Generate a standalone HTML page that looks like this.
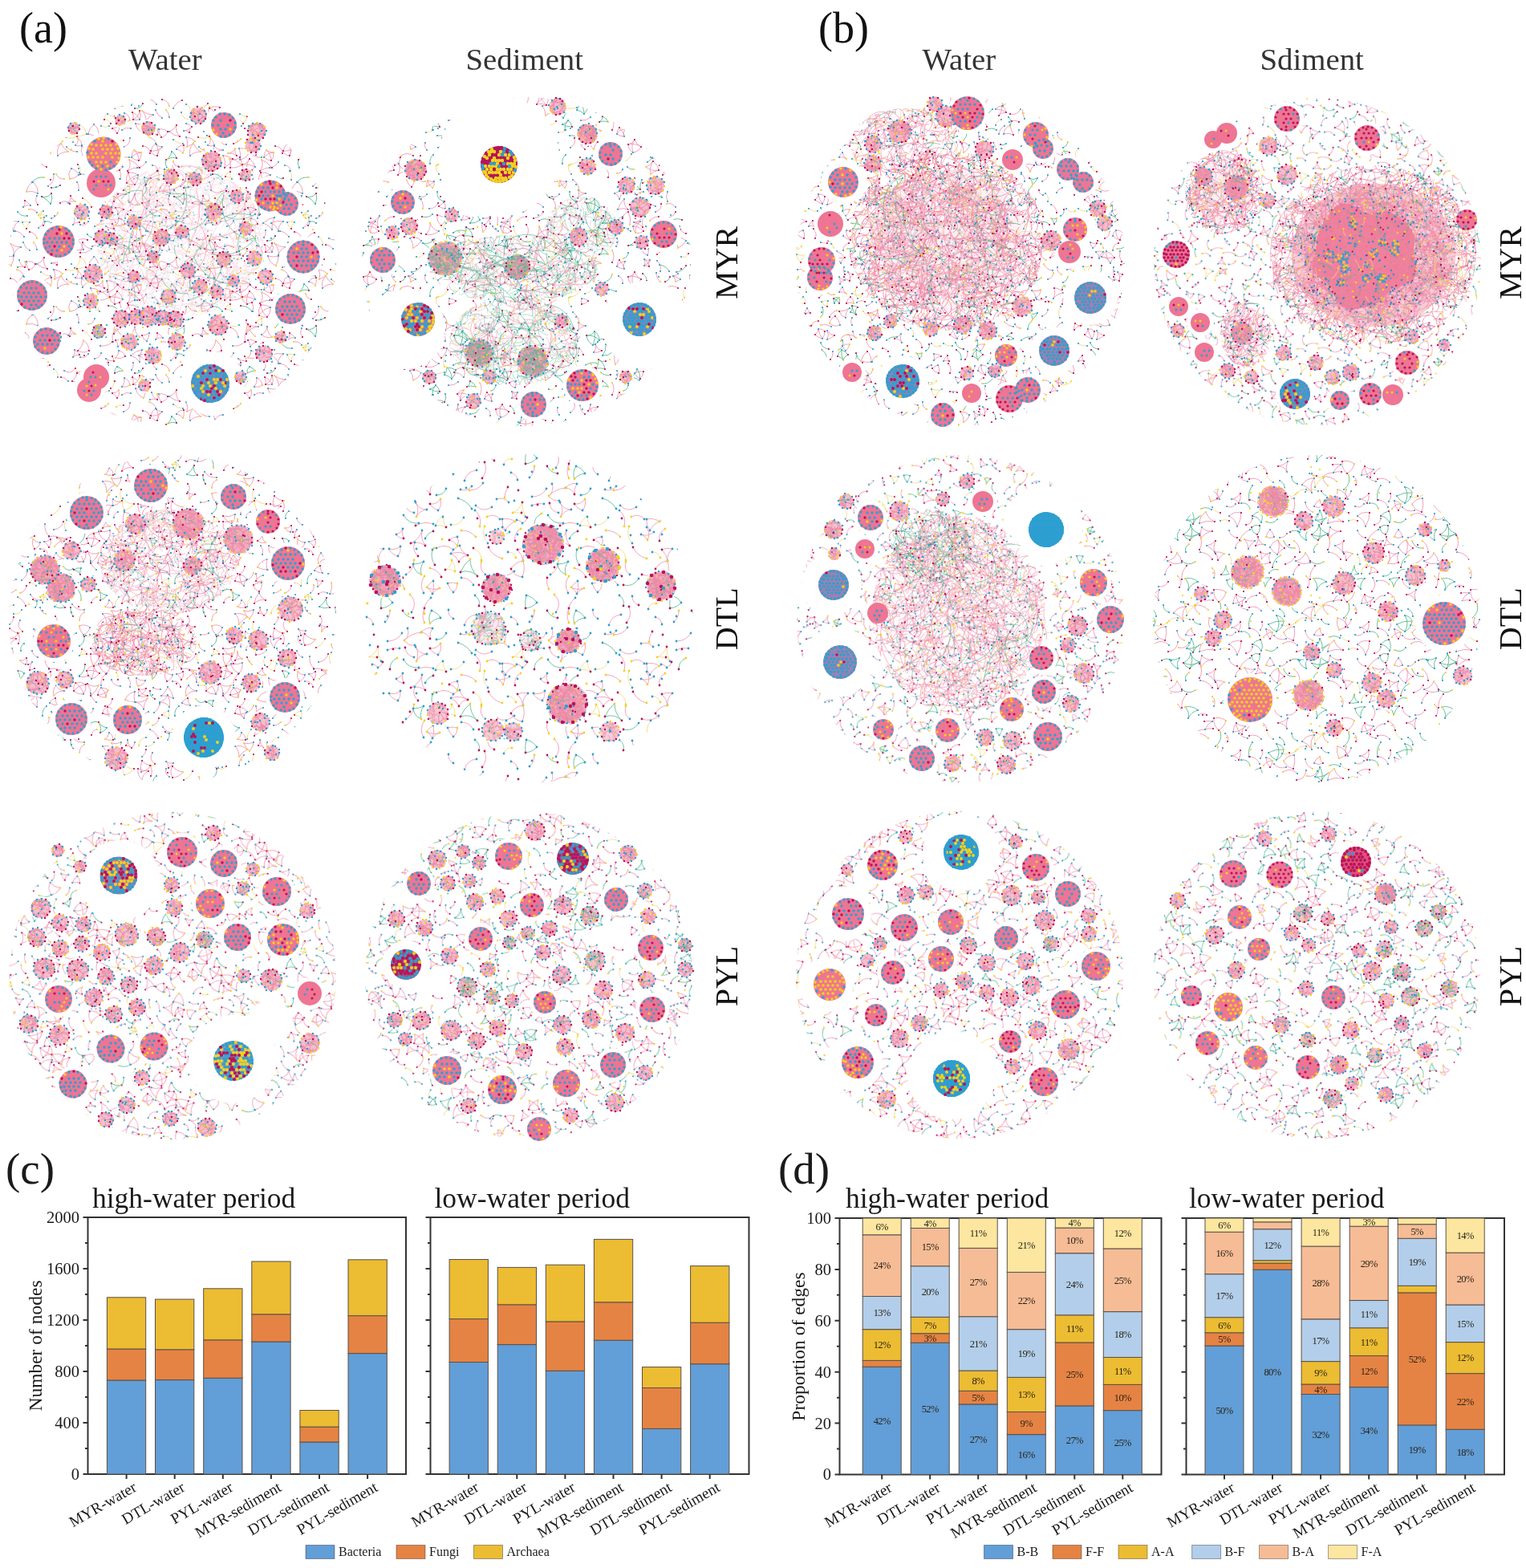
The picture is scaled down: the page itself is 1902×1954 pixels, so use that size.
<!DOCTYPE html>
<html><head><meta charset="utf-8"><title>Network figure</title>
<style>html,body{margin:0;padding:0;background:#fff;}body{width:1902px;height:1954px;overflow:hidden;}svg{display:block;}</style>
</head><body>
<svg width="1902" height="1954" viewBox="0 0 1902 1954">
<rect width="1902" height="1954" fill="#fff"/>
<defs><pattern id="T1" patternUnits="userSpaceOnUse" width="165" height="165"><path d="M-3-14q7 2 13 0m-13 0q2 9 10 12m3-12q0 6-3 12m53-12q4 0 7 4m43-3q6 4 6 13m-6-13q-6 5-7 12m59-13q7 2 13 0m-13 0q2 9 10 12m3-12q0 6-3 12m-155-7q1 6 7 9m0-7q2 3 0 7m2-7q7-1 11 3m2 0q6-2 9-8m-9 8q5 5 13 6m-4-14q-2 8 4 14m5-7q6 0 10-5m-10 5q4-1 7 2m3-7q-3 3-3 7m75 1q-2-4-6-6m8-4q2 6-2 10m2-10q-3 4-8 4m12 2q5-4 11-2m-132 8q-4-2-9 0m14 3q-4-5-3-10m3 10q6-1 8-7m23 7q6 0 11 5m-2 3q3 6 9 10m-9-10q-6 6-4 15m25-22q5 4 5 9m8-6q2 6 7 5m6-12q-6 2-13-1m16 12q6-1 9-6m-124 17q1 6-3 10m3-10q-7 0-12 6m12-6q-5 0-9-3m11-5q9 1 9 9m1-3q1-6 6-9m1 1q-2-7-9-9m16 12q-5 4-6 11m6-11q-6 6-14 5m14-5q-5 0-8-4m26 7q3-5 9-5m-1 10q-2-4-8-5m8 5q2-4 1-10m4 2q2-6-1-12m1 12q6-2 10-7m7 13q-8 0-13 5m22-13q4-3 3-9m-3 9q4 2 8 0m-6 8q-8 0-13-6m19-1q4 5 11 5m-11-5q-2 6 1 11m10-6q-7 0-10 6m25-8q-1 5 2 9m-2-9q-3 6-9 6m14-6q8-1 13 4m-13-4q3 7 1 14m12-10q-4 9-12 10m13-9q5 7 14 6m-7-13q8-2 8-11m14 18q1 6-3 10m3-10q-7 0-12 6m12-6q-5 0-9-3m11-5q9 1 9 9m-188 5q0-5 3-9m6 13q-5 0-9-4m9 4q0-8-6-13m15 15q-4 6-11 7m25-15q-6 0-8-6m8 6q3-8-2-15m92 19q7 3 13-2m-9 2q-3 7-10 11m10-11q-5-4-12-4m17 0q-5-4-11-3m27 7q6 4 7 10m11-12q0-5 3-9m6 13q-5 0-9-4m9 4q0-8-6-13m15 15q-4 6-11 7m-177 4q5-6 2-14m13 10q-8-1-15 4m15-4q-5-7-13-10m36 14q-1-7-7-7m33 2q-6-1-7-7m38 9q7 2 9 8m17-9q2-8-2-15m9 15q1-6-1-11m15 8q-7 4-14 3m14-3q-6-8-15-8m15 8q1-5-2-10m3 9q6-1 9-7m-9 7q8-1 16 3m-10 6q-6-3-6-9m6 9q-2-8 3-16m-3 16q6-1 10-6m6 5q5-6 2-14m13 10q-8-1-15 4m15-4q-5-7-13-10m-154 19q1 7-4 12m4-12q-9 2-14 10m14-10q-6-4-12-3m46 12q7 6 6 14m33-18q-7 0-10-6m17 6q-3-7 2-13m-2 13q6 0 11-5m52 5q2-5-1-11m23 6q1 7-4 12m4-12q-9 2-14 10m14-10q-6-4-12-3m-167 13q-2-7 2-13m8 15q-6 1-10-2m10 2q-7-6-8-15m38 24q1-8 8-12m-8 12q8-2 14 2m13-9q8-5 7-15m31 20q1-6-2-10m14 12q6 0 8-7m24 2q-1 6 5 8m-3-3q6 4 13 3m-13-3q2 10 9 15m-9-15q-3 6-2 12m16-23q-2-7 2-13m8 15q-6 1-10-2m10 2q-7-6-8-15m-157 27q0 8 6 13m-6-13q-1 7-7 10m25-2q0 5-3 10m4-17q-2-6 1-10m8 17q4 2 7 6m50-12q1 5 6 7m28-8q9 3 10 12m12-9q-6 6-3 15m16-19q-10 1-15 9m26-9q0 8 6 13m-6-13q-1 7-7 10m25-2q0 5-3 10m-174-5q-8 2-13-3m16 1q5 0 9-3m-9 3q1 5 6 7m11-2q3-3 2-8m-2 8q4-3 9-2m-2 5q7-1 10 4m1-10q-4-5-1-11m29 9q6-5 12 1m-2-1q4-4 3-9m-3 9q4-3 9-2m10 8q7 5 7 13m29-11q-6 6-15 5m19-7q5-2 10 2m20-6q-8 2-13-3m16 1q5 0 9-3m-9 3q1 5 6 7m-171 11q-4 7-3 15m3-15q-8 1-14 7m66-6q6-1 8-7m21 6q4 2 6 6m-2-5q6-5 7-13m-7 13q7 4 14 0m15 3q-2 6-8 7m29-15q0-5-3-8m3 8q2-4 7-6m-6 11q6 1 8 7m0-7q-1-8 7-10m14 9q-4 7-3 15m3-15q-8 1-14 7m-162 9q1 5-2 9m9-18q7-4 15-2m-14 10q-4-6-11-8m50 6q7-4 7-13m36 9q3-4 2-9m-2 9q3-3 8-3m11-1q-3 6-10 4m32 2q4 3 10 3m-7 2q0-3-3-5m8-3q2 3 2 6m2-4q4-4 4-9m-4 9q7 2 12-2m10 8q1 5-2 9m9-18q7-4 15-2m-14 10q-4-6-11-8m-146 10q-2-7-9-10m9 10q0-8 6-12m7 19q-4-6-11-7m27 9q-2-7-9-8m43 8q8 5 14-3m2 4q6 5 8 13m-8-13q0 7-6 12m19-11q-7-3-13 1m31-11q4-2 8 1m-5 7q1-5-3-8m3 8q4-2 5-7m47-2q-2-7-9-10m9 10q0-8 6-12m-179 27q3 6 0 11m0-11q-1 8-8 11m11-11q6 5 14 5m3-6q2 7 8 10m5-10q4 4 4 9m5-11q4-8 11-10m14 15q5 0 9 5m18-8q3 7 11 8m-10 1q-7 2-14-1m34-3q-4-3-9 0m40-1q6 2 7 9m12-12q3 6 0 11m0-11q-1 8-8 11m11-11q6 5 14 5m-190 6q1-5-1-9m4 14q7 2 13 0m-13 0q2 9 10 12m-5-17q-4 1-8 0m8 0q-2-6-9-9m17 13q1-9-5-15m5 15q2-8 9-10m-9 11q0 6-3 12m41-10q-2 8 4 14m8-16q4 0 7 4m0 0q-3 3-3 7m29-15q3-6 3-13m-3 13q8 1 14-5m3 10q6 4 6 13m-6-13q-6 5-7 12m38-11q2 6-2 10m2-10q-3 4-8 4m12-8q4-5 3-11m-3 11q6 1 10-2m4-1q1-5-1-9m4 14q7 2 13 0m-13 0q2 9 10 12m-5-17q-4 1-8 0m8 0q-2-6-9-9m17 13q1-9-5-15m5 15q2-8 9-10m-9 11q0 6-3 12m-155-7q1 6 7 9m0-7q2 3 0 7m0 0q-4-2-9 0m11-7q7-1 11 3m2 0q6-2 9-8m-9 8q5 5 13 6m5-7q6 0 10-5m-10 5q4-1 7 2m52 3q-6 2-13-1m36-1q-2-4-6-6m12 2q5-4 11-2m-133 20q-2-7-9-9m15 0q-4-5-3-10m3 10q6-1 8-7m23 7q6 0 11 5m16 5q4-3 3-9m-3 9q4 2 8 0m-5-9q5 4 5 9m8-6q2 6 7 5m9-1q6-1 9-6m-67 10q2-6-1-12m1 12q6-2 10-7m76 7q8-2 8-11" stroke="#ef8fab" stroke-width="0.85" fill="none"/><path d="M101-1q-7 4-15 2m15-2q-2-8-8-12m36 2q-5 3-10 0m-75 17q5 5 12 5m30-10q7-5 7-14m-4 15q-7 4-14 1m63 6q4-3 9-2m-55 40q3-6-2-10m-64 19q2-6-2-11m85 7q1-5 6-6m2 9q-4-3-8-3m8 3q-3-4-2-9m39 18q1 4 0 8m0-8q-4 1-7 5m-21 3q-7 4-13-1m41 1q-4 0-7-3m-100 26q-5 4-3 9m3-9q-4 1-6 5m66-10q-3-8-11-11m-52 25q-3-1-3-4m10 1q-4 1-7 3m7-3q-5-3-10-1m-15 17q-4-3-5-8m9 0q-4 3-4 8m4-8q-4-2-9 0m44 28q1-7-5-10m76 15q-1 6-5 9m5-9q-5 0-9-3m-63 7q-9-1-10-9m69 9q0-5 4-7m2 15q-5 3-10 0m12-3q-2-5-8-5m-37 20q7-5 7-14m-4 15q-7 4-14 1m26-4q-7 4-15 2m15-2q-2-8-8-12m-49 19q5 5 12 5m82-2q4-3 9-2" stroke="#f1d77a" stroke-width="0.85" fill="none"/><path d="M42 21q5 3 6 8m-6-8q-1 5-5 9m11-1q-6-2-11 1m-1 11q-3-5-1-10m-27 22q4 2 8 1m-8-1q-1 5 2 9m6-8q-5 2-6 8m23-3q6-7 15-6m45-4q8-1 12 6m23-7q9 0 14 7m31-2q4 2 8 1m-8-1q-1 5 2 9m6-8q-5 2-6 8m-118 4q6 1 11-3m-62 12q7-5 3-12m36 14q7 2 12-4m114 2q7-5 3-12m-118 23q-4-6-11-9m11 9q3-6 1-13m-42 23q4 6 12 5m20 12q2-2 2-5m0 0q5-1 8 2m-51 16q-3 7-10 6m106-8q3 5 9 4m28-4q4 1 7 5m25-3q-3 7-10 6m-25 0q-1-5 3-8m-3 8q5-3 10-3" stroke="#4fb58c" stroke-width="0.85" fill="none"/><path d="M-3-14h0m13 0h0m50 0h0m50 1h0m9 2h0m10 0h0m33-3h0m13 0h0m-158 5h0m9 2h0m13 3h0m18-1h0m25 1h0m19 3h0m2 0h0m42-5h0m11-2h0m-141 8h0m29 6h0m16-3h0m24 6h0m2-8h0m17 6h0m52-3h0m-133 7h0m1 1h0m7 3h0m18 3h0m8-7h0m20 4h0m11-2h0m8 0h0m0 1h0m11 5h0m4-7h0m16 5h0m21-2h0m-155 13h0m50-7h0m23 5h0m24-5h0m7 4h0m10 1h0m33-5h0m15 7h0m3 0h0m-147 6h0m8 4h0m109-7h0m48 3h0m-176 7h0m25 4h0m1 0h0m11-4h0m24 8h0m22-7h0m9 0h0m1 5h0m54-7h0m18 1h0m-164 9h0m8 3h0m18 3h0m7 3h0m1 0h0m55 0h0m2-9h0m14 5h0m12 0h0m25 0h0m1 0h0m22-5h0m8 3h0m-164 10h0m44 1h0m10 1h0m28 4h0m20-5h0m63-1h0m-178 11h0m19 1h0m24 1h0m1-3h0m73-2h0m13 1h0m24 2h0m4-2h0m7 2h0m-172 10h0m25-2h0m17 6h0m25-2h0m22-1h0m47 2h0m29-3h0m25-2h0m-168 10h0m4 4h0m7-6h0m17 7h0m8-2h0m71 3h0m16-5h0m6 6h0m36-7h0m-171 11h0m11 5h0m5 1h0m6-8h0m3 8h0m18-6h0m1 5h0m2-7h0m6 3h0m4-3h0m25 2h0m17 5h0m16-1h0m22-3h0m8 0h0m21-1h0m11 5h0m-190 2h0m3 9h0m7-9h0m1 8h0m39-2h0m16-6h0m27 2h0m9 0h0m18 2h0m14 0h0m31-4h0m3 9h0m7-9h0m1 8h0m-175 10h0m9 1h0m9-9h0m2 0h0m11 7h0m37 0h0m13 2h0m29-5h0m9 4h0m17-6h0m11 2h0m18 4h0m9 1h0m9-9h0m-153 14h0m22-2h0m10 5h0m11 0h0m43 2h0m19 0h0m21-1h0m-146 8h0m17-6h0m11 4h0m9-1h0m39-1h0m19 1h0m10-1h0m38 7h0m22-3h0m17-6h0m-187 11h0m13-1h0m0 1h0m7 5h0m9 2h0m34-7h0m50 1h0m9 2h0m10 0h0m16 5h0m11-2h0m6-6h0m13 0h0m0-1h0m-160 15h0m24-4h0m18-1h0m3 8h0m22-7h0m4 5h0m15-2h0m2 0h0m52 5h0m-132 8h0m21-6h0m12 5h0m28-2h0m3 4h0m8 0h0m8-6h0m7 5h0m37 3h0" stroke="#2f9fcf" stroke-width="2.2" stroke-linecap="round"/><path d="M141-12h0m-134 10h0m17-5h0m148 5h0m-158 5h0m57 5h0m19-4h0m34 4h0m4-3h0m10 4h0m-143 10h0m66-4h0m8-4h0m13 7h0m39-1h0m39 2h0m-156 3h0m52 1h0m22-2h0m34 2h0m57-1h0m-180 9h0m48-1h0m7 3h0m70-3h0m15 8h0m25-7h0m-91 18h0m-15 4h0m25 2h0m7 0h0m-64 10h0m138-1h0m-148 11h0m20-4h0m77 0h0m34 7h0m34-3h0m-169 12h0m85-4h0m59 3h0m21 1h0m-138 6h0m36 4h0m32-6h0m-56 9h0m3 4h0m9 14h0m84-5h0m-98 16h0m84 0h0m23 0h0m-141 6h0m30-1h0m54-4h0m28 9h0m53-4h0m-106 11h0m91 1h0m-131 11h0m117-5h0m-134 10h0m7 5h0m76 1h0m82-6h0m-101 10h0m53 0h0m4-3h0m10 4h0m-77 6h0" stroke="#f2d21c" stroke-width="2.2" stroke-linecap="round"/><path d="M48-12h0m45-1h0m-56 9h0m27 1h0m3-7h0m66 2h0m6 6h0m-115 2h0m5 3h0m23-1h0m23 1h0m14-1h0m27-2h0m31 7h0m-141 7h0m51-1h0m62-2h0m52 3h0m-156 9h0m1-3h0m8 6h0m24 3h0m75-3h0m4 2h0m13-6h0m7 3h0m33-2h0m-179 9h0m34-1h0m55 6h0m28-7h0m12 7h0m9-7h0m27 2h0m-179 13h0m1 2h0m14-6h0m49-1h0m42 9h0m15-8h0m7 0h0m0 5h0m13 2h0m8-2h0m6-2h0m10 1h0m1 2h0m14-6h0m-151 13h0m40 2h0m53-4h0m72 2h0m-195 6h0m10 2h0m14 0h0m47 4h0m11-3h0m67 3h0m12 3h0m4-9h0m10 2h0m14 0h0m-130 15h0m12-4h0m24 3h0m15 3h0m19-4h0m22-4h0m3 3h0m-135 11h0m19-3h0m16 5h0m28-2h0m12 1h0m55-3h0m35 2h0m-63 5h0m26 3h0m4-2h0m10 2h0m5 6h0m4-5h0m-66 10h0m2 5h0m12-5h0m-78 13h0m21-4h0m51-3h0m30 9h0m5-8h0m2 6h0m14-6h0m-143 15h0m24-5h0m25 1h0m32 4h0m33-5h0m51 5h0m-178 11h0m3-5h0m6 3h0m67 2h0m20-5h0m7 2h0m6-3h0m34 1h0m22 5h0m3-5h0m6 3h0m-173 11h0m89-4h0m10 5h0m30-1h0m13-4h0m23 4h0m-111 7h0m19 2h0m26-3h0m38-1h0m2 6h0m-109 8h0m5 3h0m8-7h0m15 6h0m12-5h0m11 6h0m14-1h0m27-2h0m23-2h0m-20 13h0m28-4h0" stroke="#b8125a" stroke-width="2.2" stroke-linecap="round"/></pattern><pattern id="T2" patternUnits="userSpaceOnUse" width="165" height="165"><path d="M57-13q2 5-1 10m-62-6q8 1 12 8m21-7q-4 7-12 8m32-5q5-1 9 2m103-6q8 1 12 8m-164 7q-1 5-6 6m142-1q0-6-5-9m34 4q-1 5-6 6m-124 7q-5 4-4 11m50-18q10 0 12-9m5 21q-9-1-11-9m25 19q3 4 8 3m17-9q7-4 8-12m-37 36q3 6 9 4m4-8q0 9 7 14m-7-14q1 6-4 11m13-9q-3 6-2 12m-151 9q5-3 7-8m26 1q1 9 10 10m20-9q-1 10 9 12m79-15q-7 1-11-3m25 12q5-3 7-8m-159 9q-7-4-13-1m13 1q-1-6-6-9m77 16q6 1 10-5m54 0q-7 4-7 13m37-15q-7-4-13-1m13 1q-1-6-6-9m-80 28q-7-4-8-12m8 12q4-8 2-17m4 13q3-5 8-3m-6 1q-3 5-8 6m8-6q-7-7-16-6m16 6q0-7-6-11m14 16q6 3 8 10m-91 1q6-4 13-1m6-4q8 2 13-3m47 11q5-6 4-14m-4 14q7 1 12-4m-41 19q6 0 11 3m-11-3q6 5 6 14m-6-14q0 5-3 9m11-12q7-5 15-2m1-5q4 4 9 2m-106 13q5 5 12 3m31 2q9 2 14-5m-14 5q6 3 10 9m4-14q1 8-4 14m31-16q0 6-5 11m15-13q4-5 3-11m3 16q5 5 12 3m-7-7q-5-2-11-1m11 1q-1-8-8-12m48 12q5 6 3 14m-3-14q-2 9-11 11m31-8q5 5 12 3m-118 14q4 3 5 8m-5-8q-5 5-4 12m24-20q-4-4-9-5m28 15q4-2 4-7m-4 7q6-2 11 0m-7-7q5 2 7 7m25-2q-1 6-6 7m20-13q-6-5-14-3m-82 14q4-1 7-5m-7 5q5 3 12 3m7 3q2 5-1 10m-62-6q8 1 12 8m21-7q-4 7-12 8m32-5q5-1 9 2m103-6q8 1 12 8m-164 7q-1 5-6 6m87 0q10 0 12-9m43 8q0-6-5-9m34 4q-1 5-6 6" stroke="#4fb58c" stroke-width="0.85" fill="none"/><path d="M-9-14q6 5 4 13m77-12q3-5 8-5m-8 5q7-3 14 2m-14-2q4 3 4 8m4-13q-5 6-4 13m64-11q3 2 7 1m-7-1q5 3 6 9m1-8q-2 4-1 8m10-7q6 5 4 13m-74-10q-7 0-10 6m30-2q0-5 3-8m-3 8q3-6 10-6m-1 9q-5 0-9-3m9 3q-1-6-6-11m6 11q-2-5 1-9m24 5q2-4 0-8m0 8q5-2 7-7m-7 7q3 0 6 1m-156 8q0 7 5 11m22-10q-3 3-6 3m9 4q-3 2-6 3m6-3q-4-3-9-4m37 5q7-4 5-12m7 3q0 7 6 11m4-4q3-4 3-8m9 3q-4 3-5 9m5-9q-7 0-12 5m13 3q5 6 11 7m34-18q2 6 8 9m-8-9q-5 7-2 16m2-16q-2 5-8 6m16 3q-3 6-10 7m10-7q-7-5-16-3m35-5q0 7 5 11m-166 4q-4 8 0 16m0-16q-6 2-9 7m16-1q0 7-7 10m7-10q-8 4-16 1m29-11q0-4-3-7m6 15q-8-5-15 0m32-7q-4-4-2-9m45 8q-6-5-4-12m40 14q1-6-5-9m18 11q-6-3-6-10m39 10q-4 8 0 16m0-16q-6 2-9 7m16-1q0 7-7 10m7-10q-8 4-16 1m32-3q-8-5-15 0m-168 10q3 7 10 9m53-6q5 0 8 3m-8-3q-1 4 0 7m19-16q-1-7 2-13m-2 13q6-5 13-6m48 16q6-2 9-7m-9 7q7 6 16 4m-7-11q6 4 7 11m-7-11q-5 7-3 16m16-13q3 7 10 9m-176 5q4-7 1-14m-1 14q4-4 11-5m14 5q3-5-1-9m48 1q-3 4-8 4m33 7q2-6-3-11m14 6q6 0 7-5m45 1q-6 1-10 5m15 1q4-7 1-14m-1 14q4-4 11-5m-159 20q-5-3-6-9m10-2q0 6-4 11m4-11q-6-1-10 2m14 0q4 4 9 2m2 6q-1-3 1-7m-1 7q5-1 9-6m-8-1q4 2 8 1m-8-1q1 6 6 9m2-8q1 5-2 8m110-7q-7-3-13 1m-134 11q-3 6 0 12m30-9q-3 5-9 3m34-8q-1-8-8-13m16 17q-6 1-10 6m10-6q-6 0-9-4m53 2q1 5-2 9m2-9q-4-1-8 2m26 1q-1-5-7-7m9 8q3-5 8-4m30 0q-3 6 0 12m-166 3q6-2 11 4m34-5q-3 7-11 7m12-3q4-2 6-5m2-5q3-5 1-10m51 11q-1-5-6-7m12 7q-1 8 5 13m-5-13q-6 6-8 13m38-5q5-2 9 1m14-3q6-2 11 4m-190 6q8-2 7-10m18 10q-3 7-12 8m27-12q2-10-7-14m25 22q6 3 12 1m-12-1q-1 8 5 13m3-13q7 1 9 9m-7-17q-4 0-8-3m8 3q1-5-2-8m4 17q-1 8-7 12m27-17q2 6 8 8m-8-8q2 6-2 10m43-13q-6-3-13 0m13 3q4 8 2 16m-2-16q-6 2-7 8m27-3q-4 6-2 14m2-14q-5 7-13 8m27-13q8-2 7-10m18 10q-3 7-12 8m-129 6q3 8 11 10m-11-10q1 8-5 14m54-20q-5 3-10 2m26 4q2 3 5 4m-4-10q5 1 9-2m-7 10q5-4 7-10m0 9q-2-4 0-9m34 5q4-5 11-5m-138 16q1 5-2 10m2-10q-9 1-14 9m21-4q-7-2-8-9m30 6q-7 6-16 4m71-3q-2-6-1-11m1 11q4-3 4-7m15 6q-5-1-7-6m10 0q3-5 9-6m-9 6q8 0 13 6m-10 2q-3-3-3-8m3 8q-1-8 6-14m-6 14q6 2 10-2m-1-5q-4-5-11-6m-134 18q5-8 0-15m13 15q4-6 3-13m4 15q8-3 14 3m-9-4q-6-3-12-1m12 1q-7-6-9-14m59 17q3-6 11-6m1 12q-5-6-12-6m12 6q3-6-1-12m27 4q3 5-1 10m23-7q5-3 11-2m19-3q5-8 0-15m-167 37q6-3 8-9m18 1q0-7-4-12m4 12q7-3 10-9m34 15q7 1 12-4m62-4q-5-2-7-7m7 7q4-4 4-9m-2 14q4-3 8-2m-8 2q2 5 7 6m1-8q1 4-1 8m12-1q6-3 8-9m-173 17q6 5 4 13m77-12q3-5 8-5m-8 5q7-3 14 2m-14-2q4 3 4 8m4-13q-5 6-4 13m10-6q-7 0-10 6m24-7q4-8 0-15m40 11q3 2 7 1m-7-1q5 3 6 9m1-8q-2 4-1 8m10-7q6 5 4 13m-170 2q0 7 5 11m22-10q-3 3-6 3m49-4q0 7 6 11m40-19q0-5 3-8m-3 8q3-6 10-6m-1 9q-5 0-9-3m9 3q-1-6-6-11m6 11q-2-5 1-9m12 13q2 6 8 9m-8-9q-5 7-2 16m2-16q-2 5-8 6m20-14q2-4 0-8m0 8q5-2 7-7m-7 7q3 0 6 1m9 8q0 7 5 11m-146 0q0-4-3-7m9 4q-3 2-6 3m6-3q-4-3-9-4m23 8q-4-4-2-9m16 6q7-4 5-12m17 10q3-4 3-8m4 12q-6-5-4-12m9 3q-4 3-5 9m5-9q-7 0-12 5m43 6q1-6-5-9m28 4q-3 6-10 7m10-7q-7-5-16-3m6 10q-6-3-6-10" stroke="#ef8fab" stroke-width="0.85" fill="none"/><path d="M33-9q5 1 9-3m33 32q-3 6-9 7m58-9q-2 8-10 9m-89 5q-3-7 1-12m20 12q-2 6 3 11m-1-12q9-1 12-9m-2 82q-6 6-2 14m86-10q0 8 7 13m-108 4q7 3 15 0m-26 17q-3 6-9 4m12 10q5 1 9-3" stroke="#f1d77a" stroke-width="0.85" fill="none"/><path d="M72-13h0m37-2h0m-88 11h0m6-4h0m26 6h0m3-1h0m20-2h0m70-2h0m-139 13h0m63 2h0m12-5h0m38 3h0m8-6h0m8 9h0m2-7h0m34 4h0m-171 6h0m65 0h0m28 6h0m0-3h0m49-4h0m23 1h0m-165 10h0m16-2h0m9 0h0m34 2h0m91 5h0m15-5h0m16-2h0m-188 12h0m15 7h0m13-4h0m48 1h0m22 0h0m66 2h0m1-6h0m15 7h0m-176 5h0m21 4h0m4-4h0m39-4h0m33 7h0m33 1h0m35-4h0m-148 15h0m109-3h0m14-2h0m-7 15h0m4-7h0m-113 10h0m26 7h0m3-8h0m5 6h0m12 2h0m64-5h0m-136 6h0m53 3h0m41 1h0m30 3h0m25-5h0m16-2h0m-159 18h0m12-8h0m14 6h0m19-2h0m8 0h0m32 4h0m26 0h0m7-8h0m9 8h0m29-2h0m9 2h0m12-8h0m-186 16h0m16-5h0m13-1h0m30 7h0m12-4h0m19 6h0m23-3h0m2 2h0m30 1h0m20-3h0m-138 6h0m7 5h0m6 1h0m46 1h0m13-8h0m47 3h0m-153 10h0m7-3h0m13 0h0m12 1h0m23 3h0m27 0h0m12-5h0m11 1h0m7 7h0m41-4h0m12 0h0m7-3h0m-70 15h0m32-4h0m15 1h0m2 5h0m-146 5h0m39-1h0m20 7h0m34-6h0m72 0h0m-129 14h0m45-5h0m28 1h0m9-3h0m37 8h0m-125 3h0m32 2h0m3-1h0m20-2h0m6 8h0m46-3h0m10 2h0m-137 10h0m6-6h0m59 6h0m4-4h0m50-2h0m16 3h0m7 2h0m23 1h0m6-6h0" stroke="#b8125a" stroke-width="2.2" stroke-linecap="round"/><path d="M-9-14h0m51 2h0m6-2h0m9 1h0m59 0h0m24-3h0m7 1h0m9 1h0m-162 5h0m1 8h0m11 0h0m27-8h0m14 4h0m59-2h0m9 3h0m25-4h0m19-1h0m1 8h0m11 0h0m-181 2h0m3 5h0m18-1h0m4-5h0m2 2h0m3 7h0m12-5h0m28-3h0m3 5h0m10-6h0m35 5h0m47-4h0m3 5h0m-124 7h0m8 6h0m6-9h0m35 1h0m5 1h0m25 2h0m11 4h0m2-2h0m26 0h0m-167 7h0m81 4h0m9-7h0m6 4h0m24 0h0m39 4h0m4-6h0m2 1h0m-151 7h0m39 0h0m24 3h0m51 4h0m6-3h0m45-4h0m-115 13h0m-26 7h0m20 2h0m8-2h0m4 6h0m69 3h0m13-9h0m-146 13h0m13 2h0m13-1h0m17 4h0m13-3h0m11-2h0m9 4h0m36 0h0m8-2h0m11-4h0m7 7h0m10-3h0m17-2h0m13 2h0m-185 6h0m13 1h0m7 5h0m21-6h0m2 3h0m28 4h0m2-5h0m21 1h0m31 0h0m6 0h0m34-3h0m13 1h0m7 5h0m-155 7h0m23 2h0m20 0h0m25 1h0m2-2h0m23 2h0m47-4h0m25 1h0m-190 6h0m19 4h0m33-1h0m18 2h0m17-4h0m3-1h0m13 0h0m12 8h0m9-2h0m27-1h0m14-5h0m19 4h0m-154 14h0m39-4h0m19-4h0m11 4h0m12-4h0m3 4h0m10 1h0m3 3h0m10 0h0m1-5h0m8-1h0m7 6h0m-93 6h0m8-3h0m10 5h0m53-5h0m3 3h0m-110 9h0m14 3h0m2 3h0m14-5h0m13 4h0m0-3h0m14-3h0m36 1h0m0 5h0m22-2h0m3-5h0m18 0h0m-150 13h0m40 4h0m26-5h0m8 4h0m7-6h0m25 2h0m29 2h0m11 1h0m19-2h0m-143 12h0m17 0h0m7-5h0m16 0h0m59 0h0m20 8h0m4-5h0m-153 7h0m3 5h0m39 0h0m8-3h0m1 0h0m6-2h0m9 1h0m49 6h0m10-6h0m24 5h0m7-7h0m9 1h0m3 5h0m-169 10h0m5-2h0m11 0h0m9 1h0m2 2h0m15 2h0m15-9h0m13 6h0m13-1h0m42-4h0m40 5h0m5-2h0m11 0h0m-178 7h0m18-1h0m9 4h0m14 4h0m14-3h0m15-4h0m25 6h0m20-7h0m5 9h0m45-8h0m-32 10h0" stroke="#2f9fcf" stroke-width="2.2" stroke-linecap="round"/><path d="M80-18h0m6 7h0m14 14h0m-106 13h0m1-4h0m19 0h0m63 0h0m82 4h0m1-4h0m-158 8h0m112 7h0m53-7h0m-142 12h0m21 0h0m2-1h0m79 6h0m15-3h0m-36 8h0m42 1h0m-139 7h0m23 2h0m2 6h0m1-7h0m80 1h0m36 1h0m-110 7h0m18 3h0m76 4h0m-132 13h0m26 6h0m96 1h0m4-7h0m39 0h0m-159 28h0m29-4h0m59 5h0m25-3h0m25-5h0m-91 17h0m3 1h0m15-4h0m8-1h0m22 1h0m25 1h0m-131 11h0m88-2h0m77 2h0m-146 8h0m83 3h0m-20 9h0m15-4h0m19 5h0m-28 6h0m14 14h0m-105 9h0m19 0h0m63 0h0m83 0h0" stroke="#f2d21c" stroke-width="2.2" stroke-linecap="round"/></pattern><pattern id="T3" patternUnits="userSpaceOnUse" width="168" height="168"><path d="M-3 7q4-2 9-1m14-4q5-5 4-12m42 17q4 2 7-1m44-1q-3 4-9 4m36 2q5-2 6-7m15 3q4-2 9-1m-171 7q-4-2-6-6m6 6q3-3 3-7m54 7q0-5-3-8m10 7q8 2 7 10m69-2q-1-3 2-5m7 2q-3-2-7-2m26-2q-4-2-6-6m6 6q3-3 3-7m-148 25q3-2 7-1m117-6q-1-5-5-9m-133 27q3 7-2 12m17-17q-1-3-1-6m1 6q1-5 6-7m0 7q-2-4-7-6m7 6q1-4 0-7m16 10q4 0 7 2m-7-2q0 6 5 11m-5-11q1 5-2 8m9-6q-4 3-2 9m0 0q-4-3-7-3m55 1q5 3 10 0m-10 0q4 3 4 8m-1 2q-5 4-5 10m12-20q-2 5-6 8m-26 17q-4 1-6 4m8 3q-2 2-6 1m6-1q-3-4-8-3m18 5q5-5 13-4m-95 7q2 7 10 8m12 1q8-4 5-12m108 5q1 6-4 8m-124 11q1-8-6-12m20 8q1-5 5-8m8 6q-5 2-6 7m6-7q-3-4-8-6m18 4q1 7 8 12m-8-12q2 7-4 13m77-5q-5-6-13-2m15-6q3 2 7 0m-7 0q3 3 4 7m3-7q1 4-3 7m-95 2q-2-4-7-5m7 5q-3-6-2-13m26 16q-6 3-12 1m6 19q-5 7-13 6m33 4q5 5 2 11m-30 5q7-4 13 0m-64 18q4-2 9-1m14-4q5-5 4-12m42 17q4 2 7-1m44-1q-3 4-9 4m36 2q5-2 6-7m15 3q4-2 9-1m-171 7q-4-2-6-6m6 6q3-3 3-7m54 7q0-5-3-8m114 8q-4-2-6-6m6 6q3-3 3-7" stroke="#4fb58c" stroke-width="0.85" fill="none"/><path d="M78-17q1 6 4 12m-4-12q-7 3-8 11m40-9q3 5-1 9m-70-2q-2 5 1 9m4-3q2 2 6 3m-6-3q4 5 2 11m18-15q1-7 7-10m11 11q-6-3-12-1m50-6q3 7 11 8m26 1q-3-4-8-2m-122 13q-1 6-7 9m7-9q-4-4-11-4m17 0q3 4 7 4m-7-4q2 5 1 9m6-5q-4 1-6 5m12-4q-5-1-7-5m11-3q-4 3-4 8m35 2q6 3 11-2m3-9q-7-3-6-11m10 16q6 3 12 0m14 2q6-1 7-8m10 2q-6-3-5-9m-117 25q1-7-4-13m21 13q1 5 5 8m-5-8q-3 2-4 6m71-7q0-6-5-11m5 11q6-4 7-11m-6 16q6 2 11-1m-11 1q5 4 5 9m6-10q0 7-6 10m23-12q7 0 11 6m-11-6q2 7-1 13m-124-1q5-4 6-10m5 4q3 4 8 2m15-1q-4-3-9-2m14 6q4 3 4 8m14-2q-5-3-10 1m19-1q-2 4-7 5m16-8q0 9 9 10m4-10q6-2 12 1m3-1q7 3 12-3m-1 6q4-3 8 1m14-12q-8 1-12 7m44-1q5-4 6-10m-189 23q1 4 4 6m45-12q1-6 5-8m-5 8q5-2 9 0m-5 6q-6 5-5 12m5-12q-6 4-13 4m59-3q5 3 4 9m7-12q-2-5-7-9m7 9q1-5 5-8m35 5q-1-6 3-11m5 18q2 4 6 4m4-6q1 4 4 6m-174 1q-1-4 2-7m-2 7q3-2 6-1m24 5q2-6 9-8m-2 7q5 5 6 11m-6-11q-6 3-7 9m20-7q-6-2-8-8m16 8q-3 5 0 9m20-15q7 0 12-4m-7 13q-1-5-5-9m5 9q6-5 7-13m2 10q-6-6-14-6m14 6q-3-5-2-10m37 8q6-2 7-8m34 5q-1-4 2-7m-2 7q3-2 6-1m-175 21q-1-4 1-8m-1 8q3-5 8-5m-7-3q3 3 7 3m1-1q2-5 8-5m0 10q5-1 8 3m-8-3q1 7 5 12m-5-12q0 4-4 7m15-5q3 5 9 6m-9-6q3 5 0 11m5-16q-6-4-13-2m24 0q-7 3-13-2m61 4q-6 0-11-6m13 3q2 5 7 5m28 2q-5-1-5-6m29-3q-5 1-7 6m22 3q-1-4 1-8m-1 8q3-5 8-5m-7-3q3 3 7 3m1-1q2-5 8-5m0 10q5-1 8 3m-8-3q1 7 5 12m-5-12q0 4-4 7m-159 5q-5-1-9-5m12-4q0 5-3 9m15-4q-4 4-9 5m30 0q-1-4-4-6m10 4q-4-4-10-4m10 4q-4-3-4-8m19 8q-4-5-10-4m43 5q5-2 8-6m70 6q-5-1-9-5m12-4q0 5-3 9m-145 3q1-8 9-8m-7 14q4-3 9-2m-9 2q1 3 4 6m5-8q-1 5-5 8m34-2q-8-4-8-12m44 4q-3-5-9-5m9 5q-3-5-1-11m26 17q0-7-7-10m-129 20q-1 4 2 7m20-2q4-4 3-10m43 0q5 5 5 13m-5-13q-6 4-8 12m20-6q-5 1-6 7m20-13q-2-4-7-4m17 11q5 0 8-3m39-1q5 0 9 3m8-1q-1 4 2 7m-175 0q1-4 5-7m-5 7q4-2 7 0m32 6q0 7-6 9m14-10q5-1 9 4m-9-4q-1 7 5 12m4-8q-4 3-4 8m11-8q8 0 11 7m4-15q-6 1-13-1m15 10q-1 6-6 8m33-9q0 4 2 6m-2-6q-5 4-5 10m13-12q5 3 5 9m33-11q-6 1-10 6m13-12q1-4 0-8m0 8q3-4 9-5m-4 11q3 5 1 10m-1-10q-4 1-7 4m14-9q1-4 5-7m-5 7q4-2 7 0m-167 15q3-6-2-12m17 18q-1 4-5 6m5-6q-4 1-8-1m28-8q0-5 4-7m-4 7q4 4 9 5m13 5q3-4 8-4m-8 4q7 0 13 4m-5-8q4 3 5 8m21-14q5 0 8-3m-8 3q0 4 3 7m-3 1q-2 7 2 14m8-19q-2 4-7 4m60-4q-6-1-8-6m22 6q3-6-2-12m-156 24q-3-3-3-7m7 12q4-2 9 0m4-1q6 2 10 8m-10-8q-1 8 5 15m3-16q0-7 7-9m19 9q4-5 4-12m-4 12q3-4 9-4m5 2q9 2 13-6m23 7q-2-8-10-8m10 10q2 8 9 11m-4-18q6-1 9 3m3 3q2 5 6 7m-3-12q4 0 5-4m0 10q-1-4-5-6m5 6q-2-5 0-10m5 6q-5 1-10-2m10 2q-4-2-5-6m-127 18q-5-3-9-1m18 2q0-5-4-8m4 8q1-5 5-8m-2 6q2-4 6-7m-6 7q8 3 16 1m-16-1q8 1 11 8m5-7q-4 2-5 7m14-2q-4-6-2-13m31 11q1 6 4 12m-4-12q-7 3-8 11m19-15q-4-3-9-1m30 7q3 5-1 9m2-18q-6-1-10 3m27 1q4-4 3-9m-3 9q4-3 9-2m43 2q-5-3-9-1m-132 13q-2 5 1 9m4-3q2 2 6 3m-6-3q4 5 2 11m18-15q1-7 7-10m11 11q-6-3-12-1m50-6q3 7 11 8m26 1q-3-4-8-2m-122 13q-1 6-7 9m7-9q-4-4-11-4m17 0q3 4 7 4m-7-4q2 5 1 9m6-5q-4 1-6 5m12-4q-5-1-7-5m11-3q-4 3-4 8m35 2q6 3 11-2m3-9q-7-3-6-11m10 16q6 3 12 0m14 2q6-1 7-8m10 2q-6-3-5-9m-117 25q1-7-4-13m88 12q0-6-5-11m5 11q6-4 7-11" stroke="#ef8fab" stroke-width="0.85" fill="none"/><path d="M1-9q5 2 10-1m-10 1q1 6 6 8m4-9q-4 4-4 9m162-8q5 2 10-1m-10 1q1 6 6 8m4-9q-4 4-4 9m-183 24q-2-6 3-11m60 5q-4 7 1 14m26-15q-7 3-7 11m85-4q-2-6 3-11m-144 22q-1 3-1 7m1-7q-4-1-8 1m38-10q4-3 6-8m-6 8q7 4 13 0m0 0q-1 5-6 6m100-2q4 3 2 8m-140 4q-5-1-7-6m52 12q5 7 13 5m65-11q-4 7-1 14m11-19q1-5 5-7m-5 7q4 2 7 1m-33 41q2-6-3-10m-116 22q-6 1-11-3m123 3q2 3 1 7m-1-7q-2 3-5 5m46-5q-7 3-11-3m26 3q-6 1-11-3m-67 16q2 5-1 9m24-15q-2-2-6-2m-94 32q6 2 7 9m60-8q3-7 0-13m68 19q-4 6-12 4m-82 13q1-6 7-7m86 10q-5-4-5-10m13 0q-6 3-8 10m8-10q-6 3-13 0m-147 15q5 2 10-1m-10 1q1 6 6 8m4-9q-4 4-4 9m162-8q5 2 10-1m-10 1q1 6 6 8m4-9q-4 4-4 9" stroke="#f1d77a" stroke-width="0.85" fill="none"/><path d="M71-16h0m7-1h0m11 6h0m21-4h0m-109 6h0m6 8h0m32-7h0m1 5h0m4 1h0m20-4h0m6 0h0m39 0h0m0-4h0m22 6h0m6-4h0m12 3h0m20-4h0m6 8h0m-178 8h0m9-1h0m21 2h0m6-4h0m7 4h0m33-2h0m19 3h0m3-9h0m4 5h0m9 4h0m17-2h0m40 0h0m9-1h0m-179 6h0m8 1h0m31 0h0m3 4h0m30-5h0m14-1h0m1 5h0m62-5h0m19 1h0m8 1h0m-179 10h0m41 0h0m16 2h0m25-3h0m31-1h0m18 8h0m21-5h0m12 5h0m4-6h0m-149 12h0m8-1h0m8 3h0m28-1h0m1-5h0m18 4h0m22-3h0m14-2h0m1 2h0m21-1h0m-139 12h0m18 5h0m1-6h0m34 1h0m1 5h0m20-8h0m25 2h0m0 2h0m20 5h0m13-4h0m16-4h0m10 4h0m6 4h0m4-6h0m-120 12h0m8 0h0m25 3h0m22-5h0m22 0h0m22 2h0m-133 14h0m16-3h0m11-2h0m15 0h0m33 2h0m2-3h0m16 6h0m22-1h0m14-1h0m7-6h0m32 8h0m-157 2h0m26 5h0m6-4h0m9 4h0m15 2h0m31 1h0m5-4h0m9-5h0m6 8h0m-130 9h0m15-1h0m2-5h0m6 1h0m19 1h0m32-3h0m13 1h0m10 2h0m19 3h0m18-4h0m19 5h0m15 0h0m17-6h0m-174 9h0m19 7h0m11-2h0m1-5h0m4 6h0m34-2h0m38 1h0m28 1h0m33-6h0m-179 19h0m22-2h0m79-4h0m16-2h0m39-1h0m0 8h0m12 1h0m-129 6h0m8-1h0m8-2h0m23-2h0m1 0h0m21 2h0m7 6h0m8-2h0m33 1h0m5-3h0m8 0h0m-146 15h0m28-8h0m30 6h0m1 0h0m25-6h0m0 8h0m10-5h0m11 1h0m-102 11h0m10-5h0m15 8h0m18-8h0m4 0h0m31 0h0m13-1h0m10 8h0m14-2h0m16 0h0m-137 12h0m10-7h0m4 8h0m3-2h0m2-6h0m4-1h0m17 0h0m20 4h0m9-3h0m1 6h0m19-4h0m41 3h0m11-2h0m13 0h0m14 4h0m-174 11h0m34-4h0m25-4h0m1 6h0m10-5h0m7-1h0m11 6h0m20 1h0m1-5h0m59 6h0m-162 8h0m32-7h0m1 5h0m4 1h0m20-4h0m6 0h0m25 6h0m14-6h0m22 2h0m6-4h0m12 3h0m26 4h0m-178 8h0m9-1h0m21 2h0m6-4h0m7 4h0m33-2h0m8 5h0m11-2h0m7-4h0m9 4h0m17-2h0m19 4h0m21-4h0m9-1h0m-171 7h0m31 0h0m137 0h0" stroke="#2f9fcf" stroke-width="2.2" stroke-linecap="round"/><path d="M120-12h0m12 11h0m25-2h0m-137 5h0m97 3h0m25-4h0m8 3h0m-130 13h0m125-2h0m-131 5h0m5 4h0m8 2h0m15-1h0m33 2h0m41-7h0m66 0h0m-149 10h0m18 7h0m79-1h0m-100 10h0m33 1h0m18-2h0m22-4h0m-93 13h0m66-2h0m29 7h0m1-2h0m-107 7h0m11 0h0m11-2h0m50-2h0m20 8h0m76-4h0m-123 12h0m20 2h0m-29 6h0m11 4h0m8-8h0m-22 15h0m97 4h0m7 0h0m23-9h0m-121 18h0m22 1h0m20-6h0m-29 15h0m24 1h0m11-4h0m-17 10h0m17 3h0m-60 8h0m17 1h0m52-1h0m24-3h0m12 6h0m3-5h0m5-4h0m3 8h0m6-2h0m6-2h0m-40 6h0m-36 12h0m42 4h0m3-5h0m9 16h0m10 2h0m15-4h0m-137 5h0m97 3h0m33-1h0m-130 13h0" stroke="#f2d21c" stroke-width="2.2" stroke-linecap="round"/><path d="M11-10h0m13 0h0m58 5h0m97-5h0m-163 14h0m23 0h0m1-3h0m6 8h0m4-8h0m7 4h0m9 2h0m45-2h0m-56 12h0m5-4h0m44 3h0m29 2h0m19-1h0m-105 12h0m15-4h0m81-5h0m3 7h0m4-3h0m-142 6h0m18 1h0m7 6h0m9 0h0m23-2h0m18-3h0m25 1h0m9-2h0m5 4h0m4 0h0m17 3h0m2-6h0m6 4h0m7 1h0m18-7h0m-179 19h0m21-8h0m15 6h0m16-7h0m7 2h0m13 7h0m33 0h0m63 0h0m-174 1h0m16 9h0m14-5h0m7-1h0m26-2h0m29 4h0m76-5h0m16 9h0m-184 3h0m7 3h0m116-1h0m45-2h0m7 3h0m-176 5h0m13 6h0m12-4h0m12 5h0m53-3h0m78-4h0m13 6h0m12-4h0m-135 10h0m19 0h0m9 0h0m26-1h0m43 7h0m-134 7h0m9-1h0m34 5h0m14-2h0m19-4h0m7 4h0m24-7h0m1 7h0m17-5h0m-136 10h0m2 7h0m20-2h0m9-4h0m13-2h0m60 3h0m10 1h0m13 2h0m6-1h0m27-3h0m8-1h0m2 7h0m-169 3h0m57 6h0m4-7h0m87 7h0m20-6h0m-166 12h0m16 3h0m9-3h0m19 2h0m39-5h0m11 7h0m41-8h0m19 4h0m14 0h0m-153 6h0m27 0h0m19 9h0m9-4h0m5 2h0m-75 10h0m9 1h0m28 0h0m40-2h0m9 1h0m12 0h0m10-3h0m17 4h0m11-8h0m32 7h0m9 1h0m-169 10h0m13 0h0m24-1h0m1-4h0m104 1h0m26 4h0m-139 11h0m10 0h0m32-6h0m-66 9h0m23 0h0m7 5h0m11-4h0m9 2h0m45-2h0m-51 8h0m44 3h0" stroke="#b8125a" stroke-width="2.2" stroke-linecap="round"/></pattern><pattern id="T4" patternUnits="userSpaceOnUse" width="180" height="180"><path d="M60-20q-3 10 5 16m47-17q3 10-1 20m45-21q0 12-10 18m-150-8q10 2 14 11m87-10q5-9 15-10m-15 10q4 9 14 10m-10-7q-9 8-21 4m96-8q10 2 14 11m-172 8q6-2 12 0m-12 0q2 7 7 11m5-11q0 7-5 11m10-18q10 0 15 9m92-9q-2 7 2 14m-156 5q-6-11 1-21m3 14q3-5 8-8m-8 8q8 4 16 1m-9 7q-2-5-7-8m7 8q3-7 1-16m-1 16q3-5 9-7m60 10q0 8 8 11m75-13q10 10 2 22m15-24q-6-11 1-21m3 14q3-5 8-8m-8 8q8 4 16 1m-9 7q-2-5-7-8m7 8q3-7 1-16m-1 16q3-5 9-7m-199 32q-2-12 8-20m57 21q-12 1-15 13m25-23q4 11-3 20m108-11q-2-12 8-20m-188 31q-4-9 0-18m36 13q-7-4-6-11m78 9q7 2 8 9m15-3q6-5 6-14m43 15q-4-9 0-18m-184 30q6-7 14-5m-14 5q8 1 11 8m3-13q-4 6-3 13m49-5q11 0 17-9m-14 4q-6 7-14 4m59-3q-4 6-4 13m52-11q-6 10-18 10m42-11q-12 1-21 10m21-10q6-7 14-5m-14 5q8 1 11 8m3-13q-4 6-3 13m-167 6q2 8-3 14m73-14q9-3 15 4m50-8q7-6 4-15m41 19q2 8-3 14m-190-8q8 1 13-6m-13 6q3 6 10 8m47-6q9 9 20 2m50-2q7-4 15-2m7-1q1 10 11 12m1-15q-8 1-13-6m14 8q4 9 14 9m-14-9q5 8 1 18m13-9q-9 1-13 9m17-16q8 1 13-6m-13 6q3 6 10 8m-134 0q9 8 6 20m9-12q9-5 16 3m34-2q-1 5-6 7m-111 1q-11-4-22 2m108 2q5 8 1 16m15-23q-8 3-12 11m12-11q-7-5-16-3m23 12q-9 5-7 15m9-22q-2-4-7-4m38 11q-2 6 1 12m37-18q-11-4-22 2m-128 14q3 5 0 11m5-19q11 0 18 8m26-3q9 3 16-3m-16 3q6 2 8 7m3-12q-5-6-4-14m48 19q6-2 8-7m-8 7q3 5 9 5m-123 2q4-4 10-4m-10 4q6 1 10 7m39 2q5 11 17 14m53-15q1 7-3 12m16-16q11-5 14-16m-9 15q-4 10 4 17m9-13q-8-6-18-3m18 3q-6-9-4-19m-144 29q3-7 11-10m-8 5q-10-8-21-2m39 9q-8 1-11 8m11-8q-10-6-21-2m21 2q-8-4-10-12m85 4q-7 6-6 15m6-15q-7-2-13 1m20-1q8 2 14-3m-14 3q3 7 11 9m69-8q-10-8-21-2m-152 17q-3-7-10-10m38 10q-3 10 5 16m47-17q-1-8-7-14m7 14q3 10-1 20m45-21q0 12-10 18m-150-8q10 2 14 11m87-10q5-9 15-10m-15 10q4 9 14 10m-10-7q-9 8-21 4m96-8q10 2 14 11m-172 8q6-2 12 0m-12 0q2 7 7 11m5-11q0 7-5 11m10-18q10 0 15 9m92-9q-2 7 2 14m-156 5q-6-11 1-21m3 14q3-5 8-8m-8 8q8 4 16 1m-9 7q-2-5-7-8m7 8q3-7 1-16m-1 16q3-5 9-7m160 6q-6-11 1-21m3 14q3-5 8-8m-8 8q8 4 16 1m-9 7q-2-5-7-8m7 8q3-7 1-16m-1 16q3-5 9-7" stroke="#ef8fab" stroke-width="0.8" fill="none"/><path d="M155-17q7 0 13-3m-13 3q1 9 10 13m3-16q-5 7-3 16m-131-3q4-10 12-16m9 21q-9-9-21-5m21 5q-9-9-9-21m11 32q12 3 19-8m-19 34q2-8-5-13m77 9q-5 6-14 7m14-7q-4-7-13-9m-118 19q7 2 11 9m-11-9q-5 7-2 16m119-19q-1-8 1-16m62 19q7 2 11 9m-11-9q-5 7-2 16m-167-7q-8 1-13 7m159-7q-9-1-13-9m47 9q-8 1-13 7m-172 20q9 0 12-8m15 12q11 3 17 13m136-17q9 0 12-8m-61 31q-9 4-9 14m17-12q6 11 19 10m-162 10q-7 2-10 9m190-9q-7 2-10 9m-171 14q-3 10 3 19m177-19q-3 10 3 19m-27-1q7 0 13-3m-13 3q1 9 10 13m3-16q-5 7-3 16m-131-3q4-10 12-16m9 21q-9-9-21-5m21 5q-9-9-9-21m11 32q12 3 19-8" stroke="#4fb58c" stroke-width="0.8" fill="none"/><path d="M23-22q5 6 4 14m-12-2q8-4 8-12m-8 12q7-2 12 2m64 6q-8 10-2 22m9 12q-8-1-10 7m23 47q-1 9 4 18m-4-18q-3 9-12 13m16 5q-7-7-16-5m-96 16q2-8 9-11m4 13q-6-4-13-2m13 2q-4-6-4-13m10 10q11 1 16-9m26 11q-4 12 4 21m115-22q2-8 9-11m4 13q-6-4-13-2m13 2q-4-6-4-13m-89 51q-2-7-10-7m-70 10q5 6 4 14m33-14q0-11-10-15m-35 27q8-4 8-12m-8 12q7-2 12 2m64 6q-8 10-2 22" stroke="#f1d77a" stroke-width="0.8" fill="none"/><path d="M112-21h0m43 4h0m13-3h0m-103 16h0m26 2h0m10-6h0m10 7h0m35-3h0m-146 8h0m18 3h0m17-7h0m15 9h0m26-8h0m104 3h0m-192 15h0m37-1h0m143 1h0m-171 6h0m2-5h0m53 2h0m16 1h0m21-3h0m27 2h0m61 3h0m2-5h0m-91 19h0m41-8h0m-131 10h0m21-1h0m35 6h0m43 3h0m26-1h0m30-5h0m25-2h0m-169 9h0m16 1h0m14 8h0m66-1h0m15-3h0m69-5h0m-190 13h0m17 6h0m25-1h0m7-2h0m14-4h0m79 7h0m7-6h0m17 5h0m14-5h0m17 6h0m-192 8h0m30-7h0m89 9h0m61-2h0m-153 4h0m48 1h0m15 4h0m7-2h0m37 4h0m19-4h0m1 2h0m-152 10h0m42-2h0m4 2h0m1-6h0m20 2h0m50-2h0m33 9h0m16-4h0m14 1h0m-174 8h0m26 1h0m45 2h0m3 0h0m18 1h0m11-4h0m28-2h0m49 2h0m-192 9h0m3 2h0m19-1h0m64 3h0m25-5h0m31 7h0m20-7h0m18 1h0m3 2h0m-153 14h0m36-2h0m13-1h0m11-5h0m5 2h0m10 3h0m29 0h0m32-5h0m-176 10h0m78 6h0m89-1h0m13-5h0m-171 14h0m5-2h0m21 2h0m8-5h0m60 8h0m25-4h0m7 0h0m14-3h0m20 3h0m20 1h0m5-2h0m21 2h0m-183 5h0m90 9h0m24-6h0m19 10h0m13-3h0m-103 16h0m26 2h0m10-6h0m10 7h0m35-3h0m-146 8h0m18 3h0m17-7h0m15 9h0m26-8h0m104 3h0m-192 15h0m37-1h0m143 1h0m-169 1h0m90 0h0m90 0h0" stroke="#2f9fcf" stroke-width="2.8" stroke-linecap="round"/><path d="M23-22h0m23-1h0m110 1h0m-160 10h0m64-8h0m116 8h0m-187 10h0m38-6h0m138 4h0m4 2h0m-139 9h0m-38 5h0m16 1h0m136 1h0m28-2h0m16 1h0m-37 8h0m-53 11h0m-109 13h0m137-4h0m23 4h0m20 0h0m-180 11h0m7 1h0m173-1h0m7 1h0m-191 11h0m180 0h0m-120 3h0m99 7h0m-135 4h0m80-2h0m100 2h0m-90 17h0m-32 5h0m68-4h0m24 4h0m-101 12h0m6 0h0m38-6h0m7 9h0m-74 2h0m18 8h0m-42 3h0m76 1h0m104-1h0m-190 11h0m29-3h0m151 3h0m-158 15h0m23-1h0m14 1h0m26-2h0m17-1h0m9 4h0m44-1h0m-160 10h0m64-8h0m116 8h0m-187 10h0m38-6h0m138 4h0m4 2h0m-139 9h0m-38 5h0m16 1h0m136 1h0m28-2h0m16 1h0" stroke="#f2d21c" stroke-width="2.8" stroke-linecap="round"/><path d="M97-11h0m54-2h0m-141 12h0m5-9h0m19 3h0m21 5h0m25-2h0m110 3h0m-133 10h0m85-9h0m-153 38h0m68-3h0m7 1h0m12-2h0m39 4h0m54 0h0m-27 3h0m-81 15h0m94-6h0m-62 17h0m-97 9h0m110-5h0m70 5h0m-180 12h0m115-2h0m19 3h0m15-2h0m31 1h0m-66 11h0m-55 7h0m62-1h0m-139 10h0m38 2h0m110-3h0m32 1h0m38 2h0m-196 5h0m180 0h0m-160 11h0m82 1h0m41-3h0m9 6h0m-102 6h0m19-1h0m36 3h0m65-5h0m-127 12h0m118 1h0m-159 11h0m30-4h0m65 9h0m54-2h0m31-3h0m-172 15h0m5-9h0m19 3h0m21 5h0m25-2h0m110 3h0m-133 10h0m85-9h0" stroke="#b8125a" stroke-width="2.8" stroke-linecap="round"/></pattern><pattern id="T5" patternUnits="userSpaceOnUse" width="160" height="160"><path d="M13-19q2 9-1 17m106-15q9 1 12 9m43-11q2 9-1 17m-184-6q6 7 15 4m-3-8q5-7 13-7m-13 7q3 8 12 10m24 0q-8-3-9-12m11 5q2-6 7-8m4 8q-6 3-11 0m11 0q-4-3-4-8m18 15q3 9 11 12m-11-12q-8 5-8 14m34-21q7 3 11-3m7 11q0 9-5 17m5-17q-9-2-15 4m51-7q-5-5-5-12m8 4q0 5-3 8m3-8q-7 0-11 6m11-6q-3-3-8-4m10 8q6 7 15 4m-3-8q5-7 13-7m-13 7q3 8 12 10m-173 4q10-6 18 2m12 3q9 2 13-6m32 9q-10-2-19 2m104-10q10-6 18 2m-161 8q11-1 12-12m30 17q5 6 13 5m31-6q-2-9-10-13m21 11q7-1 8-8m-3 14q-9 4-13 13m38-13q4 4 5 9m-5-9q-4 4-5 9m-143 1q6 0 9-5m51 2q5 9 0 18m2-14q-2-7 1-14m-1 14q5-8 14-9m31 8q-8-1-10-9m19 11q6 3 13 2m-13-2q5 5 5 12m8-10q-6 4-8 10m12-15q1 8 9 10m-9-10q1 6-3 11m23-11q-5 3-10 0m17 1q6 0 9-5m-181 17q3-7 10-9m8 10q-6 3-9 8m9-8q-6-3-8-10m71 7q7-1 11-6m25 9q0-7 7-9m30 5q-6-2-12 1m18 2q3-7 10-9m8 10q-6 3-9 8m9-8q-6-3-8-10m-161 18q-6-3-9-9m9 9q4-9 1-18m27 15q0-9-7-14m14 15q5 5 6 12m-6-12q-3 8-12 10m41-11q10 1 15 9m3-9q6-1 12 2m-11 0q-4-7-11-10m11 10q-4-8 0-16m3 24q0-6-4-10m4 10q3-5 8-8m28 2q-1 11-11 15m24-14q-3 5-9 5m25-9q-3 6 0 12m0-12q-10 3-13 13m13-13q-6 3-12-1m21 3q-6-3-9-9m9 9q4-9 1-18m-151 30q8-2 12-9m19 7q-9 4-18-2m24 6q-7 8-6 17m38-14q5 5 2 12m57-18q4-7 1-14m12 13q-6 3-13 1m32 1q8-2 12-9m-162 22q1-7 7-12m9 14q7 6 2 14m77-17q3-4 2-8m2 13q6 9-1 17m7-24q-5-1-10 2m10-2q-2-6-8-6m-112 26q-8-3-9-11m28 3q-4 7-12 6m60 0q-5-4-10 0m77-3q-6-7-15-4m41 9q-8-3-9-11m28 3q-4 7-12 6m-171 10q7-1 12-6m66 4q-6 3-9 10m9-10q-5-1-10 0m27-1q-2 8-9 12m9-12q-7-5-15-3m39 10q-5 4-4 10m4-10q-6 7-15 7m15-7q-7 0-11-4m52 0q7-1 12-6m-161 13q-3-7-11-7m11 7q-2-7 1-13m33 21q-6 8-3 18m3-18q-10 0-15 8m18-11q-5 0-9-3m17 4q5-5 13-5m-13 5q10-1 17 6m-17-6q0 7 6 11m17-17q-5-1-10 1m17 1q-7-6-6-15m24 17q0-6 4-11m3 13q4 5 11 6m-7-5q-7-5-7-14m12 9q5-8 13-8m-9 15q9-3 15 4m7-11q-1-9-9-11m34 9q-3-7-11-7m11 7q-2-7 1-13m-98 35q10 2 13 12m-13-12q-2 8 2 15m9-15q-3 7 2 12m10-18q3-6-3-10m-74 27q2 9-1 17m23-24q-5-8-12-10m54 17q6-3 7-9m-4 10q-6 0-11 3m26-3q7-1 11-7m12 8q9 1 12 9m43-11q2 9-1 17m-184-6q6 7 15 4m-3-8q5-7 13-7m-13 7q3 8 12 10m26-7q2-6 7-8m4 8q-6 3-11 0m11 0q-4-3-4-8m44 8q7 3 11-3m4-1q-3-5-9-5m9 5q3-6 2-12m25 10q4-5 2-10m13 13q0 5-3 8m3-8q-7 0-11 6m11-6q-3-3-8-4m10 8q6 7 15 4m-3-8q5-7 13-7m-13 7q3 8 12 10m-173 4q10-6 18 2m12 3q9 2 13-6m-6-3q-8-3-9-12m36 12q3 9 11 12m-11-12q-8 5-8 14m52-13q0 9-5 17m5-17q-9-2-15 4m51-7q-5-5-5-12m21 18q10-6 18 2m-161 8q11-1 12-12m46 10q-10-2-19 2m47 4q-2-9-10-13m21 11q7-1 8-8" stroke="#ef8fab" stroke-width="0.85" fill="none"/><path d="M45-4q5 8 2 17m-2-17q-1 7-6 12m31-13q-6-4-13-1m61 0q-2-8-11-7m24 10q4 7 1 14m-76-8q-6 3-9 10m9-10q-7 6-17 5m82-5q4-5 10-6m-10 6q7 1 11 8m20-4q-5 7-14 3m-130 13q6-4 12 0m10-3q-4 6-2 13m2-13q-5 3-12 2m26-8q2 8 11 11m-8-12q-2-4-8-5m81 9q4-4 10-2m38 8q6-4 12 0m-180 11q3 10 14 9m14-10q-7-3-10-11m17 4q8-4 9-12m-9 12q10 5 20-1m-12 8q-6-2-8-7m8 7q5-10 1-19m-1 19q4-6 12-8m72 1q-7-2-7-9m7 9q4-4 3-11m30 19q3 10 14 9m-136 5q-2-6 4-10m-56 29q1-10 10-15m-3 18q-7-2-11 4m68-14q-9 6-17-1m55 6q0 7 5 10m53-8q1-10 10-15m-3 18q-7-2-11 4m-60 2q5-4 6-11m-6 11q6 1 11-1m8 6q-6 5-5 13m5-13q-7-1-12 2m43-1q6-3 12-2m-10-7q-3 5-10 5m-83 17q2-8-4-14m16 4q-8 2-12 10m12-10q-7-6-16-4m59 13q-6-4-7-11m48 8q-1-6-5-9m5 9q2-7 7-11m-134 34q0 7 7 9m64-11q3 11-6 18m95-16q0 7 7 9m-186 4q7 1 9 7m-9-7q6 10 0 20m10-19q0-6-6-9m156 8q7 1 9 7m-9-7q6 10 0 20m10-19q0-6-6-9m-155 15q-1 9-9 13m9-13q-10-1-19 4m66-6q3 6 9 6m61 5q-2-10 4-18m39 9q-1 9-9 13m9-13q-10-1-19 4m-150 9q-6-2-10-9m89 17q-6-4-13-1m61 0q-2-8-11-7m44 0q-6-2-10-9m-96 18q5 8 2 17m-2-17q-1 7-6 12m17-5q-6 3-9 10m9-10q-7 6-17 5m82-5q4-5 10-6m-10 6q7 1 11 8m-1-14q4 7 1 14m20-4q-5 7-14 3m-91 3q-2-4-8-5" stroke="#4fb58c" stroke-width="0.85" fill="none"/><path d="M71-8q3 6 10 7m0 10q6-3 11 0m3 54q1-7-3-12m5 24q0-9 7-11m-54 51q-8 4-11 12m11-12q-9 1-15-5m104 0q1 8 8 11m-119 9q-7-1-11 4m22-7q1-9-4-17m-37 29q9 3 17-3m28-4q-8-5-16 1m131 6q9 3 17-3m-104 16q3 6 10 7m0 10q6-3 11 0" stroke="#f1d77a" stroke-width="0.85" fill="none"/><path d="M0-12h0m45-5h0m101 5h0m14 0h0m-124 10h0m21-4h0m6 4h0m55-4h0m17 0h0m-136 8h0m30 5h0m27-4h0m103-1h0m-21 8h0m0 19h0m-145 4h0m7 1h0m13 0h0m29 4h0m15-7h0m50 3h0m4-2h0m42 1h0m7 1h0m-146 9h0m13 6h0m147-6h0m-178 9h0m90-2h0m70 2h0m-106 8h0m21 8h0m17-3h0m16-1h0m5 3h0m21-5h0m-137 8h0m35 8h0m44-4h0m81-4h0m-116 11h0m94 7h0m-43 10h0m49-7h0m-103 11h0m11 3h0m17 4h0m73-5h0m-86 10h0m1 1h0m31-3h0m8 7h0m-34 6h0m11-5h0m-66 14h0m15 2h0m2-2h0m50-4h0m11 0h0m41 4h0m41 0h0m15 2h0m-175 12h0m45-5h0m24 2h0m77 3h0m14 0h0m-124 10h0m21-4h0m6 4h0m55-4h0m17 0h0m-136 8h0m30 5h0m27-4h0m103-1h0m-21 8h0" stroke="#f2d21c" stroke-width="2.2" stroke-linecap="round"/><path d="M13-19h0m14 5h0m73 2h0m7-1h0m11-4h0m20 1h0m35-3h0m-185 11h0m15 4h0m35-5h0m7 5h0m25-1h0m1-3h0m18-1h0m41 1h0m18 0h0m15 4h0m-146 8h0m11-4h0m11 8h0m3-7h0m39 8h0m11-6h0m29 3h0m31 1h0m25-3h0m-133 10h0m11-2h0m3 5h0m44-1h0m30-5h0m-128 14h0m14-3h0m2 1h0m10-3h0m25 5h0m37-4h0m26-1h0m25 0h0m5 9h0m16-4h0m16-2h0m-185 7h0m33 3h0m96 1h0m13 5h0m18-9h0m-172 12h0m55 6h0m18 0h0m8-8h0m10 8h0m26-5h0m16 1h0m27 5h0m0-7h0m-151 9h0m23 8h0m77-8h0m16 8h0m6-7h0m4 6h0m34-7h0m-161 9h0m42 1h0m62 2h0m56-3h0m-169 14h0m30 2h0m81-1h0m4 0h0m10 0h0m17 3h0m10-5h0m8 1h0m-89 11h0m20-5h0m16 3h0m12-2h0m10-1h0m5 4h0m16-2h0m-135 11h0m7-2h0m1 4h0m36 0h0m13-4h0m17 8h0m25-5h0m61-1h0m7-2h0m1 4h0m-161 13h0m58 1h0m50-4h0m14-3h0m38 6h0m-169 11h0m15-5h0m22-4h0m3 0h0m3 6h0m49-2h0m10-2h0m7 2h0m35-4h0m16 9h0m15-5h0m-179 13h0m10 1h0m16-5h0m6 1h0m16 3h0m76-7h0m6 5h0m11-4h0m15 0h0m4 6h0m10 1h0m16-5h0m-196 15h0m17 1h0m29-6h0m1-3h0m7 4h0m8-2h0m13 6h0m19-8h0m9 2h0m57 6h0m17 1h0m-167 8h0m22-6h0m14 5h0m53-4h0m15 0h0m5 6h0m7-1h0m11-4h0m13 2h0m7-1h0m13 3h0m22-6h0m-185 11h0m15 4h0m35-5h0m7 5h0m25-1h0m1-3h0m18-1h0m41 1h0m18 0h0m15 4h0m-146 8h0m11-4h0m11 8h0m3-7h0m39 8h0m11-6h0m29 3h0m31 1h0m25-3h0m-122 8h0m47 4h0m30-5h0" stroke="#2f9fcf" stroke-width="2.2" stroke-linecap="round"/><path d="M12-2h0m37-7h0m32 8h0m26 0h0m24-2h0m12-1h0m29 2h0m-80 11h0m29-6h0m-105 9h0m31 1h0m27-3h0m39 4h0m7 3h0m10-2h0m-122 8h0m27 3h0m20 1h0m16-5h0m56 4h0m1 3h0m40-6h0m-161 16h0m36-6h0m32 1h0m27-4h0m3 3h0m62 6h0m-166 4h0m19 5h0m35-3h0m70-5h0m6 8h0m30-5h0m-147 11h0m19 5h0m38-2h0m4-7h0m3 8h0m49-5h0m47 1h0m-188 13h0m16-4h0m17 1h0m20 1h0m64 2h0m40-6h0m3 6h0m16-4h0m-80 13h0m35-3h0m-129 9h0m28 3h0m17-3h0m111-2h0m4 2h0m28 3h0m-146 7h0m29-1h0m2 8h0m3-8h0m9 4h0m37 2h0m20 2h0m-137 2h0m79 7h0m29-7h0m52 0h0m-112 12h0m38-3h0m29 5h0m5-5h0m4 7h0m22-7h0m-49 14h0m-83 14h0m40-6h0m59 3h0m27 0h0m34 3h0m-90 3h0m27 6h0m13-4h0m-105 15h0m37-7h0m32 8h0m26 0h0m24-2h0m12-1h0m29 2h0m-80 11h0m29-6h0m-105 9h0m31 1h0m27-3h0m39 4h0" stroke="#b8125a" stroke-width="2.2" stroke-linecap="round"/></pattern><pattern id="tA1" href="#T1" patternTransform="translate(7 3)"/><pattern id="tA3" href="#T1" patternTransform="rotate(90) translate(40 11)"/><pattern id="tA5" href="#T1" patternTransform="rotate(200) translate(20 70)"/><pattern id="tB5" href="#T1" patternTransform="rotate(290) translate(90 30)"/><pattern id="tA2" href="#T2" patternTransform="translate(3 9)"/><pattern id="tA6" href="#T2" patternTransform="rotate(120) translate(50 20)"/><pattern id="tB6" href="#T2" patternTransform="rotate(240) translate(10 80)"/><pattern id="tB1" href="#T3" patternTransform="translate(5 5)"/><pattern id="tB2" href="#T3" patternTransform="rotate(135) translate(30 60)"/><pattern id="tB3" href="#T3" patternTransform="rotate(250) translate(60 10)"/><pattern id="tA4" href="#T4" patternTransform="translate(0 0)"/><pattern id="tB4" href="#T5" patternTransform="translate(0 0)"/><pattern id="W1" patternUnits="userSpaceOnUse" width="100" height="100"><path d="M52-21q9 12-1 24m19-20q-9 12-1 24m-85-14q10 10 22 2m6 0q-1 9 7 12m3-15q7 8 6 18m19-12q-1 5-6 6m7-5q12 1 16-9m-13 7q-9 1-16 8m19-7q-3 5 1 10m3-14q1 10-8 15m21-18q-7 8-2 17m15-15q10 10 22 2m-106 8q11-2 18-10m-12 9q-1-9 6-17m-2 16q-8-6-17-3m20 8q6-10 16-6m-15 0q-6-1-9 3m11 7q-13 6-22-5m24 6q8 2 10 9m-6-9q9 3 12 11m-12-15q2-7-1-14m5 15q5-11 17-7m-7 7q7 5 7 13m-5-13q-3-13 7-21m-7 14q12 4 15 16m-14-17q-10-1-16-9m23 17q-2-11 6-18m-4 18q-5 11-16 12m22-11q-6 0-12 4m12-8q-8-4-10-13m19 11q-2-6 2-11m5 15q4 2 8-1m-6-3q6 4 8 10m-7-10q0-7 6-10m1 12q8 0 11 7m-9-10q-2 13 9 21m-2-17q-6 3-9 10m11-8q-10-5-19 2m23-8q-8-4-10-13m11 20q-6-3-6-11m9 3q-6 4-5 12m6-6q-4 6-2 12m12-18q-8-6-17-3m23 12q-13 6-22-5m-111 15q13-2 17-15m8 8q13 6 23-5m-10 9q11-4 18 6m-17-7q-7-5-10-13m16 14q1 8-2 14m14-8q-2 4-8 3m13-14q0 6 6 7m-4 0q-14 3-14 16m16-19q0-12 8-20m-5 20q6 0 9 6m-5-8q-12 5-15 19m16-14q10-5 8-16m-7 9q-10-10-3-21m11 22q-7 6-8 14m9-4q-8 7-18 6m22-7q-8 6-9 16m14-19q-1-5 3-8m1 5q-7 8-18 5m20-7q-2 15-17 17m18-11q13-2 17-15m-10 12q-5 1-7 4m13 2q-7 3-6 10m8-16q-1-9-10-10m-88 27q-6 2-6 9m7-8q-9-3-14-11m20 9q-1 12-11 17m15-18q-4-2-9 0m11 3q8 1 14-4m-13 4q-3 12-14 18m20-19q-5 2-4 8m8-10q-5 5-11 5m11-3q7-3 7-11m0 2q-2 7-9 7m11 1q4 5 11 3m-10-9q0 7-4 13m15-9q-11-4-17 7m18-14q-7 3-15 1m17 1q1 14 14 18m-12-12q-2 6-8 6m8-13q2-6-2-11m3 10q-6 0-6 5m9-4q2-6 8-9m-3 16q4 2 8 2m-2-9q-8 2-11 11m21-7q11 7 8 19m0-24q-9 2-11 11m11-1q3 7 10 9m-9-8q0 16-15 19m24-26q-6 1-9-5m12 8q-3 8-11 11m12-9q-4 6 0 12m3-11q-6 2-6 9m7-8q-9-3-14-11m20 9q-1 12-11 17m18-15q-3 12-14 18m-101-14q5 0 8 4m0-7q-9-1-17 3m35-2q11-8 22-1m-17 9q-7 8-17 10m24-10q12 1 21-6m-16 6q-4-3-10-2m24-6q12-4 10-17m-8 21q-9 6-7 17m12-11q-9 4-11 13m12-15q7-5 14-4m-8 0q6 0 7-6m-5 11q-5-12-18-9m22 8q8 6 18 2m-16-2q8 4 16 3m-15-4q0-6-5-9m6 6q10-1 17 6m-16-7q4-8 13-7m-12 8q8-5 4-14m2 13q9-8 9-20m-5 26q-6-11 4-19m1 17q-10 3-12 13m12-12q-5-4-10 0m12-6q5 0 8 4m0-7q-9-1-17 3m-100 14q10-11 22-4m-14 4q4 13 18 12m-13-15q11-10 3-22m-3 26q4-3 9-2m-9 4q-12 1-18 11m25-19q10 8 7 20m-4-13q-10-1-11-11m14 14q-1-9 8-12m-4 8q-10 6-19-1m22-3q-7-11-20-13m22 15q8 2 15-2m-14 9q-4-5-1-11m4 7q-12-1-19 10m21-17q13-1 15-14m-4 24q1-5-4-7m5 7q-8 3-13-5m14-3q-4 13-16 17m21-13q-11 1-17-9m21 14q-1 5 0 10m7-19q7 3 6 11m5-6q-4-3-2-8m8 1q9 9 21 7m-18-1q3-9 12-14m-11 8q-5 2-6 7m7-2q4 3 4 8m-3-5q-5 13 7 22m-4-24q6-3 7-9m-3 8q10-11 22-4m-22 2q4 5 0 10m5-7q-5-2-5-7m8 6q4 13 18 12m-17-8q-10 4-10 15m14-16q-12 1-18 11m-90-4q7-4 15-2m1 5q5 7 2 15m-1-21q2 6 8 6m-4 3q-8 8-18 2m22-11q-7 2-9 8m9-1q8-11 21-10m-21 6q10 5 16-4m-4 3q-12 6-20-5m22 3q-3-8 5-12m-3 14q9-8 22-7m-21 13q13 2 16-11m-12 8q-6-2-6-8m7 11q-4 10-1 19m8-26q2-6-4-9m7 14q1 5-3 8m4-13q13 3 16 16m-15-12q12-7 6-21m0 24q3-6 10-4m-7-4q9-4 12-14m-11 22q7 3 12-4m-6 4q3-7 10-6m-8 5q6 3 9-2m-6-1q-7 1-15-2m17 6q5-13 17-17m-11 18q-1 9-7 14m19-20q7-4 15-2m6 8q-8 8-18 2m-104 3q8 3 12 10m-7-5q-1 6 4 8m0-13q-3-6-2-12m3 20q-5-10 5-16m-3 10q-4-4-2-10m4 17q6-3 11 3m-4-3q-1-7-5-11m5 8q7 3 14-2m-9-5q5-1 9-5m-2 12q-2-9 3-15m-2 10q0-8 7-12m7 11q5-6 13-5m-11 8q-9-1-13 7m16-6q-5 4-12 1m13 2q8-6 16-2m-15-7q-5-13 4-22m-2 23q2 14-9 22m10-16q9 12-1 24m4-28q-6-2-9-7m23 6q-4-3-4-9m5 18q-9 12-1 24m5-28q5-12 18-14m-14 7q9 4 8 14m6-9q4 7-3 12m5-15q8 3 12 10m-7-5q-1 6 4 8m0-13q-3-6-2-12m3 20q-5-10 5-16m-125 27q10 10 22 2m6 0q-1 9 7 12m-1-22q-5-6-12-4m16 11q7 8 6 18m-6-24q8-12 21-6m-20 12q-1-5 3-8m5 6q-6 2-13 0m16 0q10-12-1-24m10 21q0-12-10-17m21 18q5-4 11 0m-10-3q-10-5-15-15m18 15q-7 0-13-3m13 12q1 10-8 15m9-21q-3 8-11 11m23-8q-7 8-2 17m10-15q6-3 7-9m-2 9q10 10 22 2m-11-5q-2 6-8 9m-87 4q11-2 18-10m-14 7q11-4 14-14m-12 16q-1-9 6-17m-2 16q-8-6-17-3m20 0q-3-3-2-8m2 16q6-10 16-6m-15 0q-6-1-9 3m16-6q-8-12 1-22m0 32q2-7-1-14m18 7q-10-1-16-9m24 7q-1 5-6 6m7-5q12 1 16-9m-13 7q-9 1-16 8m19-7q-3 5 1 10m-1-3q-8-4-10-13m19 11q-2-6 2-11m-1 7q8-7 19-6m-10 10q0-7 6-10m16 9q-8-4-10-13m25 12q-8-6-17-3m-67 10q5-11 17-7m-5 7q-3-13 7-21m1 21q-2-11 6-18m-3 26q0-12 8-20m1 16q-10-10-3-21m41 18q-6-3-6-11" stroke="#ec86a2" stroke-width="0.8" fill="none"/><path d="M19-9q-4 9 4 14m42 10q-10-11-22-3m25 7q4 6 11 4m-7-10q-2 11 8 16m-37-2q-9 9-5 22m17-15q6 6 6 15m-44-9q-11-2-21 4m84 3q6 3 5 8m32-15q-11-2-21 4m-59 24q-10-4-16-13m72 15q-4 3-8 0m-86 12q13-2 24 3m49-5q-11-4-21 0m48 2q13-2 24 3m-104 6q-4 9 4 14" stroke="#4fb58c" stroke-width="0.8" fill="none"/><path d="M44 5q-4 10 5 14m5-11q-3-6-10-6m-17 21q6 4 9 10m9-11q-5-7-15-9m-11 17q5 9 3 20m9-24q-7 1-13-3m75 12q-10 5-6 16m-89-15q6 1 13-1m65 10q-4-3-8-3m30-6q6 1 13-1m-104 26q-3-6-10-10m110 10q-3-6-10-10m-86 25q3-6-2-10m-13 25q2 5 8 5m92-5q2 5 8 5" stroke="#f1d77a" stroke-width="0.8" fill="none"/><path d="M14 0h0m12 8h0m10 0h0m2-7h0m10 7h0m32-3h0m19-4h0m-91 12h0m37-1h0m21 1h0m-35 13h0m3 1h0m17-3h0m20-2h0m4 7h0m-64 3h0m45 5h0m3-5h0m24 2h0m-73 14h0m32-3h0m35 3h0m2-4h0m-59 10h0m51 1h0m12 1h0m-42 9h0m1 3h0m18 0h0m-54 8h0m49-1h0m37 2h0m1-7h0m-78 10h0m28 7h0m-22 10h0m-7 3h0m12 8h0" stroke="#2f9fcf" stroke-width="2.3" stroke-linecap="round"/><path d="M48-1h0m-26 8h0m17-7h0m31 7h0m21 1h0m-44 11h0m20 4h0m29 0h0m-96 11h0m100 0h0m-69 14h0m6-3h0m-11 14h0m34-9h0m-65 13h0m37-1h0m4 0h0m28 6h0m31-5h0m-96 16h0m29-4h0m16 2h0m7-4h0m48 6h0m-91 4h0m51 5h0m-11 11h0m-26 8h0m17-7h0" stroke="#b8125a" stroke-width="2.3" stroke-linecap="round"/><path d="M46 8h0m10 6h0m-2 11h0m-34 9h0m-17 16h0m10 5h0m-17 36h0m100 0h0m-50 17h0" stroke="#f2d21c" stroke-width="2.3" stroke-linecap="round"/></pattern><pattern id="W2" patternUnits="userSpaceOnUse" width="100" height="100"><path d="M15-15q11 7 6 19m10-18q5 11 17 15m-44-6q-2 9 4 17m25-19q-11-1-17 7m24-9q-11 9-6 22m10-16q5 12 19 10m-70 2q12 6 24 2m-6-11q-7 8 0 15m0-12q4 6 1 12m0-12q10-5 8-17m-7 22q7 3 9 10m-6-8q-8-3-14 2m28-10q4 7 11 9m-3-7q5 3 7 9m-4-9q-9 3-13-5m25 10q-17 3-16 20m26-24q1-15 16-17m-15 15q7 11 19 15m-12-13q-5-15-20-13m20 13q-2 12 7 21m-4-22q2-12 14-17m-5 17q8-4 9-12m1 17q12 6 24 2m-121 3q4 3 8 0m-7 8q2 6 9 7m-1-13q0-7 6-8m-1 5q9-7 4-17m5 23q-5 10 1 20m21-25q3 5 9 4m9 2q1-15 16-19m-15 11q2 7 9 10m-6-6q-5 10-16 16m30-20q-7-14 5-24m14 26q4 3 8 0m-7 8q2 6 9 7m-104 3q3 12 15 18m-5-23q12 7 22-3m-20 10q12-7 10-21m-6 15q-5-3-10 1m21 6q-4 12 4 20m1-29q2 5-2 9m8-8q5 6 2 14m-2-7q0-11 10-14m-7 7q5 1 9-2m-3 5q-12 4-22-3m34 0q0 15-14 21m18-21q-8-9-3-20m19 23q-6-4-11 1m18 1q10 6 7 16m-5-13q7 3 7 11m3-20q-9 3-10 11m-91 7q1-10-8-15m14 12q7-11 20-11m-17 17q-2 7 5 11m-2-15q-7 7-18 8m25-10q-12 0-22 7m26-1q-12-2-14-14m21 6q-6 4-5 11m16-3q0 5 4 8m7-15q3-5 8-6m2 8q12 3 17-8m-12 10q-5 6-13 4m14-12q6 4 13 1m-6 0q4 10-4 18m21-14q-9-9-1-19m3 24q-8 3-11 11m17-13q1-10-8-15m20 14q-7 7-18 8m25-10q-12 0-22 7m-90 10q-6 1-11-1m19-6q-5 5-6 11m9-14q-5-4-4-9m4 10q-6-14 5-25m2 32q7 7 1 17m4-21q3-15 18-17m-12 13q6 11-4 18m29-10q2 8 10 7m13-9q-3-15-18-17m24 19q7-11 5-23m4 25q-4 5-10 6m18-6q-6 1-11-1m-117 13q12 2 24-3m-3 4q-3 7 3 11m0-12q7-9 17-3m-16-6q9-4 8-13m-5 13q-4 4-4 9m5-8q-3 14-18 15m28-10q0 9-7 16m14-14q-2 13-13 21m25-24q12-8 24-1m-21 1q1 6 6 9m0-5q4 8 3 18m3-18q13 7 22-4m-20-3q2 10 9 18m3-19q1 5 6 8m7 0q12 2 24-3m-11-4q-10-3-17 6m25 2q-3 7 3 11m5-20q-3 14-18 15m-90-3q4-14 19-14m-18 15q8 6 8 15m-4-15q2 15 17 20m-11-18q10 9 23 11m-14-6q-1 5-4 9m8-10q8-7 4-17m-1 12q-14-3-15-17m20 19q-14-5-14-20m25 18q-5-8-14-6m25 4q4 8 13 11m-12-12q-9-2-10-12m16 17q-2 11-13 12m19-11q7 6 3 15m0-13q5 12 18 13m-12-22q-3 8 0 16m12-7q-1-12-11-19m12 13q-13 4-22-5m24 10q-7 8-8 18m17-24q4-14 19-14m-133 34q11-7 21 2m-10-3q6 0 12 4m-4-2q-2 9 4 17m7-27q11 7 6 19m-5-15q10 0 18 7m-3-10q5 11 17 15m-15-8q-11-1-17 7m24-9q-11 9-6 22m13-29q0-13 13-16m-9 18q1-8 9-10m6 17q14 4 22-8m-20 0q-4-13-19-17m24 20q-1-7-8-9m20 15q11-7 21 2m-19-6q-4-15 7-25m2 28q6 0 12 4m-96 6q10-5 8-17m21 18q-9 3-13-5m16-2q5 12 19 10m0-2q1-15 16-17m-8 17q-5-15-20-13m23 12q2-12 14-17m-8 9q-2-9 6-13m-3 21q8-4 9-12m-82 21q9-7 4-17m63 16q-7-14 5-24" stroke="#4fb58c" stroke-width="0.75" fill="none"/><path d="M39-13q3 12-2 23m28-30q5 12 0 25m-76-6q5 13 19 18m4-21q-16-2-22 13m29-18q0 11-7 18m46-10q-9 7-21 4m52-4q5 13 19 18m4-21q-16-2-22 13m-98-6q6 4 8 10m1-8q-3-13-16-13m19 18q-4 13 7 19m17-22q-8 2-11 8m33-7q12 7 24 2m-21-1q-10-7-6-19m17 14q-8 9-9 21m22-25q1-12-8-19m10 23q5-10 16-6m-12 12q-5-2-10 0m19-7q6 4 8 10m-8-11q1 8-3 14m12-11q-3-13-16-13m19 18q-4 13 7 19m-119-12q6-8 15-6m-10 4q1-11 12-13m-8 15q-6 8-16 5m16-3q1-6 6-9m4 9q-5-3-6-9m31 9q-5 1-9-2m11-5q-11-6-20 3m23 0q-5 10 1 20m17-16q-7 2-10 8m37-15q-12-10-24 0m27 11q3 15-11 23m14-29q6-8 15-6m-10 4q1-11 12-13m-9 15q-11 2-15 12m16-12q-6 8-16 5m-77 12q11-8 22 0m-21-4q9-6 11-16m-11 21q-8 7-17 1m63-9q9-1 15 5m-15-5q-1 9 8 12m-3-6q12 3 11 15m-6-22q-5-2-8 3m8-1q15 2 19 17m-10-12q11 5 19-3m16 5q-8 7-17 1m-105 6q10 3 14-6m-6 0q11-6 22 1m-19 5q6-6 8-14m-1 11q7-5 7-14m-6 19q6-10-1-20m19 19q-6 1-7 7m9-6q8-7 19-4m-14-3q2 11-6 18m18-15q-16-1-18-18m38 16q9 1 12 9m-7-4q7 4 7 12m4-14q11-10 2-21m6 22q10 3 14-6m-13 10q9-7 5-18m-1 9q-12-7-24 0m27-1q11-6 22 1m-19 5q6-6 8-14m-105 29q3 7 2 14m5-15q-5 0-10-2m19-3q-8-5-16 1m50 6q-3 3-3 8m10-8q-5 10-3 20m13-24q-6-13-21-15m23 10q-12 2-15 15m34-11q6 7 5 16m-2-13q4 11-2 22m18-22q-5 0-10-2m-108 15q10 5 10 15m3-20q6-11 18-10m3 8q-1-4-5-7m31 13q1-13-8-22m27 22q-10 7-14 18m33-22q-7 3-10-3m10 1q5 13 0 25m2-18q10 5 10 15m-109-9q-2-15 11-22m1 24q-4-2-5-6m22 8q-1-12 8-20m-7 24q-5 6-1 13m11-18q-1-6-5-10m11 6q-2 4-1 8m4-4q2 12-7 21m9-20q5 0 9 3m8-5q4 4 3 10m0-6q-7-6-5-15m7 17q7 10 18 7m-17-10q5 12 0 25m3-24q3-4 2-8m5-1q9 8 21 5m-5-2q-2-15 11-22m-8 24q-14 1-23-10m28 15q-4 2-10 1m10-1q-7 8-18 7m22-12q-4-2-5-6m-103 17q8-1 11-8m-6 13q9 2 17-1m2-1q0 11-7 18m23-20q10-2 14-12m-12 13q9-8 21-5m-20 6q-11-4-18 5m19-9q3 12-2 23m47-23q-13 4-20-8m22 5q7 1 9-6m-7 12q4 5 9 1m-6-4q-5-8-4-17m5 18q-13-2-14-16m17 16q8-1 11-8m-117 19q5 13 19 18m-7-12q-3-13-16-13m27 4q-16-2-22 13m55-13q-7-7-3-16m16 19q-9 7-21 4m40-3q1-12-8-19m10 23q5-10 16-6m-6 1q5 13 19 18m-7-12q-3-13-16-13m27 4q-16-2-22 13m-37 0q-10-7-6-19" stroke="#ef8fab" stroke-width="0.75" fill="none"/><path d="M53 3q-12-9-24-1m45-1q-2-14 9-22m-4 25q-6-4-9-11m14 10q0 13 8 24m2-16q-7 6-6 15m-60-8q6-6 6-15m7 32q6 14-7 22m38-27q-11-1-11-12m-62 36q7-8 5-18m14 14q4-12 17-13m6 22q-12-3-12-15m39 13q-7 10 1 19m20-21q7-4 9-12m1 11q7-8 5-18m-122 25q13-5 25 3m75-3q13-5 25 3m-15 3q-2 5-8 5m-101 9q6-10 17-11m9 3q9-12 0-25m74 33q6-10 17-11m-2 12q-6 2-11-1m-34 22q-12-9-24-1m45-1q-2-14 9-22m-4 25q-6-4-9-11" stroke="#f1d77a" stroke-width="0.75" fill="none"/><path d="M15-15h0m-11 10h0m8 1h0m100 0h0m-84 11h0m10-3h0m26 0h0m0-1h0m7 2h0m3-4h0m0 3h0m5 0h0m-87 13h0m24-7h0m25 4h0m19-2h0m17 0h0m15 5h0m-95 5h0m100 0h0m-95 10h0m27 3h0m0 4h0m-31 3h0m1 2h0m7 0h0m34 3h0m21-5h0m27 4h0m10-4h0m1 2h0m-82 7h0m-10 11h0m17 0h0m45 6h0m23-1h0m15-5h0m-103 13h0m5-2h0m22 5h0m11-2h0m3-6h0m21 9h0m22-4h0m-105 6h0m32 4h0m32-1h0m21-3h0m15 0h0m-79 14h0m8 1h0m75-6h0m25 6h0m-38 5h0m0 3h0m5 0h0m-2 8h0" stroke="#2f9fcf" stroke-width="2.3" stroke-linecap="round"/><path d="M65-20h0m-72 29h0m100 0h0m-55 3h0m25 4h0m-4 4h0m41 6h0m-86 8h0m15 18h0m54 2h0m6 1h0m-107 6h0m24 0h0m76 0h0m-83 10h0m61 7h0m39-7h0m-35 12h0m1-3h0m22 1h0m-87 12h0m37-3h0" stroke="#b8125a" stroke-width="2.3" stroke-linecap="round"/><path d="M39-13h0m-50 12h0m100 0h0m-26 6h0m16-1h0m-82 11h0m8 1h0m92-1h0m-54 12h0m-35 20h0m27 42h0m4-2h0m52 0h0m8-5h0m-110 17h0m100 0h0m-26 6h0m16-1h0" stroke="#f2d21c" stroke-width="2.3" stroke-linecap="round"/></pattern><pattern id="K1" patternUnits="userSpaceOnUse" width="50" height="50"><path d="M-10-3q6 5 12 0m-6 0q4 8 13 8m-13-6q7 4 13-2m-9-7q3 7 11 11m-8-7q-2 5-7 7m11-10q0 7-6 11m16-9q9 2 8 11m-7-6q-2 4-6 4m6-5q4 3 1 8m3-9q-7 1-9 7m12-4q2 9 11 8m4-10q6 5 12 0m-12-5q0 7-5 12m10-7q-7-1-9 5m10-5q4 8 13 8m-13-6q7 4 13-2m-13-5q2 5 1 11m1-4q-1 6-6 10m11-15q-2 5-7 7m-56 8q8-1 13 5m-8-6q8 3 12-5m-6 8q-4-1-5-6m7-3q-5 2-7 7m9 1q-3 3 0 7m1-17q0 6 5 9m-4-2q7 3 12-2m-11-1q4-4 9-2m-8-1q-3-3-3-7m3 9q2 5 6 4m-5-3q4 4 3 10m0-12q2-4 0-8m1 12q0-6 5-7m-4 5q-10-3-9-13m11 17q-3 1-3 5m6-10q-3 4-8 4m9-3q-6 5-13 2m17 2q-5-6-12-1m12-5q4 7 12 8m-12-7q3 3 3 8m-2-3q7-3 5-10m-5 11q-6 0-11 4m11-9q9 2 11 10m-10-8q-3 2-6 1m6 4q7-2 13 0m-12-8q-1 5-6 5m6-5q-3 4-8 2m9-2q-3 5-8 3m9 3q-3 6-10 7m11-15q5 4 10 0m-10 3q8-6 16-1m-11 7q-3 8 4 12m-3-18q-2 8 6 12m-5-7q-8-5-14 1m16-4q0 4 5 4m-5-1q8-1 13 5m-12-5q-9 1-13-6m16 4q-2 5-6 8m7-7q8 3 12-5m-12 8q-3-2-7-1m11-10q-5-7 1-14m1 25q-4-1-5-6m7-3q-5 2-7 7m-56 11q8-1 13 6m-12-3q7-2 10 5m-9-12q6 4 13 2m-6 3q6 8 1 15m0-16q3-8 10-11m-10 10q3-7 11-9m-7 6q-2-8-10-8m17 4q6 7 14 5m-11 1q0-4 4-6m-4 0q-1-4-4-5m5 11q0 4-2 7m2-3q-8 3-16 0m17-10q1-4 0-8m0 13q2 4 1 8m0-7q0 5-3 9m5-8q7-3 5-10m-3 7q-5-5-12-3m17 1q5-3 11-1m-10 10q2-4 1-8m-1 2q4 0 6-3m-5 9q-3-7-10-10m12 2q-1 5-5 7m5-4q-6-2-11-1m12 4q4-6 11-6m-10-3q-2 5-8 5m8-2q2 5 7 4m-7-1q-6-6-7-14m10 8q-4-3-9-3m11 14q-7 4-7 12m7-18q-4-6-10-6m11 6q-5 0-8 4m9-2q-4 0-8-3m8 1q-10 3-8 14m9-11q8-1 13 6m-12-3q7-2 10 5m-10-11q-4-4-3-9m4 8q6 4 13 2m-12-5q2 7 0 14m1-9q-4 3-8 1m13-1q-3 7-10 10m10-7q6 8 1 15m-1-20q-4 3-5 7m10-7q-2-8-10-8m21 14q-8 3-16 0m-55 7q3-3 7-1m-4 4q9 3 10 12m-9-17q0-7 6-10m-3 14q-3-4-1-8m4 3q3 0 6 2m-5 4q-2-6-8-4m8 5q-3-5-8-4m9 4q-4-1-7-4m8 4q4 1 6 5m-5-10q5-3 8 2m-8-2q5-6 0-12m4 11q-2 4-1 8m5-1q6 2 5 9m-5-19q3 7 11 6m-11-6q-1 9 6 13m-2-4q-5-4-1-9m2 7q-10 4-8 14m9-19q6 3 11-2m-10 10q3 4 7 2m-6-6q2 5-1 9m1-13q-5 1-6 6m7-5q-7 5-4 14m4-6q-6 3-10-3m11-5q4-5 11-5m-9 5q-3-4-8-3m11 0q-7 1-8 8m9-1q4-6 11-4m-10-2q-5 1-9 4m11 4q0 6 5 8m-2-11q4 5 3 11m-3-12q5-6 1-13m0 19q5 7 1 15m1-20q-7 3-5 11m8-12q3-3 7-1m-6-3q-3 6-10 8m11-5q-6-3-12 1m13 3q9 3 10 12m-9-17q0-7 6-10m-3 14q-3-4-1-8m5 9q-2-6-8-4m8 5q-3-5-8-4m9 4q-4-1-7-4m-59 18q6 5 12 0m-11-11q5-7 14-8m-12 11q8 0 10 8m-7 0q4 8 13 8m-13-16q7-3 8-10m-4 11q3 7 11 11m-8-7q-2 5-7 7m8-14q8 3 8 11m-6-7q4-1 5 4m-4-5q-5 0-8-5m8 9q2-3 6-2m-6-1q0 7-6 11m7-16q0 4 2 6m-1-3q-7-3-12 2m16 2q2 6 9 7m-7-5q4-1 5-5m-3 5q9-1 11-9m-11 7q9 2 8 11m-8-16q8 4 14-4m-13 13q4 3 1 8m0-16q1-3 5-5m-3 7q-4-4-10-4m11 9q-7 1-9 7m10-7q-4-6-11-4m11 1q-1-4 2-6m-1-1q-7 0-12 4m14-3q5-2 9 3m-8 0q3 7 10 5m-6-3q-2 3-5 4m11 0q3-4 7-6m-7 2q-6-6-14-3m15-3q-4-3-4-8m5 14q-2 3-5 3m5-3q-2-5-8-5m9 10q6 5 12 0m-12-5q0 7-5 12m5-11q-3-5-1-10m2 3q5-7 14-8m-14 9q-2-7 1-15m1 17q8 0 10 8m-10-9q-6-7-1-15m3 24q-7-1-9 5m10-5q4 8 13 8m-13-16q7-3 8-10m-8 13q2 5 1 11m1-10q-5-3-10-3m15 4q-2 5-7 7m11-11q-5 0-8-5m10 4q-7-3-12 2m-51 8q7 4 13-2m-9 1q6-5 13-1m-4 4q-3-3-3-7m7 8q2-4 0-8m1 12q0-6 5-7m-4 5q-10-3-9-13m12 7q-2 4-6 4m13-3q2 9 11 8m-10 1q7-3 5-10m0 6q8-6 16-1m-1-4q7 4 13-2m-11 2q-1 6-6 10m7-9q-5-7 1-14" stroke="#ec86a2" stroke-width="0.75" fill="none"/><path d="M8-1q-1 3-5 3m30-4q7 0 12 7m-30-3q-5 3-6 9m32-1q1 4 6 4m-55 6q3 5 9 3m9-1q-5-1-8 3m29-12q5 5 6 11m5-4q3 5 9 3m-48 2q-3-4 0-8m7 12q2-4 6-2m37-2q-3-4 0-8m-45 32q-1 3-5 3m30-4q7 0 12 7" stroke="#4fb58c" stroke-width="0.75" fill="none"/><path d="M15 13q3-5 0-11m7 25q0-7-5-12m8 10q7 0 13 4" stroke="#f1d77a" stroke-width="0.75" fill="none"/></pattern><pattern id="K2" patternUnits="userSpaceOnUse" width="50" height="50"><path d="M-6-1q6 2 10-4m-10-7q7 7 2 15m16-6q9 1 12 9m-11-11q0 5 4 6m-4-4q-1 6-7 7m15-5q-5-2-8 1m12-1q3 6-1 10m2-11q-6 4-13 5m18-5q6 5 4 13m-4-13q-5 7-14 8m22-11q7 3 5 11m0-7q6 2 10-4m-10-7q7 7 2 15m-40 5q-4 5-11 6m13-13q6-1 11 4m-4-2q-7 1-12-3m16 3q-1 5-4 10m7-10q-1 4 1 7m-1-6q4-3 10-3m-7 9q-5-3-9 0m11-3q-9 2-12-6m12 10q-3 8-10 6m16-13q-4-4-9-5m11 5q4 7-1 14m1-13q5 6 1 13m2-10q-2 4-6 5m8-6q2-3 5-3m-3 4q-5 3-3 9m3-13q0 4 3 6m-3-3q-6 1-11 6m14-2q4 4 5 9m-1-19q-3-2-4-5m11 12q-4 5-11 6m-53 5q7 1 14-1m-13-5q7 0 12-6m-10 10q10-1 13 8m-11-3q1-4 4-4m-1-2q-2 6 3 10m-2-7q-6-4-12 0m15-3q1-6 7-6m-5 10q2-5 8-5m-6-1q-7 5-9 13m11-12q-7-1-11 5m12-3q0 5 4 6m-2-6q-6 7-14 3m22-7q1 4 4 6m3-4q1-9 10-11m-10 14q-5 4-11 3m12-5q-10 2-14-6m15 12q-1 6 5 8m-4-11q8 1 11 7m-10-3q6 8 1 16m1-16q-4-5 0-10m1 8q7 0 10-7m-9 6q-2 3-6 1m6-4q9-5 5-14m-4 16q-6-2-11 0m16 0q7 1 14-1m-13-5q7 0 12-6m-11 13q1-4-3-5m4 2q10-1 13 8m-11-3q1-4 4-4m-1-2q-2 6 3 10m-2-7q-6-4-12 0m19-5q-7 5-9 13m11-12q-7-1-11 5m14-3q-6 7-14 3m-56 13q4 1 7-2m-4 1q4 0 7-3m-5 1q7-2 13 1m-12-2q10 0 11-10m-10 12q-3-3-8-2m15 2q5 7 13 6m-13-5q-8 3-11 11m12-8q-6-7 1-13m3 3q5-2 6-8m-4 17q-6 4-12-1m13-3q-6 3-13 0m19 0q9 1 12 9m-9-5q10 1 11 11m-9-16q8 4 15-1m-12 2q0 4-5 5m5-10q-4-6-11-3m12 2q6 1 10-3m-9 14q-4 1-8-1m12 0q5 1 5 7m-4-17q4 1 7-2m-6 8q-2 8 2 16m-2-16q-7 2-13-2m19 4q-1-4-6-4m6 5q4 1 7-2m-4 1q4 0 7-3m-5 1q7-2 13 1m-12-2q10 0 11-10m-10 12q-3-3-8-2m15 3q-8 3-11 11m-52-5q7 7 2 15m6-11q9 3 14-4m-13-1q3 0 7-2m-7 1q2-8 9-10m-3 18q-3-9-13-7m16 10q9 1 12 9m-11-11q0 5 4 6m-4-4q-1 6-7 7m11-12q4-9 14-8m-13 6q-4-3-7 0m7 1q0-4 4-6m-4 3q3 5 0 9m5-8q5 1 7 4m-5 2q4-7 2-15m3 17q5-2 8 2m-2-7q4-1 7 0m-7-1q-4-5-11-6m14 10q7 3 5 11m-3-19q3 3 1 8m2-7q7 7 2 15m-2-10q5-4 2-10m-1 10q-6 3-13 1m16-2q-4-5-1-11m12 13q-3-9-13-7m-52 12q6 2 10-4m3 3q1-4 6-6m8 7q-5-2-8 1m12-1q3 6-1 10m2-11q-6 4-13 5m17-4q-5-6-3-14m4 13q6 5 4 13m-4-13q-5 7-14 8m16-2q-4-4-9-5m20 0q6 2 10-4m-5 6q-3-2-4-5" stroke="#4fb58c" stroke-width="0.75" fill="none"/><path d="M-7-2q7 4 6 12m11-11q1 5-3 9m8-12q1 3-1 6m18-3q-4-1-6 2m17-3q7 4 6 12m-47-7q-4 6-2 13m2-13q3 3 2 6m0-6q4-1 5-6m-3 14q-3 9-12 10m16-15q0 4-4 7m7-9q4-7 2-15m10 15q-7-5-14 0m21-2q-4-3-5-8m6 15q-1 4-6 4m8-4q0-10-9-13m24 5q-4-4-9-3m11 5q-4 6-2 13m6-5q-3 9-12 10m-47-3q-1-4 3-7m3 12q-3-5-3-10m3 9q-3-6 0-12m4 5q-5 1-8 6m8-4q-3-2-3-6m8 11q-4 2-8 1m11-6q5-6 4-15m-4 17q7-5 4-14m-3 7q-5-8-14-5m16 6q0 6 4 11m-4-1q-7 3-12-2m15-3q3 3 7 3m-7 1q3-1 6-3m-6 3q2 8-5 12m13-18q-2-4 0-7m3 12q8-5 9-14m-5 11q4-5 9-2m-9-1q-3-3-3-7m3 6q2-4 7-5m4 9q-1-4 3-7m-1 6q0 6-4 11m8-5q-3-5-3-10m3 9q-3-6 0-12m4 5q-5 1-8 6m-52 9q3 5 8 6m-8-8q5 1 5 7m0-10q3-6 2-12m-2 12q-4-3-5-9m7 8q-7 0-9 7m11 0q-4-1-7-4m9 5q-3-3-1-6m1 5q-8 1-13 8m14-12q3 3 1 7m2-2q0-6-5-7m9-1q-1 4-3 6m11-4q3-8-1-16m2 15q4 4 3 9m0 1q3-1 5-4m-5-7q2-5 1-10m-1 15q0 9 7 14m-5-18q6 2 9 8m8-3q3 5 8 6m-8-8q5 1 5 7m-4-11q2-8-2-15m6 16q-4-3-5-9m7 8q-7 0-9 7m11 0q-4-1-7-4m9 4q-8 1-13 8m-47 5q-1-5 2-9m0 3q-4 1-6-4m11 4q-8 4-10 12m13-11q4-1 7 2m0 5q1 3-1 6m2-7q4-1 5 4m3-12q5 6 0 13m6-5q-3-4 0-8m6 3q-5 4-10 1m16 2q-6-3-13 0m19 1q-1-5 2-9m0 3q-4 1-6-4m11 4q-8 4-10 12m-53-1q7-5 9-13m-8 12q7 4 6 12m5-7q4-1 5-6m1 2q1 5-3 9m6-4q4-7 2-15m6 9q-8-4-9-12m13 18q-7-5-14 0m20-5q-4-8-12-11m13 14q-4-3-5-8m5 5q-4-1-6 2m9 8q0-10-9-13m16 3q7-5 9-13m-8 12q7 4 6 12m1-9q-4-4-9-3" stroke="#ec86a2" stroke-width="0.75" fill="none"/><path d="M-8-2q5 3 9-1m41 1q5 3 9-1m-28 5q4-1 6 3m1-4q-3-8-12-7m26 18q-4-4-3-9m-19 43q-5 0-9 3m10-7q-1 5 4 7m-2-2q5-4 10 0m-43 1q5 3 9-1m29 4q-3-8-12-7m18 5q6 0 9-5m-3 4q5 3 9-1" stroke="#f1d77a" stroke-width="0.75" fill="none"/></pattern><pattern id="W1r" href="#W1" patternTransform="rotate(37) translate(13 29)"/><pattern id="W2r" href="#W2" patternTransform="rotate(37) translate(13 29)"/><pattern id="K1r" href="#K1" patternTransform="rotate(37) translate(13 29)"/><pattern id="K2r" href="#K2" patternTransform="rotate(37) translate(13 29)"/></defs>
<g><circle cx="215" cy="326" r="204" fill="url(#tA1)"/>
<path d="M129 192m-26.5 0a26.5 26.5 0 1 0 53 0a26.5 26.5 0 1 0-53 0M126 228m-23 0a23 23 0 1 0 46 0a23 23 0 1 0-46 0M279 156m-21 0a21 21 0 1 0 42 0a21 21 0 1 0-42 0M337 244m-24.5 0a24.5 24.5 0 1 0 49 0a24.5 24.5 0 1 0-49 0M357 254m-20 0a20 20 0 1 0 40 0a20 20 0 1 0-40 0M73 301m-25 0a25 25 0 1 0 50 0a25 25 0 1 0-50 0M378 320m-25.5 0a25.5 25.5 0 1 0 51 0a25.5 25.5 0 1 0-51 0M40 368m-24 0a24 24 0 1 0 48 0a24 24 0 1 0-48 0M362 385m-24 0a24 24 0 1 0 48 0a24 24 0 1 0-48 0M58 425m-22 0a22 22 0 1 0 44 0a22 22 0 1 0-44 0M120 470m-21 0a21 21 0 1 0 42 0a21 21 0 1 0-42 0M111 486m-20 0a20 20 0 1 0 40 0a20 20 0 1 0-40 0M262 478m-29 0a29 29 0 1 0 58 0a29 29 0 1 0-58 0M265 478m-40 0a40 40 0 1 0 80 0a40 40 0 1 0-80 0M247 144m-13 0a13 13 0 1 0 26 0a13 13 0 1 0-26 0M320 164m-14 0a14 14 0 1 0 28 0a14 14 0 1 0-28 0M315 181m-12 0a12 12 0 1 0 24 0a12 12 0 1 0-24 0M264 201m-15 0a15 15 0 1 0 30 0a15 15 0 1 0-30 0M213 220m-12 0a12 12 0 1 0 24 0a12 12 0 1 0-24 0M243 223m-11 0a11 11 0 1 0 22 0a11 11 0 1 0-22 0M132 264m-11 0a11 11 0 1 0 22 0a11 11 0 1 0-22 0M102 264m-12 0a12 12 0 1 0 24 0a12 12 0 1 0-24 0M127 296m-12 0a12 12 0 1 0 24 0a12 12 0 1 0-24 0M138 298m-11 0a11 11 0 1 0 22 0a11 11 0 1 0-22 0M167 277m-11 0a11 11 0 1 0 22 0a11 11 0 1 0-22 0M201 296m-13 0a13 13 0 1 0 26 0a13 13 0 1 0-26 0M227 289m-11 0a11 11 0 1 0 22 0a11 11 0 1 0-22 0M266 264m-13 0a13 13 0 1 0 26 0a13 13 0 1 0-26 0M295 245m-11 0a11 11 0 1 0 22 0a11 11 0 1 0-22 0M306 285m-11 0a11 11 0 1 0 22 0a11 11 0 1 0-22 0M306 218m-10 0a10 10 0 1 0 20 0a10 10 0 1 0-20 0M191 320m-10 0a10 10 0 1 0 20 0a10 10 0 1 0-20 0M234 337m-12 0a12 12 0 1 0 24 0a12 12 0 1 0-24 0M279 323m-12 0a12 12 0 1 0 24 0a12 12 0 1 0-24 0M317 322m-12 0a12 12 0 1 0 24 0a12 12 0 1 0-24 0M331 345m-12 0a12 12 0 1 0 24 0a12 12 0 1 0-24 0M116 341m-14 0a14 14 0 1 0 28 0a14 14 0 1 0-28 0M113 375m-12 0a12 12 0 1 0 24 0a12 12 0 1 0-24 0M167 345m-10 0a10 10 0 1 0 20 0a10 10 0 1 0-20 0M210 370m-12 0a12 12 0 1 0 24 0a12 12 0 1 0-24 0M249 357m-12 0a12 12 0 1 0 24 0a12 12 0 1 0-24 0M270 364m-11 0a11 11 0 1 0 22 0a11 11 0 1 0-22 0M291 350m-10 0a10 10 0 1 0 20 0a10 10 0 1 0-20 0M151 397m-13 0a13 13 0 1 0 26 0a13 13 0 1 0-26 0M170 395m-12 0a12 12 0 1 0 24 0a12 12 0 1 0-24 0M186 394m-15 0a15 15 0 1 0 30 0a15 15 0 1 0-30 0M203 396m-12 0a12 12 0 1 0 24 0a12 12 0 1 0-24 0M218 398m-13 0a13 13 0 1 0 26 0a13 13 0 1 0-26 0M272 405m-15 0a15 15 0 1 0 30 0a15 15 0 1 0-30 0M161 426m-13 0a13 13 0 1 0 26 0a13 13 0 1 0-26 0M220 426m-13 0a13 13 0 1 0 26 0a13 13 0 1 0-26 0M191 443m-13 0a13 13 0 1 0 26 0a13 13 0 1 0-26 0M329 441m-13 0a13 13 0 1 0 26 0a13 13 0 1 0-26 0M123 413m-11 0a11 11 0 1 0 22 0a11 11 0 1 0-22 0M92 160m-10 0a10 10 0 1 0 20 0a10 10 0 1 0-20 0M185 160m-11 0a11 11 0 1 0 22 0a11 11 0 1 0-22 0M150 150m-9 0a9 9 0 1 0 18 0a9 9 0 1 0-18 0M350 420m-10 0a10 10 0 1 0 20 0a10 10 0 1 0-20 0M70 420m-9 0a9 9 0 1 0 18 0a9 9 0 1 0-18 0M300 470m-10 0a10 10 0 1 0 20 0a10 10 0 1 0-20 0M180 480m-10 0a10 10 0 1 0 20 0a10 10 0 1 0-20 0" fill="#fff"/>
<ellipse cx="225" cy="300" rx="105" ry="95" fill="url(#W1)" fill-opacity="0.35"/>
<path d="M196 213q-24 15-17 42m72-43q-12-8-26-4m-24 9q-32 8-39 41m51-33q7-9 2-19m-30 24q4-8 13-8m2 15q27 3 35-23m-18 23q18 25 48 15m17-17q-9 8-19 3m-68 2q-16 10-13 29m21-27q1-14 15-16m-72 33q-10 4-17-5m54 9q11-5 19 4m-2-6q14 17 36 9m-103 1q7 5 15 2m27-2q-11 24 0 48m32-48q2 7-3 11m15-7q-8-5-18 0m59 0q29 7 44-18m9 14q-18 24-49 25m-110-16q29-7 52 11m22-5q13 13 4 30m67-34q7-9 5-20m-127 34q-9-18 6-32m11 30q37-6 65 19m-45-17q-26 4-41 25m-30-14q10-10 23-4m0 7q-16 2-23-12m35 8q25-30 2-61m7 61q-6-5-12 0m63-5q17-30 7-63m-102 82q12 26 42 27m-8-24q15 4 25-9m-20-1q-14-30 0-60m112 64q8 4 13-2m-8 2q-28 8-51-10m-88 21q-3-22-24-26m56 29q-8-34-41-45m77 45q8-14 24-15m24 17q-21 6-37-8m-95 22q20 9 40-3m60-6q25-28 4-60m12 72q-11-10-23-3m29 11q6-15-1-30m44 25q-16 3-23-12m-4 25q-14 19-38 15m-64-2q-7-34-42-38" stroke="#ef8fab" stroke-width="0.75" fill="none" stroke-opacity="0.85"/>
<path d="M178 238q-17-4-27 10m79-17q11 36-21 55m73-48q-15 8-13 26m-10-5q-21-23-53-16m-37 29q16 25 46 28m40-33q17-4 23-20m-19 23q-10 16-30 18m87-19q-24-8-44 6m46-8q-27 15-49-6m54 7q1-11-6-19m-183 45q1 8 8 11m94-6q1-12-10-15m81 14q-37-16-28-56m40 51q-3 9 5 14m-5-10q-23 25-56 20m-74-9q0 6-6 9m35-12q-3 12 7 19m-64-8q-4-39 34-52m-6 58q13-7 11-21m67 13q-10-10-3-23m34 22q-6-23 15-34m-160 50q2-27 29-36m-8 35q-9-27-36-24m154 50q-37-1-51-35m-6 47q-23 2-34-18m37 13q-8-34 17-59m-87 72q2-16-7-29m74 29q35-9 42-45m-20 44q-5 8-13 9" stroke="#4fb58c" stroke-width="0.75" fill="none" stroke-opacity="0.85"/>
<path d="M205 211q7-1 12 3m-6 0q-7 14-24 12m117 47q-8-5-7-15m-167 20q-5 4-11 1m2 21q16 5 27-6" stroke="#f1d77a" stroke-width="0.75" fill="none" stroke-opacity="0.85"/>
<path d="M205 211h0m6 3h0m6 23h0m-22 3h0m60 27h0m63 0h0m5 1h0m-104 7h0m41 0h0m39 7h0m-178 18h0m177 13h0m1 4h0m-125 11h0m102 5h0m-132 14h0m24 27h0m67 0h0" stroke="#2f9fcf" stroke-width="2.4" stroke-linecap="round"/>
<path d="M251 212h0m-51 49h0m-31 11h0m-15 8h0m23 16h0m0 27h0m89 35h0m-28 3h0" stroke="#f2d21c" stroke-width="2.4" stroke-linecap="round"/>
<path d="M196 213h0m86 25h0m-107 33h0m32 0h0m52-1h0m45 3h0m-110 21h0m-12 19h0m46 18h0" stroke="#b8125a" stroke-width="2.4" stroke-linecap="round"/>
<circle cx="247" cy="144" r="10.1" fill="#ef8fab" fill-opacity="0.58"/>
<circle cx="247" cy="144" r="11" fill="url(#K1)"/>
<circle cx="320" cy="164" r="11" fill="#ef8fab" fill-opacity="0.58"/>
<circle cx="320" cy="164" r="12" fill="url(#K1)"/>
<circle cx="315" cy="181" r="9.2" fill="#ef8fab" fill-opacity="0.58"/>
<circle cx="315" cy="181" r="10" fill="url(#K1)"/>
<circle cx="264" cy="201" r="12" fill="#ef8fab" fill-opacity="0.58"/>
<circle cx="264" cy="201" r="13" fill="url(#K1)"/>
<circle cx="213" cy="220" r="9.2" fill="#ef8fab" fill-opacity="0.58"/>
<circle cx="213" cy="220" r="10" fill="url(#K1)"/>
<circle cx="243" cy="223" r="8.3" fill="#ef8fab" fill-opacity="0.58"/>
<circle cx="243" cy="223" r="9" fill="url(#K1)"/>
<circle cx="132" cy="264" r="8.3" fill="#ef8fab" fill-opacity="0.58"/>
<circle cx="132" cy="264" r="9" fill="url(#K1)"/>
<circle cx="102" cy="264" r="9.2" fill="#ef8fab" fill-opacity="0.58"/>
<circle cx="102" cy="264" r="10" fill="url(#K1)"/>
<circle cx="127" cy="296" r="9.2" fill="#ef8fab" fill-opacity="0.58"/>
<circle cx="127" cy="296" r="10" fill="url(#K1)"/>
<circle cx="138" cy="298" r="8.3" fill="#ef8fab" fill-opacity="0.58"/>
<circle cx="138" cy="298" r="9" fill="url(#K1)"/>
<circle cx="167" cy="277" r="8.3" fill="#ef8fab" fill-opacity="0.58"/>
<circle cx="167" cy="277" r="9" fill="url(#K1)"/>
<circle cx="201" cy="296" r="10.1" fill="#ef8fab" fill-opacity="0.58"/>
<circle cx="201" cy="296" r="11" fill="url(#K1)"/>
<circle cx="227" cy="289" r="8.3" fill="#ef8fab" fill-opacity="0.58"/>
<circle cx="227" cy="289" r="9" fill="url(#K1)"/>
<circle cx="266" cy="264" r="10.1" fill="#ef8fab" fill-opacity="0.58"/>
<circle cx="266" cy="264" r="11" fill="url(#K1)"/>
<circle cx="295" cy="245" r="8.3" fill="#ef8fab" fill-opacity="0.58"/>
<circle cx="295" cy="245" r="9" fill="url(#K1)"/>
<circle cx="306" cy="285" r="8.3" fill="#ef8fab" fill-opacity="0.58"/>
<circle cx="306" cy="285" r="9" fill="url(#K1)"/>
<circle cx="306" cy="218" r="7.4" fill="#ef8fab" fill-opacity="0.58"/>
<circle cx="306" cy="218" r="8" fill="url(#K1)"/>
<circle cx="191" cy="320" r="7.4" fill="#ef8fab" fill-opacity="0.58"/>
<circle cx="191" cy="320" r="8" fill="url(#K1)"/>
<circle cx="234" cy="337" r="9.2" fill="#ef8fab" fill-opacity="0.58"/>
<circle cx="234" cy="337" r="10" fill="url(#K1)"/>
<circle cx="279" cy="323" r="9.2" fill="#ef8fab" fill-opacity="0.58"/>
<circle cx="279" cy="323" r="10" fill="url(#K1)"/>
<circle cx="317" cy="322" r="9.2" fill="#ef8fab" fill-opacity="0.58"/>
<circle cx="317" cy="322" r="10" fill="url(#K1)"/>
<circle cx="331" cy="345" r="9.2" fill="#ef8fab" fill-opacity="0.58"/>
<circle cx="331" cy="345" r="10" fill="url(#K1)"/>
<circle cx="116" cy="341" r="11" fill="#ef8fab" fill-opacity="0.58"/>
<circle cx="116" cy="341" r="12" fill="url(#K1)"/>
<circle cx="113" cy="375" r="9.2" fill="#ef8fab" fill-opacity="0.58"/>
<circle cx="113" cy="375" r="10" fill="url(#K1)"/>
<circle cx="167" cy="345" r="7.4" fill="#ef8fab" fill-opacity="0.58"/>
<circle cx="167" cy="345" r="8" fill="url(#K1)"/>
<circle cx="210" cy="370" r="9.2" fill="#ef8fab" fill-opacity="0.58"/>
<circle cx="210" cy="370" r="10" fill="url(#K1)"/>
<circle cx="249" cy="357" r="9.2" fill="#ef8fab" fill-opacity="0.58"/>
<circle cx="249" cy="357" r="10" fill="url(#K1)"/>
<circle cx="270" cy="364" r="8.3" fill="#ef8fab" fill-opacity="0.58"/>
<circle cx="270" cy="364" r="9" fill="url(#K1)"/>
<circle cx="291" cy="350" r="7.4" fill="#ef8fab" fill-opacity="0.58"/>
<circle cx="291" cy="350" r="8" fill="url(#K1)"/>
<circle cx="151" cy="397" r="10.1" fill="#ef8fab" fill-opacity="0.58"/>
<circle cx="151" cy="397" r="11" fill="url(#K1)"/>
<circle cx="170" cy="395" r="9.2" fill="#ef8fab" fill-opacity="0.58"/>
<circle cx="170" cy="395" r="10" fill="url(#K1)"/>
<circle cx="186" cy="394" r="12" fill="#ef8fab" fill-opacity="0.58"/>
<circle cx="186" cy="394" r="13" fill="url(#K1)"/>
<circle cx="203" cy="396" r="9.2" fill="#ef8fab" fill-opacity="0.58"/>
<circle cx="203" cy="396" r="10" fill="url(#K1)"/>
<circle cx="218" cy="398" r="10.1" fill="#ef8fab" fill-opacity="0.58"/>
<circle cx="218" cy="398" r="11" fill="url(#K1)"/>
<circle cx="272" cy="405" r="12" fill="#ef8fab" fill-opacity="0.58"/>
<circle cx="272" cy="405" r="13" fill="url(#K1)"/>
<circle cx="161" cy="426" r="10.1" fill="#ef8fab" fill-opacity="0.58"/>
<circle cx="161" cy="426" r="11" fill="url(#K1)"/>
<circle cx="220" cy="426" r="10.1" fill="#ef8fab" fill-opacity="0.58"/>
<circle cx="220" cy="426" r="11" fill="url(#K1)"/>
<circle cx="191" cy="443" r="10.1" fill="#ef8fab" fill-opacity="0.58"/>
<circle cx="191" cy="443" r="11" fill="url(#K1)"/>
<circle cx="329" cy="441" r="10.1" fill="#ef8fab" fill-opacity="0.58"/>
<circle cx="329" cy="441" r="11" fill="url(#K1)"/>
<circle cx="123" cy="413" r="8.3" fill="#ef8fab" fill-opacity="0.58"/>
<circle cx="123" cy="413" r="9" fill="url(#K2)"/>
<circle cx="92" cy="160" r="7.4" fill="#ef8fab" fill-opacity="0.58"/>
<circle cx="92" cy="160" r="8" fill="url(#K1)"/>
<circle cx="185" cy="160" r="8.3" fill="#ef8fab" fill-opacity="0.58"/>
<circle cx="185" cy="160" r="9" fill="url(#K1)"/>
<circle cx="150" cy="150" r="6.4" fill="#ef8fab" fill-opacity="0.58"/>
<circle cx="150" cy="150" r="7" fill="url(#K1)"/>
<circle cx="350" cy="420" r="7.4" fill="#ef8fab" fill-opacity="0.58"/>
<circle cx="350" cy="420" r="8" fill="url(#K1)"/>
<circle cx="70" cy="420" r="6.4" fill="#ef8fab" fill-opacity="0.58"/>
<circle cx="70" cy="420" r="7" fill="url(#K1)"/>
<circle cx="300" cy="470" r="7.4" fill="#ef8fab" fill-opacity="0.58"/>
<circle cx="300" cy="470" r="8" fill="url(#K1)"/>
<circle cx="180" cy="480" r="7.4" fill="#ef8fab" fill-opacity="0.58"/>
<circle cx="180" cy="480" r="8" fill="url(#K1)"/>
<path d="M246 133h0m-102 14h0m12 2h0m100-1h0m-111 6h0m34 0h0m10-1h0m61 1h0m-164 9h0m10 3h0m3-5h0m80 4h0m11 2h0m119 1h0m0-5h0m-1 11h0m10-2h0m5 3h0m5-3h0m-60 17h0m-14 5h0m19-1h0m40-3h0m6 0h0m-66 15h0m-36 7h0m3 3h0m2 4h0m38-6h0m5 0h0m6-3h0m27 7h0m4-5h0m5-1h0m-103 12h0m4 5h0m27-5h0m15 4h0m50-4h0m6 2h0m5-1h0m-98 6h0m28 1h0m5 0h0m44 7h0m5-1h0m-199 20h0m172-3h0m5 4h0m25-5h0m-173 8h0m15 4h0m136-4h0m-149 10h0m178 6h0m-182 11h0m5-2h0m65 3h0m9-3h0m5 1h0m19-6h0m8 4h0m81 2h0m-198 11h0m19-5h0m6-2h0m4 5h0m73-6h0m-99 11h0m14 2h0m10 2h0m55 1h0m5 0h0m-20 12h0m11-4h0m76 5h0m3-4h0m4-1h0m9 5h0m25-5h0m-125 13h0m47 1h0m74-5h0m-201 10h0m5-3h0m54 7h0m5 2h0m53-1h0m53-6h0m60 6h0m-233 6h0m23 2h0m33-4h0m76 4h0m18 3h0m68-3h0m-205 7h0m140-1h0m7 7h0m-158 9h0m142-1h0m4-2h0m-51 7h0m64-1h0m10 1h0m-166 11h0m36 5h0m11 0h0m8 0h0m4-3h0m6 4h0m10-7h0m14 6h0m18 0h0m6 1h0m-82 8h0m21-5h0m0 6h0m18-3h0m16-5h0m16 0h0m1 9h0m0-3h0m15-4h0m2 6h0m-112 10h0m9-3h0m16-3h0m4 4h0m4 2h0m9-6h0m5 1h0m4 1h0m7-1h0m9 4h0m14-2h0m11-1h0m76-1h0m-221 14h0m11-2h0m40 0h0m16 0h0m0-5h0m23 9h0m108-8h0m19 3h0m73 0h0m-202 14h0m58-2h0m18-6h0m128 4h0m-28 7h0m11 5h0m-158 6h0m1 6h0m137-7h0m1 5h0m-129 7h0m138-2h0m4-1h0m-146 27h0m108-2h0m5 3h0m-113 4h0" stroke="#b8125a" stroke-width="2.5" stroke-linecap="round"/>
<path d="M255 138h0m-106 5h0m5 2h0m83 1h0m1-5h0m19 1h0m-172 17h0m3-5h0m11 2h0m84-4h0m10 4h0m46-6h0m5 4h0m10-3h0m56 6h0m5-3h0m9 0h0m6 14h0m2-5h0m-10 12h0m-59 13h0m60-2h0m2-4h0m-73 17h0m23 8h0m1-4h0m-72 16h0m38-4h0m6 2h0m8-7h0m58 8h0m-28 26h0m2 5h0m15 0h0m0-7h0m-197 13h0m3 3h0m19-2h0m11 2h0m154-5h0m-200 13h0m17 3h0m1-5h0m12 2h0m44 2h0m89 0h0m0-7h0m21 5h0m-180 6h0m36 0h0m26 4h0m14-5h0m85 0h0m-126 18h0m28-8h0m3 4h0m11-3h0m57 0h0m67 5h0m2-7h0m-181 11h0m11 6h0m7-7h0m74 8h0m0-5h0m11 2h0m3 2h0m7-2h0m3-3h0m65-1h0m11 1h0m-187 13h0m4 1h0m3-3h0m6 3h0m9-5h0m45-1h0m18 2h0m-20 11h0m10 5h0m85-4h0m24 5h0m13-5h0m4 4h0m-141 5h0m46 6h0m40-4h0m2 4h0m14 0h0m3-4h0m20 3h0m-203 10h0m13-8h0m5 3h0m102 0h0m13-3h0m4 3h0m0 6h0m72-8h0m6-1h0m6 7h0m4-2h0m-224 12h0m20-4h0m33 3h0m15-2h0m55 2h0m11-2h0m7 3h0m36 1h0m2-3h0m11 0h0m43-3h0m-218 9h0m40 0h0m7 1h0m4-2h0m66 9h0m1-6h0m3-3h0m25 5h0m5 2h0m17 0h0m5-1h0m3-6h0m27 2h0m3 2h0m5 1h0m5-4h0m-229 15h0m93 1h0m2-4h0m11-1h0m3 3h0m24-1h0m36-3h0m0 6h0m-174 8h0m18-1h0m85 5h0m11-3h0m1-4h0m51 1h0m-165 7h0m14 3h0m33 4h0m22 0h0m4-3h0m11-2h0m4 2h0m7 3h0m5 0h0m-63 6h0m19 4h0m0-4h0m13 0h0m1 5h0m3 1h0m16-6h0m1 5h0m2 1h0m2-5h0m9 5h0m1-5h0m4-4h0m51 6h0m4-3h0m11 2h0m-123 12h0m22-3h0m11 1h0m5-1h0m20 3h0m11-1h0m3-5h0m31 4h0m1-4h0m23-1h0m0 9h0m-214 4h0m49 6h0m41-3h0m11 3h0m49-4h0m46 0h0m4 2h0m7 0h0m68-1h0m-280 5h0m3 5h0m8-1h0m1-5h0m45 1h0m6-1h0m45 9h0m0-6h0m40-2h0m19 6h0m113-2h0m14-5h0m-194 16h0m4-3h0m18 1h0m4-1h0m6 0h0m15-1h0m10 4h0m9-5h0m89 5h0m4-4h0m11 0h0m4 15h0m1-6h0m-153 11h0m138-2h0m-29 15h0m7-3h0m4 4h0m-124 7h0m122 3h0m3-6h0m-134 12h0m3 4h0" stroke="#2f9fcf" stroke-width="2.5" stroke-linecap="round"/>
<path d="M240 137h0m12-3h0m-158 19h0m55 3h0m6-2h0m22 5h0m144-6h0m9 5h0m-240 9h0m95 2h0m7-6h0m114 15h0m7-6h0m0 1h0m5 2h0m-12 10h0m3 3h0m-51 3h0m17 6h0m-70 17h0m5-3h0m27 5h0m75-2h0m-94 14h0m4-5h0m14 4h0m16-4h0m47 14h0m-199 17h0m34 2h0m125 1h0m4-3h0m-170 9h0m45 6h0m-37 5h0m5-1h0m56-3h0m13 6h0m88-2h0m6 1h0m5-4h0m35 6h0m-138 8h0m26 2h0m24-3h0m93-3h0m-183 12h0m5 5h0m55-3h0m113-1h0m-109 11h0m121 8h0m-121 14h0m2-3h0m126 5h0m3-6h0m-201 13h0m157-4h0m-55 12h0m65-1h0m31-1h0m17 5h0m-230 4h0m148 7h0m27-3h0m-169 11h0m4 3h0m89-8h0m47 2h0m5 2h0m-140 13h0m82-2h0m11 3h0m-102 6h0m66 5h0m97 2h0m-153 13h0m81 0h0m5-1h0m12 4h0m-56 9h0m51-1h0m10 2h0m126-6h0m-199 11h0m190-3h0m9 7h0m-198 5h0m5 4h0m24 2h0m18 1h0m15-4h0m10-1h0m-25 14h0m1-5h0m-4 8h0m96 18h0m-119 8h0m3-4h0m7 14h0" stroke="#f2d21c" stroke-width="2.5" stroke-linecap="round"/>
<path d="M249 142h0m-159 15h0m158-7h0m-63 12h0m4 0h0m126 6h0m11-5h0m-13 15h0m2 0h0m-46 28h0m-52 16h0m22 1h0m6-3h0m62 0h0m-15 27h0m1-4h0m5 1h0m-199 18h0m3 5h0m2-2h0m32-1h0m136-3h0m-102 19h0m-32 19h0m1-2h0m2 1h0m61-2h0m5 1h0m19-3h0m-99 6h0m1 2h0m64 14h0m124 9h0m-205 12h0m121-3h0m4 1h0m-120 12h0m4-6h0m211 4h0m-83 12h0m45-5h0m-44 9h0m16 3h0m7-2h0m-160 18h0m44 18h0m13-6h0m5-1h0m9 3h0m10 0h0m5 3h0m5 0h0m15 1h0m7 0h0m-25 3h0m77 6h0m-155 6h0m35 13h0m3 2h0m3-6h0m51 5h0m10-6h0m100 16h0m-138 6h0m3 4h0m3-4h0m4 2h0m127-3h0m6-2h0m-26 27h0m-125 14h0" stroke="#2f9fcf" stroke-width="2.4" stroke-linecap="round"/>
<path d="M152 147h0m92-7h0m-56 24h0m132 5h0m-103 53h0m53 37h0m-41 26h0m73 1h0m1 3h0m4-2h0m-185 6h0m84-1h0m68 27h0m11 5h0m34-2h0m2 1h0m-154 23h0m80 9h0m81-5h0m-216 28h0m97-7h0m5 1h0m-64 27h0m20-5h0m-15 8h0m29-2h0m90 4h0m-153 6h0m3 7h0m-58 5h0m7-2h0m86 6h0m142 48h0" stroke="#f2d21c" stroke-width="2.4" stroke-linecap="round"/>
<path d="M243 145h0m-152 12h0m57-7h0m174 19h0m-3 14h0m-62 19h0m10 6h0m2-7h0m-55 15h0m94-2h0m-63 11h0m18 33h0m-133 6h0m5-3h0m131 6h0m-97 12h0m-4 3h0m30 15h0m33-7h0m-33 30h0m87 0h0m-53 15h0m-117 10h0m59 3h0m119-1h0m44 0h0m-63 16h0m-158 12h0m102-5h0m-60 26h0m35-4h0m24 6h0m3 2h0m59 2h0m-5 9h0m-57 16h0m4-1h0m128-4h0m5 1h0m-170 58h0" stroke="#b8125a" stroke-width="2.4" stroke-linecap="round"/>
<circle cx="129" cy="192" r="21.5" fill="#ee7593"/>
<circle cx="126" cy="228" r="18" fill="#ee7593"/>
<circle cx="279" cy="156" r="16" fill="#ee7593"/>
<circle cx="337" cy="244" r="19.5" fill="#ee7593"/>
<circle cx="357" cy="254" r="15" fill="#ee7593"/>
<circle cx="73" cy="301" r="20" fill="#ee7593"/>
<circle cx="378" cy="320" r="20.5" fill="#ee7593"/>
<circle cx="40" cy="368" r="19" fill="#ee7593"/>
<circle cx="362" cy="385" r="19" fill="#ee7593"/>
<circle cx="58" cy="425" r="17" fill="#ee7593"/>
<circle cx="120" cy="470" r="16" fill="#ee7593"/>
<circle cx="111" cy="486" r="15" fill="#ee7593"/>
<circle cx="262" cy="478" r="24" fill="#8a86b8"/>
<path d="M123 173h0m5 3h0m1-4h0m-18 13h0m3-5h0m2 6h0m4-5h0m6 0h0m2 5h0m4-5h0m2 5h0m4-5h0m2 5h0m5-6h0m2 5h0m-37 11h0m4-5h0m2 5h0m4-5h0m2 5h0m6 0h0m4-5h0m6 0h0m2 5h0m4-5h0m4 6h0m1-6h0m-29 11h0m2 5h0m4-5h0m6 0h0m2 5h0m12-5h0m-20 9h0" stroke="#f2d21c" stroke-width="3.6" stroke-linecap="round"/>
<path d="M118 176h0m17-3h0m-26 17h0m3 12h0m3 4h0m13 1h0m10-5h0m4 5h0m-22 3h0m12 2h0m5-2h0" stroke="#2f9fcf" stroke-width="3.6" stroke-linecap="round"/>
<path d="M140 176h0" stroke="#b8125a" stroke-width="3.6" stroke-linecap="round"/>
<path d="M120 220h0m6 0h0m6 0h0m-15 16h0m3-5h0m12 0h0m6 0h0m-27 245h0m2-6h0m6 0h0m-14 17h0m12 0h0m-3 5h0" stroke="#2f9fcf" stroke-width="3" stroke-linecap="round"/>
<path d="M117 226h0m12 0h0m6 0h0m-19 238h0m-5 23h0m3-6h0" stroke="#b8125a" stroke-width="3" stroke-linecap="round"/>
<path d="M123 226h0m12 10h0m-10 234h0m-17 11h0m11-1h0m-11 12h0" stroke="#f2d21c" stroke-width="3" stroke-linecap="round"/>
<path d="M269 146h0m5-4h0m6 0h0m6 1h0m4 4h0m-25 9h0m1-6h0m6 6h0m3-6h0m9 6h0m9 3h0m0-6h0m-18 8h0m3 5h0m3-5h0m5 7h0m5-4h0m-16 6h0m6 0h0m50 57h0m10 0h0m-21 12h0m2-5h0m6 0h0m3 5h0m3-5h0m3 5h0m5 0h0m6 0h0m5-2h0m-34 7h0m7 4h0m2-4h0m6 0h0m11 5h0m0-5h0m3 0h0m2 0h0m3-3h0m1 8h0m1-2h0m0-5h0m2 2h0m2-3h0m1 8h0m4-6h0m4 4h0m-42 11h0m8-5h0m10 2h0m7 0h0m6 0h0m6 0h0m6 4h0m1-6h0m-40 7h0m5 2h0m15 3h0m4-5h0m1 7h0m5-7h0m1 7h0m5-3h0m-306 24h0m5-3h0m6-2h0m11 2h0m4 3h0m-31 10h0m2-6h0m5 5h0m6 0h0m6 0h0m15-4h0m2 6h0m-36 4h0m2 6h0m2-7h0m3 5h0m3-5h0m6 0h0m3 5h0m3-5h0m6 0h0m3 5h0m5-3h0m272 5h0m4-4h0m5-3h0m6-1h0m0 4h0m6-3h0m9 7h0m-333 5h0m5-2h0m5 7h0m1-7h0m4 7h0m6-2h0m5-3h0m3-4h0m271 4h0m6 1h0m6 0h0m4-5h0m2 5h0m4-5h0m2 5h0m-25 5h0m1 6h0m6-1h0m6 0h0m4-5h0m2 5h0m4-5h0m2 5h0m6 0h0m6 1h0m1-6h0m-34 11h0m4 4h0m5 3h0m4-7h0m2 8h0m4-8h0m2 7h0m4-7h0m1 4h0m4-4h0m-367 27h0m4-4h0m3 5h0m2-7h0m4 7h0m1-8h0m5 8h0m1-7h0m5 3h0m4 4h0m-32 4h0m0 6h0m7-4h0m6 0h0m6 0h0m6 0h0m9-1h0m302 4h0m6 0h0m-341 7h0m3-5h0m3 5h0m3-5h0m3 5h0m3-5h0m3 5h0m3-5h0m3 5h0m3-5h0m5 5h0m1-5h0m289 8h0m3-5h0m5-3h0m1 6h0m6 0h0m6 0h0m3-6h0m5 3h0m3 5h0m-347 5h0m6 2h0m2-5h0m3 5h0m3-5h0m3 3h0m4-3h0m293 9h0m0-5h0m4 3h0m3-5h0m3 5h0m3-5h0m3 5h0m3-5h0m3 5h0m3-5h0m3 5h0m6 2h0m0-6h0m-31 12h0m3 4h0m7-7h0m3 5h0m3-5h0m3 5h0m3-5h0m3 7h0m4-5h0m-21 7h0m6 1h0m6-1h0m-321 14h0m4-4h0m2 7h0m4-8h0m2 8h0m4-7h0m2 7h0m3-4h0m4 4h0m-29 8h0m1-6h0m3 9h0m3-5h0m3 5h0m3-5h0m3 5h0m6 0h0m3-5h0m5 0h0m-29 8h0m4 4h0m5 3h0m12 0h0m4-4h0m3-5h0m-13 10h0" stroke="#2f9fcf" stroke-width="3.4" stroke-linecap="round"/>
<path d="M287 150h0m49 76h0m1 3h0m-11 10h0m14-5h0m10-2h0m-27 12h0m8 4h0m6 0h0m5 0h0m-20 6h0m31-2h0m-7 9h0m-272 25h0m-3 5h0m9 6h0m3-6h0m3 6h0m-18 10h0m321-2h0m-325 12h0m326-2h0m6-1h0m-26 6h0m0 11h0m-343 48h0m325 13h0m-290 32h0" stroke="#b8125a" stroke-width="3.4" stroke-linecap="round"/>
<path d="M266 162h0m4 5h0m17-6h0m59 68h0m-20 1h0m19 4h0m-25 15h0m20-5h0m8 4h0m-20 5h0m9 5h0m3-5h0m2 5h0m3-5h0m5 3h0m-9 5h0m5-1h0m-270 23h0m1 8h0m3 16h0m-3 5h0m293-2h0m18 10h0m-332 114h0" stroke="#f2d21c" stroke-width="3.4" stroke-linecap="round"/>
<path d="M262 458h0m5-2h0m-14 9h0m9 0h0m7-3h0m9 0h0m-27 15h0m7-4h0m17 0h0m7 4h0m-24 11h0m4 0h0m2-4h0m3-3h0m4 7h0m-20 9h0m4 2h0m12-3h0m6-4h0" stroke="#b8125a" stroke-width="4" stroke-linecap="round"/>
<path d="M251 459h0m3-2h0m4-1h0m5 0h0m8 2h0m-29 10h0m2-3h0m3-3h0m2 3h0m2 4h0m0-7h0m5 7h0m2-4h0m2-3h0m0 7h0m4-7h0m0 7h0m3-4h0m2 4h0m2-4h0m2 4h0m1-9h0m1 5h0m3 4h0m2-3h0m2 3h0m-42 7h0m1-4h0m1 5h0m3-4h0m2 4h0m2-4h0m4 0h0m3 4h0m6-4h0m2 4h0m9 0h0m7-4h0m4 4h0m-43 8h0m2 4h0m2-1h0m0-7h0m2 3h0m2 4h0m0-7h0m7 3h0m2-3h0m2 3h0m7 4h0m4-7h0m2 3h0m2-3h0m3 3h0m3 5h0m2-3h0m1-4h0m-39 10h0m3 3h0m3-3h0m2 4h0m3-4h0m2 4h0m4 0h0m2-4h0m4 7h0m1-7h0m2 4h0m1 2h0m3-2h0m3-3h0m-19 7h0m5 0h0" stroke="#2f9fcf" stroke-width="4" stroke-linecap="round"/>
<path d="M247 469h0m9-7h0m17 0h0m-13 15h0m7-4h0m2 4h0m2-4h0m7 4h0m5-4h0m-43 8h0m11 3h0m2 4h0m0-7h0m9 0h0m7 3h0m6 4h0m5-7h0m-20 11h0" stroke="#f2d21c" stroke-width="4" stroke-linecap="round"/></g>
<g><circle cx="656" cy="326" r="205" fill="url(#tA2)"/>
<path d="M622 205m-28 0a28 28 0 1 0 56 0a28 28 0 1 0-56 0M502 252m-20 0a20 20 0 1 0 40 0a20 20 0 1 0-40 0M477 324m-21 0a21 21 0 1 0 42 0a21 21 0 1 0-42 0M521 398m-26 0a26 26 0 1 0 52 0a26 26 0 1 0-52 0M797 398m-26 0a26 26 0 1 0 52 0a26 26 0 1 0-52 0M726 480m-25 0a25 25 0 1 0 50 0a25 25 0 1 0-50 0M665 504m-21 0a21 21 0 1 0 42 0a21 21 0 1 0-42 0M827 292m-22 0a22 22 0 1 0 44 0a22 22 0 1 0-44 0M761 192m-20 0a20 20 0 1 0 40 0a20 20 0 1 0-40 0M622 195m-75 0a75 75 0 1 0 150 0a75 75 0 1 0-150 0M505 410m-50 0a50 50 0 1 0 100 0a50 50 0 1 0-100 0M805 405m-55 0a55 55 0 1 0 110 0a55 55 0 1 0-110 0M590 230m-40 0a40 40 0 1 0 80 0a40 40 0 1 0-80 0M518 212m-16 0a16 16 0 1 0 32 0a16 16 0 1 0-32 0M732 167m-15 0a15 15 0 1 0 30 0a15 15 0 1 0-30 0M695 133m-13 0a13 13 0 1 0 26 0a13 13 0 1 0-26 0M732 207m-13 0a13 13 0 1 0 26 0a13 13 0 1 0-26 0M798 258m-15 0a15 15 0 1 0 30 0a15 15 0 1 0-30 0M721 295m-14 0a14 14 0 1 0 28 0a14 14 0 1 0-28 0M817 231m-14 0a14 14 0 1 0 28 0a14 14 0 1 0-28 0M781 231m-13 0a13 13 0 1 0 26 0a13 13 0 1 0-26 0M768 283m-12 0a12 12 0 1 0 24 0a12 12 0 1 0-24 0M800 302m-11 0a11 11 0 1 0 22 0a11 11 0 1 0-22 0M510 282m-13 0a13 13 0 1 0 26 0a13 13 0 1 0-26 0M489 290m-11 0a11 11 0 1 0 22 0a11 11 0 1 0-22 0M555 322m-24 0a24 24 0 1 0 48 0a24 24 0 1 0-48 0M645 333m-18 0a18 18 0 1 0 36 0a18 18 0 1 0-36 0M597 440m-20 0a20 20 0 1 0 40 0a20 20 0 1 0-40 0M664 450m-22 0a22 22 0 1 0 44 0a22 22 0 1 0-44 0M590 500m-12 0a12 12 0 1 0 24 0a12 12 0 1 0-24 0M610 470m-11 0a11 11 0 1 0 22 0a11 11 0 1 0-22 0M563 268m-11 0a11 11 0 1 0 22 0a11 11 0 1 0-22 0M750 360m-11 0a11 11 0 1 0 22 0a11 11 0 1 0-22 0M700 400m-11 0a11 11 0 1 0 22 0a11 11 0 1 0-22 0M535 470m-11 0a11 11 0 1 0 22 0a11 11 0 1 0-22 0M780 470m-10 0a10 10 0 1 0 20 0a10 10 0 1 0-20 0" fill="#fff"/>
<ellipse cx="640" cy="335" rx="105" ry="42" fill="url(#W2)" fill-opacity="0.60"/>
<ellipse cx="640" cy="425" rx="80" ry="55" fill="url(#W2)" fill-opacity="0.60"/>
<ellipse cx="725" cy="285" rx="45" ry="40" fill="url(#W2)" fill-opacity="0.45"/>
<path d="M718 251q7 1 9-5m4 2q4 1 8-2m-36 16q8 12 23 9m12-6q-4 4-9 2m-42 9q-6 2-8 8m49-8q-1 2-1 5m-38 8q14 10 9 26m55-25q-11 4-19-5m31 12q-13-2-18 11m-169 2q-1 9 7 15m19-14q-7 23 6 43m-1-48q-21-9-37 6m58-5q-8 30 13 52m17-53q-10 2-17-4m64 3q-3 9-13 10m67-12q-9-18 0-35m-194 51q29-11 53 8m-18-10q15 35 52 28m-21-24q-23 37-65 27m69-30q-19-3-27-21m29 23q-32 6-48 34m79-42q-1 36-35 44m41-33q-18-22-44-8m74 6q-11 3-15 14m-20-8q-8-13 3-24m2 24q-25-6-43 11m54-7q5-9 14-5m24 7q-10 6-7 18m21-22q-35-1-51 30m-85-19q4-8 11-6m-2 8q-11 7-9 20m33-20q13-12 30-9m12 9q6-19-12-28m25 30q-31-5-53 17m87-16q-25 28-61 17m-89-8q33-11 53 17m76-21q13 8 27 3m-20 6q-5-12 1-23m6 14q-17 9-34 3m-70 14q37 35 80 6m-21-8q-16-36 2-72m12 74q4-22 25-31m-88 40q-5 4-5 11m13-13q14 6 26-4m-5 4q7-3 9-11m9 11q-30-29-70-18m27 39q-18 12-21 34m70-34q-22 16-44 1m-42 2q-9 12 0 24m20-19q-10 25 6 46m-1-52q-12 19 1 37m8-28q22 21 50 13m-42-17q14 26-8 46m55-45q6-6 4-14m-74 25q-11 13-28 7m98-11q-10-13-27-12m-67 33q-13 2-21-8m56 5q-1 7-7 9m21-14q-11 6-10 19m17-22q-29 7-50-14m18 30q-9-4-9-14m59 18q-13 8-15 23m-52-11q-10-4-18 3m31-4q-17-15-40-14m82 16q-18-13-39-5m68-3q2 13-8 22m-50-7q26-13 46 8m-2 3q25-23 24-58" stroke="#ef8fab" stroke-width="0.75" fill="none" stroke-opacity="0.85"/>
<path d="M699 253q7 6 16 4m-5 15q2-1 1-4m14 5q-3-3-2-7m14 0q-6-3-5-9m13 12q-5 7-2 14m3-18q-12-1-13-13m19 17q-3 14-16 21m-45-6q-2-5-8-5m44-2q-3 1-4 5m28-4q11 3 19-5m-11 12q3-6-1-11m-80 22q3 9-1 17m37-21q-5 7-1 15m26-12q13-1 19 11m-12-14q-19-8-16-29m-136 38q1 9 10 11m27-12q33-19 59 8m54-4q-5-21 13-31m-12 33q9-5 9-15m-196 32q3-21 23-22m-23 14q9 18 29 19m42-16q-3-11 4-21m64 19q-24 25-59 20m63-20q-1-7 4-10m3 8q14-5 23 6m-21-8q6 19 26 26m-2-15q-6 14 6 23m-185-11q41-9 63 27m-2-33q-27 7-40 32m40-29q8 1 15-5m45 8q-41 11-71-20m82 19q-41-30-81 2m99-8q10-6 6-17m-1 18q-24 43-71 30m71-33q-29-25-62-6m93 12q3 15-10 22m-172-13q8 1 11 8m26-2q13-3 25 5m-24-15q-12 3-21-6m32 9q0-17-12-29m44 25q9 12 2 24m9-23q-25 1-43-17m77 23q-17-14-33 0m-80 8q5-34 34-52m43 60q-12-36-46-51m50 41q-12-30-44-31m62 33q-16-1-19-17m57 21q-28-11-28-40m-73 46q8 2 10 11m8-8q-12 4-22-2m93 5q-28-4-29-32m-47 43q6 26-16 41m36-44q-18-27-49-18m59 17q15 5 13 20m-16-3q18 19 11 45m-63-29q2 6 9 6m45-9q-12 28-41 38m68-36q-4 7-13 6m33-8q-16-2-19-19m-109 23q25 13 23 41m1-30q-9 22-32 19m38-27q-3-5 0-9m41 8q5 0 6 6m4 2q8 17 26 23m-17-30q20-25 50-12m6 10q-8-28-37-30m-112 41q2-14 15-18m10 20q-8 3-13-4m97 13q-14-26-44-23m84 16q6 0 8-5m-5 10q4 17-10 28m-123-23q-1-13 12-19m11 26q5 16-8 27m29-31q18 26 50 23m9-28q-4 6-2 13m-73 3q-9 6-19 4m36-6q-23 4-40-14m72 20q9 4 9 15m31-17q-4 12-16 18m-92-1q18-1 29 13m-18-16q6-19-10-30m10 28q-20-6-28-25m46 26q-1-20-16-34m82 30q-19 17-44 9m-39 0q5-1 8 4m7-3q-9-8-5-19" stroke="#4fb58c" stroke-width="0.75" fill="none" stroke-opacity="0.85"/>
<path d="M690 308q5-8-2-15m-109 25q6 1 11 6m94 12q-5-6-2-14m9 40q15-6 28 1m-72 61q29-17 24-49m-15 92q-6-18 7-30" stroke="#f1d77a" stroke-width="0.75" fill="none" stroke-opacity="0.85"/>
<path d="M745 269h0m1-4h0m0 27h0m-152 9h0m96 7h0m54-4h0m-105 16h0m95 3h0m-81 26h0m18 25h0m-80 24h0m89 5h0m-89 19h0m38 15h0" stroke="#f2d21c" stroke-width="2.4" stroke-linecap="round"/>
<path d="M731 248h0m-4 29h0m-36 7h0m-82 22h0m21 1h0m1-7h0m29 6h0m47-1h0m38 1h0m-187 9h0m152-3h0m-77 9h0m38 6h0m-116 8h0m85 1h0m47-2h0m-84 6h0m33 2h0m42 0h0m47 3h0m-153 6h0m77 8h0m22-8h0m40 8h0m-87 17h0m27-2h0m-3 17h0m2 13h0m-40 10h0m49-3h0m-74 23h0m25 2h0m65-5h0m13 1h0m-75 16h0m76 11h0m-95 8h0m25-7h0m2 9h0m2-6h0" stroke="#2f9fcf" stroke-width="2.4" stroke-linecap="round"/>
<path d="M699 253h0m53 16h0m-27 4h0m34 12h0m-81 11h0m75-6h0m-186 29h0m11-9h0m-20 13h0m58 9h0m109 1h0m-40 10h0m2 24h0m10 0h0m-44 7h0m-84 34h0m146 1h0m-65 9h0m-29 10h0m27 25h0m54-3h0m-39 21h0" stroke="#b8125a" stroke-width="2.4" stroke-linecap="round"/>
<circle cx="518" cy="212" r="12.9" fill="#ef8fab" fill-opacity="0.75"/>
<circle cx="518" cy="212" r="14" fill="url(#K1)"/>
<circle cx="518" cy="212" r="11.9" fill="url(#K1r)"/>
<circle cx="732" cy="167" r="12" fill="#ef8fab" fill-opacity="0.75"/>
<circle cx="732" cy="167" r="13" fill="url(#K1)"/>
<circle cx="732" cy="167" r="11" fill="url(#K1r)"/>
<circle cx="695" cy="133" r="10.1" fill="#ef8fab" fill-opacity="0.58"/>
<circle cx="695" cy="133" r="11" fill="url(#K1)"/>
<circle cx="732" cy="207" r="10.1" fill="#ef8fab" fill-opacity="0.58"/>
<circle cx="732" cy="207" r="11" fill="url(#K1)"/>
<circle cx="798" cy="258" r="12" fill="#ef8fab" fill-opacity="0.58"/>
<circle cx="798" cy="258" r="13" fill="url(#K1)"/>
<circle cx="721" cy="295" r="11" fill="#ef8fab" fill-opacity="0.58"/>
<circle cx="721" cy="295" r="12" fill="url(#K1)"/>
<circle cx="817" cy="231" r="11" fill="#ef8fab" fill-opacity="0.58"/>
<circle cx="817" cy="231" r="12" fill="url(#K1)"/>
<circle cx="781" cy="231" r="10.1" fill="#ef8fab" fill-opacity="0.58"/>
<circle cx="781" cy="231" r="11" fill="url(#K1)"/>
<circle cx="768" cy="283" r="9.2" fill="#ef8fab" fill-opacity="0.58"/>
<circle cx="768" cy="283" r="10" fill="url(#K1)"/>
<circle cx="800" cy="302" r="8.3" fill="#ef8fab" fill-opacity="0.58"/>
<circle cx="800" cy="302" r="9" fill="url(#K1)"/>
<circle cx="510" cy="282" r="10.1" fill="#ef8fab" fill-opacity="0.58"/>
<circle cx="510" cy="282" r="11" fill="url(#K1)"/>
<circle cx="489" cy="290" r="8.3" fill="#ef8fab" fill-opacity="0.58"/>
<circle cx="489" cy="290" r="9" fill="url(#K1)"/>
<circle cx="555" cy="322" r="20.2" fill="#ef8fab" fill-opacity="0.75"/>
<circle cx="555" cy="322" r="22" fill="url(#K2)"/>
<circle cx="555" cy="322" r="18.7" fill="url(#K2r)"/>
<circle cx="645" cy="333" r="14.7" fill="#ef8fab" fill-opacity="0.75"/>
<circle cx="645" cy="333" r="16" fill="url(#K2)"/>
<circle cx="645" cy="333" r="13.6" fill="url(#K2r)"/>
<circle cx="597" cy="440" r="16.6" fill="#ef8fab" fill-opacity="0.75"/>
<circle cx="597" cy="440" r="18" fill="url(#K2)"/>
<circle cx="597" cy="440" r="15.3" fill="url(#K2r)"/>
<circle cx="664" cy="450" r="18.4" fill="#ef8fab" fill-opacity="0.75"/>
<circle cx="664" cy="450" r="20" fill="url(#K2)"/>
<circle cx="664" cy="450" r="17" fill="url(#K2r)"/>
<circle cx="590" cy="500" r="9.2" fill="#ef8fab" fill-opacity="0.58"/>
<circle cx="590" cy="500" r="10" fill="url(#K1)"/>
<circle cx="610" cy="470" r="8.3" fill="#ef8fab" fill-opacity="0.58"/>
<circle cx="610" cy="470" r="9" fill="url(#K1)"/>
<circle cx="563" cy="268" r="8.3" fill="#ef8fab" fill-opacity="0.58"/>
<circle cx="563" cy="268" r="9" fill="url(#K1)"/>
<circle cx="750" cy="360" r="8.3" fill="#ef8fab" fill-opacity="0.58"/>
<circle cx="750" cy="360" r="9" fill="url(#K1)"/>
<circle cx="700" cy="400" r="8.3" fill="#ef8fab" fill-opacity="0.58"/>
<circle cx="700" cy="400" r="9" fill="url(#K1)"/>
<circle cx="535" cy="470" r="8.3" fill="#ef8fab" fill-opacity="0.58"/>
<circle cx="535" cy="470" r="9" fill="url(#K1)"/>
<circle cx="780" cy="470" r="7.4" fill="#ef8fab" fill-opacity="0.58"/>
<circle cx="780" cy="470" r="8" fill="url(#K1)"/>
<path d="M693 122h0m5 1h0m3 3h0m-8 17h0m5-1h0m24 31h0m4 4h0m4 2h0m6-1h0m-231 29h0m18-7h0m7 7h0m193-4h0m17-2h0m-211 17h0m2-4h0m211-3h0m-235 9h0m18 3h0m246 4h0m5-4h0m11 16h0m-10 2h0m34 0h0m10 0h0m-36 14h0m25 4h0m1-4h0m-255 9h0m236 5h0m-279 3h0m5 3h0m50 0h0m231-5h0m-299 13h0m2 5h0m17-2h0m1-5h0m240 6h0m-276 10h0m59 7h0m25 3h0m149-2h0m5 2h0m8-6h0m61 1h0m16 4h0m-269 7h0m266-3h0m-270 12h0m97 6h0m28-2h0m-118 10h0m32-4h0m58 0h0m29 3h0m0-5h0m-116 10h0m90 2h0m123 13h0m-65 49h0m9 4h0m6-4h0m-50 29h0m10-2h0m10 6h0m-94 11h0m29-1h0m35-3h0m36 0h0m-94 11h0m6 1h0m14-5h0m2 11h0m41 3h0m124-2h0m7 0h0m-248 15h0m6-2h0m232-3h0m-192 28h0m5 7h0" stroke="#b8125a" stroke-width="2.5" stroke-linecap="round"/>
<path d="M688 125h0m-4 6h0m19 9h0m20 19h0m4-3h0m7-2h0m5 3h0m-18 5h0m22-1h0m1 5h0m-227 33h0m209 0h0m5-2h0m5 0h0m-228 5h0m213 5h0m-216 6h0m223 4h0m9-1h0m-227 6h0m10 2h0m259-3h0m6 1h0m6 7h0m20-7h0m8-2h0m6 3h0m3 4h0m-58 6h0m2 5h0m34-7h0m1 5h0m-26 5h0m12 6h0m5-1h0m3 1h0m5 2h0m11-7h0m-252 17h0m224-8h0m-229 9h0m11 4h0m215-3h0m3 6h0m-289 12h0m4-4h0m51-5h0m7 6h0m10-6h0m190 6h0m4-2h0m5 0h0m5 4h0m28-8h0m-322 16h0m3-3h0m8-1h0m4 3h0m221 0h0m5-2h0m5 3h0m34 3h0m16-5h0m-298 8h0m17-1h0m9 1h0m203 4h0m1-4h0m21-1h0m1 6h0m35-4h0m5-2h0m21 5h0m6-2h0m7 1h0m-247 8h0m154-1h0m14 3h0m67 3h0m14-8h0m-273 17h0m37-5h0m3 5h0m74 2h0m150-9h0m-264 18h0m42-7h0m57 1h0m4-2h0m15 1h0m-116 11h0m29 7h0m64-2h0m-75 7h0m82 2h0m6 2h0m6-1h0m5-2h0m89 10h0m5-3h0m6 0h0m-12 10h0m3 5h0m11-1h0m3-5h0m-67 37h0m4-5h0m5-2h0m5 4h0m-10 12h0m-110 21h0m5-3h0m6-1h0m6 0h0m5 3h0m-27 4h0m30 0h0m3 3h0m34 5h0m13-8h0m-80 11h0m33-1h0m-30 10h0m17 6h0m45-3h0m0-4h0m36 0h0m-154 16h0m5-4h0m5 0h0m5 5h0m59 0h0m13-3h0m41 3h0m6 1h0m5 1h0m4-2h0m6-2h0m3-4h0m-153 11h0m2 3h0m14-4h0m70 7h0m5-8h0m165 8h0m-201 17h0m2-3h0m7-1h0m4 0h0m3 6h0m-16 9h0m14 0h0m3-4h0" stroke="#2f9fcf" stroke-width="2.5" stroke-linecap="round"/>
<path d="M686 137h0m18-7h0m1 5h0m-17 5h0m33 27h0m19 9h0m3-4h0m-230 28h0m15 3h0m214 2h0m-18 8h0m9 5h0m-217 8h0m273-2h0m18 2h0m8-6h0m-25 15h0m36 3h0m2-6h0m-21 33h0m-299 7h0m50 3h0m156 12h0m45-6h0m17 6h0m-286 11h0m5-2h0m18-4h0m4-2h0m22 18h0m11-6h0m6-1h0m10 3h0m78 13h0m-70 10h0m-4 10h0m-19 5h0m9 0h0m97-1h0m92 28h0m-41 31h0m-127 37h0m70-2h0m20-1h0m8 6h0m-73 15h0m76 0h0m-78 8h0m44-2h0m125 8h0m13-2h0m-184 7h0m5 4h0m10-3h0m162 3h0m8-6h0m-196 37h0" stroke="#f2d21c" stroke-width="2.5" stroke-linecap="round"/>
<path d="M736 162h0m0 40h0m-212 10h0m288 15h0m4-3h0m2 8h0m-24 25h0m7-6h0m-293 37h0m5-1h0m209 7h0m-86 35h0m115 32h0m-148 84h0m4-3h0m46 10h0m13 7h0m-77 37h0" stroke="#f2d21c" stroke-width="2.4" stroke-linecap="round"/>
<path d="M691 136h0m3-3h0m1 2h0m5-5h0m30 35h0m5-4h0m-210 48h0m-9 2h0m4 7h0m216-7h0m41 23h0m0 1h0m1-4h0m2 5h0m31-5h0m-17 28h0m-233 5h0m6 5h0m228-7h0m-27 15h0m-261 3h0m3 6h0m263-3h0m-57 12h0m6-4h0m73 12h0m-244 7h0m6 0h0m0 2h0m6 6h0m-15 4h0m16 0h0m3 3h0m71 2h0m110 31h0m4-3h0m-47 44h0m-101 35h0m61 12h0m-1 8h0m0 6h0m116 9h0m-174 2h0m4 0h0m5 0h0m-20 26h0" stroke="#2f9fcf" stroke-width="2.4" stroke-linecap="round"/>
<path d="M737 172h0m-11 37h0m6-4h0m-211 11h0m42 51h0m-75 20h0m281-7h0m-283 13h0m5 2h0m235-2h0m72 10h0m7-2h0m-261 16h0m106 8h0m-13 11h0m13 2h0m51 58h0m-3 9h0m-96 29h0m-10 15h0m1-9h0m63 8h0m10 0h0m-136 20h0m4 1h0m4-2h0m239 3h0m-190 35h0" stroke="#b8125a" stroke-width="2.4" stroke-linecap="round"/>
<circle cx="622" cy="205" r="23" fill="#a82868"/>
<circle cx="502" cy="252" r="15" fill="#ee7593"/>
<circle cx="477" cy="324" r="16" fill="#ee7593"/>
<circle cx="521" cy="398" r="21" fill="#b47a9a"/>
<circle cx="797" cy="398" r="21" fill="#8a86b8"/>
<circle cx="726" cy="480" r="20" fill="#ee7593"/>
<circle cx="665" cy="504" r="16" fill="#ee7593"/>
<circle cx="827" cy="292" r="17" fill="#ee7593"/>
<circle cx="761" cy="192" r="15" fill="#ee7593"/>
<path d="M617 185h0m3 4h0m1-5h0m1 2h0m3-2h0m7 3h0m1 2h0m-31 9h0m4-7h0m6 6h0m2-4h0m4 0h0m2 4h0m4 0h0m4 0h0m9 0h0m-36 5h0m2 2h0m2-4h0m2 4h0m3-4h0m14 4h0m2 3h0m4-7h0m0 7h0m5-7h0m4 0h0m4 4h0m-31 14h0m4 0h0m0-7h0m4 7h0m6-3h0m2 3h0m5 0h0m-19 4h0" stroke="#b8125a" stroke-width="4.4" stroke-linecap="round"/>
<path d="M609 189h0m3 0h0m1-3h0m3 3h0m8 0h0m-20 6h0m3 2h0m3-4h0m6 4h0m6-4h0m8 0h0m3 4h0m2-4h0m6 3h0m-36 11h0m5 0h0m4-7h0m0 7h0m4 0h0m0-7h0m2 4h0m2-4h0m4 0h0m7 4h0m4 0h0m2 3h0m2-3h0m1-4h0m1 8h0m-40 6h0m2 1h0m1 3h0m1-7h0m3 4h0m2-4h0m2 4h0m4 0h0m2-4h0m2 4h0m2-4h0m0 7h0m4-7h0m2 4h0m3-4h0m2 4h0m2-4h0m1 8h0m2-4h0m-32 6h0m4 2h0m3 2h0m3-3h0m1 4h0m3-4h0m1 4h0m3-4h0m1 3h0m3-3h0m1 2h0m4-3h0" stroke="#f2d21c" stroke-width="4.4" stroke-linecap="round"/>
<path d="M628 189h0m1-4h0m7 4h0m-10 4h0m12-1h0m-37 14h0m11-2h0m4 0h0m6 3h0m6-3h0m7 3h0m-33 3h0m40 2h0" stroke="#2f9fcf" stroke-width="4.4" stroke-linecap="round"/>
<path d="M499 247h0m3-5h0m3 16h0m-30 52h0m250 155h0m14 2h0m-30 6h0m16 1h0m9 5h0m8-7h0m2 5h0m-30 7h0m6 0h0m2 5h0m3-5h0m11 11h0m-66 9h0" stroke="#f2d21c" stroke-width="3.4" stroke-linecap="round"/>
<path d="M758 198h0m-253 49h0m207 222h0m4-4h0m14-3h0m-16 12h0m3-4h0m11 9h0m3-5h0m5 0h0m-8 15h0m3-5h0m3 5h0m-67 9h0m53-5h0m12 4h0m8-6h0" stroke="#b8125a" stroke-width="3.4" stroke-linecap="round"/>
<path d="M760 179h0m-10 5h0m5-4h0m6 2h0m3 5h0m2-7h0m5 3h0m3 5h0m-26 8h0m0-6h0m7 3h0m6 0h0m3 5h0m10-4h0m-23 7h0m5 3h0m6 1h0m5-1h0m5-4h0m-272 39h0m6 0h0m-16 7h0m4-5h0m17 1h0m3 5h0m-25 4h0m1 6h0m6-4h0m3 5h0m3-5h0m6 0h0m6 5h0m1-5h0m-22 9h0m5 3h0m6 0h0m6-2h0m-45 53h0m5-4h0m3 6h0m3-5h0m3 5h0m2-8h0m4 8h0m1-5h0m4 5h0m-27 3h0m0 6h0m7-3h0m3 5h0m3-5h0m3 5h0m6 0h0m6-5h0m-25 9h0m4 3h0m6-2h0m0 4h0m6 0h0m5-4h0m3-4h0m230 133h0m5-1h0m10 2h0m-27 14h0m4 1h0m5 0h0m3-5h0m2 5h0m6-9h0m6 0h0m5 9h0m-31 4h0m2 5h0m7 1h0m19-5h0m7 3h0m1-5h0m-91 14h0m5-4h0m3 6h0m2-8h0m1 3h0m5-3h0m4 8h0m2-5h0m3 5h0m35-5h0m4 3h0m5 2h0m3-5h0m2 5h0m4-5h0m-80 14h0m0-6h0m7 3h0m3 5h0m3-5h0m3 5h0m12-5h0m-26 8h0m5 4h0m6-2h0m0 4h0m5 0h0m6-3h0m3-5h0" stroke="#2f9fcf" stroke-width="3.4" stroke-linecap="round"/>
<path d="M506 386h0m5 2h0m2-3h0m0-4h0m7 0h0m4 7h0m267 0h0m16-3h0m2 3h0m-302 8h0m2-4h0m4 0h0m7 4h0m19-2h0m1 4h0m258-6h0m4 0h0m11 4h0m-300 4h0m5 0h0m8 7h0m0-7h0m9 7h0m0-7h0m3 6h0m2-4h0m245 5h0m9 0h0m13 0h0m-301 3h0m5 1h0m10 6h0m3-6h0m9 2h0m3-3h0m251 4h0m16 2h0" stroke="#f2d21c" stroke-width="4" stroke-linecap="round"/>
<path d="M509 383h0m9 2h0m8 0h0m3 3h0m0-7h0m4 2h0m0 5h0m251-4h0m5 1h0m5 0h0m8 0h0m-300 13h0m13-2h0m11-4h0m3 4h0m8 0h0m1-6h0m262 6h0m-296 10h0m3-2h0m11 3h0m2-3h0m2 3h0m274-3h0m13 0h0m4 4h0m-304 5h0m11-2h0" stroke="#b8125a" stroke-width="4" stroke-linecap="round"/>
<path d="M521 379h0m4 0h0m270 0h0m5 0h0m-285 9h0m2-8h0m3 8h0m2-3h0m9 0h0m5 1h0m245 2h0m6 0h0m0-6h0m4-2h0m5 8h0m0-7h0m2 4h0m2 3h0m4-8h0m1 8h0m2-6h0m4 3h0m2 3h0m-311 6h0m2-4h0m7 6h0m7-4h0m4 0h0m2 4h0m7-4h0m2 4h0m2-4h0m243 3h0m1-4h0m4 5h0m2-4h0m2 4h0m2-4h0m2 4h0m3-4h0m2 4h0m9 0h0m2-4h0m2 4h0m2-4h0m4 0h0m1 4h0m-313 6h0m1-2h0m5 7h0m0-7h0m2 4h0m2 3h0m2-3h0m7-4h0m2 4h0m5 0h0m2 3h0m0-7h0m2 4h0m245-4h0m1 4h0m1-4h0m1 8h0m2-4h0m2-4h0m2 4h0m2 3h0m0-7h0m2 4h0m3-4h0m4 7h0m0-7h0m2 4h0m2 3h0m0-7h0m3 4h0m2-4h0m4 7h0m0-7h0m4 5h0m1-4h0m-303 14h0m2-4h0m2 6h0m5-2h0m3 1h0m4-5h0m0 4h0m254-4h0m4 0h0m3 5h0m1-5h0m3 6h0m2-6h0m2 4h0m1 2h0m1-6h0m5 0h0m2 3h0m3-2h0" stroke="#2f9fcf" stroke-width="4" stroke-linecap="round"/>
<path d="M813 286h0m15-1h0m-9 6h0m3 5h0m6 0h0m6 0h0m8-4h0m-26 11h0m11 4h0m6-1h0" stroke="#b8125a" stroke-width="3.2" stroke-linecap="round"/>
<path d="M834 285h0m-21 13h0" stroke="#f2d21c" stroke-width="3.2" stroke-linecap="round"/>
<path d="M821 278h0m6-1h0m6 1h0m-17 3h0m22 0h0m3 5h0m-29 6h0m4 4h0m15-5h0m6 0h0m4 7h0m-20 8h0m4-5h0m6 0h0m7 2h0" stroke="#2f9fcf" stroke-width="3.2" stroke-linecap="round"/></g>
<g><circle cx="1197" cy="326" r="205" fill="url(#tB1)"/>
<path d="M1051 227m-24 0a24 24 0 1 0 48 0a24 24 0 1 0-48 0M1035 279m-21 0a21 21 0 1 0 42 0a21 21 0 1 0-42 0M1024 325m-22 0a22 22 0 1 0 44 0a22 22 0 1 0-44 0M1022 346m-21 0a21 21 0 1 0 42 0a21 21 0 1 0-42 0M1206 141m-26 0a26 26 0 1 0 52 0a26 26 0 1 0-52 0M1291 168m-21 0a21 21 0 1 0 42 0a21 21 0 1 0-42 0M1300 185m-18 0a18 18 0 1 0 36 0a18 18 0 1 0-36 0M1262 199m-18 0a18 18 0 1 0 36 0a18 18 0 1 0-36 0M1331 211m-19 0a19 19 0 1 0 38 0a19 19 0 1 0-38 0M1350 227m-18 0a18 18 0 1 0 36 0a18 18 0 1 0-36 0M1340 286m-20 0a20 20 0 1 0 40 0a20 20 0 1 0-40 0M1333 314m-19 0a19 19 0 1 0 38 0a19 19 0 1 0-38 0M1359 371m-25 0a25 25 0 1 0 50 0a25 25 0 1 0-50 0M1314 437m-24 0a24 24 0 1 0 48 0a24 24 0 1 0-48 0M1254 443m-19 0a19 19 0 1 0 38 0a19 19 0 1 0-38 0M1125 475m-26 0a26 26 0 1 0 52 0a26 26 0 1 0-52 0M1062 464m-17 0a17 17 0 1 0 34 0a17 17 0 1 0-34 0M1211 490m-17 0a17 17 0 1 0 34 0a17 17 0 1 0-34 0M1258 497m-22 0a22 22 0 1 0 44 0a22 22 0 1 0-44 0M1281 486m-21 0a21 21 0 1 0 42 0a21 21 0 1 0-42 0M1175 517m-20 0a20 20 0 1 0 40 0a20 20 0 1 0-40 0M1359 371m-34 0a34 34 0 1 0 68 0a34 34 0 1 0-68 0M1314 437m-30 0a30 30 0 1 0 60 0a30 30 0 1 0-60 0M1125 475m-32 0a32 32 0 1 0 64 0a32 32 0 1 0-64 0M1051 227m-28 0a28 28 0 1 0 56 0a28 28 0 1 0-56 0M1121 164m-17 0a17 17 0 1 0 34 0a17 17 0 1 0-34 0M1088 180m-13 0a13 13 0 1 0 26 0a13 13 0 1 0-26 0M1088 204m-13 0a13 13 0 1 0 26 0a13 13 0 1 0-26 0M1227 187m-14 0a14 14 0 1 0 28 0a14 14 0 1 0-28 0M1274 382m-15 0a15 15 0 1 0 30 0a15 15 0 1 0-30 0M1368 260m-13 0a13 13 0 1 0 26 0a13 13 0 1 0-26 0M1377 278m-12 0a12 12 0 1 0 24 0a12 12 0 1 0-24 0M1310 300m-15 0a15 15 0 1 0 30 0a15 15 0 1 0-30 0M1180 145m-16 0a16 16 0 1 0 32 0a16 16 0 1 0-32 0M1200 405m-14 0a14 14 0 1 0 28 0a14 14 0 1 0-28 0M1160 410m-12 0a12 12 0 1 0 24 0a12 12 0 1 0-24 0M1231 412m-14 0a14 14 0 1 0 28 0a14 14 0 1 0-28 0M1090 415m-12 0a12 12 0 1 0 24 0a12 12 0 1 0-24 0M1205 465m-11 0a11 11 0 1 0 22 0a11 11 0 1 0-22 0M1240 462m-11 0a11 11 0 1 0 22 0a11 11 0 1 0-22 0M1165 130m-12 0a12 12 0 1 0 24 0a12 12 0 1 0-24 0M1110 400m-11 0a11 11 0 1 0 22 0a11 11 0 1 0-22 0" fill="#fff"/>
<ellipse cx="1180" cy="300" rx="97.6" ry="89.6" fill="#ef8fab" fill-opacity="0.12"/>
<ellipse cx="1180" cy="300" rx="122" ry="112" fill="url(#W1)"/>
<ellipse cx="1173.2" cy="291.7" rx="87.8" ry="80.6" fill="url(#W1r)" fill-opacity="0.60"/>
<ellipse cx="1130" cy="180" rx="70" ry="45" fill="url(#W1)" fill-opacity="0.80"/>
<path d="M1176 156q-11-9-24-7m-86 23q5 24 28 31m88-33q12 10 10 25m-30-3q-9-1-12 7m30 15q9 13 0 25m31-34q42 27 27 75m-102-58q-11-1-13-12m36 21q-8 2-12-4m-48 14q-5 10 3 18m73-9q10 6 21 0m44-4q-14 8-25-4m-86 12q-33 18-36 55m48-48q30-29 9-65m33 57q27-4 41-27m9 33q-29 12-48-13m-53 28q34 16 63-8m-40 24q-11-1-14-12m118 18q17-14 35-3m-210 16q13-34-15-56m-2 61q-15-30 12-50m131 50q1-24-18-39m-91 65q3-25 25-39m53 72q6 6 13 6m-49 9q-7 12 4 21m74-10q23-26 58-24" stroke="#f1d77a" stroke-width="0.75" fill="none" stroke-opacity="0.85"/>
<path d="M1108 142q-14-7-25 4m62-4q-14 5-17 21m-34-11q5 3 4 9m36-12q-18 9-22 28m56-28q-5-1-7-6m-78 21q-9-2-12 6m45-13q-19 5-24 24m58-25q-12-2-18-12m44 13q-6 4-12 2m-86 17q20 18 41 2m-9-2q-11-2-14 8m15-8q8-7 17-4m-5 5q-9 2-12 10m56-12q6 3 10-2m-4 3q-12-4-20 6m-30-2q1 10 10 12m21-3q13-9 28-2m-23 2q-13 3-23-5m62 2q-1 9-9 11m-107 1q-1-4 1-7m31 3q2 4 0 8m26-9q0-6-6-8m13 8q50-4 74 39m-62-32q-11 5-21-1m54-5q-15-10-14-28m18 28q-2 27 20 42m6-36q12-3 20 6m-151 6q-11-5-13-17m33 12q3-11-4-19m5 17q6 3 11-2m-3 9q-6 1-10-3m11-2q10-9 23-6m-15 4q-11-9-7-23m11 31q-14-7-24 5m31-14q7 45 53 51m-52-45q21-14 40 1m-37-1q-22 41-69 41m78-38q10 2 17-4m4 0q-6-2-9-8m46 14q-5-8-13-5m-95 8q11 8 22 1m-13-2q4 3 3 9m-2-8q-17-12-15-32m40 40q-11 36 21 56m-21-64q-10-23 10-38m-1 44q9 30-11 55m20-59q5-4 5-10m32 17q-19 11-21 33m51-36q20-10 34 6m-33-6q9 12 23 12m-1-9q-29 40-77 30m-83-19q38 12 50 49m-49-50q30-3 35-33m-15 34q24 33 11 72m42-72q-17-19-40-8m42 8q-8-7-17-3m51-1q-6-13 2-24m13 27q7-9 0-19m11 12q-24 25-13 58m-126-41q-4 22-26 26m39-32q30 4 44 32m-25-29q24 11 19 37m-1-39q36-16 48-54m-39 61q-10-2-15-12m18 4q-13-29 10-51m-4 57q-11 11-24 3m38-3q17 16 12 38m16-43q-23 0-34-21m43 30q-10 19 1 38m23-40q27 5 34 32m19-32q11 47-30 72m-139-59q-16-1-19-16m66 11q15 25 0 50m36-54q25-12 20-40m-19 47q7-19-9-33m31 28q-30-28-64-6m93 7q10 47 59 54m-47-56q-51 11-76-35m78 36q-17 22-11 49m-153-31q10 36-20 58m35-66q-30-3-39 26m51-19q9 35-21 57m39-57q8-5 16 0m-15 1q-6-23-27-32m69 25q-15 25 2 50m1-48q-13 15-32 9m66-4q-20 13-37-3m41-1q-9 12-24 7m55-4q-28 40 4 77m-175-62q31-4 43-33m-24 33q-8 12 0 25m11-35q40 24 73-9m-53 13q8-20 29-17m-12 17q17 5 31-5m-20 8q-6-43-48-52m53 45q0-21 22-27m1 31q-1-15 12-20m-7 15q36-23 77-13m-76 13q10-12 0-25m20 27q23 33-5 62m42-61q-11 35 9 65m22-61q12-9 13-23m-211 34q33 17 25 53m-13-55q-7-15-24-13m39 16q-13 4-12 17m41-17q24 39 6 81m19-88q-14 14-5 33m5-32q26 18 51 0m-4 2q-27-32-68-22m91 22q20 17 45 8m-44-10q-33 4-42 37m44-28q13-28 0-55m2 45q-2 10 7 14m2-11q34 17 42 54m-36-49q4 7 11 7m-4-6q9 6 7 17m4-15q-41-24-39-71m-121 80q-9-35 20-57m-17 58q4-29 29-43m-22 36q44-12 40-58m-27 65q-27-14-32-45m57 47q21 16 47 9m-40-10q-25 34-64 19m68-28q6 36-24 57m46-53q6-8 16-8m-15 9q9-36 44-46m15 48q-44 1-62-39m85 42q13 8 26 0m-5-8q-15 41-60 43m-160-33q20 29 0 58m5-56q33 13 59-12m-41 18q43-25 29-72m-19 67q4-20-15-28m41 24q-1-13-13-17m16 24q-23-12-46-1m55-2q-27-20-57-4m89 7q-4 18 10 30m-7-28q-38-21-36-64m85 61q-37-33-17-80m31 83q7-6 14-2m-4-7q-6 7-2 15m11-11q-27 39-75 30m-71-16q-2 27-27 34m55-29q-20 22-48 13m87-21q-44 10-49 56m61-52q12-6 21 5m-11-9q20 27-3 51m14-54q-11-5-19 3m38-3q-31 36-76 20m119-12q-35-8-52-41m60 37q-17-37-58-46m-111 55q-35-30-28-76m51 84q1 31 28 44m-22-51q-11 28 9 51m5-50q-23-39-69-39m71 47q14-41 58-36m-54 36q16 43 58 59m-25-59q-27 8-50-9m105-1q22-11 23-36m-195 57q8 23 32 24m-8-24q-15 8-29 1m37-5q4 11-7 17m17-16q-17-28-49-26m68 20q-3-19 9-35m98 44q34-11 30-47m-25 45q-7-19-26-23m-149 29q-7-8-4-18m4 16q43-19 33-65m0 70q10-33-7-61m22 67q21-13 14-36m11 35q8-31-21-44m23 34q-20 24-50 19m58-18q17-16 39-12m-1 21q-26 39-70 25m71-31q12 4 16 17m-13-10q47 1 68-42m-65 35q-2 19 15 27m16-25q31-22 16-57m-15 59q-16-4-30 6m-112 4q-3-47 40-68m-29 65q-15-24-1-48m8 49q19 12 35-4m-12 0q8-20-6-35m20 46q-19 3-33-9m68 4q9 20-9 33m25-33q0-9-8-12m54 15q0-13 10-22m-139 27q-12-7-23 2m32 0q25-20 25-51m20 54q-8-15-25-20m69 22q-6-33-40-35m-32 39q-8-8-3-19m15 19q22 7 35-13m-33 13q-13-36 7-67m2 68q19-27 48-15m-37 16q-25-42-73-44m69 55q9-41 50-42" stroke="#ef8fab" stroke-width="0.75" fill="none" stroke-opacity="0.85"/>
<path d="M1127 216q-36 22-22 61m138-57q-37-6-60 23m-91-11q-7 21 12 33m13-21q-5 21 10 37m-35-26q4-8 13-10m145 16q-11 11-3 24m-100-11q4 20 25 22m-66-8q0-8 6-12m40 34q-39 24-79 2m145-12q31-3 51 22m-31-16q-3-9-13-7m-76 19q-24-23-23-56m5 71q-9-12-24-11m55 21q-11 29 9 53m60-37q6-35-21-59m-58 77q-14 14-33 10m16 3q-22-37-64-37m133 54q-1-31 28-39" stroke="#4fb58c" stroke-width="0.75" fill="none" stroke-opacity="0.85"/>
<path d="M1176 156h0m-22 33h0m5 0h0m-19 4h0m22-1h0m-50 13h0m9 2h0m101-7h0m-84 18h0m6-8h0m36 4h0m-44 8h0m75 15h0m11-7h0m-126 11h0m37 1h0m24 15h0m76 2h0m-37 17h0m57 3h0m-169 8h0m19 0h0m87-6h0m52 7h0m-5 3h0m14 0h0m-167 18h0m41-7h0m113 4h0m-87 10h0m32 3h0m18 12h0m-33 16h0m-56 11h0m18-3h0m126 3h0m-10 10h0m-35 3h0m-75 17h0m7 0h0" stroke="#b8125a" stroke-width="2.4" stroke-linecap="round"/>
<path d="M1145 142h0m23 7h0m-90 27h0m32 0h0m13 1h0m69 17h0m-63 11h0m-38 7h0m22 6h0m7-6h0m91 3h0m-119 17h0m67-1h0m3 7h0m-20 11h0m9-2h0m42-5h0m33 7h0m-134 6h0m153 1h0m12-2h0m-147 11h0m114 4h0m-57 8h0m28-1h0m21 2h0m39-6h0m-88 17h0m-81 5h0m56 1h0m72-4h0m-96 18h0m56-8h0m-94 12h0m62 6h0m93-1h0m-13 6h0m-56 15h0m94-2h0m-98 6h0m10 4h0m89 9h0m-100 4h0m47 4h0m6 0h0m-79 26h0m18 7h0m12 0h0m22 2h0" stroke="#2f9fcf" stroke-width="2.4" stroke-linecap="round"/>
<path d="M1094 152h0m82 5h0m-69 81h0m-8 3h0m18 3h0m48 3h0m-55 15h0m110 11h0m18 16h0m21 7h0m-174 19h0m64 3h0m21-8h0m98 6h0m-137 17h0m153-1h0m-180 46h0m121 15h0m-21 14h0" stroke="#f2d21c" stroke-width="2.4" stroke-linecap="round"/>
<circle cx="1121" cy="164" r="13.8" fill="#ef8fab" fill-opacity="0.58"/>
<circle cx="1121" cy="164" r="15" fill="url(#K1)"/>
<circle cx="1088" cy="180" r="10.1" fill="#ef8fab" fill-opacity="0.58"/>
<circle cx="1088" cy="180" r="11" fill="url(#K1)"/>
<circle cx="1088" cy="204" r="10.1" fill="#ef8fab" fill-opacity="0.58"/>
<circle cx="1088" cy="204" r="11" fill="url(#K1)"/>
<circle cx="1227" cy="187" r="11" fill="#ef8fab" fill-opacity="0.58"/>
<circle cx="1227" cy="187" r="12" fill="url(#K1)"/>
<circle cx="1274" cy="382" r="12" fill="#ef8fab" fill-opacity="0.58"/>
<circle cx="1274" cy="382" r="13" fill="url(#K1)"/>
<circle cx="1368" cy="260" r="10.1" fill="#ef8fab" fill-opacity="0.58"/>
<circle cx="1368" cy="260" r="11" fill="url(#K1)"/>
<circle cx="1377" cy="278" r="9.2" fill="#ef8fab" fill-opacity="0.58"/>
<circle cx="1377" cy="278" r="10" fill="url(#K1)"/>
<circle cx="1310" cy="300" r="12" fill="#ef8fab" fill-opacity="0.58"/>
<circle cx="1310" cy="300" r="13" fill="url(#K1)"/>
<circle cx="1180" cy="145" r="12.9" fill="#ef8fab" fill-opacity="0.58"/>
<circle cx="1180" cy="145" r="14" fill="url(#K1)"/>
<circle cx="1200" cy="405" r="11" fill="#ef8fab" fill-opacity="0.58"/>
<circle cx="1200" cy="405" r="12" fill="url(#K1)"/>
<circle cx="1160" cy="410" r="9.2" fill="#ef8fab" fill-opacity="0.58"/>
<circle cx="1160" cy="410" r="10" fill="url(#K1)"/>
<circle cx="1231" cy="412" r="11" fill="#ef8fab" fill-opacity="0.58"/>
<circle cx="1231" cy="412" r="12" fill="url(#K1)"/>
<circle cx="1090" cy="415" r="9.2" fill="#ef8fab" fill-opacity="0.58"/>
<circle cx="1090" cy="415" r="10" fill="url(#K1)"/>
<circle cx="1205" cy="465" r="8.3" fill="#ef8fab" fill-opacity="0.58"/>
<circle cx="1205" cy="465" r="9" fill="url(#K1)"/>
<circle cx="1240" cy="462" r="8.3" fill="#ef8fab" fill-opacity="0.58"/>
<circle cx="1240" cy="462" r="9" fill="url(#K1)"/>
<circle cx="1165" cy="130" r="9.2" fill="#ef8fab" fill-opacity="0.58"/>
<circle cx="1165" cy="130" r="10" fill="url(#K1)"/>
<circle cx="1110" cy="400" r="8.3" fill="#ef8fab" fill-opacity="0.58"/>
<circle cx="1110" cy="400" r="9" fill="url(#K1)"/>
<path d="M1163 121h0m11 4h0m-4 11h0m3-1h0m2-4h0m4 1h0m6 1h0m4 2h0m-23 13h0m1-6h0m25 0h0m-84 15h0m6-5h0m4-2h0m14 5h0m37-4h0m20 4h0m-102 14h0m20-1h0m27-7h0m2 5h0m-57 10h0m17-2h0m2 4h0m11-5h0m11 5h0m13-6h0m96 4h0m-149 10h0m17-2h0m141-1h0m0 6h0m-159 10h0m5-5h0m7-4h0m126 3h0m4 3h0m-144 7h0m20-2h0m-11 13h0m276 38h0m3-1h0m7-1h0m-14 11h0m16 7h0m-6 9h0m1-4h0m14-2h0m-78 17h0m11 1h0m53-6h0m5 4h0m8-2h0m4-4h0m-86 26h0m18 1h0m4-6h0m-7 9h0m-49 62h0m20 14h0m-181 7h0m6-2h0m83 4h0m5-2h0m9 3h0m71-4h0m-190 13h0m5 0h0m8-2h0m11 4h0m6-8h0m32 8h0m7-8h0m6 2h0m5 3h0m21-5h0m20 9h0m11-1h0m7-7h0m11 2h0m3 6h0m-161 7h0m1-5h0m82 7h0m3-2h0m22-6h0m4 5h0m6 1h0m10-3h0m10 0h0m22 6h0m1-5h0m-154 10h0m4 0h0m5-4h0m128 2h0m7 37h0m5-5h0m5-1h0m5 4h0m-51 7h0m17 5h0m19-5h0m4 5h0m9-1h0m-37 5h0m32-3h0" stroke="#2f9fcf" stroke-width="2.5" stroke-linecap="round"/>
<path d="M1159 122h0m10 0h0m-13 10h0m3 5h0m9 2h0m5-6h0m20 14h0m-66 5h0m51 6h0m13-7h0m-84 9h0m-25 11h0m42 6h0m5-1h0m89 3h0m17-1h0m-157 3h0m6 8h0m132-6h0m0 6h0m-121 7h0m133 3h0m5-2h0m3-3h0m-158 15h0m3 3h0m15-2h0m263 46h0m17-2h0m-16 14h0m14 1h0m3-5h0m9 12h0m-76 12h0m-12 9h0m4-5h0m-4 10h0m-36 76h0m7-8h0m16 5h0m-23 10h0m24-4h0m-184 16h0m101-3h0m66-1h0m5 1h0m-190 14h0m23 0h0m82-4h0m45-3h0m-135 16h0m60 2h0m63-1h0m-23 41h0m7-2h0m7 5h0m-15 8h0m4 3h0" stroke="#b8125a" stroke-width="2.5" stroke-linecap="round"/>
<path d="M1156 127h0m6 13h0m-40 11h0m51 5h0m9 2h0m-91 12h0m22 6h0m112 0h0m-130 12h0m-6 5h0m9 12h0m-7 9h0m288 44h0m-16 11h0m14 0h0m-6 1h0m8 17h0m-59 7h0m2 3h0m-18 14h0m5 1h0m-34 57h0m5 2h0m-16 17h0m-148 6h0m168-4h0m-167 14h0m36-1h0m17 6h0m41-6h0m12 1h0m-126 6h0m54 2h0m3 5h0m50-1h0m-120 6h0m146 1h0m5-1h0m-26 36h0m40 4h0" stroke="#f2d21c" stroke-width="2.5" stroke-linecap="round"/>
<path d="M1160 129h0m2 2h0m14 10h0m11 8h0m-73 10h0m-21 19h0m25-8h0m116 19h0m131 70h0m4-2h0m-1 3h0m7 18h0m5-4h0m-72 21h0m-35 84h0m-2 3h0m4-1h0m5 2h0m-174 15h0m49 9h0m46-1h0m-110 10h0m144-6h0m-141 10h0m113 43h0m2 1h0m27-1h0m5 4h0" stroke="#2f9fcf" stroke-width="2.4" stroke-linecap="round"/>
<path d="M1167 134h0m12 16h0m-64 17h0m8-1h0m-31 10h0m-2 22h0m0 6h0m290 69h0m-291 136h0m24-7h0m45 5h0m42 1h0m-44 5h0m47 54h0" stroke="#f2d21c" stroke-width="2.4" stroke-linecap="round"/>
<path d="M1176 142h0m8 2h0m-60 15h0m-38 22h0m1 5h0m-1 13h0m137-6h0m7 0h0m0-1h0m-143 15h0m286 50h0m-68 42h0m6-5h0m0 9h0m-202 99h0m95 1h0m-9 7h0m38 6h0m3-3h0m9 49h0" stroke="#b8125a" stroke-width="2.4" stroke-linecap="round"/>
<circle cx="1051" cy="227" r="19" fill="#ee7593"/>
<circle cx="1035" cy="279" r="16" fill="#ee7593"/>
<circle cx="1024" cy="325" r="17" fill="#ee7593"/>
<circle cx="1022" cy="346" r="16" fill="#ee7593"/>
<circle cx="1206" cy="141" r="21" fill="#ee7593"/>
<circle cx="1291" cy="168" r="16" fill="#ee7593"/>
<circle cx="1300" cy="185" r="13" fill="#ee7593"/>
<circle cx="1262" cy="199" r="13" fill="#ee7593"/>
<circle cx="1331" cy="211" r="14" fill="#ee7593"/>
<circle cx="1350" cy="227" r="13" fill="#ee7593"/>
<circle cx="1340" cy="286" r="15" fill="#ee7593"/>
<circle cx="1333" cy="314" r="14" fill="#ee7593"/>
<circle cx="1359" cy="371" r="20" fill="#a080b0"/>
<circle cx="1314" cy="437" r="19" fill="#a080b0"/>
<circle cx="1254" cy="443" r="14" fill="#ee7593"/>
<circle cx="1125" cy="475" r="21" fill="#8a86b8"/>
<circle cx="1062" cy="464" r="12" fill="#ee7593"/>
<circle cx="1211" cy="490" r="12" fill="#ee7593"/>
<circle cx="1258" cy="497" r="17" fill="#ee7593"/>
<circle cx="1281" cy="486" r="16" fill="#ee7593"/>
<circle cx="1175" cy="517" r="15" fill="#ee7593"/>
<path d="M1038 216h0m4-4h0m2 6h0m10-8h0m2 8h0m8-2h0m-29 5h0m6 3h0m3 5h0m3-5h0m6 0h0m3 5h0m3-5h0m3 5h0m5-8h0m1 6h0m-33 6h0m3 5h0m3-4h0m6 0h0m3 5h0m3-5h0m3 5h0m3-5h0m5 4h0m3-5h0m-19 11h0m299 113h0m2 2h0m2-4h0m2 4h0m3-6h0m2 6h0m2-6h0m3 6h0m2-5h0m3 5h0m1-3h0m3 3h0m-31 10h0m1-5h0m2 4h0m0-8h0m2 3h0m3 5h0m2-5h0m2 5h0m3-5h0m7 5h0m5 0h0m2-5h0m3 5h0m2-6h0m-34 11h0m1 5h0m4-6h0m3 4h0m2-4h0m2 4h0m3-4h0m2 4h0m3-4h0m2 4h0m2-4h0m3 4h0m2-4h0m3 4h0m4-5h0m0 5h0m-33 6h0m2-2h0m1 5h0m4 2h0m0-7h0m2 4h0m3-4h0m0 9h0m2-5h0m2 5h0m3-5h0m2 4h0m0-8h0m3 4h0m1 2h0m1-6h0m2 3h0m3-3h0m-76 48h0m3-3h0m3 1h0m1-4h0m3 4h0m1-6h0m5 0h0m5 1h0m4 5h0m0-3h0m3 3h0m-30 7h0m0 4h0m3-2h0m2 4h0m3-4h0m2-5h0m0 9h0m2-4h0m3 4h0m2-4h0m3-5h0m0 9h0m2-4h0m2-5h0m3 5h0m2-5h0m0 9h0m3-4h0m1-5h0m1 4h0m-33 8h0m1 4h0m6-3h0m2 4h0m2-4h0m3 4h0m2-4h0m3 4h0m2-4h0m2 4h0m3-4h0m4 5h0m2-4h0m-28 6h0m4 2h0m5 2h0m3-3h0m1 3h0m5-1h0m4-2h0" stroke="#2f9fcf" stroke-width="3.6" stroke-linecap="round"/>
<path d="M1048 210h0m2 8h0m10-6h0m-26 15h0m16 2h0m-8 13h0m12 2h0m6-2h0m298 126h0m3-5h0m4 0h0m-51 63h0m-2 4h0" stroke="#f2d21c" stroke-width="3.6" stroke-linecap="round"/>
<path d="M1038 229h0m339 138h0m-58 59h0m-17 4h0m19 9h0m10 0h0" stroke="#b8125a" stroke-width="3.6" stroke-linecap="round"/>
<path d="M1264 202h0m-230 66h0m291 42h0m9 6h0m-269 152h0" stroke="#b8125a" stroke-width="3" stroke-linecap="round"/>
<path d="M1255 196h0m6 0h0m-221 83h0m-6 10h0m9-5h0m288 26h0m0 11h0m6 0h0m-275 141h0m6 0h0" stroke="#2f9fcf" stroke-width="3" stroke-linecap="round"/>
<path d="M1267 196h0m-236 88h0m303 21h0m3 5h0m-278 158h0m152 20h0m-3 6h0" stroke="#f2d21c" stroke-width="3" stroke-linecap="round"/>
<path d="M1192 127h0m16-5h0m-19 10h0m29 4h0m4-5h0m-25 10h0m3 5h0m9-5h0m3 5h0m3-5h0m10 1h0m-16 9h0m3 8h0m78-2h0m-3 16h0m16 4h0m31 97h0m12 0h0m-6 13h0m-10 7h0m20 0h0m-335 18h0m4 6h0m2-8h0m6 0h0m-18 18h0m4 1h0m6 0h0m3-5h0m3 5h0m6 0h0m-20 8h0m7 3h0m3 0h0m6 0h0m0 6h0m9 1h0m-18 4h0m245 83h0m-2 11h0m-9 5h0m-7 39h0m9-7h0m6 0h0m-17 13h0m25 1h0m-25 5h0m3 6h0m1-6h0m6 0h0m3 5h0m9-5h0m-15 9h0m6 2h0m6 0h0" stroke="#b8125a" stroke-width="3.2" stroke-linecap="round"/>
<path d="M1187 137h0m4 4h0m12 0h0m3 5h0m0 10h0m76 1h0m-81 3h0m6 0h0m70 8h0m22-6h0m4-2h0m2 11h0m-19 11h0m64 96h0m-13 3h0m6 0h0m10 2h0m0 6h0m-10 3h0m3 6h0m-315 20h0m8 4h0m-18 13h0m0 21h0m10 1h0m-11 3h0m6 0h0m220 79h0m6 0h0m0-8h0m3 3h0m3-3h0m-16 13h0m13 1h0m11 0h0m-2 6h0" stroke="#f2d21c" stroke-width="3.2" stroke-linecap="round"/>
<path d="M1197 124h0m5-2h0m4 3h0m8-2h0m5 3h0m-25 10h0m3-6h0m3 6h0m3-6h0m3 6h0m3-6h0m6 0h0m10 6h0m-38 7h0m1 6h0m6-3h0m24 0h0m3-5h0m3 6h0m-33 7h0m5 3h0m1-6h0m6 0h0m12 0h0m2 6h0m5-4h0m65 1h0m6 0h0m5 2h0m-20 6h0m6 6h0m3-6h0m3 6h0m3-6h0m12 3h0m-27 9h0m3 5h0m9-1h0m2 4h0m6-1h0m32 97h0m10-2h0m0-3h0m-13 10h0m0 6h0m7-2h0m0 11h0m6 1h0m-329 18h0m21-5h0m5 4h0m-28 6h0m7 2h0m18 0h0m5 4h0m-28 6h0m4-1h0m1 5h0m5-6h0m1 2h0m5-1h0m1 1h0m4 2h0m1 2h0m4-5h0m-29 9h0m0 6h0m7-2h0m9-6h0m6 0h0m5 1h0m-25 13h0m4 4h0m16-7h0m5 1h0m208 86h0m3-5h0m12 6h0m8 0h0m-23 10h0m6-4h0m-1 9h0m5 1h0m6-1h0m-11 31h0m18-1h0m4 3h0m-20 9h0m6 0h0m3-6h0m3 6h0m3-6h0m8 9h0m0-6h0m-14 8h0m3 5h0m6 3h0m3-4h0" stroke="#2f9fcf" stroke-width="3.2" stroke-linecap="round"/>
<path d="M1291 179h0m4-4h0m6-1h0m5 2h0m-17 8h0m4-2h0m3 6h0m6 0h0m3-6h0m5-2h0m1 6h0m-21 4h0m4 4h0m5 2h0m6-1h0m4-4h0m19 8h0m6 0h0m-14 7h0m3 1h0m0-5h0m6 5h0m3-5h0m3 5h0m4-5h0m4 5h0m-24 5h0m2 6h0m5-5h0m6 0h0m3 5h0m3-5h0m3 5h0m1 1h0m1-6h0m5 3h0m6 0h0m4 3h0m-33 3h0m6 1h0m5-1h0m3 1h0m0 6h0m4-5h0m6 0h0m6 0h0m6 1h0m-19 10h0m4-5h0m0 8h0m3-3h0m3 3h0m6-3h0m3-4h0m-92 247h0m4-4h0m6-2h0m1 3h0m5-3h0m5 3h0m-23 8h0m0 6h0m7-3h0m3-6h0m9 6h0m3-6h0m5 0h0m1 6h0m-25 9h0m4 4h0m3-8h0m3 5h0m3-5h0m3 8h0m3-8h0m5 0h0m-127 16h0m8 0h0m3-3h0m5 3h0m97-7h0m-118 17h0m1-6h0m6 7h0m3-6h0m6 0h0m9-1h0m-24 12h0m4 4h0m5-4h0m6 0h0m5 4h0m4-4h0m-15 7h0m6 0h0" stroke="#2f9fcf" stroke-width="3.4" stroke-linecap="round"/>
<path d="M1116 458h0m4-1h0m4 1h0m0-2h0m4 0h0m8 3h0m-29 9h0m2-4h0m3-3h0m1 8h0m2-4h0m2 4h0m0-7h0m5 0h0m2 3h0m2 4h0m0-7h0m7 3h0m2 4h0m2-4h0m2-3h0m3 4h0m-36 10h0m0-4h0m2 5h0m5 0h0m4 0h0m2-4h0m5 0h0m4 0h0m2 4h0m5 0h0m2-4h0m2 4h0m2-4h0m2-3h0m1 4h0m-37 6h0m1 4h0m3 4h0m0-7h0m4 0h0m2 3h0m2 4h0m3-4h0m2 4h0m4 0h0m0-7h0m5 0h0m0 7h0m2-4h0m2-3h0m1 8h0m1-5h0m2 2h0m2-4h0m-29 9h0m4 2h0m8 1h0m0-2h0m4 1h0m4-1h0" stroke="#2f9fcf" stroke-width="4" stroke-linecap="round"/>
<path d="M1130 462h0m3 11h0m-18 15h0m11-4h0m-4 10h0" stroke="#f2d21c" stroke-width="4" stroke-linecap="round"/>
<path d="M1132 457h0m-13 8h0m3 4h0m6-4h0m2 4h0m5-7h0m4 7h0m-28 4h0m4 0h0m7 4h0m4 0h0m18 1h0m-31 6h0m6-3h0m5 0h0m6 3h0" stroke="#b8125a" stroke-width="4" stroke-linecap="round"/>
<path d="M1283 480h0m8 16h0m-119 8h0m9 14h0m7-1h0" stroke="#b8125a" stroke-width="3.4" stroke-linecap="round"/>
<path d="M1280 486h0m-105 32h0" stroke="#f2d21c" stroke-width="3.4" stroke-linecap="round"/></g>
<g><circle cx="1642" cy="326" r="204" fill="url(#tB2)"/>
<path d="M1604 148m-21 0a21 21 0 1 0 42 0a21 21 0 1 0-42 0M1704 172m-21 0a21 21 0 1 0 42 0a21 21 0 1 0-42 0M1466 317m-22 0a22 22 0 1 0 44 0a22 22 0 1 0-44 0M1828 274m-18 0a18 18 0 1 0 36 0a18 18 0 1 0-36 0M1754 452m-20 0a20 20 0 1 0 40 0a20 20 0 1 0-40 0M1614 491m-24 0a24 24 0 1 0 48 0a24 24 0 1 0-48 0M1670 499m-17 0a17 17 0 1 0 34 0a17 17 0 1 0-34 0M1708 491m-19 0a19 19 0 1 0 38 0a19 19 0 1 0-38 0M1736 492m-18 0a18 18 0 1 0 36 0a18 18 0 1 0-36 0M1469 382m-17 0a17 17 0 1 0 34 0a17 17 0 1 0-34 0M1496 402m-17 0a17 17 0 1 0 34 0a17 17 0 1 0-34 0M1501 439m-17 0a17 17 0 1 0 34 0a17 17 0 1 0-34 0M1529 166m-18 0a18 18 0 1 0 36 0a18 18 0 1 0-36 0M1512 174m-16 0a16 16 0 1 0 32 0a16 16 0 1 0-32 0M1604 218m-15 0a15 15 0 1 0 30 0a15 15 0 1 0-30 0M1581 182m-14 0a14 14 0 1 0 28 0a14 14 0 1 0-28 0M1684 464m-13 0a13 13 0 1 0 26 0a13 13 0 1 0-26 0M1661 470m-12 0a12 12 0 1 0 24 0a12 12 0 1 0-24 0M1600 440m-12 0a12 12 0 1 0 24 0a12 12 0 1 0-24 0M1640 452m-12 0a12 12 0 1 0 24 0a12 12 0 1 0-24 0M1560 470m-11 0a11 11 0 1 0 22 0a11 11 0 1 0-22 0M1530 462m-12 0a12 12 0 1 0 24 0a12 12 0 1 0-24 0M1468 412m-11 0a11 11 0 1 0 22 0a11 11 0 1 0-22 0M1541 234m-18 0a18 18 0 1 0 36 0a18 18 0 1 0-36 0M1500 220m-14 0a14 14 0 1 0 28 0a14 14 0 1 0-28 0M1548 415m-16 0a16 16 0 1 0 32 0a16 16 0 1 0-32 0M1760 420m-11 0a11 11 0 1 0 22 0a11 11 0 1 0-22 0M1800 430m-10 0a10 10 0 1 0 20 0a10 10 0 1 0-20 0M1580 250m-12 0a12 12 0 1 0 24 0a12 12 0 1 0-24 0" fill="#fff"/>
<ellipse cx="1712" cy="318" rx="102.4" ry="89.6" fill="#ef8fab" fill-opacity="0.45"/>
<ellipse cx="1712" cy="318" rx="128" ry="112" fill="url(#W1)"/>
<ellipse cx="1717.7" cy="316.8" rx="92.2" ry="80.6" fill="url(#W1r)"/>
<ellipse cx="1709.6" cy="296.8" rx="56.3" ry="49.3" fill="url(#W1)"/>
<ellipse cx="1699.3" cy="316.4" rx="20.5" ry="17.9" fill="url(#W1r)" fill-opacity="0.20"/>
<ellipse cx="1525" cy="240" rx="38.4" ry="41.6" fill="#ef8fab" fill-opacity="0.15"/>
<ellipse cx="1525" cy="240" rx="48" ry="52" fill="url(#W1)"/>
<ellipse cx="1553" cy="415" rx="25.6" ry="33.6" fill="#ef8fab" fill-opacity="0.12"/>
<ellipse cx="1553" cy="415" rx="32" ry="42" fill="url(#W1)"/>
<path d="M1519 189q4 12-7 19m21-6q2 10-4 19m9-19q11 4 13 16m-11-24q1 4-3 7m6-4q-3-5-9-5m10 6q-10-12-25-10m25 9q-9 6-8 17m-47 1q9-15 26-14m-14 5q2 12-9 19m40-19q9-3 17 2m-8-1q8 7 20 5m-19-1q18 1 27 17m-22-21q11 11 10 26m-5-23q-6-6-14-4m18 9q-5 7-14 4m18-6q3 5 0 10m141-10q-21 4-28 24m38-26q12 30-14 49m29-46q20 28-4 53m9-53q-16 16-37 8m-203-1q1-16 17-18m-7 14q16 6 18 23m-12-16q11 11 23 2m-15-4q2-7-4-11m25 6q22 0 27 21m-23-20q1-6 7-8m12 15q1-4-2-6m110 8q13 27 42 21m-13-31q5 58 62 69m-10-59q5 25 29 33m-10-41q-2 32 27 45m-312-28q0-6 4-9m6 11q3 4 1 9m3-13q-9-12-3-26m51 27q18-11 14-32m126 28q31-6 55 16m-35-15q45 23 84-8m-82 6q2 41 42 49m-40-41q-29 1-49-21m54 16q17 9 31-5m4 9q-9-3-14-11m18 5q31 22 25 60m-19-56q6 9 1 19m30-19q-8 14 2 26m-305-12q-6 4-7 12m11-16q1-11-8-15m8 11q-2 7-9 8m20-5q-10-1-15-9m15 6q10-14 4-30m3 34q0-12-9-20m15 25q8 10 3 21m8-21q3-18-13-27m38 23q10-5 18 3m-5 1q-1 6 3 10m4-13q-15 12-31 2m74 1q-33 31-29 76m56-80q39 34 29 84m-18-82q-12 24 9 41m8-45q43-13 65 26m-48-25q-30 0-50-22m52 28q9 52-38 77m47-79q5 16-9 25m50-25q-17-27-49-26m58 24q7 6 4 14m1-21q6-5 13-3m12 8q-11 47-57 61m71-65q5 7 1 15m-306-2q16 9 32 0m-10 8q6 5 5 13m-4-21q11 4 19-5m-14 11q-1 14-14 20m18-24q-3 14-16 17m31-14q-3 12 5 22m-2-24q-4 0-5-3m7-1q6-7 14-4m-5 8q5 7 2 15m-1-18q9 0 13-7m43 13q57-19 99 24m-89-22q31 11 55-12m-53 2q21 41 66 30m-60-19q13-3 20 10m11-11q4 61-53 84m61-84q9-4 10-14m29 5q-6-6-5-15m23 14q-12-11-5-25m12 27q10 17 30 19m7-19q-53-11-74 38m110-36q4 19-12 30m28-23q-22-4-32 16m-284-6q3-3 6 0m0 2q-1-9-9-15m11 5q22-4 25-26m-5 31q-9-2-10-12m12 13q-4 7 3 12m0-9q-10-9-23-4m29-1q7-11 19-9m-10 7q-5 7-2 15m4-18q12-4 14-17m-13 26q-14-12-7-28m21 26q-12 2-16 14m63-17q10 43-19 78m35-74q12-25 40-23m-23 24q20-16 8-38m-4 32q13 24-1 47m11-45q-25-21-54-6m58 2q-11 5-10 17m14-8q5 15 21 15m-7-21q9-35 42-48m-15 51q13-15 31-6m-26 2q33 33 73 9m-62-6q52 3 72 51m-62-51q-24-33-66-37m66 36q-36-18-65 10m70-15q58 6 68 64m-55-53q-54 28-94-18m99 11q44 15 45 61m-21-59q-59-3-80 53m123-51q10 7 8 20m-330-12q4-4 9-2m120 3q58-8 79-63m-64 69q-3-7 2-13m4 6q55-1 92 39m-86-34q-12-18-35-19m36 19q-29 41 1 81m2-89q0-38-38-45m47 45q-6-6-14-3m18 8q22-28 58-31m-57 25q10-6 7-17m33 21q-58 3-81 58m94-57q-4 11 4 21m1-22q-36 19-35 60m55-61q-61 9-89-47m113 53q-15-13-12-32m17 27q10 29 39 38m-7-42q-23-3-40 13m40-2q-40-25-81 0m95-1q3 11 14 14m-313-10q18-1 23-18m40 19q20 8 28 28m-3-24q5-7 2-15m1 12q-20 52 22 89m-15-91q23 38 67 38m-58-31q32 26 29 67m-26-66q48 4 68 49m-61-59q45 17 81-15m-59 24q27 29 15 66m31-70q-6-7-15-6m15 12q-15-9-27 3m28-4q-52 15-96-17m142 16q2-20-17-29m28 29q-42 9-63 46m69-49q-40 15-76-9m78 6q4 30-16 54m24-46q0-15-15-18m35 14q-19-8-21-28m25 30q3 14-10 21m37-19q-8-7-8-18m-225 24q24-21 19-52m-14 54q17 1 28 14m-26-19q27 16 57 5m-29 4q41 26 36 74m-20-80q36-31 82-20m-70 22q-15 22-40 11m76-11q37 14 41 53m-36-57q29-14 34-46m-33 52q-9-46 33-67m-19 67q18-16 9-38m-2 36q25-12 45 7m-34-4q-17-39-57-53m59 50q19 13 38 0m-27-5q3-13-9-20m32 18q11-18 31-13m-17 17q-16 45 23 72m-21-66q0 42 40 54m-21-54q15 8 11 24m14-31q-13 1-20-10m-224 23q-12 25 0 50m26-48q-31 13-24 46m35-44q5-9 14-8m-12 10q14 2 19 15m-10-23q7-7 16-6m-15 9q7 9 6 21m-1-20q-5-5-3-13m11 10q-15 21-42 19m44-18q13 26 42 20m-35-21q-16-21-3-44m11 43q44-12 67 27m-66-28q14 3 21-10m-11 14q6-29-19-44m43 49q-55-9-79 42m81-43q-8 17-2 35m22-43q-4-37 28-56m-7 63q-45-42-18-98m29 101q0-20 19-25m7 15q19-43-3-85m9 94q-5 8-15 9m40-9q-9 30 10 54m2-60q-55 5-70 58m74-59q-25 9-21 36m23-38q10-29-12-51m-205 65q9-4 17 1m-8-2q-15-24-44-27m45 27q-5 23 12 39m12-34q11-6 11-17m-9 21q40 37 13 85m8-92q-3 21-21 33m29-28q-24-30-2-61m6 56q54-32 40-93m-35 94q33 29 23 71m-3-74q-14 6-13 21m18-20q-44-38-93-5m99 6q-4 23-22 36m24-31q-52 7-86-34m114 26q-14 17-33 7m35 1q-19-17-12-41m21 38q-7 14-22 10m42-9q-46-26-59-78m70 77q-23-16-11-41m20 36q-51-29-90 14m109-6q-22 18-19 46m-168-41q-10 58 39 89m-10-90q8 1 10 8m-5-6q9-34-19-55m19 59q-23-16-48-2m51 0q-25 7-36-15m38 16q-28-50-84-35m89 39q14-18 8-39m-3 38q9 31 40 38m-27-40q3 20 23 24m-15-29q-10-2-15-11m22 19q-12 4-12 18m18-28q44 23 29 70m-22-67q33-12 30-46m-22 47q-19 41-64 35m77-32q15-8 29 2m-28-9q-16 8-30-3m35 13q36 13 57-19m-47 15q-24-8-36 14m61-14q-31-8-50 17m51-14q-30 19-58-3m69-1q-61 17-90-39m106 42q-25 45-76 48m-146-40q47-10 82 22m-58-19q54 13 82 61m-63-60q-9-58 43-86m-33 82q41-31 80 2m-78-6q-41-37-14-86m19 96q17 49 68 58m-66-67q-26-39-72-47m77 46q24-18 18-47m-17 58q-1 29 27 37m-26-45q13-23 39-22m-30 22q-33-2-38-35m48 32q-18-42-63-39m68 49q-57-18-60-78m63 70q-53-11-90 28m92-29q-35 19-66-6m72 14q9 0 12 7m-11-6q6 10 18 9m0-19q-45-5-54-49m62 58q-1-14-14-20m19 13q-10-3-15-12m24 15q3-8-2-14m6 10q43-14 54-58m-51 61q-8 1-11-6m27 7q45-2 64-43m-40 38q2 9-6 13m14-13q-46 4-58 47m59-43q-10-16-30-19m67 17q-4-56-60-65m-173 85q42-41 26-97m9 96q12 11 24 1m-19-4q3 12 16 10m-16-9q-13-38 13-68m-11 62q29-53 87-34m-61 44q53 1 84-43m-78 36q55 31 101-12m-90 15q-8 2-9 10m33-17q14-26 43-17m-40 20q-11-17 3-32m9 31q5 14 20 16m25-12q17 1 25 17m7-12q-53-18-87 27m-171-15q-16 5-17 21m17-26q-10 16 3 29m59-32q-2-14 9-22m5 22q2-30-21-49m32 57q29-40-4-77m16 71q-4 9 3 16m5-15q7-12 2-24m20 23q-11-24 8-42m10 41q5-9 2-19m2 21q-50 14-81-29m85 31q-40 19-78-3m79 3q-7-54 41-78m-39 78q-18-13-38-2m42 0q20-49 74-49m-58 48q1 27-19 45m27-44q-41-4-66-37m68 42q29-48 84-48m-82 44q-5-29-35-31m50 24q28-41 73-21m-65 31q-2 17 13 28m-8-36q8 33-22 50m24-52q-4-36-40-47m54 51q49-4 54-53m-301 64q7 10 0 19m16-15q-2-3 0-7m6 4q-5 3-4 7m6-11q-4 2-4 6m67 0q29 8 49-14m-26 9q8 3 13-5m-4 4q-7-29-33-42m72 48q15 10 18 28m-7-30q-22 3-38-10m48 14q40-38 95-35m-80 31q35-45 3-92m23 90q-2 18 13 28m-240-8q3 2 6 1m-4-4q11-14 27-8m-27 6q8-8 19-7m5 7q8 5 16 2m-15-1q-12 0-19-9m41 13q-1-8 6-13m-3 5q-9 7-7 18m87-20q-4-10 3-17m87 27q-1-28-28-38m36 34q-10 7-8 18m14-16q15-20 40-15m-1 7q4-52-45-70m-222 85q-3-10 6-17m-4 21q14-3 20 10m2-12q-10 7-21 3m30 0q7-8 15-2m79-4q3-15 16-22m16 26q21-18 7-42m-7 44q15-1 20-15m-12 7q6 10 0 20m44-20q13-1 19-12m2 21q-36-47-95-37m-123 49q8 1 12-7m-2-2q-4-5-10-3m21 10q-13-3-19 8m22-11q-12 1-17-9m143 10q-8-46-47-72m84 74q-11-51-58-72m-146 83q8 1 12 8m-9-4q-2 1-4 0m7-8q8 4 6 14m4-16q-11 5-21-2m30 5q7 2 11-5m-11 5q-3 8-11 8m0 8q7 1 9 8m-3-12q3 9 13 11m-10-12q-7 5-14 1m16 5q1 3 5 4m-2-8q3-2 6 0" stroke="#ef8fab" stroke-width="0.75" fill="none" stroke-opacity="0.85"/>
<path d="M1512 211q-13 13-7 30m23-20q10-1 15 8m14-7q4-6-1-13m-65 25q-11-11-2-24m47 20q-10-1-12-10m253 9q-31 39-15 86m-203-65q-6 5-12 1m98 0q-8-5-17-1m-141 12q15-9 27 4m35-12q-14-10-10-28m199 32q-9 15 1 30m63-27q1 10-7 16m-292-4q-16-10-16-29m343 35q-23 46-1 93m-185-79q18 1 22 19m45-19q36 9 62-17m-78 26q39 20 77-2m33 7q-9 13-24 14m-54-1q43-14 46-59m-17 58q33-36 81-30m-47 26q-9 34 22 49m-43-35q-42 31-90 10m-63 7q-2-37-31-60m85 56q-6 31-37 39m51-37q-47-35-42-94m127 88q31 25 63 0m-45 8q1-41 42-47m-18 57q-40-7-62 27m-85-20q31 16 57-7m-154 25q6 16-8 25m69-19q58-7 81 47m-42-44q-1 11-12 13m51-11q18 4 29-10m-21 5q32-53-11-96m-169 112q16 6 20 22m166-26q6-8 16-7m-15 5q-39 33-84 11m123-11q-20 13-42 4m-137 18q-15 1-25-9m-26 11q6-1 11 3" stroke="#f1d77a" stroke-width="0.75" fill="none" stroke-opacity="0.85"/>
<path d="M1727 235q7 29-14 49m-58-40q-2 24 18 38m-74 27q35-4 53-34m37 27q-39 13-35 53m61-48q-11-14-1-29m-76 47q32-21 31-60m-23 68q13-6 13-20m45 48q-43-3-70 31m-86 13q-4 11 3 20m-27-10q5 6 2 13m10-4q16 1 22-13m187 11q-25-30-63-27m-135 52q-11-7-14-19" stroke="#4fb58c" stroke-width="0.75" fill="none" stroke-opacity="0.85"/>
<path d="M1544 198h0m0-1h0m3 10h0m-35 4h0m48 2h0m-3 9h0m149 8h0m21 5h0m31 0h0m-107 13h0m-166 6h0m61 3h0m192 1h0m-78 4h0m71 7h0m18 6h0m63 1h0m-157 9h0m-21 12h0m10-4h0m67 0h0m2 5h0m93-3h0m31 4h0m-238 10h0m104-2h0m6 2h0m128-6h0m-50 10h0m-159 13h0m48 2h0m33-7h0m18-1h0m34 3h0m57-1h0m-152 15h0m130-7h0m-134 18h0m128-3h0m-142 7h0m25-1h0m26 6h0m32-7h0m-89 11h0m127 5h0m-169 4h0m42 7h0m48-1h0m15 2h0m-130 20h0m145 1h0m22 9h0m-52 8h0m-160 5h0m36 6h0m129-2h0m-161 9h0m10-2h0" stroke="#b8125a" stroke-width="2.4" stroke-linecap="round"/>
<path d="M1519 189h0m13 17h0m1-4h0m23 13h0m145-2h0m30 1h0m36 5h0m-276 2h0m68 4h0m218 4h0m-295 7h0m9-2h0m217 4h0m40-1h0m-247 7h0m69 3h0m70-1h0m106 1h0m5-7h0m39 1h0m-255 16h0m80-5h0m72-1h0m110 5h0m-310 6h0m18 3h0m42-1h0m56-4h0m57 5h0m94 3h0m48-7h0m-305 12h0m30-2h0m35 0h0m143 0h0m26-1h0m47 0h0m48 16h0m-299 4h0m63 1h0m25 4h0m97-2h0m64 1h0m34 3h0m-201 10h0m46-2h0m12 2h0m56 2h0m7-2h0m61-3h0m-172 14h0m22-4h0m6 4h0m8-3h0m18-2h0m117 2h0m22-5h0m24 3h0m-206 7h0m8 5h0m55 4h0m14-7h0m11 5h0m-72 6h0m38 0h0m36 3h0m36-3h0m13 5h0m-119 10h0m20-6h0m4-1h0m9 7h0m52-8h0m19 6h0m33 0h0m-192 6h0m43 4h0m50 2h0m52-5h0m-36 8h0m8 2h0m-169 15h0m62-3h0m14 0h0m49-4h0m4 6h0m22 1h0m39 1h0m28-5h0m2-2h0m-233 15h0m24-3h0m13-3h0m82 3h0m52-4h0m-155 11h0m163 1h0m12 5h0m39 0h0m-212 8h0m2-3h0m22 4h0m126 2h0m55-6h0m-172 17h0m77-9h0m105 7h0m-208 3h0m-7 27h0m3-1h0" stroke="#2f9fcf" stroke-width="2.4" stroke-linecap="round"/>
<path d="M1501 206h0m-5 28h0m293 1h0m-239 11h0m118-2h0m69 5h0m39-4h0m-259 11h0m182-3h0m18-1h0m-181 17h0m185 1h0m30 9h0m-108 8h0m29-5h0m59-2h0m-127 25h0m201 2h0m-166 4h0m102-1h0m15 9h0m-127 7h0m78 12h0m-36 5h0m10 3h0m3-2h0m9 5h0m102-1h0m-132 11h0m37-1h0m-26 6h0m-24 14h0m49 2h0m25 8h0m26-2h0m6-4h0m-101 14h0m77 31h0m13-5h0m-189 26h0m-3 4h0" stroke="#f2d21c" stroke-width="2.4" stroke-linecap="round"/>
<circle cx="1604" cy="218" r="12" fill="#ef8fab" fill-opacity="0.58"/>
<circle cx="1604" cy="218" r="13" fill="url(#K1)"/>
<circle cx="1581" cy="182" r="11" fill="#ef8fab" fill-opacity="0.58"/>
<circle cx="1581" cy="182" r="12" fill="url(#K1)"/>
<circle cx="1684" cy="464" r="10.1" fill="#ef8fab" fill-opacity="0.58"/>
<circle cx="1684" cy="464" r="11" fill="url(#K1)"/>
<circle cx="1661" cy="470" r="9.2" fill="#ef8fab" fill-opacity="0.58"/>
<circle cx="1661" cy="470" r="10" fill="url(#K1)"/>
<circle cx="1600" cy="440" r="9.2" fill="#ef8fab" fill-opacity="0.58"/>
<circle cx="1600" cy="440" r="10" fill="url(#K1)"/>
<circle cx="1640" cy="452" r="9.2" fill="#ef8fab" fill-opacity="0.58"/>
<circle cx="1640" cy="452" r="10" fill="url(#K1)"/>
<circle cx="1560" cy="470" r="8.3" fill="#ef8fab" fill-opacity="0.58"/>
<circle cx="1560" cy="470" r="9" fill="url(#K1)"/>
<circle cx="1530" cy="462" r="9.2" fill="#ef8fab" fill-opacity="0.58"/>
<circle cx="1530" cy="462" r="10" fill="url(#K1)"/>
<circle cx="1468" cy="412" r="8.3" fill="#ef8fab" fill-opacity="0.58"/>
<circle cx="1468" cy="412" r="9" fill="url(#K1)"/>
<circle cx="1541" cy="234" r="14.7" fill="#ef8fab" fill-opacity="0.75"/>
<circle cx="1541" cy="234" r="16" fill="url(#K1)"/>
<circle cx="1541" cy="234" r="13.6" fill="url(#K1r)"/>
<circle cx="1500" cy="220" r="11" fill="#ef8fab" fill-opacity="0.75"/>
<circle cx="1500" cy="220" r="12" fill="url(#K1)"/>
<circle cx="1500" cy="220" r="10.2" fill="url(#K1r)"/>
<circle cx="1548" cy="415" r="12.9" fill="#ef8fab" fill-opacity="0.75"/>
<circle cx="1548" cy="415" r="14" fill="url(#K1)"/>
<circle cx="1548" cy="415" r="11.9" fill="url(#K1r)"/>
<circle cx="1760" cy="420" r="8.3" fill="#ef8fab" fill-opacity="0.58"/>
<circle cx="1760" cy="420" r="9" fill="url(#K1)"/>
<circle cx="1800" cy="430" r="7.4" fill="#ef8fab" fill-opacity="0.58"/>
<circle cx="1800" cy="430" r="8" fill="url(#K1)"/>
<circle cx="1580" cy="250" r="9.2" fill="#ef8fab" fill-opacity="0.58"/>
<circle cx="1580" cy="250" r="10" fill="url(#K1)"/>
<path d="M1589 189h0m-14 2h0m23 17h0m5-3h0m-112 7h0m102 3h0m21-5h0m-86 15h0m5-3h0m61 4h0m23-6h0m-122 11h0m60-1h0m-28 11h0m52-1h0m9 14h0m2-4h0m-126 154h0m87-2h0m-16 9h0m27 5h0m190 1h0m-212 9h0m17-2h0m212-4h0m-166 11h0m189-1h0m14 6h0m-197 9h0m29-2h0m5 0h0m-120 14h0m107-6h0m-93 17h0m2-4h0m0-4h0m22 1h0m7 8h0m66-9h0m11 0h0m-92 15h0m3 2h0m7 1h0m4-3h0m102-1h0" stroke="#b8125a" stroke-width="2.5" stroke-linecap="round"/>
<path d="M1575 172h0m15 2h0m2 11h0m1-5h0m-14 14h0m6-1h0m-89 16h0m5-1h0m6 3h0m3 4h0m28 4h0m56-9h0m-104 13h0m1 4h0m15 2h0m4-3h0m1-6h0m15 9h0m17-9h0m5 2h0m50 7h0m12 0h0m3-3h0m-112 5h0m26 5h0m78-5h0m-74 14h0m4 3h0m11-1h0m9-7h0m16 7h0m12-5h0m6 3h0m-11 14h0m6 0h0m-124 149h0m11-4h0m4 4h0m62-1h0m10-5h0m9 4h0m-96 8h0m3 5h0m72-2h0m221-4h0m6-2h0m4 2h0m-297 7h0m68 2h0m9 7h0m5-1h0m10-8h0m191 4h0m5 4h0m38-3h0m5-2h0m4 1h0m-213 13h0m3-4h0m4-3h0m10 4h0m188 2h0m4 1h0m8-7h0m-213 18h0m10 0h0m4-7h0m39 5h0m-122 8h0m6-1h0m4 2h0m96 1h0m43 2h0m5-3h0m5-2h0m-162 14h0m116-6h0m15 3h0m4-2h0m5-1h0m5 3h0m2 5h0m4-6h0m1 6h0m18-9h0m0 9h0m1-5h0m-167 7h0m5 1h0m121 1h0m26-1h0m4 2h0" stroke="#2f9fcf" stroke-width="2.5" stroke-linecap="round"/>
<path d="M1572 175h0m9-5h0m4 2h0m-15 15h0m0-5h0m39 24h0m-119 12h0m126-2h0m-63 10h0m39-5h0m-36 15h0m-5 9h0m23-3h0m-32 8h0m29 3h0m3 3h0m-33 148h0m-67 15h0m3-6h0m83-3h0m203 18h0m4-3h0m-177 17h0m8 7h0m35-3h0m15 10h0m1-5h0m40 4h0m-169 6h0m31 8h0m4-5h0m9-1h0m87 6h0m5 9h0m6 1h0m5-2h0m23-4h0" stroke="#f2d21c" stroke-width="2.5" stroke-linecap="round"/>
<path d="M1574 181h0m4 4h0m0-3h0m26 33h0m2-1h0m-102 10h0m96-1h0m8 0h0m-72 11h0m9 1h0m32 13h0m-2 5h0m-106 163h0m72-1h0m15 1h0m201 2h0m6 0h0m-218 4h0m213 1h0m39 6h0m1 0h0m-195 10h0m2 4h0m30 6h0m4 8h0m-106 3h0m23 7h0m3 1h0m123-2h0m-121 8h0m105-3h0" stroke="#2f9fcf" stroke-width="2.4" stroke-linecap="round"/>
<path d="M1585 183h0m-87 43h0m6-3h0m33 12h0m3-1h0m4 3h0m-77 177h0m81-4h0m-20 56h0m157 2h0m1-2h0m0 4h0" stroke="#b8125a" stroke-width="2.4" stroke-linecap="round"/>
<path d="M1496 224h0m84 29h0m-29 155h0m-83 9h0m133 26h0m39 13h0m-111 9h0m133 2h0m2 4h0" stroke="#f2d21c" stroke-width="2.4" stroke-linecap="round"/>
<path d="M1761.8 318 L1763.4 326.1 L1765.5 335 L1764.5 343.9 L1758.7 350.8 L1749.5 354.8 L1740.5 357.2 L1733.7 360.5 L1728.5 365.9 L1723.2 372.2 L1716.4 377.4 L1708.5 380.8 L1700 383.2 L1690.9 385.2 L1681.4 385.4 L1672.7 382 L1666.3 374.5 L1662.5 365.3 L1659.2 357.5 L1654 352.2 L1646.7 347.8 L1639.7 342.2 L1636.1 334.6 L1636.5 326.1 L1638.7 318 L1640.2 310.4 L1640.7 302.6 L1641.7 294.6 L1644.6 287 L1648.9 280 L1653.5 272.9 L1658 265 L1664 257.5 L1672.3 253.2 L1682.3 254.1 L1692 259 L1700 264 L1707.1 265.8 L1714.8 264.5 L1723.5 263 L1732.2 264 L1739.7 267.8 L1746.3 273.2 L1752.6 278.9 L1758.5 285.3 L1762.5 292.9 L1763.3 301.6 L1762.2 310.1 Z" fill="#ee7a98" fill-opacity="0.9"/>
<ellipse cx="1700" cy="318" rx="67.2" ry="65.1" fill="url(#W1r)"/>
<path d="M1682 277h0m8 2h0m-8 2h0m3 2h0m37 15h0m4 1h0m-7 5h0m3 2h0m4-1h0m10-2h0m0 3h0m6 2h0m0-7h0m-88 18h0m3-6h0m4 1h0m1 3h0m12 0h0m3-3h0m3 1h0m2 3h0m27-4h0m3-3h0m4 8h0m1-3h0m18 0h0m3-6h0m0 8h0m4-7h0m1 3h0m-86 7h0m4 0h0m4-1h0m3 6h0m3-1h0m0 4h0m1-3h0m1-4h0m1-2h0m0 3h0m3 0h0m1 1h0m1 3h0m1-5h0m-8 16h0m0-4h0m2-3h0m4 2h0m0 6h0m2-3h0m-10 12h0m4 1h0m1-9h0m24 6h0m0 3h0m3-6h0m3 1h0m2 3h0m10 1h0m0-3h0m3 0h0m0-3h0m0 7h0m3-6h0m2 4h0m3 0h0m-61 7h0m0-4h0m3 6h0m4-1h0m28-4h0m21 0h0m1-1h0m2 1h0" stroke="#2f9fcf" stroke-width="3" stroke-linecap="round"/>
<path d="M1685 275h0m1 4h0m3-3h0m0 6h0m30 18h0m4 2h0m4 0h0m11-2h0m0 9h0m1-5h0m4 0h0m-89 12h0m4 1h0m10 1h0m4 1h0m6-1h0m31-1h0m4-1h0m3-4h0m19 0h0m4 2h0m3 3h0m-77 7h0m4-2h0m6 5h0m37-7h0m-37 12h0m1 4h0m2-5h0m24 16h0m19 0h0m3-4h0m0 4h0m2-3h0m-55 8h0m4 0h0m30-1h0m15 0h0" stroke="#f2d21c" stroke-width="3" stroke-linecap="round"/>
<path d="M1708 243h0m18 3h0m-71 9h0m22-4h0m8-1h0m0 8h0m7 1h0m20-7h0m-48 15h0m11-7h0m13 6h0m8 0h0m6 0h0m15 0h0m3 0h0m11-1h0m18-3h0m-79 14h0m16-1h0m35-3h0m18-2h0m8 9h0m1-9h0m0 9h0m14-2h0m-117 6h0m4 1h0m4-2h0m5 1h0m39-1h0m33 2h0m13-2h0m15-2h0m8 3h0m-136 11h0m5-2h0m4 5h0m43 0h0m4 0h0m9-3h0m54 0h0m20-2h0m4 0h0m-151 17h0m20-7h0m11 3h0m13 3h0m4-8h0m11 3h0m8 1h0m0 3h0m17-5h0m5-1h0m-90 15h0m18-4h0m4 7h0m1-1h0m6 1h0m0-6h0m27 4h0m37 0h0m19-5h0m31 4h0m-137 11h0m75 0h0m17-2h0m1-1h0m44 5h0m1-4h0m12-2h0m-150 7h0m6 6h0m17-4h0m27 6h0m17-2h0m10-3h0m22-1h0m8 5h0m-82 10h0m1 1h0m23-6h0m28 1h0m5-2h0m1 2h0m4 3h0m4 2h0m13-4h0m6-2h0m10 7h0m15-7h0m-127 16h0m17-4h0m14 1h0m62 3h0m7 0h0m20-6h0m4 0h0m-122 12h0m1-2h0m7 4h0m11-6h0m59 0h0m18 4h0m3-2h0m2-2h0m6 3h0m8 6h0m13-9h0m-111 12h0m2 6h0m15 0h0m3-6h0m1-1h0m17 4h0m7 4h0m1-3h0m7 3h0m2-1h0m3-8h0m1 9h0m1-6h0m7 3h0m13 1h0m3 2h0m8-6h0m-92 7h0m32 5h0m6 4h0m27 3h0m1 1h0" stroke="#4a88c0" stroke-width="2.6" stroke-linecap="round"/>
<path d="M1663 264h0m6-1h0m49 1h0m5-1h0m-68 10h0m30-3h0m2 3h0m14-1h0m13 14h0m37 3h0m-90 9h0m2-1h0m20-4h0m59-3h0m-48 11h0m46 2h0m-108 7h0m75 5h0m54 4h0m-117 5h0m10 1h0m96-2h0m-54 13h0m14-1h0m55 1h0m-131 7h0m38 1h0m4-2h0m74 1h0m-60 9h0m38 3h0m-81 7h0m39 1h0m38-2h0m24 5h0m-61 4h0m35 1h0m2 2h0m-57 13h0" stroke="#f2d21c" stroke-width="2.6" stroke-linecap="round"/>
<circle cx="1604" cy="148" r="16" fill="#ee7593"/>
<circle cx="1704" cy="172" r="16" fill="#ee7593"/>
<circle cx="1466" cy="317" r="17" fill="#ee7593"/>
<circle cx="1828" cy="274" r="13" fill="#ee7593"/>
<circle cx="1754" cy="452" r="15" fill="#ee7593"/>
<circle cx="1614" cy="491" r="19" fill="#8a86b8"/>
<circle cx="1670" cy="499" r="12" fill="#ee7593"/>
<circle cx="1708" cy="491" r="14" fill="#ee7593"/>
<circle cx="1736" cy="492" r="13" fill="#ee7593"/>
<circle cx="1469" cy="382" r="12" fill="#ee7593"/>
<circle cx="1496" cy="402" r="12" fill="#ee7593"/>
<circle cx="1501" cy="439" r="12" fill="#ee7593"/>
<circle cx="1529" cy="166" r="13" fill="#ee7593"/>
<circle cx="1512" cy="174" r="11" fill="#ee7593"/>
<path d="M1602 134h0m1 3h0m5-3h0m5 3h0m-23 9h0m2-6h0m8 2h0m3 6h0m3-6h0m3 6h0m8-6h0m-27 10h0m10 1h0m3 5h0m9-5h0m2 5h0m3-5h0m82 6h0m6-1h0m5 1h0m-113 2h0m6 1h0m87 5h0m4-5h0m6 4h0m3-5h0m3 5h0m6 0h0m3-3h0m-25 10h0m7-1h0m6 0h0m6 0h0m3 5h0m6-3h0m-23 9h0m5 3h0m3-4h0m3 4h0m6-2h0m114 79h0m6 0h0m5 3h0m-20 4h0m0 6h0m4-5h0m3 6h0m6 0h0m3-6h0m6 7h0m-15 7h0m6 0h0m6-2h0m-80 156h0m-15 8h0m4-5h0m9 0h0m3 5h0m4-6h0m5 4h0m-25 8h0m1 6h0m6-6h0m3 5h0m6 0h0m3-5h0m-13 10h0m5 2h0m6 0h0m-51 14h0m-7 8h0m12 0h0m-15 9h0m6-3h0m6 0h0m6 0h0m-15 8h0m6 2h0m11-3h0" stroke="#b8125a" stroke-width="3.2" stroke-linecap="round"/>
<path d="M1596 136h0m16 6h0m6 5h0m-25 10h0m13-4h0m3 9h0m109 6h0m-27 11h0m9-2h0m120 88h0m-1 17h0m8 0h0m-77 157h0m13 23h0m-66 23h0m5-5h0m4 7h0m3-5h0m4-2h0m5 3h0m2 6h0m-24 1h0m16 8h0m8-3h0m-8 8h0" stroke="#2f9fcf" stroke-width="3.2" stroke-linecap="round"/>
<path d="M1706 177h0m10 3h0m111 91h0m12 1h0m-88 175h0m16 4h0m0 6h0" stroke="#f2d21c" stroke-width="3.2" stroke-linecap="round"/>
<path d="M1454 307h0m4-3h0m8 0h0m-10 25h0m10-8h0" stroke="#2f9fcf" stroke-width="3.6" stroke-linecap="round"/>
<path d="M1459 308h0m3-6h0m1 6h0m4-6h0m1 6h0m4-5h0m1 5h0m3-3h0m3 4h0m-28 7h0m1-5h0m2 6h0m2-5h0m3 5h0m2-5h0m2 5h0m3-5h0m2 5h0m3-5h0m2 5h0m2-5h0m3 5h0m3-4h0m0 5h0m-30 3h0m2 4h0m3-4h0m3 4h0m2-4h0m2 4h0m5 0h0m3-4h0m2 4h0m2-4h0m3 6h0m2-4h0m-20 8h0m5 1h0m5 0h0m4-2h0" stroke="#b8125a" stroke-width="3.6" stroke-linecap="round"/>
<path d="M1466 329h0" stroke="#f2d21c" stroke-width="3.6" stroke-linecap="round"/>
<path d="M1615 476h0m-13 7h0m6-3h0m5 7h0m-14 8h0m0 4h0m3 0h0m4-8h0m2 4h0m7 4h0m2-4h0m-8 12h0m8-5h0m11-1h0" stroke="#b8125a" stroke-width="4" stroke-linecap="round"/>
<path d="M1605 477h0m4-2h0m4-1h0m4 0h0m4 2h0m4 2h0m-28 9h0m2 0h0m0-4h0m2-3h0m5 3h0m2 4h0m2-4h0m3-3h0m2 3h0m2 4h0m2-4h0m2 4h0m0-7h0m3 3h0m2 4h0m2-6h0m2 4h0m1 4h0m-34 2h0m1 4h0m12-4h0m0 8h0m3-4h0m6-4h0m0 8h0m5-8h0m0 8h0m2-4h0m2-4h0m2 6h0m1-4h0m-29 10h0m3 2h0m8-3h0m0 6h0m8-2h0m0-4h0m4 2h0" stroke="#2f9fcf" stroke-width="4" stroke-linecap="round"/>
<path d="M1604 487h0m13-7h0m-15 11h0m2 4h0m2 4h0m9-8h0m6 4h0m-13 7h0m9 6h0" stroke="#f2d21c" stroke-width="4" stroke-linecap="round"/>
<path d="M1664 497h0m3 6h0m6 0h0" stroke="#b8125a" stroke-width="3.4" stroke-linecap="round"/>
<path d="M1666 489h0m6 0h0m-10 4h0m8 4h0m7-5h0m3 5h0m-19 7h0m4 4h0m6 1h0m5-2h0m4-5h0" stroke="#2f9fcf" stroke-width="3.4" stroke-linecap="round"/>
<path d="M1660 498h0" stroke="#f2d21c" stroke-width="3.4" stroke-linecap="round"/>
<path d="M1528 163h0m-18 16h0m-41 201h0m21 20h0m6 0h0m233 89h0m6 0h0" stroke="#f2d21c" stroke-width="3" stroke-linecap="round"/>
<path d="M1513 173h0m-47 213h0m6 0h0m27 20h0m2 31h0m6 0h0m-9 6h0m6 0h0m237 46h0" stroke="#2f9fcf" stroke-width="3" stroke-linecap="round"/>
<path d="M1522 163h0m9 6h0m-68 211h0m12 0h0m18 26h0" stroke="#b8125a" stroke-width="3" stroke-linecap="round"/></g>
<g><circle cx="215" cy="771" r="204" fill="url(#tA3)"/>
<path d="M188 605m-26 0a26 26 0 1 0 52 0a26 26 0 1 0-52 0M108 639m-26 0a26 26 0 1 0 52 0a26 26 0 1 0-52 0M291 619m-21 0a21 21 0 1 0 42 0a21 21 0 1 0-42 0M334 650m-20 0a20 20 0 1 0 40 0a20 20 0 1 0-40 0M359 702m-26 0a26 26 0 1 0 52 0a26 26 0 1 0-52 0M67 799m-26 0a26 26 0 1 0 52 0a26 26 0 1 0-52 0M355 869m-24 0a24 24 0 1 0 48 0a24 24 0 1 0-48 0M89 896m-25 0a25 25 0 1 0 50 0a25 25 0 1 0-50 0M159 897m-23 0a23 23 0 1 0 46 0a23 23 0 1 0-46 0M254 919m-30 0a30 30 0 1 0 60 0a30 30 0 1 0-60 0M254 919m-40 0a40 40 0 1 0 80 0a40 40 0 1 0-80 0M56 710m-21 0a21 21 0 1 0 42 0a21 21 0 1 0-42 0M76 733m-21 0a21 21 0 1 0 42 0a21 21 0 1 0-42 0M362 759m-18 0a18 18 0 1 0 36 0a18 18 0 1 0-36 0M169 653m-15 0a15 15 0 1 0 30 0a15 15 0 1 0-30 0M89 686m-14 0a14 14 0 1 0 28 0a14 14 0 1 0-28 0M155 698m-16 0a16 16 0 1 0 32 0a16 16 0 1 0-32 0M262 838m-17 0a17 17 0 1 0 34 0a17 17 0 1 0-34 0M322 798m-15 0a15 15 0 1 0 30 0a15 15 0 1 0-30 0M292 792m-13 0a13 13 0 1 0 26 0a13 13 0 1 0-26 0M358 820m-14 0a14 14 0 1 0 28 0a14 14 0 1 0-28 0M313 851m-14 0a14 14 0 1 0 28 0a14 14 0 1 0-28 0M47 851m-17 0a17 17 0 1 0 34 0a17 17 0 1 0-34 0M81 847m-13 0a13 13 0 1 0 26 0a13 13 0 1 0-26 0M145 945m-17 0a17 17 0 1 0 34 0a17 17 0 1 0-34 0M325 900m-14 0a14 14 0 1 0 28 0a14 14 0 1 0-28 0M339 938m-12 0a12 12 0 1 0 24 0a12 12 0 1 0-24 0M235 653m-22 0a22 22 0 1 0 44 0a22 22 0 1 0-44 0M297 672m-21 0a21 21 0 1 0 42 0a21 21 0 1 0-42 0M240 705m-14 0a14 14 0 1 0 28 0a14 14 0 1 0-28 0M110 728m-12 0a12 12 0 1 0 24 0a12 12 0 1 0-24 0" fill="#fff"/>
<ellipse cx="180" cy="800" rx="52" ry="33.6" fill="#ef8fab" fill-opacity="0.06"/>
<ellipse cx="180" cy="800" rx="65" ry="42" fill="url(#W1)"/>
<ellipse cx="210" cy="700" rx="85" ry="65" fill="url(#W1)" fill-opacity="0.60"/>
<path d="M201 638q-26 12-35 39m35-40q4 5 2 11m-1-1q22 23 4 48m11-56q-5 20 14 29m1-26q-11 7-20-3m35 3q5 5 1 12m-36-5q-16 8-15 26m32-16q-7-4-14 2m41-11q-12 1-16-10m-33 31q-22-2-26-24m32 24q16-13 32 0m28-11q-4 5-4 12m15-1q-28-9-48 13m-106-7q6 12 19 10m-16-4q15-8 30 0m-6-3q-5-5-10-1m13 1q18-11 37-5m-26 2q1 22-16 37m16-31q5 3 4 9m30-20q2 6-4 9m30-3q-24-6-44 9m52-9q3 6 0 12m38-8q-2 9-10 12m-130 0q2-6-3-10m35 3q-16-3-25-17m33 17q24 14 26 42m-18-39q5-12 18-10m-10 11q-17-15-12-38m32 36q-15 9-31 0m72 5q15 1 22-13m-5 14q-14-11-30-5m-100 13q14 3 22 15m-19-19q23-3 33-23m-2 21q11 17 31 17m-27-12q-23-15-47 0m65-1q-2 5 2 9m38-3q19 13 19 36m-13-43q-6 16-23 20m24-14q-5-2-4-8m-101 10q4-3 4-8m0 11q9 1 13-7m-7 6q-16 4-28-8m30 12q-13-5-13-19m57 20q11-5 19 4m-14-6q-8 8-2 18m41-13q6 8 16 3m15-9q6-24-10-44m-125 55q23 20 51 8m-15 0q10 16 29 15m8-19q3 15-7 26m35-22q-5-8-13-6m24 0q12-9 12-24m5 24q-26 1-39 24m42-18q9 2 8 12m-7-18q-20 10-41 1m58-6q-20 1-27-18m27 20q-27-9-43 16m-74-6q22-4 36 13m-21-8q-9 7-5 18m7-22q7 3 8 10m41-11q10-9 21-2m-13 8q4 10-2 19m6-14q-17 3-18 21m-55-13q7-11 2-22m49 18q-6-4-5-11m10 13q0 6 5 11m31-12q9-10 6-23m-121 38q0 13-10 21m19-18q16 10 32 1m-24-4q-19 9-27 29m27-25q0 4 3 7m1-12q-11 0-12 10m37-5q-20-8-38 2m91-13q6-12 19-9m-143 32q-1 5 2 8m12-10q-3 16 10 25m-5-34q-16-2-23 12m33-9q3 21-15 31m36-31q1-9-6-13m6 21q-6 7-1 16m2-20q-17 5-19 24m37-29q-20 14-43 6m55 2q-10 15 1 30m4-31q1 5-2 8m7-15q2-4 6-4m-3 13q-5 4-11 3m-58-1q-2 14 6 24m-1-23q-9 9-20 3m39 2q11 3 11 14m-5-10q-13-11-28-1m46-10q10-5 18 4m1 1q-3-5-9-4m-88 21q5-19 24-20m-14 11q21-15 41 3m-33-1q13-3 24 4m-18 3q-1 14 8 24m-7-25q-9 3-14-5m15 0q-13 24 8 43m9-46q6-16-7-28m13 29q-7 15 1 30m6-27q-3-5-8-6m15 4q-15-3-26 8m31-2q8-2 7-10m0 1q-8 0-10-7m12 7q-4 26-30 32m31-25q23 10 18 35m-15-38q-14 23-40 16m44-10q-18-17-41-9m42 9q11 3 16 14m0-17q-9-21-31-19m31 19q-9 2-12-7m19 0q-17-14-36-4m-73 19q3 23 26 29m-26-26q-6-21 12-34m2 34q-6 5-12 1m17 1q24 5 40-13m-39 13q10 11 2 23m13-28q-3 9-12 11m28-6q-22-11-37 9m38-12q-10 15-29 16m42-16q-7-4-5-12m7 8q5 1 7 5m15-3q6 0 8 6m0-5q13 1 18-11m-93 27q15 13 30 0m-26 3q5-11-3-20m7 12q-25-11-27-37m27 36q11 23 36 18m-33-13q-10-1-17-8m27 2q25 8 42-12m-35 13q-20-5-28 14m41-5q-3-18-21-19m26 10q-9-6-17 1m17 1q3 6 1 12m19-12q4-9-3-17m6 13q11-3 15-14m-13 20q-17-16-18-40m20 44q-2-19-19-28m31 26q4-8 0-17m-68 23q10 2 15-7m18 7q-13-20-7-43m8 48q-6-5-14-3" stroke="#ef8fab" stroke-width="0.75" fill="none" stroke-opacity="0.85"/>
<path d="M185 650q34-3 49 28m22-18q-13 1-20 12m14 1q23 0 30 23m-11-23q-12-3-18 7m-55 49q11 5 19-3m46-6q9 4 7 14m-55 10q-4-6 0-12m-70 39q12 15 30 17m-29-16q-6 19-26 18m41-14q4 10-4 17m-34-1q1 6 7 6m74-6q-7 0-10 7m-14 5q13 12 31 9m-45 8q6 1 8 7m18-8q12-4 22 3m-53 6q5 2 6 7m33-3q5-20-13-30" stroke="#f1d77a" stroke-width="0.75" fill="none" stroke-opacity="0.85"/>
<path d="M235 670q-4-16-20-19m53 19q-17 27 6 51m-40-14q10-26 37-22m-92 35q-12-15-29-8m69 31q-1 15-15 21m-45 5q23 13 17 38m10-35q10-6 21 0m31 16q3 2 3 6m-83-2q9-11 24-11m42 42q6-9 0-17m-59 25q-5-9-16-10" stroke="#4fb58c" stroke-width="0.75" fill="none" stroke-opacity="0.85"/>
<path d="M256 650h0m-21 20h0m-38 31h0m-2 14h0m90 5h0m-102 17h0m-33 26h0m17 0h0m-13 8h0m5 5h0m-9 5h0m24 6h0m55 5h0m-51 12h0m31 3h0m8 1h0m-46 4h0m-25 15h0m62-7h0" stroke="#f2d21c" stroke-width="2.4" stroke-linecap="round"/>
<path d="M202 647h0m30-5h0m-47 8h0m-55 27h0m109 1h0m11-5h0m18-3h0m-135 13h0m38 0h0m6 4h0m36 2h0m-76 5h0m7 5h0m49-8h0m78 4h0m-132 13h0m95-1h0m9-7h0m-4 18h0m-104 5h0m50 10h0m49-1h0m2-1h0m-7 18h0m36-1h0m-106 21h0m35 1h0m-39 12h0m43-2h0m-60 15h0m38 2h0m21-5h0m1 7h0m24 0h0m-34 2h0m18 1h0m-86 8h0m14 0h0m6 2h0m13 11h0m11-2h0m60 2h0m-32 7h0" stroke="#2f9fcf" stroke-width="2.4" stroke-linecap="round"/>
<path d="M217 639h0m-46 38h0m34-5h0m79-1h0m-127 9h0m12 7h0m68 20h0m7-1h0m-95 4h0m98 15h0m20 6h0m-21 12h0m-87 23h0m8 1h0m29 0h0m-52 5h0m31 7h0m11-7h0m30-2h0m1 15h0m21 3h0m-117 4h0m24 9h0m27 8h0m33-7h0m-55 17h0m38-1h0m23-2h0m-69 8h0m17 5h0m68-5h0" stroke="#b8125a" stroke-width="2.4" stroke-linecap="round"/>
<circle cx="56" cy="710" r="17.5" fill="#ef8fab" fill-opacity="0.75"/>
<circle cx="56" cy="710" r="19" fill="url(#K1)"/>
<circle cx="56" cy="710" r="16.1" fill="url(#K1r)"/>
<circle cx="76" cy="733" r="17.5" fill="#ef8fab" fill-opacity="0.75"/>
<circle cx="76" cy="733" r="19" fill="url(#K1)"/>
<circle cx="76" cy="733" r="16.1" fill="url(#K1r)"/>
<circle cx="362" cy="759" r="14.7" fill="#ef8fab" fill-opacity="0.58"/>
<circle cx="362" cy="759" r="16" fill="url(#K1)"/>
<circle cx="169" cy="653" r="12" fill="#ef8fab" fill-opacity="0.58"/>
<circle cx="169" cy="653" r="13" fill="url(#K1)"/>
<circle cx="89" cy="686" r="11" fill="#ef8fab" fill-opacity="0.58"/>
<circle cx="89" cy="686" r="12" fill="url(#K1)"/>
<circle cx="155" cy="698" r="12.9" fill="#ef8fab" fill-opacity="0.58"/>
<circle cx="155" cy="698" r="14" fill="url(#K1)"/>
<circle cx="262" cy="838" r="13.8" fill="#ef8fab" fill-opacity="0.58"/>
<circle cx="262" cy="838" r="15" fill="url(#K1)"/>
<circle cx="322" cy="798" r="12" fill="#ef8fab" fill-opacity="0.58"/>
<circle cx="322" cy="798" r="13" fill="url(#K1)"/>
<circle cx="292" cy="792" r="10.1" fill="#ef8fab" fill-opacity="0.58"/>
<circle cx="292" cy="792" r="11" fill="url(#K1)"/>
<circle cx="358" cy="820" r="11" fill="#ef8fab" fill-opacity="0.58"/>
<circle cx="358" cy="820" r="12" fill="url(#K1)"/>
<circle cx="313" cy="851" r="11" fill="#ef8fab" fill-opacity="0.58"/>
<circle cx="313" cy="851" r="12" fill="url(#K1)"/>
<circle cx="47" cy="851" r="13.8" fill="#ef8fab" fill-opacity="0.58"/>
<circle cx="47" cy="851" r="15" fill="url(#K1)"/>
<circle cx="81" cy="847" r="10.1" fill="#ef8fab" fill-opacity="0.58"/>
<circle cx="81" cy="847" r="11" fill="url(#K1)"/>
<circle cx="145" cy="945" r="13.8" fill="#ef8fab" fill-opacity="0.58"/>
<circle cx="145" cy="945" r="15" fill="url(#K1)"/>
<circle cx="325" cy="900" r="11" fill="#ef8fab" fill-opacity="0.58"/>
<circle cx="325" cy="900" r="12" fill="url(#K1)"/>
<circle cx="339" cy="938" r="9.2" fill="#ef8fab" fill-opacity="0.58"/>
<circle cx="339" cy="938" r="10" fill="url(#K1)"/>
<circle cx="235" cy="653" r="18.4" fill="#ef8fab" fill-opacity="0.75"/>
<circle cx="235" cy="653" r="20" fill="url(#K1)"/>
<circle cx="297" cy="672" r="17.5" fill="#ef8fab" fill-opacity="0.75"/>
<circle cx="297" cy="672" r="19" fill="url(#K1)"/>
<circle cx="240" cy="705" r="11" fill="#ef8fab" fill-opacity="0.58"/>
<circle cx="240" cy="705" r="12" fill="url(#K1)"/>
<circle cx="110" cy="728" r="9.2" fill="#ef8fab" fill-opacity="0.58"/>
<circle cx="110" cy="728" r="10" fill="url(#K1)"/>
<path d="M233 634h0m11 1h0m-82 7h0m16 3h0m76 4h0m-97 7h0m23-6h0m36 1h0m39 2h0m29 6h0m5-4h0m6 0h0m6 0h0m4 1h0m5 3h0m-151 2h0m5 3h0m14-3h0m42 2h0m7 6h0m24-6h0m28 6h0m-197 9h0m10-2h0m9 11h0m46 0h0m134-7h0m3 4h0m25 1h0m5-5h0m-263 13h0m5-1h0m6 2h0m22 2h0m6 1h0m5-1h0m2-3h0m46 3h0m24-6h0m65 7h0m16 0h0m50-6h0m-261 18h0m37-4h0m68-2h0m3 4h0m4 2h0m18-7h0m-96 14h0m2-4h0m3 2h0m7 3h0m5 2h0m66-7h0m91 3h0m4-4h0m-200 16h0m7 0h0m4 0h0m2-4h0m0 3h0m7-5h0m22 3h0m2 3h0m8-2h0m4-4h0m10-1h0m5 8h0m-62 4h0m34 7h0m9-9h0m7 7h0m10-3h0m-56 10h0m10 5h0m14-1h0m266 1h0m4-3h0m3-3h0m7 2h0m-290 5h0m6 0h0m266 4h0m28 1h0m-1 13h0m2-7h0m-84 20h0m5 2h0m24 2h0m6 3h0m-46 2h0m1 6h0m27 3h0m3-9h0m21 6h0m-39 6h0m17 3h0m22-3h0m26 7h0m-40 1h0m27 7h0m6-7h0m-101 19h0m10-5h0m88 4h0m-307 9h0m4 0h0m32 0h0m6 1h0m164 1h0m106-9h0m5 2h0m-325 13h0m3-4h0m22 5h0m29-5h0m2 4h0m158-1h0m23 3h0m33-4h0m5-3h0m4 0h0m9 7h0m-262 5h0m12 1h0m15 2h0m3-5h0m166 2h0m10-1h0m34 2h0m3 5h0m19-2h0m-287 4h0m6 3h0m4 2h0m6 0h0m267-4h0m-6 38h0m17-9h0m3 2h0m3 6h0m-17 11h0m13-1h0m4-6h0m-8 9h0m12 18h0m-200 2h0m203-1h0m5 8h0m0-4h0m-217 11h0m1-5h0m198 0h0m7 7h0m5 0h0m-209 7h0m21 2h0m3-6h0m-13 10h0" stroke="#2f9fcf" stroke-width="2.5" stroke-linecap="round"/>
<path d="M222 638h0m5-3h0m10 0h0m-69 6h0m6 1h0m42 6h0m4-6h0m27-2h0m-66 14h0m71 5h0m-83 6h0m53 3h0m26-1h0m34-4h0m-195 11h0m10 5h0m140-7h0m77-2h0m0 6h0m-235 7h0m20 0h0m55 3h0m-87 9h0m101 2h0m69-3h0m-198 10h0m190 3h0m0-5h0m22-1h0m0 4h0m-212 10h0m2 4h0m24-2h0m8-1h0m36 3h0m51-9h0m80 7h0m-196 7h0m22 0h0m52-1h0m-23 9h0m19 4h0m258 11h0m-21 23h0m4 2h0m12 1h0m5-2h0m-70 17h0m30 3h0m-46 9h0m5 2h0m35 7h0m23 4h0m15-3h0m4 4h0m-96 14h0m75-6h0m20 4h0m2-6h0m-121 13h0m27-1h0m1 5h0m-219 4h0m13 3h0m205-1h0m28 4h0m-269 3h0m25 8h0m24-1h0m241-5h0m-267 10h0m251 0h0m5 0h0m11 27h0m-5 2h0m-5 14h0m-179 30h0m17-3h0m3 3h0m175 0h0m-171 6h0m-20 16h0m11 0h0" stroke="#b8125a" stroke-width="2.5" stroke-linecap="round"/>
<path d="M159 645h0m91-1h0m-92 6h0m59 8h0m-43 6h0m139 1h0m-81 7h0m10-1h0m37 2h0m-201 15h0m80-2h0m4 2h0m126 0h0m16 0h0m-258 7h0m33-3h0m65 0h0m99 2h0m50-4h0m-251 10h0m28 0h0m94 6h0m68 6h0m3 4h0m-177 23h0m45-4h0m-36 12h0m23-3h0m256 15h0m28-8h0m-27 13h0m14 11h0m-78 11h0m5-3h0m29 4h0m-16 11h0m2-5h0m8 2h0m6 14h0m15-3h0m-75 20h0m10-2h0m97 5h0m-310 10h0m21-1h0m-5 10h0m183 1h0m67-7h0m-286 13h0m43 2h0m186-5h0m53 42h0m8 17h0m-179 20h0m188-1h0m-174 15h0m173 0h0m14 0h0m-215 5h0" stroke="#f2d21c" stroke-width="2.5" stroke-linecap="round"/>
<path d="M231 646h0m-65 4h0m1 5h0m9 1h0m54 8h0m63 5h0m1 5h0m-202 7h0m1 0h0m-5 10h0m60 7h0m-97 4h0m103 4h0m79-3h0m-174 9h0m5 0h0m180-2h0m-138 18h0m-31 9h0m6-6h0m34-1h0m-41 11h0m285 18h0m-1 5h0m4-1h0m-75 28h0m6 0h0m-31 44h0m-8 6h0m-205 17h0m29-5h0m246 45h0m6-3h0m-12 5h0m3 0h0m16 35h0m-192 12h0m4-2h0m0 1h0m195-6h0" stroke="#2f9fcf" stroke-width="2.4" stroke-linecap="round"/>
<path d="M226 646h0m19 13h0m52 6h0m4 8h0m-216 13h0m67 5h0m-95 10h0m188 2h0m-177 22h0m46-1h0m-36 10h0m278 18h0m-37 50h0m39 20h0m2-2h0m-308 27h0m34-1h0m177-3h0m50 5h0m1 6h0m-169 85h0" stroke="#f2d21c" stroke-width="2.4" stroke-linecap="round"/>
<path d="M228 644h0m-64 9h0m64 1h0m14 6h0m61 7h0m2 1h0m-154 29h0m1 0h0m-98 3h0m184 7h0m-179 9h0m18 24h0m278 21h0m-66 35h0m3 0h0m27-2h0m0 7h0m1 1h0m33 16h0m6-2h0m-314 32h0m31-1h0m2-5h0m185 1h0m2-1h0m-217 10h0m5 1h0m258 2h0m3-5h0m20 88h0m-184 13h0" stroke="#b8125a" stroke-width="2.4" stroke-linecap="round"/>
<circle cx="188" cy="605" r="21" fill="#ee7593"/>
<circle cx="108" cy="639" r="21" fill="#ee7593"/>
<circle cx="291" cy="619" r="16" fill="#ee7593"/>
<circle cx="334" cy="650" r="15" fill="#ee7593"/>
<circle cx="359" cy="702" r="21" fill="#ee7593"/>
<circle cx="67" cy="799" r="21" fill="#ee7593"/>
<circle cx="355" cy="869" r="19" fill="#ee7593"/>
<circle cx="89" cy="896" r="20" fill="#ee7593"/>
<circle cx="159" cy="897" r="18" fill="#ee7593"/>
<circle cx="254" cy="919" r="25" fill="#24a0d8"/>
<path d="M181 587h0m6-1h0m1 3h0m5-3h0m5 2h0m-28 11h0m6-9h0m9 4h0m6 0h0m6 0h0m5-2h0m4 5h0m-37 8h0m4 0h0m3-5h0m3 5h0m3-5h0m3 5h0m9-5h0m3 5h0m3-5h0m7 2h0m76 5h0m5-2h0m2 3h0m4-3h0m6 3h0m-131 2h0m3 6h0m4-6h0m3 5h0m6 0h0m3-5h0m6 0h0m3 5h0m3-5h0m2 8h0m3-4h0m72 3h0m2-5h0m5 7h0m3-6h0m3 6h0m9-6h0m5-1h0m1 6h0m-212 9h0m5-4h0m1 5h0m4-8h0m2 8h0m3-5h0m0-3h0m3 8h0m3-7h0m3 7h0m2-5h0m4 4h0m53-7h0m5 3h0m5 1h0m2-4h0m4 4h0m5-2h0m80 1h0m3 5h0m7-4h0m3 5h0m3-5h0m6 0h0m2 5h0m-212 8h0m1-5h0m6 2h0m3 5h0m3-5h0m3 5h0m9-5h0m3 5h0m3-5h0m3 5h0m3-7h0m1 6h0m158-6h0m6 1h0m6-1h0m-208 11h0m2 5h0m5-4h0m3 5h0m3-5h0m6 0h0m3 5h0m3-5h0m3 5h0m3-5h0m4 5h0m3-5h0m-28 12h0m6 2h0m3-4h0m2 4h0m6-1h0m5-4h0m225 35h0m5-3h0m11-2h0m5 2h0m5 3h0m-32 10h0m2-6h0m5 5h0m3-6h0m3 6h0m3-6h0m3 6h0m3-6h0m3 6h0m3-6h0m8 1h0m2 6h0m-37 11h0m3-7h0m3 5h0m3-5h0m6 0h0m3 5h0m3-5h0m3 5h0m3-5h0m3 5h0m6 2h0m-33 5h0m4 4h0m14-6h0m12 2h0m-21 6h0m6 1h0m6-1h0m-23 137h0m5-3h0m5-2h0m6 0h0m5 2h0m-25 14h0m1-6h0m6 4h0m3-6h0m3 6h0m3-6h0m6 0h0m3 6h0m8-4h0m1 5h0m-291 12h0m6-1h0m6 0h0m245-5h0m3 6h0m1-8h0m3 5h0m3-5h0m3 5h0m3-5h0m3 5h0m3-5h0m6 0h0m4 7h0m2-5h0m-299 14h0m4-4h0m10 3h0m6 0h0m5-6h0m1 6h0m3-2h0m4 4h0m40-1h0m7 2h0m3-8h0m9 8h0m3-6h0m4 4h0m172-4h0m6 2h0m4-4h0m1 5h0m6-1h0m5-2h0m-295 9h0m0 6h0m4-1h0m3-5h0m3 5h0m3-5h0m3 5h0m3-5h0m6 0h0m3 5h0m3-5h0m5 2h0m36-2h0m0 6h0m7-3h0m6 0h0m6 0h0m6 0h0m7 4h0m0-6h0m-103 11h0m4 4h0m2-6h0m3 5h0m6 0h0m3-5h0m3 5h0m3-5h0m5 7h0m1-7h0m3 3h0m2-5h0m37 4h0m6 1h0m3-5h0m3 5h0m3-5h0m6 0h0m5 9h0m1-9h0m3 4h0m-94 8h0m5 2h0m6 0h0m6-1h0m56-1h0m6 1h0m6-1h0" stroke="#2f9fcf" stroke-width="3.4" stroke-linecap="round"/>
<path d="M188 600h0m15 5h0m4 3h0m152 78h0m19 17h0m-21 163h0m6 10h0m-213 7h0m12-2h0" stroke="#f2d21c" stroke-width="3.4" stroke-linecap="round"/>
<path d="M172 594h0m19 21h0m102-2h0m12 11h0m-212 15h0m15-5h0m-3 15h0m-10 4h0m261 30h0m-16 21h0m13 3h0m21-5h0m-24 10h0m6 0h0m12 0h0m2 6h0m-2 139h0m-287 29h0m78 3h0m-66 8h0m-9 5h0m64 7h0m14-4h0m6 0h0" stroke="#b8125a" stroke-width="3.4" stroke-linecap="round"/>
<path d="M334 637h0m6 1h0m-6 2h0m3 5h0m10 2h0m-26 6h0m13-2h0m11 7h0m2-5h0m-13 10h0m6-1h0m-259 124h0m-33 13h0m4 0h0m21 5h0m6 0h0m5 4h0m-17 6h0" stroke="#b8125a" stroke-width="3.2" stroke-linecap="round"/>
<path d="M321 647h0m10-2h0m-276 139h0m5-3h0m4 7h0m3-5h0m5-3h0m-23 13h0m9 6h0m12 0h0m9-5h0m-21 15h0m12 0h0m16-7h0m-26 15h0m16-1h0" stroke="#f2d21c" stroke-width="3.2" stroke-linecap="round"/>
<path d="M328 638h0m-5 4h0m21 0h0m-20 16h0m7-2h0m6 0h0m-9 6h0m-277 126h0m7 0h0m8-8h0m4 8h0m6 0h0m1-6h0m-16 12h0m6 0h0m9 5h0m6 0h0m3-8h0m1 5h0m-38 8h0m7 0h0m6 0h0m3 5h0m3-5h0m9 5h0m-25 1h0m4 4h0m10 4h0m6 0h0m10-6h0" stroke="#2f9fcf" stroke-width="3.2" stroke-linecap="round"/>
<path d="M243 899h0m4-2h0m4-1h0m3 0h0m1 1h0m3-1h0m4 1h0m3 2h0m-32 10h0m2-3h0m2 2h0m0-5h0m2 1h0m1-3h0m5 7h0m0-7h0m2 3h0m2-3h0m0 7h0m2-4h0m2 4h0m0-7h0m2 3h0m2 4h0m2-4h0m2 4h0m2-4h0m2 4h0m2-4h0m1-3h0m1 7h0m2-4h0m2 3h0m-42 10h0m1-4h0m1 2h0m2 3h0m0-7h0m2 4h0m2-4h0m4 0h0m2 4h0m2 3h0m0-7h0m2 4h0m2 3h0m0-7h0m2 4h0m2-4h0m2 4h0m2 3h0m0-7h0m2 4h0m2 3h0m0-7h0m2 4h0m2 3h0m0-7h0m2 4h0m2 3h0m0-7h0m2 4h0m2-5h0m0 8h0m1-4h0m1 3h0m-46 4h0m1 3h0m1-2h0m0 6h0m2-3h0m2 4h0m0-7h0m2 3h0m2-3h0m0 7h0m4-7h0m0 7h0m2-4h0m2 4h0m0-7h0m2 3h0m2 4h0m0-7h0m2 3h0m2 4h0m2-4h0m2 4h0m0-7h0m2 3h0m2 4h0m0-7h0m2 3h0m2 4h0m0-7h0m4 7h0m0-7h0m2 7h0m1-4h0m1-4h0m-42 10h0m2 3h0m2-2h0m1 5h0m3 2h0m0-7h0m2 4h0m2-4h0m2 4h0m2 3h0m4 0h0m2-3h0m2 3h0m0-7h0m2 4h0m2-4h0m2 7h0m2-7h0m1 5h0m3-5h0m0 3h0m2-3h0m-27 9h0m4 1h0m4 0h0m3 0h0m4-1h0" stroke="#2f9fcf" stroke-width="4" stroke-linecap="round"/>
<path d="M243 904h0m14-3h0m8 0h0m-26 17h0m2-3h0m2 3h0m0 7h0m-2 11h0m10-4h0m4 0h0" stroke="#b8125a" stroke-width="4" stroke-linecap="round"/>
<path d="M241 908h0m20-7h0m-6 17h0m2 4h0m14 3h0m-24 14h0m6-3h0m12 0h0" stroke="#f2d21c" stroke-width="4" stroke-linecap="round"/></g>
<g><circle cx="659" cy="771" r="205" fill="url(#tA4)"/>
<path d="M677 678m-28 0a28 28 0 1 0 56 0a28 28 0 1 0-56 0M752 704m-24 0a24 24 0 1 0 48 0a24 24 0 1 0-48 0M824 730m-21 0a21 21 0 1 0 42 0a21 21 0 1 0-42 0M480 724m-22 0a22 22 0 1 0 44 0a22 22 0 1 0-44 0M619 733m-21 0a21 21 0 1 0 42 0a21 21 0 1 0-42 0M708 799m-18 0a18 18 0 1 0 36 0a18 18 0 1 0-36 0M707 877m-28 0a28 28 0 1 0 56 0a28 28 0 1 0-56 0M546 889m-16 0a16 16 0 1 0 32 0a16 16 0 1 0-32 0M614 910m-16 0a16 16 0 1 0 32 0a16 16 0 1 0-32 0M640 912m-14 0a14 14 0 1 0 28 0a14 14 0 1 0-28 0M760 912m-15 0a15 15 0 1 0 30 0a15 15 0 1 0-30 0M619 669m-12 0a12 12 0 1 0 24 0a12 12 0 1 0-24 0" fill="#fff"/>
<circle cx="677" cy="678" r="23.9" fill="#ef8fab" fill-opacity="0.75"/>
<circle cx="677" cy="678" r="26" fill="url(#K1)"/>
<circle cx="677" cy="678" r="22.1" fill="url(#K1r)"/>
<circle cx="752" cy="704" r="20.2" fill="#ef8fab" fill-opacity="0.75"/>
<circle cx="752" cy="704" r="22" fill="url(#K1)"/>
<circle cx="752" cy="704" r="18.7" fill="url(#K1r)"/>
<circle cx="824" cy="730" r="17.5" fill="#ef8fab" fill-opacity="0.75"/>
<circle cx="824" cy="730" r="19" fill="url(#K1)"/>
<circle cx="824" cy="730" r="16.1" fill="url(#K1r)"/>
<circle cx="480" cy="724" r="18.4" fill="#ef8fab" fill-opacity="0.75"/>
<circle cx="480" cy="724" r="20" fill="url(#K1)"/>
<circle cx="480" cy="724" r="17" fill="url(#K1r)"/>
<circle cx="619" cy="733" r="17.5" fill="#ef8fab" fill-opacity="0.75"/>
<circle cx="619" cy="733" r="19" fill="url(#K1)"/>
<circle cx="619" cy="733" r="16.1" fill="url(#K1r)"/>
<circle cx="708" cy="799" r="14.7" fill="#ef8fab" fill-opacity="0.75"/>
<circle cx="708" cy="799" r="16" fill="url(#K1)"/>
<circle cx="708" cy="799" r="13.6" fill="url(#K1r)"/>
<circle cx="707" cy="877" r="23.9" fill="#ef8fab" fill-opacity="0.75"/>
<circle cx="707" cy="877" r="26" fill="url(#K1)"/>
<circle cx="707" cy="877" r="22.1" fill="url(#K1r)"/>
<circle cx="546" cy="889" r="12.9" fill="#ef8fab" fill-opacity="0.46"/>
<circle cx="546" cy="889" r="14" fill="url(#K1)" fill-opacity="0.80"/>
<circle cx="614" cy="910" r="12.9" fill="#ef8fab" fill-opacity="0.46"/>
<circle cx="614" cy="910" r="14" fill="url(#K1)" fill-opacity="0.80"/>
<circle cx="640" cy="912" r="11" fill="#ef8fab" fill-opacity="0.46"/>
<circle cx="640" cy="912" r="12" fill="url(#K1)" fill-opacity="0.80"/>
<circle cx="760" cy="912" r="12" fill="#ef8fab" fill-opacity="0.46"/>
<circle cx="760" cy="912" r="13" fill="url(#K1)" fill-opacity="0.80"/>
<circle cx="619" cy="669" r="9.2" fill="#ef8fab" fill-opacity="0.35"/>
<circle cx="619" cy="669" r="10" fill="url(#K1)" fill-opacity="0.75"/>
<circle cx="609" cy="783" r="20.2" fill="#ef8fab" fill-opacity="0.20"/>
<circle cx="609" cy="783" r="22" fill="url(#K2)" fill-opacity="0.75"/>
<circle cx="661" cy="798" r="12.9" fill="#ef8fab" fill-opacity="0.20"/>
<circle cx="661" cy="798" r="14" fill="url(#K2)" fill-opacity="0.75"/>
<path d="M627 664h0m1 3h0m70-2h0m-43 5h0m47 4h0m-1 8h0m50 1h0m5 1h0m8 4h0m-105 7h0m36 1h0m77 0h0m-103 5h0m62 0h0m-263 10h0m264 0h0m38 2h0m58-1h0m-329 12h0m309-2h0m33 1h0m-342 7h0m-22 13h0m7 0h0m331 2h0m10 4h0m-209 3h0m6-2h0m-31 26h0m35-5h0m32 14h0m40 4h0m8-5h0m12 3h0m-26 12h0m-75 3h0m4-2h0m75 9h0m24-1h0m-4 3h0m-25 46h0m-6 9h0m-152 25h0m22 7h0m137 0h0m25 0h0m44 1h0m-222 2h0m88 5h0m4-2h0m16-1h0m124 3h0m-24 7h0m-140 9h0" stroke="#f2d21c" stroke-width="2.5" stroke-linecap="round"/>
<path d="M621 659h0m43 0h0m6-4h0m4 0h0m5-1h0m6 3h0m5-1h0m5 3h0m-84 4h0m6-3h0m42 1h0m41 8h0m-81 9h0m9-6h0m24 8h0m50 7h0m38 0h0m4-2h0m-88 7h0m8 7h0m26 0h0m45-9h0m33 1h0m-292 15h0m204-4h0m4-1h0m89 6h0m-281 3h0m3 4h0m3 4h0m112-1h0m6-1h0m9 1h0m188 0h0m8-5h0m12 3h0m4 4h0m-230 3h0m24-1h0m3 3h0m106-4h0m5 3h0m9 2h0m5-2h0m48 2h0m34 3h0m-373 11h0m25-2h0m108 0h0m204-5h0m36 1h0m-369 8h0m17-1h0m139 9h0m5-5h0m204-1h0m2-3h0m-242 25h0m11-2h0m4-1h0m5 3h0m-23 6h0m34 5h0m-40 4h0m42 5h0m32-1h0m6 3h0m33-2h0m-109 10h0m33 2h0m4-6h0m19 7h0m24-8h0m23 4h0m28 3h0m-118 6h0m7 0h0m38 0h0m18 5h0m3-2h0m3-5h0m19 3h0m-31 7h0m38 1h0m7 2h0m4-1h0m7 42h0m7 7h0m-179 13h0m136 3h0m50-2h0m-199 9h0m3-5h0m146 3h0m4 4h0m43 1h0m-33 10h0m27-1h0m-178 5h0m5 0h0m51 5h0m3-5h0m19-1h0m7 8h0m5-7h0m5-1h0m10 6h0m57-6h0m41 7h0m9-8h0m-156 12h0m1 5h0m24 0h0m3-2h0m22-4h0m120 5h0m-159 7h0m6 0h0m5-3h0m9 0h0m9 3h0m5-1h0m113 1h0m6 0h0" stroke="#2f9fcf" stroke-width="2.5" stroke-linecap="round"/>
<path d="M610 668h0m45-4h0m-44 9h0m3 4h0m10 0h0m29-2h0m0 12h0m107-2h0m-62 6h0m36 5h0m-262 11h0m10-3h0m4 3h0m188-4h0m58 2h0m39-4h0m-309 18h0m2-3h0m156 0h0m115 0h0m34 1h0m48-3h0m-355 11h0m141 1h0m34 3h0m112-5h0m15-4h0m-302 10h0m3 4h0m30 0h0m106-3h0m37 4h0m170 2h0m-205 6h0m5 4h0m3 2h0m23-9h0m176 3h0m10 5h0m11-1h0m-230 17h0m21 1h0m-34 22h0m42-6h0m23 8h0m58-5h0m-121 6h0m59 1h0m24 4h0m48-3h0m-126 8h0m6 2h0m51 7h0m72-7h0m-69 8h0m41 45h0m6-3h0m4 1h0m6 1h0m9 4h0m-32 4h0m39 5h0m-188 10h0m11 0h0m4 2h0m128-7h0m48 0h0m-173 12h0m172-3h0m-196 15h0m24 0h0m0-6h0m51 9h0m3-2h0m7 0h0m70-5h0m39 0h0m-100 17h0m75-9h0m10 0h0m39 4h0m15-3h0m-118 16h0m101 1h0m23-6h0m-137 11h0m117 0h0m15-2h0" stroke="#b8125a" stroke-width="2.5" stroke-linecap="round"/>
<path d="M674 663h0m6 16h0m2-4h0m61 24h0m16 12h0m-267 14h0m123 0h0m209 10h0m-221 47h0m16 3h0m-6 5h0m0 5h0m91 0h0m-44 9h0m5 0h0m2-4h0m32 0h0m-152 82h0m1 6h0m166-2h0m3 1h0m37 22h0m-113 3h0m5 3h0" stroke="#b8125a" stroke-width="2.4" stroke-linecap="round"/>
<path d="M625 668h0m45 0h0m-3 12h0m1 7h0m19-4h0m57 15h0m-276 25h0m3 1h0m141 12h0m218-4h0m-233 49h0m22 8h0m-11 7h0m101 5h0m-15 68h0m-148 12h0m63 31h0m1 0h0m11 2h0" stroke="#f2d21c" stroke-width="2.4" stroke-linecap="round"/>
<path d="M617 664h0m57 0h0m-52 6h0m49 19h0m85 10h0m4 3h0m2 3h0m-281 8h0m273 0h0m2 2h0m-287 13h0m22-8h0m124 5h0m11 1h0m207 3h0m-349 5h0m135 0h0m3-2h0m203 1h0m1 0h0m-1 8h0m-214 35h0m47 16h0m4 0h0m53 2h0m0 2h0m0 73h0m-19 7h0m-148 5h0m4 2h0m146-1h0m6 1h0m11-3h0m-2 10h0m-103 21h0m6 3h0m17-2h0m12 5h0m115-7h0m0 2h0m1-1h0" stroke="#2f9fcf" stroke-width="2.4" stroke-linecap="round"/>
<path d="M677 654h0m10 2h0m-32 13h0m19-1h0m-3 3h0m9 1h0m21 10h0m-42 12h0m-186 13h0m12-1h0m187-5h0m14-1h0m-78 19h0m12-3h0m125-6h0m67 7h0m15-4h0m10 6h0m-375 10h0m20-1h0m1-3h0m151-2h0m173 4h0m-338 11h0m133-6h0m10 3h0m9 3h0m15-5h0m188-2h0m17 2h0m-235 12h0m216 2h0m14-4h0m-219 7h0m91 34h0m-2 12h0m8 1h0m9 2h0m-29 3h0m8 10h0m-8 45h0m11-4h0m12 2h0m12 12h0m-14 10h0m16 1h0m-20 2h0m-21 14h0m37-4h0m-26 10h0m13 0h0" stroke="#b8125a" stroke-width="4.6" stroke-linecap="round"/>
<path d="M663 659h0m35 7h0m-45 15h0m89 5h0m15-2h0m-60 7h0m38 3h0m-3 14h0m17-2h0m-286 11h0m33-3h0m270 5h0m-288 6h0m20 0h0m257-1h0m-263 14h0m335-5h0m-345 9h0m149 4h0m180-4h0m-93 46h0m-22 3h0m21 20h0m-32 58h0m-1 13h0m22-2h0" stroke="#2f9fcf" stroke-width="4.6" stroke-linecap="round"/>
<path d="M770 694h0m-21 15h0m23-2h0m-31 14h0" stroke="#f2d21c" stroke-width="4.6" stroke-linecap="round"/></g>
<g><circle cx="1197" cy="771" r="204" fill="url(#tB3)"/>
<path d="M1304 660m-27 0a27 27 0 1 0 54 0a27 27 0 1 0-54 0M1039 729m-24 0a24 24 0 1 0 48 0a24 24 0 1 0-48 0M1047 825m-26 0a26 26 0 1 0 52 0a26 26 0 1 0-52 0M1085 645m-21 0a21 21 0 1 0 42 0a21 21 0 1 0-42 0M1225 625m-18 0a18 18 0 1 0 36 0a18 18 0 1 0-36 0M1078 684m-17 0a17 17 0 1 0 34 0a17 17 0 1 0-34 0M1094 764m-18 0a18 18 0 1 0 36 0a18 18 0 1 0-36 0M1363 726m-22 0a22 22 0 1 0 44 0a22 22 0 1 0-44 0M1384 772m-22 0a22 22 0 1 0 44 0a22 22 0 1 0-44 0M1298 820m-20 0a20 20 0 1 0 40 0a20 20 0 1 0-40 0M1301 862m-20 0a20 20 0 1 0 40 0a20 20 0 1 0-40 0M1261 884m-20 0a20 20 0 1 0 40 0a20 20 0 1 0-40 0M1306 918m-23 0a23 23 0 1 0 46 0a23 23 0 1 0-46 0M1181 910m-20 0a20 20 0 1 0 40 0a20 20 0 1 0-40 0M1101 909m-18 0a18 18 0 1 0 36 0a18 18 0 1 0-36 0M1149 945m-21 0a21 21 0 1 0 42 0a21 21 0 1 0-42 0M1300 655m-50 0a50 50 0 1 0 100 0a50 50 0 1 0-100 0M1036 729m-38 0a38 38 0 1 0 76 0a38 38 0 1 0-76 0M1044 825m-44 0a44 44 0 1 0 88 0a44 44 0 1 0-88 0M1262 923m-14 0a14 14 0 1 0 28 0a14 14 0 1 0-28 0M1254 953m-14 0a14 14 0 1 0 28 0a14 14 0 1 0-28 0M1187 951m-13 0a13 13 0 1 0 26 0a13 13 0 1 0-26 0M1228 919m-13 0a13 13 0 1 0 26 0a13 13 0 1 0-26 0M1343 780m-15 0a15 15 0 1 0 30 0a15 15 0 1 0-30 0M1335 877m-13 0a13 13 0 1 0 26 0a13 13 0 1 0-26 0M1351 839m-15 0a15 15 0 1 0 30 0a15 15 0 1 0-30 0M1331 804m-12 0a12 12 0 1 0 24 0a12 12 0 1 0-24 0M1039 660m-14 0a14 14 0 1 0 28 0a14 14 0 1 0-28 0M1121 637m-15 0a15 15 0 1 0 30 0a15 15 0 1 0-30 0M1205 600m-12 0a12 12 0 1 0 24 0a12 12 0 1 0-24 0M1175 622m-11 0a11 11 0 1 0 22 0a11 11 0 1 0-22 0M1055 625m-12 0a12 12 0 1 0 24 0a12 12 0 1 0-24 0M1040 690m-10 0a10 10 0 1 0 20 0a10 10 0 1 0-20 0" fill="#fff"/>
<ellipse cx="1195" cy="765" rx="86.4" ry="97.6" fill="#ef8fab" fill-opacity="0.03"/>
<ellipse cx="1195" cy="765" rx="108" ry="122" fill="url(#W1)" fill-opacity="0.70"/>
<ellipse cx="1160" cy="680" rx="50" ry="45" fill="url(#W2)" fill-opacity="0.80"/>
<path d="M1146 644q5 5 12 5m-2-9q-2-3-1-6m24 7q4 3 5 7m-52 3q5 3 10-1m0 1q9 16 3 33m9-35q-14-4-21 9m37-10q17 9 17 27m-7-23q-10-4-13-15m37 15q-22 1-31 20m-56-7q-3-2-3-6m28 10q12 13 27 5m-22-3q-7 17-25 18m32-21q-26 8-36 32m122-29q-7-18-24-26m-99 33q14 8 15 23m7-18q16-24 43-15m-27 9q13 22-5 40m8-38q-2 3 0 5m31-9q1-4 5-5m2 7q2-5 8-5m10 9q-10-6-9-17m54 19q16 28 4 59m-148-58q-3 12 8 19m-7-17q31-9 54 14m-40-5q-4 13 4 24m4-25q16-4 19-21m-12 22q7-23 30-31m-25 30q-8-20-30-18m40 9q10 7 19-1m-15 11q-3 10 5 17m13-19q13 3 14 16m3-17q-1-12-13-18m24 10q-19-2-30-18m48 28q-6 8-16 6m19-8q-4 21 14 30m-11-33q-22-6-30-28m-60 40q17-38 58-45m-52 43q4-14 18-15m-3 17q1 25-23 34m45-38q-2-7 3-14m7 14q11-7 10-20m19 27q9-6 18 0m-8-4q-2 48 39 72m-145-54q-14-17-33-7m44-1q16 0 22-15m-2 14q-8 11-21 14m46-11q-9-7-18 1m38-1q-25 3-37 26m40-28q-29 25-29 62m37-58q-42 5-62 40m67-44q-19-13-15-36m17 36q18 21 46 20m-21-11q35 7 40 42m-25-46q-31-42-78-20m-55 33q-13-28 4-52m28 46q12 11 6 26m14-19q-19-9-32 8m40-13q51 4 62 55m-34-57q-49-12-75 30m122-22q17-8 31 4m-198 6q11-15 0-30m9 23q5-11 0-23m31 26q-15 12-8 29m26-32q3 22-18 31m29-21q27-25 10-57m-8 48q-27-33-2-66m10 72q-24 24-14 56m27-53q-15 36-53 46m79-51q-2-24-21-38m33 42q-3 46 41 59m-37-62q2-31-23-49m-121 54q24 8 20 34m17-23q-8 2-9 10m46-17q40 28 76-4m-70 7q-10-45-54-61m80 59q-4 30-29 47m45-45q13-14 12-34m-3 35q-28 41 3 80m31-85q13-11 10-27m18 29q-41-1-50 39m-136-23q9-14-1-28m66 28q18 12 12 32m-5-39q-19 6-22 25m27-21q42 24 39 71m-12-74q25-7 38 14m-6-9q-37-27-31-72m68 75q-33-12-54 16m-121-8q-9-2-12-10m18 7q-12 51 32 78m-30-74q4 31 33 42m-28-43q5-8 15-7m22 8q6 8 2 18m19-17q-40 21-79-2m102-7q20-31 57-29m-57 40q0 37 35 46m-33-55q38-5 60 25m-59-22q17-7 20-26m-17 30q-2-51 43-74m-29 73q-18 31-5 65m19-64q17 12 32-2m-10-6q-5 40 25 67m-23-60q-13 1-18 13m67-10q-9-1-12-10m16 8q7 9 5 20m-4-18q1 39-37 47m-165-35q4 23 24 35m7-40q11-48-27-79m110 84q13 46-27 71m29-79q-20 5-32-12m63 9q-38-16-74 5m91 5q13-22 37-25m-14 17q-31 24-63 1m65 2q9-11 6-25m-137 32q8-47 55-50m-2 53q6 17-6 30m41-25q-26 1-44-18m45 15q-5 8 0 17m6-12q-6 10 1 20m17-28q-37 10-67-15m-46 28q-9 17-29 20m37-19q6 21 28 25m-26-26q-49-1-63-48m130 51q-6-9-1-18m4 12q-19-20-9-45m-72 68q-1-21 17-30m-15 21q-10 12-1 25m20-24q-18-13-13-34m21 32q-6-11 1-21m22 24q8-8 19-4m40 1q36-30 24-75m-24 81q10 11 25 8m-164 1q-18-38 16-64m61 70q-2-9 6-13m35 13q-7 12-20 9m-54-3q-6 9-1 19m75-23q7-38-16-69m-77 81q17 10 35 1m-32 6q-2-21-22-29m56 27q1-32-28-44m91 41q5 10-3 18m14-19q-1-20-17-32m-28 46q-31 24-64 2m72-3q-41 19-72-13m39 24q2-49 49-62m-41 68q-25-39-70-28" stroke="#ef8fab" stroke-width="0.75" fill="none" stroke-opacity="0.85"/>
<path d="M1160 647q-19 10-14 31m31-30q6 46 52 57m-41-52q5 2 9 0m-8 0q2 5-2 10m-70-1q13-3 19 8m-13-7q0-12 11-18m-9 16q4 3 9 1m32 8q-1 9-10 12m17-16q-7-12 1-23m16 20q1-3-1-5m11 13q-6 12-18 15m25-17q-1-8-10-10m11 10q-14-16-32-8m42 4q24 20 24 52m-113-37q-11-2-11-13m17 16q19 7 31-9m-1 2q-11 1-14 12m29-10q-5-4-2-9m-56 22q12 1 18-9m-18 4q-1-4-5-6m9 13q12-2 23 6m35-15q2-3 2-6m4 16q5 30 31 47m-96-40q-3 1-4 4m42-3q12-3 14-16m-54 28q11-7 21 0m4 4q1-4-2-7m31 4q19 5 24 24m-22-29q0 7 6 9m57-9q-8 14-25 16m-44 0q-36-5-39-42m128 65q-9-2-12-11m16 21q22 17 12 44m-100-24q15 16 11 37m-53-33q38-19 40-61m69 60q-4 40-44 45m61-33q11 6 20-3m-17 7q-34 11-38 47m-51-31q16-23 4-47m78 41q29-4 30-33m-102 59q23-12 24-37m49 34q-17-33 11-58m-41 96q0 7 6 10" stroke="#4fb58c" stroke-width="0.75" fill="none" stroke-opacity="0.85"/>
<path d="M1147 641q8 9 4 20m-1-12q-1-3 2-5m97 32q-20 10-34-7m-74 15q-4-7-1-15m-7 34q2 7-1 12m61 5q-27-9-23-38m82 66q25-13 25-42m-47 55q-5 7-13 4m-47 22q19 0 23-20m33 27q5-11-4-18m-26 44q15-1 22-15m-25 28q-22 10-43-3" stroke="#f1d77a" stroke-width="0.75" fill="none" stroke-opacity="0.85"/>
<path d="M1146 644h0m4 5h0m39 4h0m15-1h0m-87 13h0m0-3h0m73 1h0m59 13h0m-134 8h0m20-1h0m75 1h0m-88 7h0m23 4h0m18 7h0m73-2h0m-106 18h0m63 2h0m-85 13h0m70 7h0m13 3h0m-22 8h0m-4 26h0m-1 31h0m94 0h0m8 9h0" stroke="#b8125a" stroke-width="2.4" stroke-linecap="round"/>
<path d="M1154 649h0m25-8h0m-37 10h0m31 15h0m35 3h0m-91 9h0m30-7h0m11 8h0m7-3h0m31 1h0m4-6h0m40 0h0m-99 13h0m43 0h0m50 5h0m-104 6h0m8-1h0m12 5h0m0-5h0m37 3h0m46 42h0m-144 5h0m140-2h0m-103 13h0m74 4h0m11-8h0m-23 17h0m-94 7h0m8 1h0m5-1h0m37 1h0m34 3h0m12-9h0m18 6h0m87 3h0m-159 4h0m34 4h0m44-4h0m31 14h0m17-7h0m-26 14h0m-60 15h0m8-2h0m12 3h0m11 0h0m-14 13h0m52 5h0m-74 6h0m81 10h0m-26 12h0m-33 11h0" stroke="#2f9fcf" stroke-width="2.4" stroke-linecap="round"/>
<path d="M1166 670h0m23 5h0m10 17h0m29 2h0m3-2h0m-52 18h0m27 2h0m16-2h0m-59 38h0m5-5h0m27 6h0m-22 13h0m59 2h0m-132 8h0m88 7h0m111-2h0m-201 14h0m171 3h0m-114 33h0m111-4h0" stroke="#f2d21c" stroke-width="2.4" stroke-linecap="round"/>
<circle cx="1262" cy="923" r="11" fill="#ef8fab" fill-opacity="0.58"/>
<circle cx="1262" cy="923" r="12" fill="url(#K1)"/>
<circle cx="1254" cy="953" r="11" fill="#ef8fab" fill-opacity="0.58"/>
<circle cx="1254" cy="953" r="12" fill="url(#K1)"/>
<circle cx="1187" cy="951" r="10.1" fill="#ef8fab" fill-opacity="0.58"/>
<circle cx="1187" cy="951" r="11" fill="url(#K1)"/>
<circle cx="1228" cy="919" r="10.1" fill="#ef8fab" fill-opacity="0.58"/>
<circle cx="1228" cy="919" r="11" fill="url(#K1)"/>
<circle cx="1343" cy="780" r="12" fill="#ef8fab" fill-opacity="0.58"/>
<circle cx="1343" cy="780" r="13" fill="url(#K1)"/>
<circle cx="1335" cy="877" r="10.1" fill="#ef8fab" fill-opacity="0.58"/>
<circle cx="1335" cy="877" r="11" fill="url(#K1)"/>
<circle cx="1351" cy="839" r="12" fill="#ef8fab" fill-opacity="0.58"/>
<circle cx="1351" cy="839" r="13" fill="url(#K1)"/>
<circle cx="1331" cy="804" r="9.2" fill="#ef8fab" fill-opacity="0.58"/>
<circle cx="1331" cy="804" r="10" fill="url(#K1)"/>
<circle cx="1039" cy="660" r="11" fill="#ef8fab" fill-opacity="0.58"/>
<circle cx="1039" cy="660" r="12" fill="url(#K1)"/>
<circle cx="1121" cy="637" r="12" fill="#ef8fab" fill-opacity="0.58"/>
<circle cx="1121" cy="637" r="13" fill="url(#K1)"/>
<circle cx="1205" cy="600" r="9.2" fill="#ef8fab" fill-opacity="0.58"/>
<circle cx="1205" cy="600" r="10" fill="url(#K1)"/>
<circle cx="1175" cy="622" r="8.3" fill="#ef8fab" fill-opacity="0.58"/>
<circle cx="1175" cy="622" r="9" fill="url(#K1)"/>
<circle cx="1055" cy="625" r="9.2" fill="#ef8fab" fill-opacity="0.58"/>
<circle cx="1055" cy="625" r="10" fill="url(#K1)"/>
<circle cx="1040" cy="690" r="7.4" fill="#ef8fab" fill-opacity="0.58"/>
<circle cx="1040" cy="690" r="8" fill="url(#K1)"/>
<path d="M1214 597h0m-17 8h0m17-2h0m-35 11h0m4 5h0m-119 4h0m52 3h0m-56 7h0m50 0h0m63-3h0m5 0h0m-68 10h0m0 3h0m-81 14h0m1 10h0m19-2h0m1-5h0m-13 23h0m10 9h0m290 76h0m-4 4h0m16-2h0m6 8h0m-22 9h0m-6 9h0m20-4h0m-24 17h0m13 3h0m21 16h0m4 3h0m2 11h0m-38 34h0m1-5h0m-92 56h0m39-2h0m0-4h0m-12 14h0m-76 6h0m61 4h0m4-3h0m-7 8h0m1 5h0m-60 6h0m75 2h0" stroke="#b8125a" stroke-width="2.5" stroke-linecap="round"/>
<path d="M1201 592h0m5-2h0m5 2h0m-15 9h0m5 7h0m11-1h0m-159 8h0m9 4h0m107-3h0m5-3h0m34-3h0m-163 14h0m1 5h0m18 0h0m48 0h0m15-2h0m42 1h0m13-2h0m-132 7h0m6 1h0m77 0h0m-93 14h0m93-7h0m-102 11h0m14-1h0m5 4h0m71-5h0m-81 21h0m4-1h0m-2 13h0m302 84h0m9 7h0m-23 8h0m22 7h0m3-5h0m-33 15h0m14-8h0m1 6h0m6-5h0m-21 12h0m18 2h0m1-4h0m-9 11h0m7 24h0m3-7h0m21 7h0m-22 10h0m20 0h0m-10 4h0m-20 16h0m5 0h0m5 2h0m2 2h0m3 7h0m-20 3h0m3 5h0m10 0h0m6-4h0m-118 27h0m4 0h0m-13 7h0m4-6h0m14 3h0m2 5h0m13 0h0m4-4h0m6-2h0m4 1h0m5 2h0m-53 6h0m4 4h0m2 4h0m15-7h0m18 10h0m9 1h0m4-2h0m-91 17h0m14-7h0m64 1h0m4 3h0m5 3h0m-88 5h0m1 4h0m19-6h0m68 7h0m-16 5h0m6 1h0" stroke="#2f9fcf" stroke-width="2.5" stroke-linecap="round"/>
<path d="M1197 595h0m-149 24h0m9-3h0m65 9h0m9 4h0m35-6h0m-51 24h0m10 2h0m5-3h0m-96 4h0m-6 12h0m6 8h0m-1 18h0m13-1h0m-13 6h0m4 4h0m7-1h0m288 80h0m1 19h0m-6 17h0m19 16h0m6-1h0m-13 15h0m7 8h0m11 0h0m-23 37h0m-105 42h0m21-6h0m2 6h0m-72 15h0m15 0h0m-2 15h0m4-4h0m48 4h0m20-6h0m-77 8h0" stroke="#f2d21c" stroke-width="2.5" stroke-linecap="round"/>
<path d="M1207 597h0m-2 6h0m-26 16h0m-127 1h0m2 6h0m3-3h0m118 1h0m-55 9h0m0 6h0m1-3h0m3 7h0m-86 21h0m1-1h0m-2 25h0m303 85h0m2 13h0m-11 23h0m3-8h0m1 3h0m13 29h0m8 3h0m-8 4h0m-14 33h0m4 1h0m-116 44h0m2-2h0m-1 6h0m34 2h0m3-1h0m5 4h0m-14 22h0m3-1h0m-72 5h0m66 1h0" stroke="#2f9fcf" stroke-width="2.4" stroke-linecap="round"/>
<path d="M1208 599h0m-37 24h0m-132 41h0m300 110h0m2 12h0m-12 88h0m-64 44h0" stroke="#b8125a" stroke-width="2.4" stroke-linecap="round"/>
<path d="M1045 663h0m-1 28h0m301 149h0m-10 34h0m-110 44h0m-36 29h0m64 0h0m-69 4h0m5 1h0" stroke="#f2d21c" stroke-width="2.4" stroke-linecap="round"/>
<circle cx="1304" cy="660" r="22" fill="#24a0d8"/>
<circle cx="1039" cy="729" r="19" fill="#a080b0"/>
<circle cx="1047" cy="825" r="21" fill="#a080b0"/>
<circle cx="1085" cy="645" r="16" fill="#ee7593"/>
<circle cx="1225" cy="625" r="13" fill="#ee7593"/>
<circle cx="1078" cy="684" r="12" fill="#ee7593"/>
<circle cx="1094" cy="764" r="13" fill="#ee7593"/>
<circle cx="1363" cy="726" r="17" fill="#ee7593"/>
<circle cx="1384" cy="772" r="17" fill="#ee7593"/>
<circle cx="1298" cy="820" r="15" fill="#ee7593"/>
<circle cx="1301" cy="862" r="15" fill="#ee7593"/>
<circle cx="1261" cy="884" r="15" fill="#ee7593"/>
<circle cx="1306" cy="918" r="18" fill="#ee7593"/>
<circle cx="1181" cy="910" r="15" fill="#ee7593"/>
<circle cx="1101" cy="909" r="13" fill="#ee7593"/>
<circle cx="1149" cy="945" r="16" fill="#ee7593"/>
<path d="M1288 647h0m3-2h0m1 3h0m2-5h0m0 2h0m2 3h0m2-7h0m0 4h0m2 3h0m1-8h0m1 5h0m2 3h0m0-7h0m1-1h0m1 5h0m2 3h0m1-7h0m1 4h0m2 3h0m1-6h0m1 3h0m2-1h0m0 4h0m3-2h0m2 3h0m-37 9h0m1-4h0m1-3h0m0 8h0m2-4h0m2-3h0m0 7h0m2-4h0m2 4h0m0-7h0m2 3h0m2 4h0m0-7h0m2 3h0m2 4h0m0-7h0m2 3h0m2 4h0m0-7h0m2 3h0m2 4h0m0-7h0m2 3h0m2 4h0m0-7h0m2 3h0m2 4h0m0-7h0m2 3h0m2 4h0m1-6h0m1 4h0m-40 5h0m1 3h0m1 4h0m2 0h0m0-7h0m2 4h0m2 3h0m0-7h0m2 4h0m2 3h0m0-7h0m2 4h0m2 3h0m0-7h0m2 4h0m2 3h0m0-7h0m2 4h0m2 3h0m0-7h0m2 4h0m2 3h0m0-7h0m2 4h0m2 3h0m0-7h0m2 4h0m2 3h0m0-7h0m2 6h0m2-4h0m0-4h0m-36 12h0m3 3h0m3-2h0m0 4h0m2-1h0m1 3h0m1-6h0m2 3h0m2-3h0m2 3h0m2-3h0m2 3h0m2-3h0m2 3h0m0 2h0m2-5h0m1 3h0m3-2h0m3-3h0m-20 9h0m4 0h0m3 0h0" stroke="#2f9fcf" stroke-width="4" stroke-linecap="round"/>
<path d="M1027 717h0m3 1h0m4 0h0m1-6h0m4 0h0m0 6h0m5-5h0m0 5h0m4-3h0m1 3h0m3 0h0m-30 7h0m2-4h0m1 6h0m2-5h0m3 5h0m2-5h0m2 5h0m3-5h0m2 5h0m3-5h0m2 5h0m2-5h0m3 5h0m2-5h0m3-1h0m0 6h0m2-1h0m-34 4h0m1 4h0m2 5h0m2-8h0m3 4h0m2 4h0m0-8h0m2 4h0m3 4h0m0-8h0m2 4h0m3-4h0m0 8h0m2-4h0m2 4h0m0-8h0m3 4h0m4 4h0m2-4h0m1-4h0m-28 11h0m4 3h0m4 1h0m5 0h0m4-1h0m5-2h0m-13 66h0m4-2h0m5-1h0m2 2h0m2-2h0m5 1h0m-26 12h0m1-4h0m3-3h0m0 4h0m5 0h0m7-4h0m3 4h0m2-4h0m2 4h0m3-4h0m2 4h0m2-6h0m3 3h0m2 4h0m-36 12h0m0-5h0m3 5h0m0-8h0m2 4h0m3-4h0m0 8h0m2-4h0m2-4h0m0 8h0m3-4h0m2-4h0m5 0h0m0 8h0m5-8h0m0 8h0m2-4h0m3-4h0m0 8h0m2-4h0m4-4h0m0 5h0m-36 7h0m2 4h0m1-4h0m3 4h0m2-4h0m2 4h0m3-4h0m2 4h0m3-4h0m2 4h0m2-4h0m3 4h0m2-4h0m4 5h0m3-3h0m1-4h0m-30 9h0m4 3h0m5 1h0m4 0h0m0-3h0m5 2h0m4-2h0" stroke="#2f9fcf" stroke-width="3.6" stroke-linecap="round"/>
<path d="M1051 731h0m-6 98h0m3-4h0" stroke="#f2d21c" stroke-width="3.6" stroke-linecap="round"/>
<path d="M1030 714h0m13 102h0m9 9h0" stroke="#b8125a" stroke-width="3.6" stroke-linecap="round"/>
<path d="M1073 638h0m8 1h0m1-8h0m5 8h0m1-8h0m5 2h0m0 6h0m4-1h0m-26 5h0m0 6h0m13-4h0m6 0h0m9-1h0m-25 11h0m5 3h0m5-3h0m1 4h0m2-9h0m4 8h0m5-3h0m284 102h0m6 0h0m6 2h0m-21 5h0m4-4h0m4 5h0m12 0h0m5-2h0m-27 13h0m0-6h0m10 6h0m6 0h0m6 0h0m3-5h0m5 3h0m-27 7h0m4 4h0m6-4h0m6 6h0m0-6h0m5 3h0m4-4h0m-98 69h0m6 0h0m-15 6h0m4-4h0m4 6h0m6 0h0m6-4h0m-22 13h0m0-5h0m10 7h0m6 0h0m3-5h0m5 6h0m2-6h0m-22 8h0m5 4h0m6 0h0m5-2h0m-15 35h0m4-4h0m6-2h0m6 0h0m6 2h0m4 4h0m-29 5h0m0 6h0m7-3h0m6 0h0m3-6h0m3 6h0m6 0h0m7-2h0m-31 11h0m6 1h0m3-5h0m3 5h0m6 0h0m3-5h0m6 0h0m3 4h0m1-5h0m-185 18h0m4-5h0m4 6h0m1-8h0m2 3h0m3 5h0m1-8h0m5 2h0m0 6h0m4-1h0m134-8h0m5 3h0m6 1h0m6-1h0m5-3h0m-182 13h0m0 6h0m7-4h0m6 0h0m6 0h0m9 4h0m0-5h0m-25 11h0m5 3h0m2-8h0m3 5h0m1 4h0m2-9h0m4 8h0m5-3h0" stroke="#2f9fcf" stroke-width="3.4" stroke-linecap="round"/>
<path d="M1077 633h0m1 12h0m15 5h0m292 115h0m-12 11h0m9-5h0m-81 81h0m13 6h0m-19 5h0m-1 58h0m-137 29h0" stroke="#b8125a" stroke-width="3.4" stroke-linecap="round"/>
<path d="M1099 649h0m-18 1h0m318 118h0m-17 19h0m-81 76h0m5 58h0" stroke="#f2d21c" stroke-width="3.4" stroke-linecap="round"/>
<path d="M1221 628h0m3-6h0m3 6h0m3-6h0m-155 66h0m15 79h0m3-6h0m3 6h0m3-6h0m-6 11h0" stroke="#2f9fcf" stroke-width="3" stroke-linecap="round"/>
<path d="M1224 633h0m-146 49h0m6 0h0" stroke="#f2d21c" stroke-width="3" stroke-linecap="round"/>
<path d="M1072 682h0m9 6h0" stroke="#b8125a" stroke-width="3" stroke-linecap="round"/>
<path d="M1349 719h0m4-5h0m5 5h0m0-8h0m6 0h0m-16 14h0m19 0h0m11-4h0m-8 9h0m-14 10h0m12 1h0m-114 132h0m4 6h0m2-8h0m1 3h0m-13 14h0m13-3h0m13-5h0m-167 19h0m75-2h0m69-4h0m17 2h0m4-4h0m-166 15h0m5-3h0m83 5h0m-97 4h0m3 5h0m7 2h0m61-7h0m10 4h0m6 0h0m3-5h0" stroke="#f2d21c" stroke-width="3.2" stroke-linecap="round"/>
<path d="M1364 719h0m0 11h0m-66 77h0m6 1h0m-17 4h0m24 5h0m-19 4h0m6 0h0m3 5h0m10-3h0m-7 9h0m-54 45h0m8 13h0m6 0h0m-83 10h0m3 5h0m-93 10h0m84-4h0m-74 9h0" stroke="#b8125a" stroke-width="3.2" stroke-linecap="round"/>
<path d="M1370 719h0m0-7h0m5 4h0m-14 9h0m17 2h0m-30 4h0m3 5h0m1-6h0m15 5h0m6 3h0m4-5h0m-15 8h0m-70 67h0m-7 9h0m10-2h0m3-5h0m3 5h0m7-4h0m-23 12h0m3 6h0m7-3h0m9-5h0m5 7h0m-17 4h0m6 1h0m-34 46h0m2-8h0m5 4h0m-23 7h0m7 3h0m19 1h0m-179 13h0m6-1h0m75 0h0m12 0h0m68-1h0m6 0h0m-172 12h0m1-6h0m3 3h0m6 0h0m12 3h0m56-3h0m3-5h0m21 1h0m-97 17h0m8-7h0m8 3h0m59 3h0m21 1h0m3-5h0m-20 8h0m6 1h0m6-1h0" stroke="#2f9fcf" stroke-width="3.2" stroke-linecap="round"/></g>
<g><circle cx="1641" cy="771" r="204" fill="url(#tB4)"/>
<path d="M1800 777m-32 0a32 32 0 1 0 64 0a32 32 0 1 0-64 0M1558 872m-33 0a33 33 0 1 0 66 0a33 33 0 1 0-66 0M1800 777m-36 0a36 36 0 1 0 72 0a36 36 0 1 0-72 0M1587 625m-22 0a22 22 0 1 0 44 0a22 22 0 1 0-44 0M1555 713m-23 0a23 23 0 1 0 46 0a23 23 0 1 0-46 0M1604 737m-21 0a21 21 0 1 0 42 0a21 21 0 1 0-42 0M1631 866m-22 0a22 22 0 1 0 44 0a22 22 0 1 0-44 0M1662 631m-16 0a16 16 0 1 0 32 0a16 16 0 1 0-32 0M1625 649m-14 0a14 14 0 1 0 28 0a14 14 0 1 0-28 0M1675 727m-17 0a17 17 0 1 0 34 0a17 17 0 1 0-34 0M1712 689m-16 0a16 16 0 1 0 32 0a16 16 0 1 0-32 0M1764 717m-15 0a15 15 0 1 0 30 0a15 15 0 1 0-30 0M1524 773m-14 0a14 14 0 1 0 28 0a14 14 0 1 0-28 0M1512 795m-13 0a13 13 0 1 0 26 0a13 13 0 1 0-26 0M1730 762m-15 0a15 15 0 1 0 30 0a15 15 0 1 0-30 0M1710 851m-15 0a15 15 0 1 0 30 0a15 15 0 1 0-30 0M1728 871m-14 0a14 14 0 1 0 28 0a14 14 0 1 0-28 0M1823 842m-14 0a14 14 0 1 0 28 0a14 14 0 1 0-28 0M1663 907m-13 0a13 13 0 1 0 26 0a13 13 0 1 0-26 0M1635 813m-13 0a13 13 0 1 0 26 0a13 13 0 1 0-26 0M1663 835m-12 0a12 12 0 1 0 24 0a12 12 0 1 0-24 0M1497 740m-11 0a11 11 0 1 0 22 0a11 11 0 1 0-22 0M1776 660m-11 0a11 11 0 1 0 22 0a11 11 0 1 0-22 0M1800 705m-10 0a10 10 0 1 0 20 0a10 10 0 1 0-20 0" fill="#fff"/>
<circle cx="1587" cy="625" r="18.4" fill="#ef8fab" fill-opacity="0.75"/>
<circle cx="1587" cy="625" r="20" fill="url(#K1)"/>
<circle cx="1587" cy="625" r="17" fill="url(#K1r)"/>
<circle cx="1555" cy="713" r="19.3" fill="#ef8fab" fill-opacity="0.75"/>
<circle cx="1555" cy="713" r="21" fill="url(#K1)"/>
<circle cx="1555" cy="713" r="17.8" fill="url(#K1r)"/>
<circle cx="1604" cy="737" r="17.5" fill="#ef8fab" fill-opacity="0.75"/>
<circle cx="1604" cy="737" r="19" fill="url(#K1)"/>
<circle cx="1604" cy="737" r="16.1" fill="url(#K1r)"/>
<circle cx="1631" cy="866" r="18.4" fill="#ef8fab" fill-opacity="0.75"/>
<circle cx="1631" cy="866" r="20" fill="url(#K1)"/>
<circle cx="1631" cy="866" r="17" fill="url(#K1r)"/>
<circle cx="1662" cy="631" r="12.9" fill="#ef8fab" fill-opacity="0.58"/>
<circle cx="1662" cy="631" r="14" fill="url(#K1)"/>
<circle cx="1625" cy="649" r="11" fill="#ef8fab" fill-opacity="0.58"/>
<circle cx="1625" cy="649" r="12" fill="url(#K1)"/>
<circle cx="1675" cy="727" r="13.8" fill="#ef8fab" fill-opacity="0.58"/>
<circle cx="1675" cy="727" r="15" fill="url(#K1)"/>
<circle cx="1712" cy="689" r="12.9" fill="#ef8fab" fill-opacity="0.58"/>
<circle cx="1712" cy="689" r="14" fill="url(#K1)"/>
<circle cx="1764" cy="717" r="12" fill="#ef8fab" fill-opacity="0.58"/>
<circle cx="1764" cy="717" r="13" fill="url(#K1)"/>
<circle cx="1524" cy="773" r="11" fill="#ef8fab" fill-opacity="0.58"/>
<circle cx="1524" cy="773" r="12" fill="url(#K1)"/>
<circle cx="1512" cy="795" r="10.1" fill="#ef8fab" fill-opacity="0.58"/>
<circle cx="1512" cy="795" r="11" fill="url(#K1)"/>
<circle cx="1730" cy="762" r="12" fill="#ef8fab" fill-opacity="0.58"/>
<circle cx="1730" cy="762" r="13" fill="url(#K1)"/>
<circle cx="1710" cy="851" r="12" fill="#ef8fab" fill-opacity="0.58"/>
<circle cx="1710" cy="851" r="13" fill="url(#K1)"/>
<circle cx="1728" cy="871" r="11" fill="#ef8fab" fill-opacity="0.58"/>
<circle cx="1728" cy="871" r="12" fill="url(#K1)"/>
<circle cx="1823" cy="842" r="11" fill="#ef8fab" fill-opacity="0.58"/>
<circle cx="1823" cy="842" r="12" fill="url(#K1)"/>
<circle cx="1663" cy="907" r="10.1" fill="#ef8fab" fill-opacity="0.58"/>
<circle cx="1663" cy="907" r="11" fill="url(#K1)"/>
<circle cx="1635" cy="813" r="10.1" fill="#ef8fab" fill-opacity="0.58"/>
<circle cx="1635" cy="813" r="11" fill="url(#K1)"/>
<circle cx="1663" cy="835" r="9.2" fill="#ef8fab" fill-opacity="0.58"/>
<circle cx="1663" cy="835" r="10" fill="url(#K1)"/>
<circle cx="1497" cy="740" r="8.3" fill="#ef8fab" fill-opacity="0.58"/>
<circle cx="1497" cy="740" r="9" fill="url(#K1)"/>
<circle cx="1776" cy="660" r="8.3" fill="#ef8fab" fill-opacity="0.58"/>
<circle cx="1776" cy="660" r="9" fill="url(#K1)"/>
<circle cx="1800" cy="705" r="7.4" fill="#ef8fab" fill-opacity="0.58"/>
<circle cx="1800" cy="705" r="8" fill="url(#K1)"/>
<path d="M1578 608h0m6-2h0m10 1h0m-24 8h0m4-3h0m25-1h0m59 7h0m-89 7h0m37-1h0m-33 12h0m1 3h0m30-4h0m1-5h0m66 9h0m-92 3h0m5 3h0m7-2h0m4-2h0m4-1h0m58 3h0m10 0h0m-37 15h0m140-4h0m14 3h0m-74 20h0m-167 20h0m6-4h0m16 1h0m3 5h0m134-1h0m21 0h0m-150 5h0m2 6h0m190-4h0m42-3h0m-271 9h0m38 8h0m0-5h0m29 5h0m171-9h0m22 1h0m8 0h0m-268 11h0m5 4h0m3 3h0m24-1h0m3-5h0m25-3h0m16 1h0m5 4h0m146 4h0m-215 3h0m7 1h0m4 0h0m27 6h0m35-4h0m0 4h0m42-6h0m-174 9h0m99 4h0m3 2h0m28-2h0m62-6h0m-86 12h0m5 2h0m6 1h0m5-1h0m5-4h0m117 0h0m-200 17h0m185-5h0m9 12h0m10-1h0m-210 11h0m4-3h0m-29 15h0m19 3h0m106 9h0m27 26h0m-30 15h0m6-1h0m4-1h0m83-6h0m-97 10h0m24 1h0m78-2h0m102 3h0m5-1h0m-218 12h0m1-4h0m36 2h0m2 6h0m64-6h0m3 6h0m21-2h0m-126 5h0m3 3h0m31 4h0m3-6h0m89 4h0m-116 7h0m15 1h0m5-4h0m31 24h0m-2 8h0" stroke="#f2d21c" stroke-width="2.5" stroke-linecap="round"/>
<path d="M1588 607h0m76 12h0m-95 1h0m82 4h0m3-4h0m16 1h0m4 4h0m-106 7h0m54 6h0m53-4h0m-42 7h0m3 8h0m17-9h0m9 5h0m-45 12h0m19-2h0m131 4h0m13-6h0m-159 7h0m149 6h0m4 2h0m10-4h0m-80 14h0m-146 16h0m143 0h0m-164 12h0m169-6h0m5 2h0m44 7h0m37-6h0m1 5h0m14-1h0m-200 12h0m58-1h0m9-5h0m6 1h0m4 1h0m68 3h0m1-5h0m23 2h0m-188 14h0m74-6h0m26-2h0m65 2h0m4 5h0m-267 7h0m10-3h0m63-2h0m23 4h0m33-4h0m46 8h0m-173 9h0m14-4h0m164-3h0m50 17h0m17-5h0m-222 16h0m4-5h0m223-1h0m-229 11h0m1 5h0m20-2h0m1-4h0m188 0h0m-212 12h0m5 1h0m1-4h0m6 3h0m-20 6h0m19 3h0m-18 7h0m14 4h0m113-1h0m10 1h0m-16 9h0m0 4h0m20-4h0m-16 9h0m5 1h0m4-1h0m23 3h0m5 1h0m5 13h0m2-5h0m38 5h0m103-4h0m5-3h0m10 1h0m4 3h0m-175 7h0m5 1h0m4 0h0m33 2h0m1-4h0m111-2h0m0 4h0m22-1h0m-220 12h0m84-4h0m0 6h0m23-1h0m7 3h0m87-8h0m4 1h0m-116 8h0m20 1h0m11 0h0m-17 14h0m-90 9h0m98-3h0m10-1h0m-70 17h0m-11 4h0m0 10h0m3 5h0" stroke="#2f9fcf" stroke-width="2.5" stroke-linecap="round"/>
<path d="M1602 615h0m3 4h0m43 10h0m28 0h0m-49 9h0m23-2h0m-36 11h0m3-5h0m18 2h0m-21 9h0m162-2h0m-150 9h0m154 7h0m-65 10h0m6 1h0m-22 9h0m2-5h0m23 1h0m1 4h0m-172 7h0m171 0h0m74 4h0m5 0h0m-262 2h0m176 1h0m42 4h0m11 2h0m-234 9h0m133-3h0m-78 11h0m69 4h0m29-2h0m78 3h0m5-3h0m4-5h0m-283 11h0m12 5h0m180 0h0m3-7h0m-191 19h0m5-2h0m173-5h0m46 11h0m6-3h0m14 8h0m-216 4h0m4 1h0m190 4h0m22 1h0m-8 5h0m-227 14h0m15 2h0m-14 15h0m6 1h0m123-3h0m7 17h0m1-9h0m12 19h0m14 0h0m-16 9h0m53 0h0m117-8h0m-184 19h0m81-4h0m112 2h0m-185 10h0m60 6h0m9-2h0m2 3h0m-101 15h0m101 0h0m20-8h0m-106 14h0m98-3h0m-73 16h0m11 1h0m-17 8h0m22 1h0m-12 9h0m5-1h0" stroke="#b8125a" stroke-width="2.5" stroke-linecap="round"/>
<path d="M1580 617h0m-3 7h0m3 3h0m1 0h0m4 0h0m11-1h0m68 0h0m-75 8h0m72 1h0m9-4h0m106 32h0m-228 40h0m9 2h0m-10 14h0m15-5h0m1 0h0m105 8h0m-166 17h0m95-4h0m1 9h0m2-4h0m9 5h0m123 21h0m-213 9h0m-9 14h0m127 20h0m21 25h0m1 3h0m46 12h0m-73 6h0m-3 5h0m1 0h0m3 2h0m-7 11h0m2-3h0m94 2h0" stroke="#f2d21c" stroke-width="2.4" stroke-linecap="round"/>
<path d="M1624 643h0m154 14h0m-73 28h0m1-2h0m-152 21h0m114 21h0m-60 6h0m65 3h0m53 26h0m2 3h0m-201 12h0m-17 14h0m3 6h0m309 47h0m-98 29h0m-61 34h0m0 6h0" stroke="#b8125a" stroke-width="2.4" stroke-linecap="round"/>
<path d="M1658 627h0m8 8h0m-46 12h0m3 2h0m0-1h0m157 11h0m-68 24h0m-7 9h0m3 1h0m-157 16h0m250-7h0m1 6h0m-43 3h0m4 2h0m7 0h0m0 9h0m-169 9h0m74 3h0m0 1h0m-177 9h0m3-1h0m21 24h0m215-3h0m-207 6h0m-11 25h0m116 14h0m2 1h0m1 8h0m28 19h0m154 2h0m-113 10h0m4-4h0m3 1h0m111 2h0m4-2h0m-193 22h0m91 0h0m8 1h0m-76 39h0m5-1h0" stroke="#2f9fcf" stroke-width="2.4" stroke-linecap="round"/>
<circle cx="1800" cy="777" r="27" fill="#ee7593"/>
<circle cx="1558" cy="872" r="28" fill="#ee7593"/>
<path d="M1791 754h0m5-2h0m4 3h0m2-3h0m11 4h0m5 3h0m-40 6h0m4 1h0m6 0h0m6 0h0m3-6h0m3 6h0m3-6h0m3 6h0m3-6h0m3 6h0m-37 10h0m1-5h0m9 0h0m3 5h0m3-5h0m6 0h0m3 5h0m3-5h0m3 5h0m3-5h0m3 5h0m3-5h0m3 5h0m7-1h0m-50 7h0m2 6h0m2-7h0m3 5h0m3-5h0m3 5h0m3-5h0m3 5h0m3-5h0m3 5h0m3-5h0m3 5h0m3-5h0m3 5h0m3-5h0m3 5h0m3-5h0m4 0h0m-45 12h0m4 4h0m1-5h0m6 0h0m3 5h0m3-5h0m3 5h0m3-5h0m3 5h0m9-5h0m6-1h0m-32 9h0m6 2h0m12-1h0m-275 65h0m13-6h0m-13 12h0m3 12h0m16 7h0m7 7h0m6-1h0m6-2h0m5-3h0" stroke="#2f9fcf" stroke-width="3.6" stroke-linecap="round"/>
<path d="M1786 756h0m22-3h0m-27 7h0m10 0h0m33 9h0m-30 7h0m29 10h0m-11 13h0m5-3h0m-16 6h0m-255 47h0m6-2h0m5 2h0m1-3h0m6 0h0m5 2h0m-32 8h0m4-4h0m7 2h0m12 0h0m6 0h0m6 0h0m2-3h0m4 4h0m-44 6h0m5-1h0m3 5h0m6 0h0m3-5h0m3 5h0m3-5h0m3 5h0m3-5h0m3 5h0m3-5h0m3 5h0m3-5h0m3 5h0m3-5h0m2 6h0m-50 12h0m3-3h0m3-5h0m3 5h0m3-5h0m3 5h0m3-5h0m3 5h0m3-5h0m3 5h0m3-5h0m3 5h0m3-5h0m3 5h0m3-5h0m3 5h0m6-3h0m0 6h0m-46 11h0m1-9h0m3 6h0m3-6h0m3 6h0m3-6h0m3 6h0m3-6h0m3 6h0m6 0h0m3-6h0m3 6h0m3-6h0m4 8h0m3-5h0m-40 10h0m3-2h0m2 5h0m5 2h0m11-7h0m6 0h0" stroke="#f2d21c" stroke-width="3.6" stroke-linecap="round"/>
<path d="M1818 766h0m3-2h0m-39 12h0m27 16h0m-252 99h0" stroke="#b8125a" stroke-width="3.6" stroke-linecap="round"/></g>
<g><circle cx="215" cy="1216" r="204" fill="url(#tA5)"/>
<path d="M148 1091m-28.5 0a28.5 28.5 0 1 0 57 0a28.5 28.5 0 1 0-57 0M227 1062m-24 0a24 24 0 1 0 48 0a24 24 0 1 0-48 0M279 1076m-22 0a22 22 0 1 0 44 0a22 22 0 1 0-44 0M345 1111m-23 0a23 23 0 1 0 46 0a23 23 0 1 0-46 0M262 1126m-23 0a23 23 0 1 0 46 0a23 23 0 1 0-46 0M296 1168m-22 0a22 22 0 1 0 44 0a22 22 0 1 0-44 0M353 1171m-25 0a25 25 0 1 0 50 0a25 25 0 1 0-50 0M73 1245m-22 0a22 22 0 1 0 44 0a22 22 0 1 0-44 0M138 1307m-22.5 0a22.5 22.5 0 1 0 45 0a22.5 22.5 0 1 0-45 0M192 1304m-22.5 0a22.5 22.5 0 1 0 45 0a22.5 22.5 0 1 0-45 0M91 1351m-22.5 0a22.5 22.5 0 1 0 45 0a22.5 22.5 0 1 0-45 0M291 1322m-30 0a30 30 0 1 0 60 0a30 30 0 1 0-60 0M386 1238m-20 0a20 20 0 1 0 40 0a20 20 0 1 0-40 0M290 1320m-55 0a55 55 0 1 0 110 0a55 55 0 1 0-110 0M150 1097m-50 0a50 50 0 1 0 100 0a50 50 0 1 0-100 0M337 1274m-28 0a28 28 0 1 0 56 0a28 28 0 1 0-56 0M51 1132m-15 0a15 15 0 1 0 30 0a15 15 0 1 0-30 0M75 1150m-13 0a13 13 0 1 0 26 0a13 13 0 1 0-26 0M46 1168m-14 0a14 14 0 1 0 28 0a14 14 0 1 0-28 0M55 1207m-16 0a16 16 0 1 0 32 0a16 16 0 1 0-32 0M97 1209m-16 0a16 16 0 1 0 32 0a16 16 0 1 0-32 0M75 1182m-13 0a13 13 0 1 0 26 0a13 13 0 1 0-26 0M102 1176m-12 0a12 12 0 1 0 24 0a12 12 0 1 0-24 0M104 1152m-12 0a12 12 0 1 0 24 0a12 12 0 1 0-24 0M158 1165m-17 0a17 17 0 1 0 34 0a17 17 0 1 0-34 0M195 1167m-14 0a14 14 0 1 0 28 0a14 14 0 1 0-28 0M127 1187m-13 0a13 13 0 1 0 26 0a13 13 0 1 0-26 0M192 1203m-14 0a14 14 0 1 0 28 0a14 14 0 1 0-28 0M224 1187m-15 0a15 15 0 1 0 30 0a15 15 0 1 0-30 0M217 1131m-13 0a13 13 0 1 0 26 0a13 13 0 1 0-26 0M214 1103m-12 0a12 12 0 1 0 24 0a12 12 0 1 0-24 0M132 1217m-13 0a13 13 0 1 0 26 0a13 13 0 1 0-26 0M161 1227m-13 0a13 13 0 1 0 26 0a13 13 0 1 0-26 0M117 1243m-14 0a14 14 0 1 0 28 0a14 14 0 1 0-28 0M142 1264m-13 0a13 13 0 1 0 26 0a13 13 0 1 0-26 0M171 1255m-13 0a13 13 0 1 0 26 0a13 13 0 1 0-26 0M36 1276m-14 0a14 14 0 1 0 28 0a14 14 0 1 0-28 0M74 1290m-15 0a15 15 0 1 0 30 0a15 15 0 1 0-30 0M255 1171m-13 0a13 13 0 1 0 26 0a13 13 0 1 0-26 0M303 1107m-11 0a11 11 0 1 0 22 0a11 11 0 1 0-22 0M315 1083m-11 0a11 11 0 1 0 22 0a11 11 0 1 0-22 0M266 1038m-12 0a12 12 0 1 0 24 0a12 12 0 1 0-24 0M383 1135m-12 0a12 12 0 1 0 24 0a12 12 0 1 0-24 0M338 1221m-16 0a16 16 0 1 0 32 0a16 16 0 1 0-32 0M386 1300m-15 0a15 15 0 1 0 30 0a15 15 0 1 0-30 0M177 1343m-12 0a12 12 0 1 0 24 0a12 12 0 1 0-24 0M158 1377m-13 0a13 13 0 1 0 26 0a13 13 0 1 0-26 0M132 1395m-12 0a12 12 0 1 0 24 0a12 12 0 1 0-24 0M212 1394m-12 0a12 12 0 1 0 24 0a12 12 0 1 0-24 0M258 1405m-14 0a14 14 0 1 0 28 0a14 14 0 1 0-28 0M304 1216m-11 0a11 11 0 1 0 22 0a11 11 0 1 0-22 0M72 1060m-10 0a10 10 0 1 0 20 0a10 10 0 1 0-20 0M100 1080m-10 0a10 10 0 1 0 20 0a10 10 0 1 0-20 0" fill="#fff"/>
<circle cx="51" cy="1132" r="12" fill="#ef8fab" fill-opacity="0.58"/>
<circle cx="51" cy="1132" r="13" fill="url(#K1)"/>
<circle cx="75" cy="1150" r="10.1" fill="#ef8fab" fill-opacity="0.58"/>
<circle cx="75" cy="1150" r="11" fill="url(#K1)"/>
<circle cx="46" cy="1168" r="11" fill="#ef8fab" fill-opacity="0.58"/>
<circle cx="46" cy="1168" r="12" fill="url(#K1)"/>
<circle cx="55" cy="1207" r="12.9" fill="#ef8fab" fill-opacity="0.58"/>
<circle cx="55" cy="1207" r="14" fill="url(#K1)"/>
<circle cx="97" cy="1209" r="12.9" fill="#ef8fab" fill-opacity="0.58"/>
<circle cx="97" cy="1209" r="14" fill="url(#K1)"/>
<circle cx="75" cy="1182" r="10.1" fill="#ef8fab" fill-opacity="0.58"/>
<circle cx="75" cy="1182" r="11" fill="url(#K1)"/>
<circle cx="102" cy="1176" r="9.2" fill="#ef8fab" fill-opacity="0.58"/>
<circle cx="102" cy="1176" r="10" fill="url(#K1)"/>
<circle cx="104" cy="1152" r="9.2" fill="#ef8fab" fill-opacity="0.58"/>
<circle cx="104" cy="1152" r="10" fill="url(#K1)"/>
<circle cx="158" cy="1165" r="13.8" fill="#ef8fab" fill-opacity="0.58"/>
<circle cx="158" cy="1165" r="15" fill="url(#K1)"/>
<circle cx="195" cy="1167" r="11" fill="#ef8fab" fill-opacity="0.58"/>
<circle cx="195" cy="1167" r="12" fill="url(#K1)"/>
<circle cx="127" cy="1187" r="10.1" fill="#ef8fab" fill-opacity="0.58"/>
<circle cx="127" cy="1187" r="11" fill="url(#K1)"/>
<circle cx="192" cy="1203" r="11" fill="#ef8fab" fill-opacity="0.58"/>
<circle cx="192" cy="1203" r="12" fill="url(#K1)"/>
<circle cx="224" cy="1187" r="12" fill="#ef8fab" fill-opacity="0.58"/>
<circle cx="224" cy="1187" r="13" fill="url(#K1)"/>
<circle cx="217" cy="1131" r="10.1" fill="#ef8fab" fill-opacity="0.58"/>
<circle cx="217" cy="1131" r="11" fill="url(#K1)"/>
<circle cx="214" cy="1103" r="9.2" fill="#ef8fab" fill-opacity="0.58"/>
<circle cx="214" cy="1103" r="10" fill="url(#K1)"/>
<circle cx="132" cy="1217" r="10.1" fill="#ef8fab" fill-opacity="0.58"/>
<circle cx="132" cy="1217" r="11" fill="url(#K1)"/>
<circle cx="161" cy="1227" r="10.1" fill="#ef8fab" fill-opacity="0.58"/>
<circle cx="161" cy="1227" r="11" fill="url(#K1)"/>
<circle cx="117" cy="1243" r="11" fill="#ef8fab" fill-opacity="0.58"/>
<circle cx="117" cy="1243" r="12" fill="url(#K1)"/>
<circle cx="142" cy="1264" r="10.1" fill="#ef8fab" fill-opacity="0.58"/>
<circle cx="142" cy="1264" r="11" fill="url(#K1)"/>
<circle cx="171" cy="1255" r="10.1" fill="#ef8fab" fill-opacity="0.58"/>
<circle cx="171" cy="1255" r="11" fill="url(#K1)"/>
<circle cx="36" cy="1276" r="11" fill="#ef8fab" fill-opacity="0.58"/>
<circle cx="36" cy="1276" r="12" fill="url(#K1)"/>
<circle cx="74" cy="1290" r="12" fill="#ef8fab" fill-opacity="0.58"/>
<circle cx="74" cy="1290" r="13" fill="url(#K1)"/>
<circle cx="255" cy="1171" r="10.1" fill="#ef8fab" fill-opacity="0.58"/>
<circle cx="255" cy="1171" r="11" fill="url(#K2)"/>
<circle cx="303" cy="1107" r="8.3" fill="#ef8fab" fill-opacity="0.58"/>
<circle cx="303" cy="1107" r="9" fill="url(#K2)"/>
<circle cx="315" cy="1083" r="8.3" fill="#ef8fab" fill-opacity="0.58"/>
<circle cx="315" cy="1083" r="9" fill="url(#K1)"/>
<circle cx="266" cy="1038" r="9.2" fill="#ef8fab" fill-opacity="0.58"/>
<circle cx="266" cy="1038" r="10" fill="url(#K1)"/>
<circle cx="383" cy="1135" r="9.2" fill="#ef8fab" fill-opacity="0.58"/>
<circle cx="383" cy="1135" r="10" fill="url(#K1)"/>
<circle cx="338" cy="1221" r="12.9" fill="#ef8fab" fill-opacity="0.58"/>
<circle cx="338" cy="1221" r="14" fill="url(#K1)"/>
<circle cx="386" cy="1300" r="12" fill="#ef8fab" fill-opacity="0.58"/>
<circle cx="386" cy="1300" r="13" fill="url(#K1)"/>
<circle cx="177" cy="1343" r="9.2" fill="#ef8fab" fill-opacity="0.58"/>
<circle cx="177" cy="1343" r="10" fill="url(#K1)"/>
<circle cx="158" cy="1377" r="10.1" fill="#ef8fab" fill-opacity="0.58"/>
<circle cx="158" cy="1377" r="11" fill="url(#K1)"/>
<circle cx="132" cy="1395" r="9.2" fill="#ef8fab" fill-opacity="0.58"/>
<circle cx="132" cy="1395" r="10" fill="url(#K1)"/>
<circle cx="212" cy="1394" r="9.2" fill="#ef8fab" fill-opacity="0.58"/>
<circle cx="212" cy="1394" r="10" fill="url(#K1)"/>
<circle cx="258" cy="1405" r="11" fill="#ef8fab" fill-opacity="0.58"/>
<circle cx="258" cy="1405" r="12" fill="url(#K1)"/>
<circle cx="304" cy="1216" r="8.3" fill="#ef8fab" fill-opacity="0.58"/>
<circle cx="304" cy="1216" r="9" fill="url(#K1)"/>
<circle cx="72" cy="1060" r="7.4" fill="#ef8fab" fill-opacity="0.58"/>
<circle cx="72" cy="1060" r="8" fill="url(#K1)"/>
<circle cx="100" cy="1080" r="7.4" fill="#ef8fab" fill-opacity="0.58"/>
<circle cx="100" cy="1080" r="8" fill="url(#K1)"/>
<path d="M266 1029h0m-9 4h0m3-2h0m14 4h0m-18 5h0m12 7h0m4-2h0m-198 7h0m26 21h0m7 6h0m-15 1h0m3 6h0m10-1h0m118 21h0m74-6h0m-84 12h0m-156 9h0m152 3h0m18 5h0m163-1h0m-328 8h0m12 3h0m318-5h0m0 4h0m-336 6h0m3-4h0m26 9h0m23-6h0m111-1h0m160 1h0m-315 8h0m7 8h0m11-1h0m86-4h0m-111 14h0m20-7h0m22 6h0m4 0h0m41-1h0m40-1h0m20-3h0m2 4h0m-168 10h0m4 3h0m14-6h0m9 5h0m3-4h0m24 2h0m3-5h0m16 8h0m35-7h0m38-1h0m22 0h0m19 4h0m20-4h0m-151 10h0m14 2h0m29 5h0m119-7h0m-203 14h0m11 2h0m7-5h0m5 0h0m14 6h0m7-2h0m5 0h0m19-1h0m4 2h0m11-4h0m88 6h0m-181 1h0m24 2h0m20-1h0m39 7h0m4-2h0m50-5h0m1 5h0m154 3h0m5-1h0m-276 8h0m4-5h0m18 6h0m23-1h0m14-2h0m60-4h0m11 4h0m118 0h0m33-3h0m-255 10h0m61 5h0m20 2h0m0-5h0m154-3h0m-201 14h0m2 3h0m29-2h0m5 2h0m10-5h0m1 13h0m-56 9h0m9-2h0m18 2h0m20-3h0m-123 15h0m92-2h0m20 5h0m16-4h0m13-5h0m-155 16h0m22 3h0m101-7h0m-122 10h0m37 1h0m23 4h0m-25 5h0m25 1h0m293-2h0m-310 11h0m6 0h0m5-1h0m297 8h0m-209 33h0m18 5h0m-13 5h0m-23 20h0m-23 15h0m31 0h0m9-6h0m-44 10h0m0 6h0m16-7h0m82 7h0m35-3h0m5 0h0m-125 10h0m111 2h0" stroke="#b8125a" stroke-width="2.5" stroke-linecap="round"/>
<path d="M271 1030h0m-12 15h0m-191 9h0m10 1h0m-12 10h0m5 2h0m5-1h0m30 9h0m203 1h0m7-1h0m-9 11h0m-97 8h0m7-1h0m4 3h0m97-5h0m-113 10h0m18 0h0m72 6h0m16-2h0m-92 5h0m77 2h0m6 3h0m8-5h0m-270 19h0m6-8h0m6-1h0m9 5h0m2 4h0m145-1h0m6-8h0m162 8h0m-336 7h0m167-2h0m16 6h0m4-5h0m-185 6h0m3 2h0m7 2h0m13 3h0m18-4h0m12 5h0m3-4h0m14 3h0m102-6h0m160-1h0m9 4h0m6-1h0m-348 14h0m6-1h0m5 2h0m15-2h0m17-3h0m10 1h0m4 5h0m14-2h0m1-6h0m34 4h0m4-3h0m19 6h0m32 0h0m-165 3h0m18 1h0m47-1h0m42 0h0m28 8h0m0-5h0m82-3h0m6 1h0m4 5h0m-212 10h0m21-5h0m5 0h0m33 1h0m48 5h0m6-1h0m22-3h0m5 4h0m24 1h0m4-3h0m10 0h0m33 0h0m3-6h0m-199 18h0m18-8h0m13 5h0m5 1h0m15-6h0m93 8h0m2-5h0m21-3h0m3 5h0m13-5h0m11 0h0m-214 16h0m11-1h0m59-4h0m14 5h0m57-3h0m5-2h0m9 6h0m11-3h0m4 3h0m12 1h0m7-8h0m-194 14h0m26 4h0m16-2h0m23-5h0m3 3h0m0 5h0m26-2h0m67 1h0m100 0h0m-261 2h0m3 5h0m4 4h0m35-9h0m38 9h0m18-8h0m2 5h0m14 2h0m6-1h0m5 2h0m32-7h0m96 4h0m15-6h0m16 4h0m5-4h0m19 5h0m1 4h0m-297 1h0m6 0h0m40 2h0m5-2h0m23 6h0m6 1h0m4-1h0m5-6h0m9 1h0m149 3h0m6 0h0m5-4h0m14 6h0m22 3h0m-240 7h0m4-3h0m5-2h0m35 1h0m14 4h0m164-6h0m2 4h0m6 1h0m-232 6h0m22 1h0m48 4h0m-67 5h0m9 3h0m14 5h0m18-2h0m11 0h0m18-7h0m2 5h0m-151 12h0m4-3h0m10 4h0m108-4h0m21 2h0m4-3h0m-152 9h0m22 0h0m21 7h0m12-1h0m53-8h0m5 4h0m5 0h0m-113 12h0m6 1h0m5-2h0m4-1h0m17 4h0m21-6h0m307 6h0m-326 9h0m310 2h0m21-8h0m2 5h0m-22 8h0m-205 33h0m8-3h0m5 2h0m-15 11h0m18-6h0m-3 10h0m-26 16h0m6 2h0m-15 8h0m19-5h0m-35 14h0m4 1h0m13-4h0m5 3h0m10 0h0m42 2h0m4-3h0m4 0h0m6 4h0m-79 7h0m62-5h0m1 7h0m18-4h0m29 3h0m14 0h0m-135 7h0m9-3h0m72 2h0m6-1h0m30-2h0m22 7h0m1-5h0m-18 12h0m16-3h0" stroke="#2f9fcf" stroke-width="2.5" stroke-linecap="round"/>
<path d="M262 1047h0m14-6h0m-211 17h0m15 2h0m15 14h0m226 4h0m-222 9h0m208-5h0m14 6h0m2-6h0m-115 14h0m94 3h0m5 0h0m4-8h0m-106 17h0m3 3h0m100 4h0m-266 10h0m178-4h0m5 3h0m156 2h0m3-1h0m-175 13h0m165-4h0m-304 7h0m9-1h0m25 3h0m53 7h0m5 2h0m28 4h0m6 0h0m-161 10h0m73-6h0m0 9h0m78-9h0m60 6h0m3-3h0m-213 8h0m46 4h0m41 3h0m6-1h0m5 2h0m16-3h0m5 3h0m14-5h0m28 4h0m4-2h0m45 1h0m-199 3h0m19 4h0m19 2h0m32-1h0m19-3h0m-55 8h0m103 6h0m15-1h0m34 0h0m-30 7h0m-15 12h0m110-4h0m-202 12h0m29 2h0m173-3h0m53 3h0m-7 9h0m-238 14h0m22 0h0m36 0h0m-28 9h0m10-2h0m16 6h0m-88 18h0m310 10h0m-300 9h0m292-3h0m21 12h0m1-6h0m-16 11h0m6 0h0m4-1h0m-218 24h0m4 18h0m-26 16h0m16 8h0m-42 26h0m80 0h0m43 8h0m8 6h0m5-1h0" stroke="#f2d21c" stroke-width="2.5" stroke-linecap="round"/>
<path d="M264 1040h0m-194 18h0m32 26h0m213 4h0m1-6h0m-103 26h0m90-3h0m4 0h0m-251 23h0m157 1h0m-165 9h0m4-5h0m168-1h0m167-1h0m1 6h0m-315 11h0m4-2h0m-5 4h0m30 0h0m7 3h0m-63 12h0m116 3h0m1-6h0m91 4h0m6 1h0m-210 6h0m24 6h0m23-2h0m36 8h0m96 2h0m-101 3h0m68 7h0m29-7h0m-167 16h0m1 2h0m0-4h0m44 0h0m87 3h0m1-5h0m7 5h0m105 11h0m3-1h0m-175 6h0m6-2h0m27 2h0m173 2h0m-178 5h0m-42 11h0m1 7h0m53 1h0m5 3h0m-40 10h0m7 7h0m4-6h0m-114 18h0m7 0h0m32 5h0m0 10h0m311 11h0m1-7h0m-210 40h0m-21 34h0m3 2h0m1-2h0m6 6h0m-32 16h0m7-1h0m74 1h0m2 1h0m45 1h0" stroke="#2f9fcf" stroke-width="2.4" stroke-linecap="round"/>
<path d="M265 1038h0m-167 44h0m115 16h0m-168 35h0m171 2h0m7-3h0m156 2h0m-226 24h0m0 11h0m-108 2h0m151 0h0m4 1h0m56 2h0m-182 7h0m49 10h0m100 3h0m-127 23h0m238 5h0m-304 52h0m2 4h0m45 5h0m100 61h0m75 59h0m3 0h0m4 1h0" stroke="#f2d21c" stroke-width="2.4" stroke-linecap="round"/>
<path d="M267 1041h0m-197 15h0m242 27h0m-98 24h0m86-4h0m-224 50h0m31 0h0m57 8h0m29 4h0m-152 8h0m36 3h0m29-4h0m0 3h0m94-4h0m51 0h0m-176 12h0m48 5h0m94 1h0m-164 17h0m40 3h0m8-6h0m-47 9h0m42 3h0m39 4h0m168-5h0m31 0h0m9 1h0m-207 5h0m24 7h0m2-6h0m172 2h0m-215 25h0m1-2h0m54 7h0m-35 7h0m30 0h0m-96 23h0m308 14h0m9-2h0m-213 50h0m-40 53h0m77-6h0" stroke="#b8125a" stroke-width="2.4" stroke-linecap="round"/>
<circle cx="148" cy="1091" r="23.5" fill="#b47a9a"/>
<circle cx="227" cy="1062" r="19" fill="#ee7593"/>
<circle cx="279" cy="1076" r="17" fill="#ee7593"/>
<circle cx="345" cy="1111" r="18" fill="#ee7593"/>
<circle cx="262" cy="1126" r="18" fill="#ee7593"/>
<circle cx="296" cy="1168" r="17" fill="#ee7593"/>
<circle cx="353" cy="1171" r="20" fill="#ee7593"/>
<circle cx="73" cy="1245" r="17" fill="#ee7593"/>
<circle cx="138" cy="1307" r="17.5" fill="#ee7593"/>
<circle cx="192" cy="1304" r="17.5" fill="#ee7593"/>
<circle cx="91" cy="1351" r="17.5" fill="#ee7593"/>
<circle cx="291" cy="1322" r="25" fill="#7aa0c0"/>
<circle cx="386" cy="1238" r="15" fill="#ee7593"/>
<path d="M136 1079h0m6-4h0m4 0h0m3-4h0m0 8h0m2-4h0m4 0h0m3 4h0m2-4h0m-31 6h0m4 2h0m3 4h0m6-4h0m2 4h0m14 0h0m-29 3h0m9 0h0m4 0h0m9 8h0m4 0h0m5 0h0m2-4h0m2 4h0m2-4h0m-37 7h0m9 5h0m6-4h0m5 0h0m6 4h0m3-4h0" stroke="#f2d21c" stroke-width="4" stroke-linecap="round"/>
<path d="M138 1075h0m2 4h0m14-9h0m8 9h0m3-2h0m-38 12h0m4-2h0m7-4h0m11 4h0m2-4h0m2 4h0m7-4h0m7-2h0m2 4h0m0 4h0m-38 5h0m2-4h0m0 8h0m9 0h0m2-4h0m7-4h0m2 4h0m5 0h0m2-4h0m4 0h0m5 3h0m-38 12h0m20 1h0m2-4h0m5 8h0" stroke="#b8125a" stroke-width="4" stroke-linecap="round"/>
<path d="M131 1077h0m3-3h0m4-2h0m4-2h0m2 9h0m2-9h0m4 0h0m3 9h0m5-7h0m4 2h0m-35 11h0m13 2h0m6-4h0m9 0h0m7 4h0m2-4h0m2 4h0m-39 10h0m0-4h0m9 1h0m2 4h0m2-4h0m6-4h0m0 8h0m3-4h0m6-4h0m14 7h0m-35 11h0m2-6h0m4 0h0m2 4h0m2 3h0m2-3h0m3 3h0m4 0h0m7-3h0m2-4h0m0 6h0m3-3h0m2-4h0m-29 9h0m4 2h0m4 0h0m4 0h0m4 0h0" stroke="#2f9fcf" stroke-width="4" stroke-linecap="round"/>
<path d="M216 1048h0m11-3h0m10 3h0m-25 5h0m5 6h0m3-6h0m12 0h0m9-1h0m3 5h0m-34 7h0m19 5h0m9-5h0m6-1h0m-25 14h0m6 2h0m7-5h0m4 3h0m4-3h0m98 22h0m5-1h0m2 8h0m3 6h0m3-6h0m7-2h0m3 5h0m-112 10h0m4-4h0m3 6h0m6 0h0m6 0h0m1-7h0m60-1h0m0 6h0m7 3h0m3-5h0m6 0h0m3 5h0m12-2h0m1-5h0m-115 15h0m7-3h0m15 5h0m6 0h0m4-4h0m54-4h0m4 4h0m11 2h0m5-1h0m5-4h0m-107 15h0m9-3h0m16 2h0m-9 6h0m5-2h0m-199 90h0m2 8h0m4-7h0m5 3h0m4 4h0m-29 8h0m1-6h0m9 9h0m6 0h0m14-5h0m-29 8h0m4 4h0m5 3h0m16-4h0m3-5h0m103 38h0m5 0h0m-18 11h0m7-9h0m2 7h0m6 0h0m-8 5h0m6 0h0m8 5h0m10-1h0m-22 13h0m10-7h0m1 7h0m5-3h0m4-4h0m-15 8h0" stroke="#2f9fcf" stroke-width="3.2" stroke-linecap="round"/>
<path d="M221 1046h0m11-1h0m-22 13h0m13 1h0m-12 10h0m3-5h0m9 5h0m3-5h0m6 0h0m-18 10h0m12 0h0m4 5h0m119 16h0m-16 5h0m21 9h0m-80 6h0m59-1h0m9 5h0m15-5h0m-16 13h0m-76 7h0m6 0h0m-205 97h0m2 7h0m12 0h0m118 59h0m3-6h0m-21 16h0m22-5h0m-24 9h0" stroke="#b8125a" stroke-width="3.2" stroke-linecap="round"/>
<path d="M235 1059h0m-15 5h0m23 5h0m111 28h0m-24 8h0m12 4h0m-84 1h0m6 0h0m13 9h0m-31 2h0m4 8h0m9-5h0m6 0h0m-18 9h0m6 1h0m25-3h0m-23 10h0m5 1h0m-198 93h0m18 14h0m3-5h0m-6 10h0m3 5h0m-6 1h0m106 34h0m25 1h0m-29 10h0m10 2h0m21-7h0m-26 15h0m3-3h0m6 0h0" stroke="#f2d21c" stroke-width="3.2" stroke-linecap="round"/>
<path d="M268 1066h0m4-4h0m2 7h0m4-8h0m6 1h0m2 7h0m3-4h0m4 4h0m-29 8h0m1-6h0m18 4h0m6 0h0m5 0h0m-29 8h0m3-3h0m1 7h0m5-7h0m3 5h0m3-5h0m6 0h0m4 6h0m3-5h0m-19 9h0m6 1h0m6-1h0m0 66h0m5-3h0m12 1h0m5 4h0m31 1h0m14-6h0m5 1h0m5 2h0m4 3h0m-86 8h0m7 0h0m3-6h0m3 6h0m3-6h0m3 6h0m3-6h0m8 2h0m25 0h0m24-2h0m-79 12h0m3 5h0m1-6h0m6 0h0m3 5h0m3-5h0m3 5h0m3-5h0m32 1h0m1 5h0m2-8h0m22 0h0m10 9h0m-81 3h0m6 1h0m6 0h0m5-3h0m33 3h0m4 3h0m1-6h0m6 0h0m3 9h0m14-6h0m-243 116h0m4-4h0m5-3h0m6-1h0m10 5h0m-27 9h0m8 0h0m6 0h0m2-5h0m6 0h0m4 5h0m4-4h0m2 5h0m-31 5h0m2 5h0m1-6h0m4 5h0m6 0h0m2-5h0m4 5h0m8 2h0m3-5h0m-24 8h0m5 2h0m6 1h0m6-2h0m-60 15h0m11 0h0m-22 13h0m7 0h0m4-5h0m2 5h0m4-5h0m2 5h0m4-5h0m2 5h0m2-9h0m3 4h0m-29 11h0m4-1h0m2 5h0m4-5h0m2 5h0m4-5h0m2 5h0m4-5h0m8 2h0m-28 4h0m4 4h0m6 2h0m5 1h0m6-2h0m4-4h0" stroke="#2f9fcf" stroke-width="3.4" stroke-linecap="round"/>
<path d="M280 1069h0m-9 6h0m77 78h0m4 3h0m-70 5h0m53 7h0m6-3h0m29-1h0m1 5h0m-30 6h0m6 0h0m3-5h0m8 5h0m5 0h0m3-5h0m5 4h0m-24 10h0m5 0h0m6 0h0m2-4h0m3 7h0m-219 106h0m-63 46h0" stroke="#f2d21c" stroke-width="3.4" stroke-linecap="round"/>
<path d="M277 1075h0m6 10h0m14 68h0m46 2h0m-37 12h0m5 2h0m33-8h0m6 0h0m13 4h0m-53 10h0m34-5h0m8 5h0m3-5h0m-7 18h0m7-8h0m3 9h0m-214 121h0m-52 25h0m-15 9h0m30 6h0" stroke="#b8125a" stroke-width="3.4" stroke-linecap="round"/>
<path d="M290 1299h0m-17 9h0m5-5h0m3 5h0m1-7h0m1 3h0m2 4h0m1-8h0m5 4h0m2 4h0m4-8h0m4 1h0m1 7h0m3-4h0m3 2h0m-40 13h0m2-7h0m0 7h0m4 0h0m5 0h0m2-4h0m2 4h0m2-4h0m2-3h0m8 7h0m9 0h0m4 0h0m4-6h0m1 4h0m-44 10h0m10-1h0m2-4h0m14 4h0m15-4h0m4-1h0m0 4h0m-44 6h0m2 4h0m2-2h0m0 5h0m7-8h0m4 0h0m0 7h0m8-7h0m9 7h0m0-7h0m4 0h0m1 9h0m1-6h0m4-1h0m-35 8h0m6 1h0m2 3h0m3 1h0m12-2h0" stroke="#2f9fcf" stroke-width="4.2" stroke-linecap="round"/>
<path d="M294 1299h0m-18 9h0m11-4h0m2 4h0m11-4h0m6 4h0m4 1h0m-41 7h0m3-1h0m19-3h0m4 0h0m5 7h0m0-7h0m2 3h0m2-3h0m6 3h0m-42 8h0m4-1h0m2 4h0m2-4h0m7 4h0m2-4h0m6 4h0m7-4h0m2 4h0m2-4h0m2 4h0m2-4h0m2 4h0m5 2h0m-37 9h0m0-7h0m3 3h0m4 0h0m6 4h0m6-4h0m5 0h0m4 0h0m2 4h0m-25 6h0m10-2h0m5 3h0m4-3h0" stroke="#f2d21c" stroke-width="4.2" stroke-linecap="round"/>
<path d="M275 1305h0m20-1h0m3 4h0m-24 4h0m2 3h0m3-3h0m4 0h0m4 7h0m2-4h0m2 4h0m2-4h0m5 0h0m8 0h0m2-3h0m-38 14h0m17 0h0m2-4h0m4 0h0m-21 8h0m9 7h0m6-4h0m2-3h0m2 3h0m2 4h0m5 0h0m0-7h0m11 6h0m1-6h0m-23 11h0m5 4h0m3-4h0m9 0h0" stroke="#b8125a" stroke-width="4.2" stroke-linecap="round"/>
<path d="M380 1239h0m3-6h0" stroke="#2f9fcf" stroke-width="3" stroke-linecap="round"/>
<path d="M389 1233h0m3 6h0m-3 5h0" stroke="#b8125a" stroke-width="3" stroke-linecap="round"/></g>
<g><circle cx="659" cy="1216" r="204" fill="url(#tA6)"/>
<path d="M714 1070m-25 0a25 25 0 1 0 50 0a25 25 0 1 0-50 0M634 1067m-22 0a22 22 0 1 0 44 0a22 22 0 1 0-44 0M506 1202m-24 0a24 24 0 1 0 48 0a24 24 0 1 0-48 0M522 1101m-20 0a20 20 0 1 0 40 0a20 20 0 1 0-40 0M663 1128m-20 0a20 20 0 1 0 40 0a20 20 0 1 0-40 0M768 1121m-20 0a20 20 0 1 0 40 0a20 20 0 1 0-40 0M811 1181m-21 0a21 21 0 1 0 42 0a21 21 0 1 0-42 0M813 1258m-21 0a21 21 0 1 0 42 0a21 21 0 1 0-42 0M599 1170m-20 0a20 20 0 1 0 40 0a20 20 0 1 0-40 0M679 1249m-19 0a19 19 0 1 0 38 0a19 19 0 1 0-38 0M764 1327m-21 0a21 21 0 1 0 42 0a21 21 0 1 0-42 0M557 1334m-23 0a23 23 0 1 0 46 0a23 23 0 1 0-46 0M626 1358m-23 0a23 23 0 1 0 46 0a23 23 0 1 0-46 0M706 1350m-22 0a22 22 0 1 0 44 0a22 22 0 1 0-44 0M672 1407m-20 0a20 20 0 1 0 40 0a20 20 0 1 0-40 0M506 1202m-30 0a30 30 0 1 0 60 0a30 30 0 1 0-60 0M667 1035m-15 0a15 15 0 1 0 30 0a15 15 0 1 0-30 0M545 1071m-14 0a14 14 0 1 0 28 0a14 14 0 1 0-28 0M783 1064m-13 0a13 13 0 1 0 26 0a13 13 0 1 0-26 0M577 1061m-11 0a11 11 0 1 0 22 0a11 11 0 1 0-22 0M597 1075m-11 0a11 11 0 1 0 22 0a11 11 0 1 0-22 0M558 1101m-12 0a12 12 0 1 0 24 0a12 12 0 1 0-24 0M585 1098m-11 0a11 11 0 1 0 22 0a11 11 0 1 0-22 0M620 1117m-12 0a12 12 0 1 0 24 0a12 12 0 1 0-24 0M592 1124m-13 0a13 13 0 1 0 26 0a13 13 0 1 0-26 0M702 1128m-14 0a14 14 0 1 0 28 0a14 14 0 1 0-28 0M735 1141m-14 0a14 14 0 1 0 28 0a14 14 0 1 0-28 0M804 1110m-12 0a12 12 0 1 0 24 0a12 12 0 1 0-24 0M808 1142m-12 0a12 12 0 1 0 24 0a12 12 0 1 0-24 0M494 1145m-13 0a13 13 0 1 0 26 0a13 13 0 1 0-26 0M529 1156m-13 0a13 13 0 1 0 26 0a13 13 0 1 0-26 0M634 1145m-13 0a13 13 0 1 0 26 0a13 13 0 1 0-26 0M685 1157m-12 0a12 12 0 1 0 24 0a12 12 0 1 0-24 0M658 1163m-11 0a11 11 0 1 0 22 0a11 11 0 1 0-22 0M635 1175m-11 0a11 11 0 1 0 22 0a11 11 0 1 0-22 0M560 1191m-13 0a13 13 0 1 0 26 0a13 13 0 1 0-26 0M677 1187m-12 0a12 12 0 1 0 24 0a12 12 0 1 0-24 0M742 1197m-15 0a15 15 0 1 0 30 0a15 15 0 1 0-30 0M700 1215m-14 0a14 14 0 1 0 28 0a14 14 0 1 0-28 0M608 1208m-12 0a12 12 0 1 0 24 0a12 12 0 1 0-24 0M582 1230m-15 0a15 15 0 1 0 30 0a15 15 0 1 0-30 0M613 1242m-12 0a12 12 0 1 0 24 0a12 12 0 1 0-24 0M752 1234m-14 0a14 14 0 1 0 28 0a14 14 0 1 0-28 0M806 1221m-13 0a13 13 0 1 0 26 0a13 13 0 1 0-26 0M854 1208m-12 0a12 12 0 1 0 24 0a12 12 0 1 0-24 0M854 1178m-11 0a11 11 0 1 0 22 0a11 11 0 1 0-22 0M638 1247m-11 0a11 11 0 1 0 22 0a11 11 0 1 0-22 0M492 1271m-12 0a12 12 0 1 0 24 0a12 12 0 1 0-24 0M525 1272m-14 0a14 14 0 1 0 28 0a14 14 0 1 0-28 0M562 1284m-15 0a15 15 0 1 0 30 0a15 15 0 1 0-30 0M620 1281m-13 0a13 13 0 1 0 26 0a13 13 0 1 0-26 0M594 1297m-13 0a13 13 0 1 0 26 0a13 13 0 1 0-26 0M701 1277m-14 0a14 14 0 1 0 28 0a14 14 0 1 0-28 0M737 1270m-14 0a14 14 0 1 0 28 0a14 14 0 1 0-28 0M779 1287m-14 0a14 14 0 1 0 28 0a14 14 0 1 0-28 0M653 1311m-13 0a13 13 0 1 0 26 0a13 13 0 1 0-26 0M704 1305m-13 0a13 13 0 1 0 26 0a13 13 0 1 0-26 0M584 1378m-12 0a12 12 0 1 0 24 0a12 12 0 1 0-24 0M766 1374m-14 0a14 14 0 1 0 28 0a14 14 0 1 0-28 0M711 1390m-12 0a12 12 0 1 0 24 0a12 12 0 1 0-24 0M505 1295m-11 0a11 11 0 1 0 22 0a11 11 0 1 0-22 0M804 1337m-12 0a12 12 0 1 0 24 0a12 12 0 1 0-24 0" fill="#fff"/>
<circle cx="667" cy="1035" r="12" fill="#ef8fab" fill-opacity="0.58"/>
<circle cx="667" cy="1035" r="13" fill="url(#K1)"/>
<circle cx="545" cy="1071" r="11" fill="#ef8fab" fill-opacity="0.58"/>
<circle cx="545" cy="1071" r="12" fill="url(#K1)"/>
<circle cx="783" cy="1064" r="10.1" fill="#ef8fab" fill-opacity="0.58"/>
<circle cx="783" cy="1064" r="11" fill="url(#K1)"/>
<circle cx="577" cy="1061" r="8.3" fill="#ef8fab" fill-opacity="0.58"/>
<circle cx="577" cy="1061" r="9" fill="url(#K1)"/>
<circle cx="597" cy="1075" r="8.3" fill="#ef8fab" fill-opacity="0.58"/>
<circle cx="597" cy="1075" r="9" fill="url(#K1)"/>
<circle cx="558" cy="1101" r="9.2" fill="#ef8fab" fill-opacity="0.58"/>
<circle cx="558" cy="1101" r="10" fill="url(#K1)"/>
<circle cx="585" cy="1098" r="8.3" fill="#ef8fab" fill-opacity="0.58"/>
<circle cx="585" cy="1098" r="9" fill="url(#K1)"/>
<circle cx="620" cy="1117" r="9.2" fill="#ef8fab" fill-opacity="0.58"/>
<circle cx="620" cy="1117" r="10" fill="url(#K1)"/>
<circle cx="592" cy="1124" r="10.1" fill="#ef8fab" fill-opacity="0.58"/>
<circle cx="592" cy="1124" r="11" fill="url(#K1)"/>
<circle cx="702" cy="1128" r="11" fill="#ef8fab" fill-opacity="0.58"/>
<circle cx="702" cy="1128" r="12" fill="url(#K1)"/>
<circle cx="735" cy="1141" r="11" fill="#ef8fab" fill-opacity="0.58"/>
<circle cx="735" cy="1141" r="12" fill="url(#K2)"/>
<circle cx="804" cy="1110" r="9.2" fill="#ef8fab" fill-opacity="0.58"/>
<circle cx="804" cy="1110" r="10" fill="url(#K2)"/>
<circle cx="808" cy="1142" r="9.2" fill="#ef8fab" fill-opacity="0.58"/>
<circle cx="808" cy="1142" r="10" fill="url(#K1)"/>
<circle cx="494" cy="1145" r="10.1" fill="#ef8fab" fill-opacity="0.58"/>
<circle cx="494" cy="1145" r="11" fill="url(#K1)"/>
<circle cx="529" cy="1156" r="10.1" fill="#ef8fab" fill-opacity="0.58"/>
<circle cx="529" cy="1156" r="11" fill="url(#K1)"/>
<circle cx="634" cy="1145" r="10.1" fill="#ef8fab" fill-opacity="0.58"/>
<circle cx="634" cy="1145" r="11" fill="url(#K1)"/>
<circle cx="685" cy="1157" r="9.2" fill="#ef8fab" fill-opacity="0.58"/>
<circle cx="685" cy="1157" r="10" fill="url(#K1)"/>
<circle cx="658" cy="1163" r="8.3" fill="#ef8fab" fill-opacity="0.58"/>
<circle cx="658" cy="1163" r="9" fill="url(#K2)"/>
<circle cx="635" cy="1175" r="8.3" fill="#ef8fab" fill-opacity="0.58"/>
<circle cx="635" cy="1175" r="9" fill="url(#K2)"/>
<circle cx="560" cy="1191" r="10.1" fill="#ef8fab" fill-opacity="0.58"/>
<circle cx="560" cy="1191" r="11" fill="url(#K1)"/>
<circle cx="677" cy="1187" r="9.2" fill="#ef8fab" fill-opacity="0.58"/>
<circle cx="677" cy="1187" r="10" fill="url(#K1)"/>
<circle cx="742" cy="1197" r="12" fill="#ef8fab" fill-opacity="0.58"/>
<circle cx="742" cy="1197" r="13" fill="url(#K2)"/>
<circle cx="700" cy="1215" r="11" fill="#ef8fab" fill-opacity="0.58"/>
<circle cx="700" cy="1215" r="12" fill="url(#K1)"/>
<circle cx="608" cy="1208" r="9.2" fill="#ef8fab" fill-opacity="0.58"/>
<circle cx="608" cy="1208" r="10" fill="url(#K1)"/>
<circle cx="582" cy="1230" r="12" fill="#ef8fab" fill-opacity="0.58"/>
<circle cx="582" cy="1230" r="13" fill="url(#K2)"/>
<circle cx="613" cy="1242" r="9.2" fill="#ef8fab" fill-opacity="0.58"/>
<circle cx="613" cy="1242" r="10" fill="url(#K2)"/>
<circle cx="752" cy="1234" r="11" fill="#ef8fab" fill-opacity="0.58"/>
<circle cx="752" cy="1234" r="12" fill="url(#K1)"/>
<circle cx="806" cy="1221" r="10.1" fill="#ef8fab" fill-opacity="0.58"/>
<circle cx="806" cy="1221" r="11" fill="url(#K1)"/>
<circle cx="854" cy="1208" r="9.2" fill="#ef8fab" fill-opacity="0.58"/>
<circle cx="854" cy="1208" r="10" fill="url(#K1)"/>
<circle cx="854" cy="1178" r="8.3" fill="#ef8fab" fill-opacity="0.58"/>
<circle cx="854" cy="1178" r="9" fill="url(#K2)"/>
<circle cx="638" cy="1247" r="8.3" fill="#ef8fab" fill-opacity="0.58"/>
<circle cx="638" cy="1247" r="9" fill="url(#K1)"/>
<circle cx="492" cy="1271" r="9.2" fill="#ef8fab" fill-opacity="0.58"/>
<circle cx="492" cy="1271" r="10" fill="url(#K1)"/>
<circle cx="525" cy="1272" r="11" fill="#ef8fab" fill-opacity="0.58"/>
<circle cx="525" cy="1272" r="12" fill="url(#K1)"/>
<circle cx="562" cy="1284" r="12" fill="#ef8fab" fill-opacity="0.58"/>
<circle cx="562" cy="1284" r="13" fill="url(#K1)"/>
<circle cx="620" cy="1281" r="10.1" fill="#ef8fab" fill-opacity="0.58"/>
<circle cx="620" cy="1281" r="11" fill="url(#K1)"/>
<circle cx="594" cy="1297" r="10.1" fill="#ef8fab" fill-opacity="0.58"/>
<circle cx="594" cy="1297" r="11" fill="url(#K1)"/>
<circle cx="701" cy="1277" r="11" fill="#ef8fab" fill-opacity="0.58"/>
<circle cx="701" cy="1277" r="12" fill="url(#K1)"/>
<circle cx="737" cy="1270" r="11" fill="#ef8fab" fill-opacity="0.58"/>
<circle cx="737" cy="1270" r="12" fill="url(#K1)"/>
<circle cx="779" cy="1287" r="11" fill="#ef8fab" fill-opacity="0.58"/>
<circle cx="779" cy="1287" r="12" fill="url(#K1)"/>
<circle cx="653" cy="1311" r="10.1" fill="#ef8fab" fill-opacity="0.58"/>
<circle cx="653" cy="1311" r="11" fill="url(#K1)"/>
<circle cx="704" cy="1305" r="10.1" fill="#ef8fab" fill-opacity="0.58"/>
<circle cx="704" cy="1305" r="11" fill="url(#K1)"/>
<circle cx="584" cy="1378" r="9.2" fill="#ef8fab" fill-opacity="0.58"/>
<circle cx="584" cy="1378" r="10" fill="url(#K1)"/>
<circle cx="766" cy="1374" r="11" fill="#ef8fab" fill-opacity="0.58"/>
<circle cx="766" cy="1374" r="12" fill="url(#K1)"/>
<circle cx="711" cy="1390" r="9.2" fill="#ef8fab" fill-opacity="0.58"/>
<circle cx="711" cy="1390" r="10" fill="url(#K1)"/>
<circle cx="505" cy="1295" r="8.3" fill="#ef8fab" fill-opacity="0.58"/>
<circle cx="505" cy="1295" r="9" fill="url(#K1)"/>
<circle cx="804" cy="1337" r="9.2" fill="#ef8fab" fill-opacity="0.58"/>
<circle cx="804" cy="1337" r="10" fill="url(#K1)"/>
<path d="M657 1028h0m18-1h0m3 4h0m1 5h0m-20 8h0m4 2h0m7 0h0m8-4h0m-140 20h0m32 3h0m22 4h0m4-3h0m6 2h0m-68 2h0m244 3h0m5 2h0m-183 8h0m-41 9h0m7 5h0m15-7h0m-16 17h0m26-3h0m33 5h0m-34 5h0m21 0h0m16-2h0m2 5h0m73-1h0m-88 8h0m-126 13h0m10-2h0m100-2h0m32 3h0m10 0h0m51-3h0m4 4h0m9 2h0m6-3h0m3-3h0m14 0h0m12-3h0m6 8h0m64-6h0m-325 15h0m20-4h0m0 5h0m119-4h0m21 2h0m0-5h0m100 6h0m-258 6h0m34-3h0m112 5h0m19 3h0m24-1h0m17-6h0m38 1h0m80-1h0m-273 11h0m96 5h0m52 0h0m6-2h0m-64 11h0m15 2h0m40 1h0m178-6h0m-308 13h0m77-6h0m112 5h0m5 1h0m5 2h0m99-3h0m10-1h0m-292 13h0m116-5h0m-85 12h0m3-3h0m147 7h0m3-4h0m98-4h0m-160 11h0m21 7h0m86-2h0m7-5h0m60-1h0m-275 10h0m4 4h0m1 4h0m96-7h0m4 3h0m4 3h0m11-6h0m34 6h0m5-4h0m5 0h0m43-2h0m-226 11h0m2 3h0m35 0h0m5-3h0m151 2h0m-182 8h0m5 0h0m18 3h0m3 4h0m15-2h0m8-2h0m14-4h0m114 3h0m-127 7h0m4 4h0m6 0h0m-156 9h0m11-1h0m3 2h0m25-4h0m6 0h0m173 5h0m39-5h0m-227 17h0m21-8h0m0 4h0m75 1h0m16-3h0m3 6h0m82-1h0m15-4h0m44 6h0m8-3h0m-259 6h0m31 6h0m24-2h0m15 2h0m9 0h0m12-2h0m3 3h0m15-1h0m1-6h0m72 7h0m-190 10h0m50-3h0m23-3h0m18-1h0m2 6h0m99-3h0m72 4h0m4-1h0m10-6h0m-196 15h0m5-2h0m4-4h0m44 1h0m10 0h0m4 3h0m2 4h0m50-8h0m2 5h0m-69 12h0m16-3h0m132 21h0m-219 40h0m14-6h0m4 8h0m163-2h0m22-2h0m-201 10h0m6 3h0m9-3h0m113-2h0m14 3h0m43-1h0m5 1h0m6-1h0m-54 10h0m-9 6h0" stroke="#b8125a" stroke-width="2.5" stroke-linecap="round"/>
<path d="M660 1025h0m5-3h0m5 2h0m-16 11h0m19 11h0m-101 9h0m4-2h0m7 2h0m2 4h0m194-4h0m4-1h0m5 1h0m-253 12h0m10-7h0m4 1h0m5 3h0m2 5h0m12-9h0m12 9h0m5-4h0m187-2h0m2 6h0m18 0h0m-256 7h0m39-6h0m14 4h0m16-1h0m0 6h0m182-6h0m-243 10h0m46-2h0m-40 15h0m14-3h0m13 2h0m12-5h0m3 3h0m2 6h0m-45 3h0m1 4h0m17-3h0m13 2h0m6 1h0m209 1h0m3-3h0m5-3h0m4 1h0m5 3h0m2 4h0m-255 1h0m26 6h0m27 3h0m86-2h0m10 2h0m87-7h0m3 5h0m-216 9h0m1-6h0m19 8h0m25-5h0m64 4h0m1-5h0m19-1h0m91-1h0m-310 15h0m9 3h0m86-5h0m6 2h0m42 0h0m65 4h0m32-9h0m11 3h0m70 1h0m-328 7h0m50 7h0m89 1h0m57-1h0m6 0h0m37-5h0m1 4h0m20-4h0m54 0h0m1 5h0m15 1h0m3-6h0m-327 12h0m10-2h0m18 1h0m20 4h0m0-5h0m100 1h0m3-3h0m15 4h0m4 0h0m5 4h0m11-8h0m17 3h0m41-1h0m5-1h0m-221 8h0m8 6h0m6 0h0m96 3h0m47-7h0m5 4h0m13-6h0m-51 12h0m14-1h0m6-1h0m187 0h0m6 0h0m7 9h0m-301 1h0m8 7h0m68-5h0m29 7h0m1-6h0m3-3h0m14 2h0m1 5h0m50 0h0m110-6h0m10 5h0m-306 4h0m1 6h0m3 3h0m116-6h0m6 3h0m4 0h0m49-1h0m24-3h0m1 7h0m100-1h0m-296 3h0m6 0h0m51 1h0m79 4h0m3-3h0m6 2h0m6 3h0m21-6h0m8 7h0m107-1h0m1-5h0m14-2h0m2 3h0m-283 14h0m5 1h0m15-8h0m7 6h0m10-3h0m73 1h0m22-3h0m33-2h0m55 4h0m16 2h0m31-3h0m4 4h0m6 1h0m4-3h0m-289 10h0m2-4h0m131 4h0m55-1h0m4 5h0m50 0h0m2-3h0m2-6h0m-223 16h0m10 3h0m16-3h0m121 2h0m61-7h0m5 0h0m-233 9h0m49 2h0m10-1h0m13 4h0m99-3h0m4 3h0m5 0h0m-137 6h0m28 1h0m92 6h0m-254 11h0m7-7h0m25 5h0m19-2h0m161 4h0m2-3h0m11 2h0m18 1h0m1-6h0m-244 11h0m4 5h0m9 0h0m37 0h0m24-6h0m4-1h0m6 0h0m4 4h0m3 3h0m48-8h0m67 8h0m1-7h0m21 1h0m19 6h0m17-5h0m27 3h0m11 0h0m-294 4h0m9 8h0m4-2h0m7 1h0m12-5h0m5-1h0m22-1h0m44 6h0m102-1h0m10 2h0m4-4h0m23-3h0m34 3h0m23 3h0m-293 7h0m16-2h0m45 3h0m10-1h0m4-3h0m47 0h0m166 5h0m-286 4h0m9 3h0m76-1h0m4 4h0m56 1h0m51-7h0m18 9h0m-54 10h0m46-3h0m-55 4h0m5 2h0m147 6h0m5 0h0m-10 3h0m-2 10h0m4 3h0m6 2h0m4-2h0m4-3h0m-230 28h0m174-3h0m6-2h0m10 1h0m-195 6h0m14 2h0m163-1h0m21 7h0m-201 2h0m12 5h0m115 1h0m7-6h0m7 1h0m41-1h0m-36 10h0" stroke="#2f9fcf" stroke-width="2.5" stroke-linecap="round"/>
<path d="M656 1040h0m118 18h0m18 1h0m2 6h0m-241 14h0m2-6h0m-16 8h0m9 1h0m48 2h0m-43 9h0m2 16h0m22-9h0m37 9h0m4-2h0m-23 8h0m4 3h0m209 1h0m3-4h0m-209 8h0m16 4h0m5-1h0m91 1h0m-130 3h0m41 9h0m100-2h0m74 1h0m5-5h0m-277 13h0m4 0h0m286-6h0m-321 15h0m133-1h0m176-4h0m-283 14h0m117 4h0m10-5h0m3 6h0m14-3h0m10 12h0m170-3h0m-290 7h0m10 0h0m68 1h0m-63 9h0m36 7h0m4 0h0m121-8h0m-115 18h0m116-4h0m-131 9h0m10 2h0m197-4h0m-11 14h0m-207 12h0m26-4h0m22 4h0m102-6h0m21 7h0m-151 12h0m-93 13h0m215-4h0m13 5h0m3 4h0m-249 7h0m1-5h0m12 1h0m39 6h0m63-6h0m-5 8h0m82 2h0m48-1h0m3-1h0m46 0h0m-235 12h0m29 5h0m41-7h0m75 5h0m11 1h0m58-6h0m3 6h0m-269 7h0m150-2h0m42 4h0m-51 8h0m53-2h0m3 3h0m10 0h0m103 18h0m1 4h0m-46 26h0m9 8h0m-74 23h0m3 4h0m10 1h0" stroke="#f2d21c" stroke-width="2.5" stroke-linecap="round"/>
<path d="M666 1028h0m1 1h0m-4 8h0m-121 30h0m5 0h0m231-4h0m2 1h0m6 1h0m1-3h0m-195 14h0m6 4h0m-17 19h0m5-4h0m-33 7h0m249 7h0m-186 7h0m191-2h0m-216 15h0m0-1h0m4-4h0m26-3h0m76 6h0m10 1h0m-214 21h0m243-1h0m-213 6h0m110-3h0m30 12h0m-33 10h0m4 5h0m2-8h0m216 7h0m5-2h0m-302 14h0m4-1h0m114-1h0m180-6h0m-296 12h0m1-3h0m178 6h0m1-1h0m4-3h0m6 6h0m-142 10h0m3-6h0m243 6h0m3-5h0m-159 11h0m1-4h0m4 9h0m7-5h0m148-3h0m-46 11h0m-54 10h0m-141 14h0m29 2h0m-155 19h0m248-3h0m-248 6h0m1 3h0m33 0h0m37 5h0m66 1h0m70 0h0m3-3h0m0-1h0m39-4h0m39 18h0m-276 8h0m9-5h0m82 7h0m191-6h0m-189 9h0m60 4h0m49 1h0m0-3h0m98 32h0m5 2h0m0 1h0m-34 38h0m1-7h0m-6 11h0" stroke="#2f9fcf" stroke-width="2.4" stroke-linecap="round"/>
<path d="M667 1028h0m-120 39h0m27-7h0m2 4h0m21 12h0m-40 21h0m4 5h0m25-2h0m35 13h0m-28 9h0m219 16h0m-320 6h0m138 2h0m6-5h0m104 4h0m66 0h0m-308 5h0m32 0h0m158 4h0m-154 6h0m127 4h0m14 28h0m-68 21h0m194 4h0m2 2h0m-222 9h0m4 5h0m27 4h0m143 1h0m-144 8h0m22 0h0m-9 32h0m-70 6h0m10 4h0m27 4h0m194-1h0m-134 18h0m-62 68h0m182-6h0m-64 23h0" stroke="#f2d21c" stroke-width="2.4" stroke-linecap="round"/>
<path d="M580 1063h0m-35 9h0m260 34h0m-104 18h0m1-3h0m34 15h0m1 1h0m66 2h0m-310 9h0m146-4h0m-115 13h0m132 10h0m30-5h0m3-1h0m-14 27h0m-96 40h0m175 0h0m46-7h0m-217 12h0m169 1h0m-109 11h0m-124 23h0m7-1h0m207-2h0m11 3h0m-218 3h0m38 8h0m135-2h0m-84 4h0m4-1h0m153 8h0m-65 11h0m-204 1h0m90 2h0m64 4h0m44-3h0m-46 9h0m-73 67h0m5 1h0m120 10h0" stroke="#b8125a" stroke-width="2.4" stroke-linecap="round"/>
<circle cx="714" cy="1070" r="20" fill="#a05080"/>
<circle cx="634" cy="1067" r="17" fill="#ee7593"/>
<circle cx="506" cy="1202" r="19" fill="#a05080"/>
<circle cx="522" cy="1101" r="15" fill="#ee7593"/>
<circle cx="663" cy="1128" r="15" fill="#ee7593"/>
<circle cx="768" cy="1121" r="15" fill="#ee7593"/>
<circle cx="811" cy="1181" r="16" fill="#ee7593"/>
<circle cx="813" cy="1258" r="16" fill="#ee7593"/>
<circle cx="599" cy="1170" r="15" fill="#ee7593"/>
<circle cx="679" cy="1249" r="14" fill="#ee7593"/>
<circle cx="764" cy="1327" r="16" fill="#ee7593"/>
<circle cx="557" cy="1334" r="18" fill="#ee7593"/>
<circle cx="626" cy="1358" r="18" fill="#ee7593"/>
<circle cx="706" cy="1350" r="17" fill="#ee7593"/>
<circle cx="672" cy="1407" r="15" fill="#ee7593"/>
<path d="M712 1058h0m2-4h0m1-2h0m4 1h0m1 5h0m7-1h0m-29 5h0m3-1h0m0 8h0m4 0h0m4 0h0m5-8h0m9 0h0m2 4h0m6-1h0m-35 10h0m2 4h0m3-1h0m15-4h0m7 4h0m-16 9h0m4 2h0m4 0h0m1-8h0m3 7h0m1-7h0m3 6h0m6-6h0m-229 106h0m7 1h0m1-2h0m4 1h0m-23 13h0m4-8h0m1 3h0m4 0h0m2-3h0m5 0h0m6 3h0m2 4h0m5 0h0m3-3h0m-16 11h0m6-4h0m-13 15h0m4 1h0m4 1h0m4-1h0m1-8h0m3 7h0m4-3h0m2-3h0" stroke="#2f9fcf" stroke-width="4" stroke-linecap="round"/>
<path d="M700 1058h0m3-3h0m4 3h0m4-6h0m5 6h0m7-3h0m-26 11h0m6-1h0m2-4h0m4 0h0m3 4h0m2 4h0m2-4h0m2 4h0m0-8h0m2 4h0m3 4h0m4 0h0m2-9h0m-33 10h0m2 3h0m7 4h0m2-4h0m2 4h0m9 0h0m2-4h0m5 0h0m2 4h0m2-4h0m2 3h0m1-4h0m-29 12h0m0-4h0m6 4h0m3-4h0m13 0h0m1 3h0m-222 102h0m-13 10h0m0 3h0m5 0h0m4 0h0m2-4h0m5 0h0m2-3h0m0 7h0m4-7h0m3 3h0m3-3h0m-30 12h0m1 4h0m4-5h0m8 0h0m7 4h0m7-4h0m4 0h0m2 5h0m1-4h0m-29 11h0m0-4h0m4 0h0m2 3h0m2-3h0m3 3h0m2-3h0m2 3h0m4 0h0m3-3h0" stroke="#b8125a" stroke-width="4" stroke-linecap="round"/>
<path d="M707 1053h0m0 12h0m20-4h0m2 4h0m3 3h0m-29 5h0m9 0h0m2 4h0m-14 4h0m7-1h0m7 4h0m4 0h0m-222 104h0m20 0h0m-11 10h0m18 1h0m-32 7h0m5 0h0m2-4h0m2 4h0m7-4h0m6 4h0m5 0h0m-26 5h0" stroke="#f2d21c" stroke-width="4" stroke-linecap="round"/>
<path d="M624 1055h0m22 2h0m-17 3h0m9 6h0m6 0h0m5 2h0m-8 3h0m3 8h0m-5 3h0m21 33h0m-9 7h0m9 1h0m6 18h0m149 26h0m-210 4h0m-6 12h0m220 3h0m-15 8h0m-117 45h0m-16 6h0m9-5h0m3 5h0m-9 6h0m3 5h0m3-5h0m3 5h0m126 7h0m-101 72h0m5 8h0m-22 11h0m4 0h0m24 3h0m2-5h0m-27 8h0m-25 42h0m3 6h0m3-6h0m10 3h0m-8 14h0m8-8h0" stroke="#f2d21c" stroke-width="3.2" stroke-linecap="round"/>
<path d="M629 1052h0m6 0h0m6 1h0m-22 13h0m1-6h0m12 6h0m3-6h0m6 0h0m8 2h0m-20 9h0m6 0h0m13 3h0m-21 7h0m6 1h0m17 46h0m7 1h0m12 0h0m6-7h0m1 6h0m-25 6h0m4 5h0m5-5h0m12 4h0m-79 20h0m6-1h0m5 1h0m-18 9h0m2-5h0m8 3h0m3-5h0m13 7h0m191 2h0m6-2h0m-220 12h0m10-8h0m11 7h0m189-5h0m8 2h0m13-5h0m4 5h0m-230 7h0m11 0h0m192 2h0m7-3h0m9 5h0m3-5h0m-16 9h0m16 5h0m-140 42h0m5 0h0m-14 8h0m23-1h0m113 4h0m5-3h0m4 2h0m8-2h0m4 4h0m-157 2h0m2 5h0m21 0h0m1-6h0m108 9h0m7-1h0m6 0h0m6 0h0m3-6h0m6 2h0m-153 6h0m6 1h0m5-1h0m119 9h0m8-1h0m3-5h0m-6 9h0m6 0h0m-119 66h0m6-3h0m11 2h0m-22 11h0m2-5h0m5 6h0m3-6h0m3 6h0m3-6h0m3 6h0m6 0h0m2-9h0m3 6h0m-17 13h0m6 0h0m-11 4h0m5 2h0m6 0h0m6-3h0m-54 36h0m5-3h0m6-1h0m5 1h0m5 4h0m-24 4h0m0 6h0m7-1h0m0 11h0m3-6h0m13 3h0m-11 4h0" stroke="#2f9fcf" stroke-width="3.2" stroke-linecap="round"/>
<path d="M619 1072h0m3 5h0m1-6h0m31 47h0m9 0h0m3-3h0m5 2h0m-8 12h0m3-6h0m0 11h0m9 0h0m-15 7h0m-58 24h0m7-4h0m-23 12h0m7-2h0m3 5h0m6 0h0m10-3h0m185 5h0m16-3h0m-6 11h0m3-5h0m14 5h0m1-5h0m-15 14h0m0-4h0m11 0h0m-151 49h0m7 5h0m137-1h0m-128 7h0m114 2h0m15-1h0m-15 12h0m21-1h0m4 3h0m2-6h0m-6 10h0m-114 84h0m-46 61h0m14-2h0" stroke="#b8125a" stroke-width="3.2" stroke-linecap="round"/>
<path d="M522 1091h0m3 5h0m229 221h0m-127 28h0m0-3h0m-17 16h0m9-8h0m14 4h0m-11 10h0m8 5h0m3-5h0m4 6h0" stroke="#b8125a" stroke-width="3.4" stroke-linecap="round"/>
<path d="M520 1088h0m6 0h0m-12 2h0m5 6h0m12-5h0m3 5h0m-25 4h0m1 6h0m6-4h0m3 5h0m3-5h0m3 5h0m3-5h0m6 5h0m1-5h0m237 6h0m-259 3h0m5 3h0m6 0h0m6-2h0m225 7h0m2-5h0m4-4h0m4 6h0m3-5h0m3 5h0m6-4h0m4 5h0m-26 8h0m7-3h0m3 5h0m3-5h0m3 5h0m3-5h0m5 6h0m2-5h0m-22 7h0m5 4h0m5 0h0m6-2h0m-16 182h0m4 2h0m2-3h0m6 1h0m4 4h0m-25 9h0m1-5h0m6 5h0m3-6h0m3 6h0m3-6h0m6 0h0m6 3h0m-27 9h0m4 5h0m5-6h0m3 5h0m3-5h0m5 7h0m1-7h0m4 3h0m2-5h0m-165 18h0m19-5h0m5 3h0m123-5h0m6 0h0m-147 18h0m3-5h0m2-4h0m0 9h0m3-5h0m9-4h0m4 0h0m2 5h0m-31 9h0m2 4h0m6 1h0m5 0h0m3-5h0m13 2h0m-23 6h0m5 2h0m6 0h0m5-1h0" stroke="#2f9fcf" stroke-width="3.4" stroke-linecap="round"/>
<path d="M510 1095h0m257 13h0m-150 236h0m5-2h0m-11 11h0m3 6h0m2-5h0m14-4h0m0 9h0m6 0h0m2-5h0m4 6h0" stroke="#f2d21c" stroke-width="3.4" stroke-linecap="round"/>
<path d="M550 1319h0m6-1h0m6 1h0m-17 4h0m6 3h0m6 0h0m6 0h0m4-5h0m4 5h0m-30 8h0m4 3h0m3-5h0m3 5h0m6 0h0m6 0h0m3-5h0m3 5h0m4-6h0m0 6h0m-28 8h0m3-3h0m2 6h0m4-6h0m12 0h0m1 5h0m-12 3h0m6 0h0" stroke="#2f9fcf" stroke-width="3.6" stroke-linecap="round"/>
<path d="M542 1328h0m12 4h0m6 0h0m-18 8h0m18 2h0" stroke="#f2d21c" stroke-width="3.6" stroke-linecap="round"/>
<path d="M571 1343h0" stroke="#b8125a" stroke-width="3.6" stroke-linecap="round"/></g>
<g><circle cx="1196" cy="1215" r="204" fill="url(#tB5)"/>
<path d="M1198 1062m-27 0a27 27 0 1 0 54 0a27 27 0 1 0-54 0M1100 1078m-24 0a24 24 0 1 0 48 0a24 24 0 1 0-48 0M1291 1081m-22 0a22 22 0 1 0 44 0a22 22 0 1 0-44 0M1057 1139m-25 0a25 25 0 1 0 50 0a25 25 0 1 0-50 0M1127 1156m-22 0a22 22 0 1 0 44 0a22 22 0 1 0-44 0M1185 1149m-21 0a21 21 0 1 0 42 0a21 21 0 1 0-42 0M1331 1114m-21 0a21 21 0 1 0 42 0a21 21 0 1 0-42 0M1254 1169m-20 0a20 20 0 1 0 40 0a20 20 0 1 0-40 0M1173 1195m-21 0a21 21 0 1 0 42 0a21 21 0 1 0-42 0M1113 1212m-20 0a20 20 0 1 0 40 0a20 20 0 1 0-40 0M1366 1204m-23 0a23 23 0 1 0 46 0a23 23 0 1 0-46 0M1034 1227m-25 0a25 25 0 1 0 50 0a25 25 0 1 0-50 0M1092 1265m-19 0a19 19 0 1 0 38 0a19 19 0 1 0-38 0M1328 1252m-23 0a23 23 0 1 0 46 0a23 23 0 1 0-46 0M1259 1298m-19 0a19 19 0 1 0 38 0a19 19 0 1 0-38 0M1069 1324m-25 0a25 25 0 1 0 50 0a25 25 0 1 0-50 0M1186 1344m-28 0a28 28 0 1 0 56 0a28 28 0 1 0-56 0M1301 1348m-23 0a23 23 0 1 0 46 0a23 23 0 1 0-46 0M1198 1062m-48 0a48 48 0 1 0 96 0a48 48 0 1 0-96 0M1186 1340m-55 0a55 55 0 1 0 110 0a55 55 0 1 0-110 0M1030 1227m-34 0a34 34 0 1 0 68 0a34 34 0 1 0-68 0M1052 1139m-34 0a34 34 0 1 0 68 0a34 34 0 1 0-68 0M1064 1324m-36 0a36 36 0 1 0 72 0a36 36 0 1 0-72 0M1015 1080m-32 0a32 32 0 1 0 64 0a32 32 0 1 0-64 0M1129 1116m-13 0a13 13 0 1 0 26 0a13 13 0 1 0-26 0M1154 1112m-12 0a12 12 0 1 0 24 0a12 12 0 1 0-24 0M1261 1116m-15 0a15 15 0 1 0 30 0a15 15 0 1 0-30 0M1302 1147m-15 0a15 15 0 1 0 30 0a15 15 0 1 0-30 0M1294 1118m-11 0a11 11 0 1 0 22 0a11 11 0 1 0-22 0M1357 1141m-12 0a12 12 0 1 0 24 0a12 12 0 1 0-24 0M1357 1164m-12 0a12 12 0 1 0 24 0a12 12 0 1 0-24 0M1207 1178m-13 0a13 13 0 1 0 26 0a13 13 0 1 0-26 0M1230 1200m-13 0a13 13 0 1 0 26 0a13 13 0 1 0-26 0M1278 1198m-13 0a13 13 0 1 0 26 0a13 13 0 1 0-26 0M1310 1176m-12 0a12 12 0 1 0 24 0a12 12 0 1 0-24 0M1202 1223m-13 0a13 13 0 1 0 26 0a13 13 0 1 0-26 0M1173 1234m-12 0a12 12 0 1 0 24 0a12 12 0 1 0-24 0M1230 1237m-12 0a12 12 0 1 0 24 0a12 12 0 1 0-24 0M1258 1243m-14 0a14 14 0 1 0 28 0a14 14 0 1 0-28 0M1286 1228m-14 0a14 14 0 1 0 28 0a14 14 0 1 0-28 0M1146 1275m-13 0a13 13 0 1 0 26 0a13 13 0 1 0-26 0M1121 1294m-14 0a14 14 0 1 0 28 0a14 14 0 1 0-28 0M1293 1284m-14 0a14 14 0 1 0 28 0a14 14 0 1 0-28 0M1262 1329m-12 0a12 12 0 1 0 24 0a12 12 0 1 0-24 0M1056 1084m-10 0a10 10 0 1 0 20 0a10 10 0 1 0-20 0M1129 1043m-11 0a11 11 0 1 0 22 0a11 11 0 1 0-22 0M1266 1049m-11 0a11 11 0 1 0 22 0a11 11 0 1 0-22 0M1097 1176m-11 0a11 11 0 1 0 22 0a11 11 0 1 0-22 0M1081 1197m-11 0a11 11 0 1 0 22 0a11 11 0 1 0-22 0M1332 1308m-16 0a16 16 0 1 0 32 0a16 16 0 1 0-32 0M1105 1370m-14 0a14 14 0 1 0 28 0a14 14 0 1 0-28 0" fill="#fff"/>
<circle cx="1129" cy="1116" r="10.1" fill="#ef8fab" fill-opacity="0.58"/>
<circle cx="1129" cy="1116" r="11" fill="url(#K1)"/>
<circle cx="1154" cy="1112" r="9.2" fill="#ef8fab" fill-opacity="0.58"/>
<circle cx="1154" cy="1112" r="10" fill="url(#K1)"/>
<circle cx="1261" cy="1116" r="12" fill="#ef8fab" fill-opacity="0.58"/>
<circle cx="1261" cy="1116" r="13" fill="url(#K1)"/>
<circle cx="1302" cy="1147" r="12" fill="#ef8fab" fill-opacity="0.58"/>
<circle cx="1302" cy="1147" r="13" fill="url(#K1)"/>
<circle cx="1294" cy="1118" r="8.3" fill="#ef8fab" fill-opacity="0.58"/>
<circle cx="1294" cy="1118" r="9" fill="url(#K1)"/>
<circle cx="1357" cy="1141" r="9.2" fill="#ef8fab" fill-opacity="0.58"/>
<circle cx="1357" cy="1141" r="10" fill="url(#K1)"/>
<circle cx="1357" cy="1164" r="9.2" fill="#ef8fab" fill-opacity="0.58"/>
<circle cx="1357" cy="1164" r="10" fill="url(#K1)"/>
<circle cx="1207" cy="1178" r="10.1" fill="#ef8fab" fill-opacity="0.58"/>
<circle cx="1207" cy="1178" r="11" fill="url(#K1)"/>
<circle cx="1230" cy="1200" r="10.1" fill="#ef8fab" fill-opacity="0.58"/>
<circle cx="1230" cy="1200" r="11" fill="url(#K1)"/>
<circle cx="1278" cy="1198" r="10.1" fill="#ef8fab" fill-opacity="0.58"/>
<circle cx="1278" cy="1198" r="11" fill="url(#K1)"/>
<circle cx="1310" cy="1176" r="9.2" fill="#ef8fab" fill-opacity="0.58"/>
<circle cx="1310" cy="1176" r="10" fill="url(#K2)"/>
<circle cx="1202" cy="1223" r="10.1" fill="#ef8fab" fill-opacity="0.58"/>
<circle cx="1202" cy="1223" r="11" fill="url(#K1)"/>
<circle cx="1173" cy="1234" r="9.2" fill="#ef8fab" fill-opacity="0.58"/>
<circle cx="1173" cy="1234" r="10" fill="url(#K1)"/>
<circle cx="1230" cy="1237" r="9.2" fill="#ef8fab" fill-opacity="0.58"/>
<circle cx="1230" cy="1237" r="10" fill="url(#K1)"/>
<circle cx="1258" cy="1243" r="11" fill="#ef8fab" fill-opacity="0.58"/>
<circle cx="1258" cy="1243" r="12" fill="url(#K1)"/>
<circle cx="1286" cy="1228" r="11" fill="#ef8fab" fill-opacity="0.58"/>
<circle cx="1286" cy="1228" r="12" fill="url(#K1)"/>
<circle cx="1146" cy="1275" r="10.1" fill="#ef8fab" fill-opacity="0.58"/>
<circle cx="1146" cy="1275" r="11" fill="url(#K1)"/>
<circle cx="1121" cy="1294" r="11" fill="#ef8fab" fill-opacity="0.58"/>
<circle cx="1121" cy="1294" r="12" fill="url(#K1)"/>
<circle cx="1293" cy="1284" r="11" fill="#ef8fab" fill-opacity="0.58"/>
<circle cx="1293" cy="1284" r="12" fill="url(#K1)"/>
<circle cx="1262" cy="1329" r="9.2" fill="#ef8fab" fill-opacity="0.58"/>
<circle cx="1262" cy="1329" r="10" fill="url(#K1)"/>
<circle cx="1056" cy="1084" r="7.4" fill="#ef8fab" fill-opacity="0.58"/>
<circle cx="1056" cy="1084" r="8" fill="url(#K1)"/>
<circle cx="1129" cy="1043" r="8.3" fill="#ef8fab" fill-opacity="0.58"/>
<circle cx="1129" cy="1043" r="9" fill="url(#K1)"/>
<circle cx="1266" cy="1049" r="8.3" fill="#ef8fab" fill-opacity="0.58"/>
<circle cx="1266" cy="1049" r="9" fill="url(#K1)"/>
<circle cx="1097" cy="1176" r="8.3" fill="#ef8fab" fill-opacity="0.58"/>
<circle cx="1097" cy="1176" r="9" fill="url(#K1)"/>
<circle cx="1081" cy="1197" r="8.3" fill="#ef8fab" fill-opacity="0.58"/>
<circle cx="1081" cy="1197" r="9" fill="url(#K1)"/>
<circle cx="1332" cy="1308" r="12.9" fill="#ef8fab" fill-opacity="0.58"/>
<circle cx="1332" cy="1308" r="14" fill="url(#K1)"/>
<circle cx="1105" cy="1370" r="11" fill="#ef8fab" fill-opacity="0.58"/>
<circle cx="1105" cy="1370" r="12" fill="url(#K1)"/>
<path d="M1120 1044h0m17-4h0m121 7h0m4-6h0m10 3h0m-140 6h0m126 2h0m5 5h0m4 0h0m-215 21h0m6-2h0m4 4h0m1 6h0m-8 6h0m79 14h0m3 3h0m7 0h0m4-5h0m6-1h0m8 5h0m93-3h0m-136 12h0m0-5h0m21 3h0m20 3h0m3-4h0m109 3h0m1-4h0m17-3h0m11 4h0m-180 8h0m14 2h0m3-4h0m13 0h0m106 8h0m11-2h0m3-3h0m15-3h0m9 7h0m6-3h0m-6 14h0m5-3h0m5 0h0m4 3h0m44-6h0m6 0h0m4 2h0m-74 13h0m60-1h0m13 3h0m-69 7h0m57 3h0m2-4h0m2-5h0m-253 19h0m107-1h0m99 0h0m5-1h0m5 2h0m48-2h0m-277 8h0m17 0h0m92 1h0m2-4h0m14-2h0m3 5h0m85-1h0m-220 14h0m9-7h0m4 3h0m123-4h0m55 9h0m6-2h0m27-3h0m4 2h0m6-2h0m-242 10h0m2-3h0m12 0h0m3 6h0m130-1h0m4-5h0m5-1h0m5 0h0m4 3h0m2 5h0m28-4h0m20 3h0m-206 8h0m137-4h0m3 4h0m15 3h0m2-3h0m31 0h0m9 3h0m-85 8h0m15 0h0m18-6h0m4 0h0m48 9h0m3-2h0m-114 9h0m5-2h0m4 1h0m33 4h0m2-9h0m1 5h0m20 3h0m42 1h0m18-9h0m4 4h0m1 5h0m-134 7h0m17-6h0m24 3h0m34 2h0m16-4h0m11 5h0m2 2h0m8-4h0m14 4h0m-113 5h0m44-1h0m4 2h0m10 1h0m13 4h0m19 0h0m20-9h0m-29 15h0m-120 14h0m3-3h0m11 1h0m5 10h0m128-2h0m6-2h0m4 1h0m5 2h0m-159 8h0m13-4h0m129 0h0m21 6h0m-194 8h0m1 5h0m0-8h0m9 14h0m5-1h0m194 2h0m1-4h0m19 17h0m4-3h0m1-5h0m-91 16h0m17-3h0m62-3h0m-77 15h0m15-2h0m2-4h0m-171 29h0m11 1h0m-15 18h0m16 0h0m-6 3h0" stroke="#2f9fcf" stroke-width="2.5" stroke-linecap="round"/>
<path d="M1122 1048h0m14-1h0m137 7h0m-213 37h0m99 13h0m105 0h0m5 3h0m-125 6h0m3 5h0m104-8h0m35 5h0m17 4h0m-178 7h0m5 0h0m27-5h0m93-1h0m63 22h0m52 2h0m-61 15h0m53-8h0m5 6h0m-59 12h0m46 0h0m17-8h0m-13 12h0m6 0h0m5-2h0m-263 12h0m3-3h0m97 6h0m66 12h0m-179 5h0m185 5h0m15-6h0m-89 10h0m5 0h0m-23 27h0m2-4h0m12-4h0m26 5h0m30-2h0m11-2h0m33 4h0m-159 38h0m0 4h0m20-7h0m-32 12h0m158 3h0m-151 10h0m1-5h0m156 3h0m36 3h0m4-1h0m7-1h0m10 11h0m-25 7h0m4 4h0m-58 4h0m-7 17h0m-153 21h0m-12 8h0m21 1h0m0 7h0m-14 5h0" stroke="#f2d21c" stroke-width="2.5" stroke-linecap="round"/>
<path d="M1123 1037h0m5-2h0m6 1h0m132 4h0m8 8h0m-148 3h0m-77 31h0m1 6h0m73 20h0m5-3h0m133-1h0m-12 10h0m49-4h0m-46 14h0m9 4h0m28-3h0m61 11h0m17 3h0m-75 2h0m22 6h0m34-5h0m-57 11h0m9 6h0m9-2h0m4-5h0m45 3h0m-261 12h0m107 2h0m144-4h0m-257 5h0m228 9h0m0-5h0m-121 8h0m8 6h0m4 0h0m5-4h0m68 5h0m18-8h0m-14 11h0m-214 10h0m4 2h0m207 2h0m5 12h0m-98 2h0m1 6h0m35 2h0m48-4h0m-111 7h0m36 2h0m23-2h0m15 1h0m10 7h0m32-1h0m-114 2h0m6 4h0m57 3h0m9-6h0m9 3h0m22 0h0m-17 8h0m11 1h0m-116 11h0m-33 21h0m5-2h0m9 3h0m18-1h0m4-1h0m153-3h0m-19 9h0m9 5h0m4-1h0m6-4h0m37 8h0m-224 6h0m14-2h0m213-1h0m-87 21h0m4-2h0m67 0h0m-74 10h0m11 8h0m-168 25h0m19 2h0m-21 8h0" stroke="#b8125a" stroke-width="2.5" stroke-linecap="round"/>
<path d="M1130 1039h0m-4 4h0m5 2h0m133 6h0m-209 31h0m69 33h0m10 3h0m21-1h0m2-6h0m108 2h0m28 2h0m6 3h0m8 34h0m47 12h0m-260 16h0m112 3h0m-121 16h0m143-3h0m3 3h0m-4 1h0m54 2h0m-79 18h0m77 6h0m1-2h0m-109 12h0m5 3h0m79-2h0m-28 4h0m28 0h0m8 0h0m-138 54h0m135 29h0m-149 44h0" stroke="#b8125a" stroke-width="2.4" stroke-linecap="round"/>
<path d="M1265 1052h0m-130 66h0m18-6h0m103 5h0m42 0h0m-169 4h0m130 0h0m5 0h0m35 25h0m5-6h0m6 6h0m50-4h0m1 0h0m-2 25h0m-265 7h0m4 5h0m108-2h0m7-1h0m95 2h0m49-8h0m-273 28h0m193-1h0m6 0h0m-200 3h0m197 4h0m-83 21h0m6 3h0m4-3h0m75 3h0m5-1h0m-111 9h0m50 3h0m-84 35h0m5 4h0m148 1h0m3 0h0m-150 2h0m143-1h0m-169 15h0m5-1h0m0-4h0m207 12h0m2 4h0m-10 5h0m-66 16h0m-155 45h0m4 3h0" stroke="#2f9fcf" stroke-width="2.4" stroke-linecap="round"/>
<path d="M1261 1048h0m-204 39h0m303 53h0m-149 35h0m96-1h0m5 2h0m-85 21h0m4 39h0m30 3h0m-110 38h0m141 5h0m42 27h0m-72 21h0m-162 35h0" stroke="#f2d21c" stroke-width="2.4" stroke-linecap="round"/>
<circle cx="1198" cy="1062" r="22" fill="#2a9cd0"/>
<circle cx="1100" cy="1078" r="19" fill="#ee7593"/>
<circle cx="1291" cy="1081" r="17" fill="#ee7593"/>
<circle cx="1057" cy="1139" r="20" fill="#ee7593"/>
<circle cx="1127" cy="1156" r="17" fill="#ee7593"/>
<circle cx="1185" cy="1149" r="16" fill="#ee7593"/>
<circle cx="1331" cy="1114" r="16" fill="#ee7593"/>
<circle cx="1254" cy="1169" r="15" fill="#ee7593"/>
<circle cx="1173" cy="1195" r="16" fill="#ee7593"/>
<circle cx="1113" cy="1212" r="15" fill="#ee7593"/>
<circle cx="1366" cy="1204" r="18" fill="#ee7593"/>
<circle cx="1034" cy="1227" r="20" fill="#ee7593"/>
<circle cx="1092" cy="1265" r="14" fill="#ee7593"/>
<circle cx="1328" cy="1252" r="18" fill="#ee7593"/>
<circle cx="1259" cy="1298" r="14" fill="#ee7593"/>
<circle cx="1069" cy="1324" r="20" fill="#ee7593"/>
<circle cx="1186" cy="1344" r="23" fill="#2a9cd0"/>
<circle cx="1301" cy="1348" r="18" fill="#ee7593"/>
<path d="M1189 1047h0m9 0h0m-13 8h0m10 4h0m-4 7h0m13 0h0m-19 4h0m4 7h0m11-3h0m-22 258h0m4 0h0m11 4h0m-26 7h0m13 0h0m7-3h0m4 7h0m-7 11h0m3-3h0m10 3h0m5-7h0m-24 13h0m4-2h0" stroke="#b8125a" stroke-width="4" stroke-linecap="round"/>
<path d="M1193 1047h0m9 0h0m-11 4h0m7 4h0m2-4h0m0 8h0m2-4h0m2 4h0m4 0h0m7-4h0m-35 7h0m5 0h0m10 4h0m3-4h0m8 0h0m2 4h0m2-4h0m3 4h0m-20 4h0m0 7h0m5 0h0m0-7h0m10 4h0m-32 254h0m17 0h0m-13 8h0m9 0h0m6-4h0m2 4h0m3-4h0m-31 15h0m0-7h0m3 3h0m2-3h0m0 7h0m2-4h0m8 0h0m5 0h0m4 0h0m2 4h0m0-7h0m5 7h0m0-7h0m2 3h0m-28 12h0m4 0h0m2 3h0m9 0h0m2-3h0m2 3h0m4-7h0m-10 11h0" stroke="#f2d21c" stroke-width="4" stroke-linecap="round"/>
<path d="M1184 1047h0m4-2h0m3-2h0m5-1h0m4 0h0m4 1h0m2 4h0m2-3h0m3 3h0m-33 11h0m2-4h0m2-3h0m0 8h0m5-8h0m0 8h0m2-4h0m2 4h0m2-4h0m2-4h0m9 0h0m2 4h0m2-4h0m2 4h0m3 4h0m0-8h0m1-1h0m2 3h0m1 4h0m-39 5h0m1 5h0m3-1h0m5 0h0m2-4h0m4 0h0m7 4h0m2-4h0m13 0h0m3 0h0m0 4h0m-38 5h0m2 3h0m3 3h0m2-3h0m2-4h0m2 4h0m4 0h0m7 3h0m0-7h0m2 4h0m2-4h0m0 7h0m2 2h0m2-9h0m2 7h0m2-4h0m2-3h0m-28 10h0m4 1h0m4 1h0m4 0h0m5-1h0m-34 248h0m3-2h0m4-2h0m2 3h0m2-5h0m2 5h0m2-5h0m1 2h0m2 3h0m1-5h0m4 1h0m3 2h0m0 2h0m4 1h0m-35 7h0m2-3h0m4 3h0m2-4h0m2 4h0m8 0h0m3-4h0m4 0h0m11 4h0m1-4h0m2 4h0m-40 12h0m0-8h0m0 4h0m13 3h0m0-7h0m4 7h0m0-7h0m5 7h0m4-7h0m6 3h0m7 4h0m0-7h0m3 0h0m0 4h0m0 4h0m-40 4h0m2 4h0m2 3h0m1-8h0m4 7h0m0-7h0m4 0h0m2 4h0m2-4h0m5 0h0m4 0h0m2 4h0m5 0h0m1 4h0m3-4h0m2-3h0m-31 10h0m7 3h0m4 0h0m4 0h0m1-3h0m3 1h0m4-2h0" stroke="#2f9fcf" stroke-width="4" stroke-linecap="round"/>
<path d="M1092 1069h0m6 0h0m2-5h0m8 5h0m-5 9h0m3-5h0m11 1h0m-34 8h0m17 1h0m6 0h0m2 5h0m3-5h0m5 2h0m-74 43h0m7 22h0m209 32h0m-190 124h0m6 12h0m2-4h0m3 4h0m-28 4h0m3 1h0m3 5h0m6 0h0m-7 9h0m7 0h0m3-4h0m5 0h0m-11 7h0m5 2h0m10-1h0" stroke="#f2d21c" stroke-width="3.4" stroke-linecap="round"/>
<path d="M1087 1067h0m15-6h0m1 8h0m8-4h0m-13 13h0m2-5h0m11 0h0m-26 14h0m4-4h0m3 5h0m21 1h0m4-9h0m-28 11h0m4 3h0m5 1h0m11-2h0m209 15h0m3-5h0m6 5h0m0-8h0m5 0h0m1 8h0m5-6h0m1 6h0m4-2h0m-26 8h0m7 0h0m9 5h0m3-5h0m9-3h0m0 6h0m-298 7h0m2 5h0m3-8h0m5 0h0m4 8h0m6 0h0m1-5h0m250-4h0m3 5h0m6 3h0m3-4h0m3 4h0m5-2h0m5-4h0m-303 11h0m12 2h0m12 0h0m6 0h0m5-1h0m0 5h0m-36 5h0m3 5h0m1-9h0m12 0h0m3 5h0m3-5h0m6 0h0m3 5h0m4 0h0m-23 11h0m6 1h0m4-7h0m1 7h0m5-3h0m183 2h0m4 3h0m1-3h0m6 2h0m-20 7h0m4-5h0m6 4h0m6 0h0m8-2h0m2 5h0m-26 4h0m2 5h0m5-6h0m3 5h0m3-5h0m3 5h0m3-5h0m3 8h0m4-5h0m-20 7h0m6 2h0m-195 127h0m5-2h0m5 2h0m5-3h0m5 2h0m-26 9h0m8-3h0m3 4h0m3-4h0m16-3h0m3 5h0m-34 12h0m9-5h0m6 0h0m8 5h0m2-5h0m6 0h0m5 3h0m-34 6h0m15 5h0m6 0h0m2-4h0m4 6h0m3-4h0m3-4h0" stroke="#2f9fcf" stroke-width="3.4" stroke-linecap="round"/>
<path d="M1091 1063h0m5-2h0m11 1h0m8 7h0m-32 7h0m1-5h0m2 7h0m3-5h0m3 5h0m16 0h0m6 0h0m-19 5h0m3 5h0m6 7h0m-46 29h0m5-2h0m9 7h0m-33 10h0m7-4h0m12 0h0m-12 10h0m3-5h0m-3 14h0m9-4h0m17 0h0m-17 163h0m2 5h0m11 0h0m3-4h0m-3 14h0m3-5h0m8 5h0m8-8h0m-27 13h0m10 9h0" stroke="#b8125a" stroke-width="3.4" stroke-linecap="round"/>
<path d="M1292 1074h0m13 0h0m-16 6h0m-3 16h0m-90 43h0m-12 10h0m15-5h0m-28 7h0m2 5h0m20-2h0m6-4h0m-68 15h0m30 22h0m8 2h0m6 0h0m186-1h0m-202 5h0m19 2h0m9-1h0m179 2h0m14 0h0m-264 11h0m46-3h0m7-4h0m6 0h0m6 0h0m182 2h0m15 5h0m4 0h0m-25 5h0m12 0h0m7 5h0m4-4h0m-48 23h0m-248 25h0m6 0h0m225 1h0m22-2h0m-90 35h0m16 10h0m45 28h0m-16 13h0m21 5h0m-7 13h0" stroke="#f2d21c" stroke-width="3.2" stroke-linecap="round"/>
<path d="M1284 1067h0m17 2h0m-25 7h0m22-2h0m-22 8h0m7-2h0m3 5h0m6 0h0m9-5h0m-20 13h0m8-3h0m6 0h0m-110 45h0m-51 14h0m59-6h0m-80 7h0m18 5h0m11 2h0m-26 3h0m0 6h0m6-6h0m6 0h0m-7 10h0m60 19h0m-9 6h0m-65 5h0m3 7h0m3-5h0m13 7h0m52 0h0m188-2h0m-259 6h0m9 5h0m3-5h0m0 11h0m4-3h0m190 24h0m9-1h0m6 0h0m6 0h0m-252 14h0m11-2h0m219-5h0m10 4h0m3-5h0m3 5h0m6 0h0m6 0h0m4-2h0m-264 10h0m0 6h0m13-2h0m6 0h0m220-1h0m12-6h0m-248 14h0m13-2h0m4 3h0m155 11h0m5 3h0m1-3h0m-11 4h0m1 4h0m6 0h0m6 0h0m-9 6h0m6 0h0m6 8h0m-6 2h0m27 29h0m4-4h0m5-3h0m-1 8h0m3 6h0m3-6h0m9 6h0m7 0h0m-32 4h0m1 5h0m9-4h0m9 5h0m6 0h0" stroke="#b8125a" stroke-width="3.2" stroke-linecap="round"/>
<path d="M1290 1066h0m6 0h0m-17 5h0m-2 17h0m3-3h0m26 1h0m0-6h0m-14 16h0m6-1h0m5-4h0m-129 48h0m5-3h0m5 2h0m7-2h0m-74 9h0m5 4h0m0-7h0m6-1h0m0 8h0m5-7h0m5 4h0m33-1h0m7 4h0m9-6h0m-75 12h0m7 0h0m6 0h0m12 0h0m4-4h0m40 3h0m3 5h0m14-3h0m-85 5h0m12 4h0m12 2h0m4-5h0m36-1h0m5 2h0m6 0h0m6-2h0m-68 10h0m6-1h0m33 13h0m6-2h0m1 3h0m5-3h0m5 3h0m4 5h0m180-1h0m6 1h0m-259 10h0m46 0h0m7-4h0m186 0h0m4-4h0m4 5h0m12 0h0m5-4h0m-277 17h0m3-6h0m16-3h0m5 4h0m42 4h0m6 1h0m0-4h0m11 0h0m3-5h0m164 6h0m0-5h0m4 6h0m3-5h0m12 0h0m3 5h0m3-5h0m7 0h0m-282 13h0m10 3h0m16-3h0m226-3h0m3 4h0m5 3h0m15-7h0m-273 8h0m5 4h0m6 1h0m253-5h0m5 0h0m-50 17h0m5-1h0m11 2h0m-21 3h0m25 1h0m3 5h0m-257 7h0m5-1h0m6 1h0m4 4h0m210-1h0m4-2h0m3-5h0m12 0h0m6 0h0m6 9h0m-247 2h0m8 3h0m215-4h0m5 8h0m1-8h0m5 8h0m5-1h0m5-4h0m-251 14h0m1-5h0m5 5h0m8-7h0m163 18h0m4 4h0m1 6h0m-24 3h0m3 5h0m4 3h0m3-4h0m9-5h0m4 4h0m32 28h0m10 4h0m-27 8h0m22-4h0m9 1h0m-27 10h0m9 5h0m9-5h0m8 6h0m2-5h0m-27 8h0m4 3h0m6 1h0m11-3h0" stroke="#2f9fcf" stroke-width="3.2" stroke-linecap="round"/>
<path d="M1031 1209h0m-10 5h0m5-3h0m6 6h0m6 0h0m4-6h0m5 3h0m3 5h0m-34 5h0m4 4h0m3-5h0m3 5h0m3-5h0m3 5h0m3-5h0m3 5h0m3-5h0m3 5h0m3-5h0m5 1h0m-36 6h0m7 3h0m3 5h0m3-5h0m3 5h0m3-5h0m3 5h0m3-5h0m6 0h0m3 2h0m-29 5h0m10 5h0m6 0h0m5-2h0" stroke="#f2d21c" stroke-width="3.6" stroke-linecap="round"/>
<path d="M1037 1209h0m-19 10h0m0 16h0m34-5h0m-26 13h0m21-3h0" stroke="#2f9fcf" stroke-width="3.6" stroke-linecap="round"/></g>
<g><circle cx="1641" cy="1215" r="204" fill="url(#tB6)"/>
<path d="M1690 1074m-24 0a24 24 0 1 0 48 0a24 24 0 1 0-48 0M1537 1089m-22 0a22 22 0 1 0 44 0a22 22 0 1 0-44 0M1595 1090m-21.5 0a21.5 21.5 0 1 0 43 0a21.5 21.5 0 1 0-43 0M1545 1143m-20 0a20 20 0 1 0 40 0a20 20 0 1 0-40 0M1569 1183m-19 0a19 19 0 1 0 38 0a19 19 0 1 0-38 0M1662 1243m-20 0a20 20 0 1 0 40 0a20 20 0 1 0-40 0M1531 1255m-23 0a23 23 0 1 0 46 0a23 23 0 1 0-46 0M1485 1241m-18 0a18 18 0 1 0 36 0a18 18 0 1 0-36 0M1505 1300m-20 0a20 20 0 1 0 40 0a20 20 0 1 0-40 0M1565 1318m-20 0a20 20 0 1 0 40 0a20 20 0 1 0-40 0M1630 1330m-20 0a20 20 0 1 0 40 0a20 20 0 1 0-40 0M1727 1114m-16 0a16 16 0 1 0 32 0a16 16 0 1 0-32 0M1669 1327m-14 0a14 14 0 1 0 28 0a14 14 0 1 0-28 0M1468 1122m-12 0a12 12 0 1 0 24 0a12 12 0 1 0-24 0M1576 1045m-12 0a12 12 0 1 0 24 0a12 12 0 1 0-24 0M1656 1039m-12 0a12 12 0 1 0 24 0a12 12 0 1 0-24 0M1624 1138m-14 0a14 14 0 1 0 28 0a14 14 0 1 0-28 0M1793 1136m-12 0a12 12 0 1 0 24 0a12 12 0 1 0-24 0M1775 1157m-13 0a13 13 0 1 0 26 0a13 13 0 1 0-26 0M1514 1165m-14 0a14 14 0 1 0 28 0a14 14 0 1 0-28 0M1725 1183m-13 0a13 13 0 1 0 26 0a13 13 0 1 0-26 0M1710 1210m-14 0a14 14 0 1 0 28 0a14 14 0 1 0-28 0M1747 1211m-14 0a14 14 0 1 0 28 0a14 14 0 1 0-28 0M1758 1242m-14 0a14 14 0 1 0 28 0a14 14 0 1 0-28 0M1807 1232m-13 0a13 13 0 1 0 26 0a13 13 0 1 0-26 0M1541 1209m-13 0a13 13 0 1 0 26 0a13 13 0 1 0-26 0M1628 1232m-12 0a12 12 0 1 0 24 0a12 12 0 1 0-24 0M1728 1247m-12 0a12 12 0 1 0 24 0a12 12 0 1 0-24 0M1597 1277m-13 0a13 13 0 1 0 26 0a13 13 0 1 0-26 0M1630 1296m-12 0a12 12 0 1 0 24 0a12 12 0 1 0-24 0M1684 1284m-13 0a13 13 0 1 0 26 0a13 13 0 1 0-26 0M1747 1276m-12 0a12 12 0 1 0 24 0a12 12 0 1 0-24 0M1776 1309m-12 0a12 12 0 1 0 24 0a12 12 0 1 0-24 0M1661 1369m-14 0a14 14 0 1 0 28 0a14 14 0 1 0-28 0M1727 1364m-12 0a12 12 0 1 0 24 0a12 12 0 1 0-24 0M1685 1350m-11 0a11 11 0 1 0 22 0a11 11 0 1 0-22 0M1610 1163m-12 0a12 12 0 1 0 24 0a12 12 0 1 0-24 0M1631 1178m-11 0a11 11 0 1 0 22 0a11 11 0 1 0-22 0M1655 1145m-11 0a11 11 0 1 0 22 0a11 11 0 1 0-22 0M1734 1155m-11 0a11 11 0 1 0 22 0a11 11 0 1 0-22 0M1694 1185m-11 0a11 11 0 1 0 22 0a11 11 0 1 0-22 0M1714 1315m-12 0a12 12 0 1 0 24 0a12 12 0 1 0-24 0" fill="#fff"/>
<circle cx="1727" cy="1114" r="12.9" fill="#ef8fab" fill-opacity="0.75"/>
<circle cx="1727" cy="1114" r="14" fill="url(#K1)"/>
<circle cx="1727" cy="1114" r="11.9" fill="url(#K1r)"/>
<circle cx="1669" cy="1327" r="11" fill="#ef8fab" fill-opacity="0.75"/>
<circle cx="1669" cy="1327" r="12" fill="url(#K1)"/>
<circle cx="1669" cy="1327" r="10.2" fill="url(#K1r)"/>
<circle cx="1468" cy="1122" r="9.2" fill="#ef8fab" fill-opacity="0.58"/>
<circle cx="1468" cy="1122" r="10" fill="url(#K1)"/>
<circle cx="1576" cy="1045" r="9.2" fill="#ef8fab" fill-opacity="0.58"/>
<circle cx="1576" cy="1045" r="10" fill="url(#K1)"/>
<circle cx="1656" cy="1039" r="9.2" fill="#ef8fab" fill-opacity="0.58"/>
<circle cx="1656" cy="1039" r="10" fill="url(#K1)"/>
<circle cx="1624" cy="1138" r="11" fill="#ef8fab" fill-opacity="0.58"/>
<circle cx="1624" cy="1138" r="12" fill="url(#K2)"/>
<circle cx="1793" cy="1136" r="9.2" fill="#ef8fab" fill-opacity="0.58"/>
<circle cx="1793" cy="1136" r="10" fill="url(#K2)"/>
<circle cx="1775" cy="1157" r="10.1" fill="#ef8fab" fill-opacity="0.58"/>
<circle cx="1775" cy="1157" r="11" fill="url(#K2)"/>
<circle cx="1514" cy="1165" r="11" fill="#ef8fab" fill-opacity="0.58"/>
<circle cx="1514" cy="1165" r="12" fill="url(#K1)"/>
<circle cx="1725" cy="1183" r="10.1" fill="#ef8fab" fill-opacity="0.58"/>
<circle cx="1725" cy="1183" r="11" fill="url(#K2)"/>
<circle cx="1710" cy="1210" r="11" fill="#ef8fab" fill-opacity="0.58"/>
<circle cx="1710" cy="1210" r="12" fill="url(#K1)"/>
<circle cx="1747" cy="1211" r="11" fill="#ef8fab" fill-opacity="0.58"/>
<circle cx="1747" cy="1211" r="12" fill="url(#K2)"/>
<circle cx="1758" cy="1242" r="11" fill="#ef8fab" fill-opacity="0.58"/>
<circle cx="1758" cy="1242" r="12" fill="url(#K2)"/>
<circle cx="1807" cy="1232" r="10.1" fill="#ef8fab" fill-opacity="0.58"/>
<circle cx="1807" cy="1232" r="11" fill="url(#K2)"/>
<circle cx="1541" cy="1209" r="10.1" fill="#ef8fab" fill-opacity="0.58"/>
<circle cx="1541" cy="1209" r="11" fill="url(#K1)"/>
<circle cx="1628" cy="1232" r="9.2" fill="#ef8fab" fill-opacity="0.58"/>
<circle cx="1628" cy="1232" r="10" fill="url(#K1)"/>
<circle cx="1728" cy="1247" r="9.2" fill="#ef8fab" fill-opacity="0.58"/>
<circle cx="1728" cy="1247" r="10" fill="url(#K1)"/>
<circle cx="1597" cy="1277" r="10.1" fill="#ef8fab" fill-opacity="0.58"/>
<circle cx="1597" cy="1277" r="11" fill="url(#K1)"/>
<circle cx="1630" cy="1296" r="9.2" fill="#ef8fab" fill-opacity="0.58"/>
<circle cx="1630" cy="1296" r="10" fill="url(#K2)"/>
<circle cx="1684" cy="1284" r="10.1" fill="#ef8fab" fill-opacity="0.58"/>
<circle cx="1684" cy="1284" r="11" fill="url(#K1)"/>
<circle cx="1747" cy="1276" r="9.2" fill="#ef8fab" fill-opacity="0.58"/>
<circle cx="1747" cy="1276" r="10" fill="url(#K1)"/>
<circle cx="1776" cy="1309" r="9.2" fill="#ef8fab" fill-opacity="0.58"/>
<circle cx="1776" cy="1309" r="10" fill="url(#K1)"/>
<circle cx="1661" cy="1369" r="11" fill="#ef8fab" fill-opacity="0.58"/>
<circle cx="1661" cy="1369" r="12" fill="url(#K2)"/>
<circle cx="1727" cy="1364" r="9.2" fill="#ef8fab" fill-opacity="0.58"/>
<circle cx="1727" cy="1364" r="10" fill="url(#K1)"/>
<circle cx="1685" cy="1350" r="8.3" fill="#ef8fab" fill-opacity="0.58"/>
<circle cx="1685" cy="1350" r="9" fill="url(#K1)"/>
<circle cx="1610" cy="1163" r="9.2" fill="#ef8fab" fill-opacity="0.58"/>
<circle cx="1610" cy="1163" r="10" fill="url(#K1)"/>
<circle cx="1631" cy="1178" r="8.3" fill="#ef8fab" fill-opacity="0.58"/>
<circle cx="1631" cy="1178" r="9" fill="url(#K1)"/>
<circle cx="1655" cy="1145" r="8.3" fill="#ef8fab" fill-opacity="0.58"/>
<circle cx="1655" cy="1145" r="9" fill="url(#K1)"/>
<circle cx="1734" cy="1155" r="8.3" fill="#ef8fab" fill-opacity="0.58"/>
<circle cx="1734" cy="1155" r="9" fill="url(#K1)"/>
<circle cx="1694" cy="1185" r="8.3" fill="#ef8fab" fill-opacity="0.58"/>
<circle cx="1694" cy="1185" r="9" fill="url(#K1)"/>
<circle cx="1714" cy="1315" r="9.2" fill="#ef8fab" fill-opacity="0.58"/>
<circle cx="1714" cy="1315" r="10" fill="url(#K2)"/>
<path d="M1570 1038h0m10-1h0m69-4h0m8-3h0m6 3h0m2 4h0m-98 10h0m0-5h0m17-2h0m64 4h0m5 4h0m5 1h0m7-8h0m-95 11h0m4 2h0m10-3h0m137 51h0m6-1h0m6 1h0m3 3h0m-275 11h0m253-2h0m25-4h0m1 5h0m-263 6h0m0 5h0m143 2h0m3-1h0m6 1h0m90-4h0m6 2h0m10-1h0m60 1h0m-323 4h0m141 6h0m23 0h0m15 1h0m134-7h0m-168 16h0m14 1h0m17-5h0m14-2h0m76 8h0m39-1h0m8-7h0m12 5h0m-288 10h0m4 0h0m5 0h0m85 2h0m123-2h0m16 2h0m0-4h0m22 2h0m4-5h0m17 9h0m-260 9h0m76-3h0m0-5h0m19 3h0m108-2h0m4 2h0m7-1h0m33 5h0m7-1h0m-275 4h0m8 6h0m10-3h0m82-2h0m4 1h0m7-1h0m14-1h0m5 0h0m5 4h0m78 3h0m3-4h0m14 6h0m-108 6h0m13-4h0m64 2h0m13 5h0m20-5h0m-193 16h0m145-8h0m3 2h0m7-1h0m11 6h0m-178 8h0m170-2h0m3-4h0m33 8h0m6-7h0m5-1h0m9 6h0m-226 5h0m3 5h0m11 3h0m6-7h0m168 5h0m3-4h0m14 1h0m21 3h0m1-6h0m-137 16h0m4-4h0m10 2h0m78-4h0m29 0h0m7 1h0m51 3h0m5-4h0m-168 10h0m0 4h0m91 3h0m25-6h0m65-1h0m-195 9h0m5 2h0m92 0h0m27-1h0m1 7h0m66-8h0m-79 13h0m-142 14h0m6 0h0m142 2h0m-152 2h0m18 3h0m1 4h0m130 0h0m17-6h0m1 5h0m-155 10h0m4-3h0m23 3h0m4 0h0m61 2h0m48-6h0m5 3h0m4-1h0m5-4h0m-132 9h0m57 4h0m6 1h0m92 4h0m-156 1h0m8 5h0m78 3h0m62-6h0m3-1h0m-112 17h0m7-2h0m6 1h0m30 0h0m20-3h0m60-2h0m-125 10h0m55 2h0m4-1h0m-58 10h0m3 4h0m4 1h0m7-1h0m3-2h0m5 8h0m5-1h0m32 15h0m4-1h0m6-1h0m5 3h0m-83 8h0m2-5h0m19 4h0m45-3h0m19 1h0m-84 12h0m21-4h0m55 3h0m4-2h0m-66 8h0" stroke="#2f9fcf" stroke-width="2.5" stroke-linecap="round"/>
<path d="M1646 1039h0m5-9h0m-71 24h0m-105 62h0m-16 9h0m0-5h0m255 0h0m14 7h0m10-5h0m-270 10h0m166-1h0m22 5h0m127-1h0m18-5h0m1 9h0m-189 3h0m7 6h0m6 1h0m9-7h0m12 6h0m16-3h0m69 2h0m40 1h0m21-2h0m-271 11h0m86-4h0m6 1h0m3 3h0m34-5h0m4 1h0m73-3h0m37 9h0m17-9h0m3 5h0m-260 8h0m94 4h0m-111 7h0m10 1h0m105 4h0m2-7h0m68 4h0m6 2h0m27-5h0m5 1h0m-46 9h0m3-3h0m-149 19h0m180-8h0m11 1h0m-16 8h0m5 3h0m35 0h0m-207 14h0m153-3h0m39 5h0m-109 4h0m73-3h0m5 1h0m45 0h0m44 7h0m-179 3h0m131 6h0m9-7h0m8 4h0m30-1h0m3 5h0m18-2h0m-98 13h0m18-7h0m32 3h0m34-3h0m-82 11h0m3 3h0m37-3h0m5-3h0m-163 19h0m143-3h0m6 2h0m-166 7h0m91 1h0m12-2h0m50-1h0m-148 12h0m83-1h0m1-4h0m-55 16h0m19-2h0m36-4h0m-50 14h0m14-4h0m82 9h0m46-3h0m18 2h0m-63 11h0m54-1h0m4-1h0m-103 3h0m32 3h0m-17 22h0m-35 13h0m7 1h0m13-6h0m3 4h0m7 1h0m49 9h0m-65 8h0m50-3h0m-65 8h0" stroke="#b8125a" stroke-width="2.5" stroke-linecap="round"/>
<path d="M1574 1035h0m11 10h0m78 1h0m53 63h0m1-4h0m-251 8h0m4 0h0m321 15h0m-327 3h0m151 1h0m188 3h0m-14 9h0m-285 15h0m158-8h0m-160 12h0m266 2h0m14-1h0m-151 23h0m5-2h0m66 3h0m13-5h0m19 6h0m-10 5h0m-189 7h0m13 2h0m3 3h0m170 2h0m17-4h0m-200 14h0m161-8h0m110 12h0m6 3h0m-195 12h0m143-5h0m-129 8h0m88 0h0m12 0h0m3 8h0m32-7h0m41 1h0m-79 14h0m20-6h0m6 3h0m-74 20h0m9 5h0m-104 2h0m6 7h0m100-4h0m-57 7h0m53 2h0m-55 12h0m76 2h0m7 1h0m65-4h0m-78 9h0m62 0h0m4 6h0m-113 10h0m21-4h0m0 6h0m-1 16h0m15 3h0m-1 7h0m-23 5h0m49 7h0m-69 3h0m12 9h0" stroke="#f2d21c" stroke-width="2.5" stroke-linecap="round"/>
<path d="M1653 1034h0m-79 15h0m3-2h0m146 66h0m2 6h0m3-6h0m2 3h0m1 2h0m-265 6h0m158 13h0m169 2h0m-173 2h0m39 5h0m74 12h0m1 1h0m46-5h0m-263 13h0m93 2h0m20 6h0m1-1h0m62 15h0m3-9h0m27 0h0m0 4h0m-183 23h0m174 8h0m33 2h0m59 10h0m-183 5h0m10-2h0m127 10h0m3 0h0m2 1h0m-172 38h0m9-1h0m141-3h0m3-4h0m-56 14h0m-60 7h0m86 22h0m2 1h0m57-3h0m3 2h0m-110 10h0m13 25h0m5-1h0m-30 19h0m4-1h0m63 2h0" stroke="#2f9fcf" stroke-width="2.4" stroke-linecap="round"/>
<path d="M1653 1035h0m-79 13h0m81-4h0m-29 90h0m0 4h0m164 1h0m4 0h0m-140 6h0m-47 13h0m169-7h0m-268 15h0m7-4h0m0 6h0m261-5h0m-142 18h0m57 0h0m38 0h0m-183 26h0m200-2h0m-202 6h0m163 1h0m1 4h0m34 0h0m5 0h0m-118 14h0m95 18h0m0 3h0m25 25h0m-61 10h0m-56 11h0m1 1h0m52-8h0m90 24h0m-107 9h0m6 5h0m10 27h0m-24 10h0m4-1h0" stroke="#b8125a" stroke-width="2.4" stroke-linecap="round"/>
<path d="M1469 1118h0m2 3h0m187 24h0m73 9h0m47 0h0m-169 9h0m112 25h0m-182 16h0m175 7h0m95 18h0m-7 2h0m1 0h0m-78 12h0m37 4h0m-163 32h0m-4 4h0m86-3h0m38 32h0m-56 19h0m59 32h0m4 1h0" stroke="#f2d21c" stroke-width="2.4" stroke-linecap="round"/>
<circle cx="1690" cy="1074" r="19" fill="#e0507c"/>
<circle cx="1537" cy="1089" r="17" fill="#ee7593"/>
<circle cx="1595" cy="1090" r="16.5" fill="#ee7593"/>
<circle cx="1545" cy="1143" r="15" fill="#ee7593"/>
<circle cx="1569" cy="1183" r="14" fill="#ee7593"/>
<circle cx="1662" cy="1243" r="15" fill="#ee7593"/>
<circle cx="1531" cy="1255" r="18" fill="#ee7593"/>
<circle cx="1485" cy="1241" r="13" fill="#ee7593"/>
<circle cx="1505" cy="1300" r="15" fill="#ee7593"/>
<circle cx="1565" cy="1318" r="15" fill="#ee7593"/>
<circle cx="1630" cy="1330" r="15" fill="#ee7593"/>
<path d="M1683 1058h0m5-1h0m0 2h0m5-2h0m5 2h0m-24 10h0m2-5h0m3-3h0m5 7h0m4 0h0m3-4h0m3 4h0m2-4h0m2 4h0m4-7h0m3 4h0m-32 13h0m0-5h0m3-1h0m2 5h0m3-5h0m3 5h0m2-5h0m2 5h0m3-5h0m3 5h0m2-5h0m2 5h0m3-5h0m3 5h0m2 2h0m1-9h0m0 5h0m-32 8h0m3 4h0m3-6h0m3 4h0m2-4h0m2 4h0m3-4h0m5 0h0m5 0h0m0 6h0m3-3h0m-17 7h0m5 0h0m5-1h0" stroke="#b8125a" stroke-width="3.8" stroke-linecap="round"/>
<path d="M1681 1064h0m5 0h0m-4 25h0m16-4h0" stroke="#2f9fcf" stroke-width="3.8" stroke-linecap="round"/>
<path d="M1678 1068h0m16 17h0" stroke="#f2d21c" stroke-width="3.8" stroke-linecap="round"/>
<path d="M1587 1077h0m5-2h0m6 0h0m-76 11h0m10-4h0m3 6h0m3-6h0m3 6h0m6 0h0m5-2h0m28 1h0m3-6h0m5 8h0m6 0h0m2-5h0m4 5h0m2-5h0m4 5h0m2-7h0m2 5h0m-86 11h0m11 0h0m3-5h0m3 5h0m39-5h0m4 1h0m6 0h0m4 5h0m2-5h0m4 5h0m2-5h0m5 5h0m3-6h0m-24 9h0m12 3h0m-53 28h0m3 16h0m26 23h0m-97 60h0m12-2h0m170 0h0m-183 19h0m20-4h0m163 4h0m6 0h0m-178 3h0m6-2h0m172 6h0m-170 35h0m-3 11h0m19-1h0m-7 12h0m126 4h0m-11 5h0m11-2h0m3 5h0m10 2h0m-23 11h0m7-2h0m-3 6h0m6 1h0" stroke="#b8125a" stroke-width="3.2" stroke-linecap="round"/>
<path d="M1529 1088h0m15-6h0m46 2h0m-68 8h0m60 6h0m10 7h0m-47 25h0m3 8h0m8-3h0m-24 11h0m10 3h0m3-5h0m6 0h0m7-4h0m-8 15h0m11 24h0m6 0h0m1-8h0m5 8h0m-9 6h0m6 0h0m11 1h0m-14 9h0m-93 42h0m188-4h0m6 11h0m-156 44h0m-7 2h0m3 5h0m10 3h0m-24 10h0m24-4h0m38 4h0m11-3h0m5 2h0m-74 5h0m54 1h0m7 6h0m9-6h0m3 6h0m7-2h0m58 1h0m-82 7h0m9 6h0m6 0h0m72 7h0m-5 4h0" stroke="#f2d21c" stroke-width="3.2" stroke-linecap="round"/>
<path d="M1528 1076h0m6-2h0m6 0h0m6 2h0m58 2h0m-80 2h0m26 0h0m-6 13h0m6 5h0m2-6h0m-24 10h0m6 2h0m6 0h0m6-2h0m57 1h0m-68 31h0m5-3h0m11 0h0m-19 9h0m7 4h0m19 2h0m-24 5h0m5 4h0m6 1h0m10-4h0m3 25h0m4-4h0m8 1h0m9 1h0m-22 7h0m1 6h0m18-3h0m5-4h0m-19 12h0m5-3h0m6 0h0m0 5h0m5-3h0m-100 46h0m5-8h0m1 8h0m6 0h0m4-5h0m2 6h0m154-2h0m4-5h0m5 6h0m6 0h0m0-8h0m6 3h0m3 5h0m-200 5h0m7 1h0m6 0h0m162-1h0m1 5h0m6-4h0m6 0h0m12 5h0m1-6h0m-194 9h0m172 1h0m6 3h0m11-2h0m-170 34h0m6-1h0m-14 9h0m10-1h0m14-3h0m-17 9h0m6 0h0m3 5h0m7 3h0m46-4h0m4 3h0m-55 4h0m42 7h0m10-6h0m3 6h0m11-8h0m48 7h0m-66 11h0m16-1h0m4-5h0m39 4h0m23-5h0m-23 11h0m7-2h0m6 0h0m13 2h0" stroke="#2f9fcf" stroke-width="3.2" stroke-linecap="round"/>
<path d="M1527 1239h0m6 0h0m-15 7h0m4-4h0m3 5h0m6 0h0m6 0h0m2-6h0m-24 10h0m0 6h0m4 1h0m12 0h0m3-5h0m3 5h0m3-5h0m3 5h0m3-8h0m1 6h0m-26 11h0m13-4h0m6 0h0m6-1h0m-20 8h0m12 0h0" stroke="#f2d21c" stroke-width="3.6" stroke-linecap="round"/>
<path d="M1528 1253h0" stroke="#b8125a" stroke-width="3.6" stroke-linecap="round"/>
<path d="M1543 1245h0m-26 18h0m5 0h0m20 3h0m-10 5h0" stroke="#2f9fcf" stroke-width="3.6" stroke-linecap="round"/></g>
<g font-family="'Liberation Serif','Times New Roman',serif">
<text x="24" y="53" font-size="54" fill="#111">(a)</text>
<text x="1020" y="53" font-size="54" fill="#111">(b)</text>
<text x="160" y="86.5" font-size="38.8" fill="#333">Water</text>
<text x="580.5" y="86.5" font-size="38.8" fill="#333">Sediment</text>
<text x="1149.5" y="86.5" font-size="38.8" fill="#333">Water</text>
<text x="1570.5" y="86.5" font-size="38.8" fill="#333">Sdiment</text>
<text x="0" y="0" font-size="40" fill="#111" text-anchor="middle" transform="translate(918.5 327.5) rotate(-90)">MYR</text>
<text x="0" y="0" font-size="40" fill="#111" text-anchor="middle" transform="translate(918.5 771.3) rotate(-90)">DTL</text>
<text x="0" y="0" font-size="40" fill="#111" text-anchor="middle" transform="translate(918.5 1216.5) rotate(-90)">PYL</text>
<text x="0" y="0" font-size="40" fill="#111" text-anchor="middle" transform="translate(1895.5 327.5) rotate(-90)">MYR</text>
<text x="0" y="0" font-size="40" fill="#111" text-anchor="middle" transform="translate(1895.5 771.3) rotate(-90)">DTL</text>
<text x="0" y="0" font-size="40" fill="#111" text-anchor="middle" transform="translate(1895.5 1216.5) rotate(-90)">PYL</text>
</g>
<g font-family="'Liberation Serif','Times New Roman',serif" fill="#1a1a1a">
<rect x="109.5" y="1517" width="396.5" height="320" fill="none" stroke="#333" stroke-width="2"/>
<text x="99" y="1837" text-anchor="end" font-size="20.5" dy="0.34em">0</text>
<text x="99" y="1773" text-anchor="end" font-size="20.5" dy="0.34em">400</text>
<text x="99" y="1709" text-anchor="end" font-size="20.5" dy="0.34em">800</text>
<text x="99" y="1645" text-anchor="end" font-size="20.5" dy="0.34em">1200</text>
<text x="99" y="1581" text-anchor="end" font-size="20.5" dy="0.34em">1600</text>
<text x="99" y="1517" text-anchor="end" font-size="20.5" dy="0.34em">2000</text>
<path d="M103.5 1837h6M106 1805h3.5M103.5 1773h6M106 1741h3.5M103.5 1709h6M106 1677h3.5M103.5 1645h6M106 1613h3.5M103.5 1581h6M106 1549h3.5M103.5 1517h6" stroke="#333" stroke-width="2" fill="none"/>
<rect x="133.4" y="1720" width="48.3" height="117" fill="#629ed7" stroke="#5a5046" stroke-width="1"/>
<rect x="133.4" y="1681" width="48.3" height="39" fill="#e58344" stroke="#5a5046" stroke-width="1"/>
<rect x="133.4" y="1616.8" width="48.3" height="64.2" fill="#ecbc32" stroke="#5a5046" stroke-width="1"/>
<rect x="193.5" y="1719.6" width="48.3" height="117.4" fill="#629ed7" stroke="#5a5046" stroke-width="1"/>
<rect x="193.5" y="1681.8" width="48.3" height="37.8" fill="#e58344" stroke="#5a5046" stroke-width="1"/>
<rect x="193.5" y="1619.1" width="48.3" height="62.7" fill="#ecbc32" stroke="#5a5046" stroke-width="1"/>
<rect x="253.7" y="1717.3" width="48.3" height="119.7" fill="#629ed7" stroke="#5a5046" stroke-width="1"/>
<rect x="253.7" y="1669.8" width="48.3" height="47.5" fill="#e58344" stroke="#5a5046" stroke-width="1"/>
<rect x="253.7" y="1605.8" width="48.3" height="64" fill="#ecbc32" stroke="#5a5046" stroke-width="1"/>
<rect x="313.8" y="1672" width="48.3" height="165" fill="#629ed7" stroke="#5a5046" stroke-width="1"/>
<rect x="313.8" y="1637.8" width="48.3" height="34.2" fill="#e58344" stroke="#5a5046" stroke-width="1"/>
<rect x="313.8" y="1572" width="48.3" height="65.8" fill="#ecbc32" stroke="#5a5046" stroke-width="1"/>
<rect x="373.9" y="1797" width="48.3" height="40" fill="#629ed7" stroke="#5a5046" stroke-width="1"/>
<rect x="373.9" y="1778.1" width="48.3" height="18.9" fill="#e58344" stroke="#5a5046" stroke-width="1"/>
<rect x="373.9" y="1757.5" width="48.3" height="20.6" fill="#ecbc32" stroke="#5a5046" stroke-width="1"/>
<rect x="434" y="1686.6" width="48.3" height="150.4" fill="#629ed7" stroke="#5a5046" stroke-width="1"/>
<rect x="434" y="1639.6" width="48.3" height="47" fill="#e58344" stroke="#5a5046" stroke-width="1"/>
<rect x="434" y="1569.8" width="48.3" height="69.8" fill="#ecbc32" stroke="#5a5046" stroke-width="1"/>
<path d="M157.6 1837v6M217.7 1837v6M277.8 1837v6M337.9 1837v6M398 1837v6M458.1 1837v6" stroke="#333" stroke-width="2"/>
<text x="171.6" y="1857" text-anchor="end" font-size="19.3" transform="rotate(-30 171.6 1857)">MYR-water</text>
<text x="231.7" y="1857" text-anchor="end" font-size="19.3" transform="rotate(-30 231.7 1857)">DTL-water</text>
<text x="291.8" y="1857" text-anchor="end" font-size="19.3" transform="rotate(-30 291.8 1857)">PYL-water</text>
<text x="351.9" y="1857" text-anchor="end" font-size="19.3" transform="rotate(-30 351.9 1857)">MYR-sediment</text>
<text x="412" y="1857" text-anchor="end" font-size="19.3" transform="rotate(-30 412 1857)">DTL-sediment</text>
<text x="472.1" y="1857" text-anchor="end" font-size="19.3" transform="rotate(-30 472.1 1857)">PYL-sediment</text>
<text x="115" y="1505" font-size="35.5">high-water period</text>
<text x="0" y="0" font-size="23.5" text-anchor="middle" transform="translate(52 1677) rotate(-90)">Number of nodes</text>
<rect x="536.5" y="1517" width="397" height="320" fill="none" stroke="#333" stroke-width="2"/>
<path d="M530.5 1837h6M533 1805h3.5M530.5 1773h6M533 1741h3.5M530.5 1709h6M533 1677h3.5M530.5 1645h6M533 1613h3.5M530.5 1581h6M533 1549h3.5M530.5 1517h6" stroke="#333" stroke-width="2" fill="none"/>
<rect x="560.1" y="1697.5" width="48.3" height="139.5" fill="#629ed7" stroke="#5a5046" stroke-width="1"/>
<rect x="560.1" y="1643.6" width="48.3" height="53.9" fill="#e58344" stroke="#5a5046" stroke-width="1"/>
<rect x="560.1" y="1569.5" width="48.3" height="74.1" fill="#ecbc32" stroke="#5a5046" stroke-width="1"/>
<rect x="620.2" y="1675.6" width="48.3" height="161.4" fill="#629ed7" stroke="#5a5046" stroke-width="1"/>
<rect x="620.2" y="1625.8" width="48.3" height="49.8" fill="#e58344" stroke="#5a5046" stroke-width="1"/>
<rect x="620.2" y="1579.4" width="48.3" height="46.4" fill="#ecbc32" stroke="#5a5046" stroke-width="1"/>
<rect x="680.3" y="1708.4" width="48.3" height="128.6" fill="#629ed7" stroke="#5a5046" stroke-width="1"/>
<rect x="680.3" y="1646.9" width="48.3" height="61.4" fill="#e58344" stroke="#5a5046" stroke-width="1"/>
<rect x="680.3" y="1576.2" width="48.3" height="70.7" fill="#ecbc32" stroke="#5a5046" stroke-width="1"/>
<rect x="740.4" y="1670.1" width="48.3" height="166.9" fill="#629ed7" stroke="#5a5046" stroke-width="1"/>
<rect x="740.4" y="1622.8" width="48.3" height="47.4" fill="#e58344" stroke="#5a5046" stroke-width="1"/>
<rect x="740.4" y="1544.4" width="48.3" height="78.4" fill="#ecbc32" stroke="#5a5046" stroke-width="1"/>
<rect x="800.5" y="1780.4" width="48.3" height="56.6" fill="#629ed7" stroke="#5a5046" stroke-width="1"/>
<rect x="800.5" y="1729.5" width="48.3" height="50.9" fill="#e58344" stroke="#5a5046" stroke-width="1"/>
<rect x="800.5" y="1703.6" width="48.3" height="25.9" fill="#ecbc32" stroke="#5a5046" stroke-width="1"/>
<rect x="860.6" y="1699.7" width="48.3" height="137.3" fill="#629ed7" stroke="#5a5046" stroke-width="1"/>
<rect x="860.6" y="1648.2" width="48.3" height="51.5" fill="#e58344" stroke="#5a5046" stroke-width="1"/>
<rect x="860.6" y="1577.6" width="48.3" height="70.6" fill="#ecbc32" stroke="#5a5046" stroke-width="1"/>
<path d="M584.2 1837v6M644.3 1837v6M704.4 1837v6M764.5 1837v6M824.6 1837v6M884.7 1837v6" stroke="#333" stroke-width="2"/>
<text x="598.2" y="1857" text-anchor="end" font-size="19.3" transform="rotate(-30 598.2 1857)">MYR-water</text>
<text x="658.3" y="1857" text-anchor="end" font-size="19.3" transform="rotate(-30 658.3 1857)">DTL-water</text>
<text x="718.4" y="1857" text-anchor="end" font-size="19.3" transform="rotate(-30 718.4 1857)">PYL-water</text>
<text x="778.5" y="1857" text-anchor="end" font-size="19.3" transform="rotate(-30 778.5 1857)">MYR-sediment</text>
<text x="838.6" y="1857" text-anchor="end" font-size="19.3" transform="rotate(-30 838.6 1857)">DTL-sediment</text>
<text x="898.7" y="1857" text-anchor="end" font-size="19.3" transform="rotate(-30 898.7 1857)">PYL-sediment</text>
<text x="541.5" y="1505" font-size="35.5">low-water period</text>
<text x="7" y="1475" font-size="55">(c)</text>
<rect x="381" y="1925.5" width="36" height="17" fill="#629ed7" stroke="#000" stroke-opacity="0.35" stroke-width="1"/>
<text x="422" y="1939" font-size="16">Bacteria</text>
<rect x="494" y="1925.5" width="36" height="17" fill="#e58344" stroke="#000" stroke-opacity="0.35" stroke-width="1"/>
<text x="535" y="1939" font-size="16">Fungi</text>
<rect x="590.5" y="1925.5" width="36" height="17" fill="#ecbc32" stroke="#000" stroke-opacity="0.35" stroke-width="1"/>
<text x="631.5" y="1939" font-size="16">Archaea</text>
<rect x="1046.5" y="1518" width="401" height="319.5" fill="none" stroke="#333" stroke-width="2"/>
<text x="1036" y="1837.5" text-anchor="end" font-size="20.5" dy="0.34em">0</text>
<text x="1036" y="1773.6" text-anchor="end" font-size="20.5" dy="0.34em">20</text>
<text x="1036" y="1709.7" text-anchor="end" font-size="20.5" dy="0.34em">40</text>
<text x="1036" y="1645.8" text-anchor="end" font-size="20.5" dy="0.34em">60</text>
<text x="1036" y="1581.9" text-anchor="end" font-size="20.5" dy="0.34em">80</text>
<text x="1036" y="1518" text-anchor="end" font-size="20.5" dy="0.34em">100</text>
<path d="M1040.5 1837.5h6M1043 1805.5h3.5M1040.5 1773.6h6M1043 1741.7h3.5M1040.5 1709.7h6M1043 1677.8h3.5M1040.5 1645.8h6M1043 1613.8h3.5M1040.5 1581.9h6M1043 1550h3.5M1040.5 1518h6" stroke="#333" stroke-width="2" fill="none"/>
<rect x="1075.2" y="1703.3" width="48" height="134.2" fill="#629ed7" stroke="#5a5046" stroke-width="1"/>
<rect x="1075.2" y="1695.3" width="48" height="8" fill="#e58344" stroke="#5a5046" stroke-width="1"/>
<rect x="1075.2" y="1656.7" width="48" height="38.7" fill="#ecbc32" stroke="#5a5046" stroke-width="1"/>
<rect x="1075.2" y="1615.4" width="48" height="41.2" fill="#b2ceea" stroke="#5a5046" stroke-width="1"/>
<rect x="1075.2" y="1538.8" width="48" height="76.7" fill="#f6bc96" stroke="#5a5046" stroke-width="1"/>
<rect x="1075.2" y="1518" width="48" height="20.8" fill="#fce6a0" stroke="#5a5046" stroke-width="1"/>
<rect x="1135.2" y="1673.3" width="48" height="164.2" fill="#629ed7" stroke="#5a5046" stroke-width="1"/>
<rect x="1135.2" y="1661.8" width="48" height="11.5" fill="#e58344" stroke="#5a5046" stroke-width="1"/>
<rect x="1135.2" y="1641.3" width="48" height="20.4" fill="#ecbc32" stroke="#5a5046" stroke-width="1"/>
<rect x="1135.2" y="1577.7" width="48" height="63.6" fill="#b2ceea" stroke="#5a5046" stroke-width="1"/>
<rect x="1135.2" y="1530.5" width="48" height="47.3" fill="#f6bc96" stroke="#5a5046" stroke-width="1"/>
<rect x="1135.2" y="1518" width="48" height="12.5" fill="#fce6a0" stroke="#5a5046" stroke-width="1"/>
<rect x="1195.2" y="1750" width="48" height="87.5" fill="#629ed7" stroke="#5a5046" stroke-width="1"/>
<rect x="1195.2" y="1733.3" width="48" height="16.6" fill="#e58344" stroke="#5a5046" stroke-width="1"/>
<rect x="1195.2" y="1708.1" width="48" height="25.2" fill="#ecbc32" stroke="#5a5046" stroke-width="1"/>
<rect x="1195.2" y="1640.7" width="48" height="67.4" fill="#b2ceea" stroke="#5a5046" stroke-width="1"/>
<rect x="1195.2" y="1555.4" width="48" height="85.3" fill="#f6bc96" stroke="#5a5046" stroke-width="1"/>
<rect x="1195.2" y="1518" width="48" height="37.4" fill="#fce6a0" stroke="#5a5046" stroke-width="1"/>
<rect x="1255.3" y="1787.7" width="48" height="49.8" fill="#629ed7" stroke="#5a5046" stroke-width="1"/>
<rect x="1255.3" y="1759.5" width="48" height="28.1" fill="#e58344" stroke="#5a5046" stroke-width="1"/>
<rect x="1255.3" y="1716.4" width="48" height="43.1" fill="#ecbc32" stroke="#5a5046" stroke-width="1"/>
<rect x="1255.3" y="1656.7" width="48" height="59.7" fill="#b2ceea" stroke="#5a5046" stroke-width="1"/>
<rect x="1255.3" y="1585.4" width="48" height="71.2" fill="#f6bc96" stroke="#5a5046" stroke-width="1"/>
<rect x="1255.3" y="1518" width="48" height="67.4" fill="#fce6a0" stroke="#5a5046" stroke-width="1"/>
<rect x="1315.3" y="1751.9" width="48" height="85.6" fill="#629ed7" stroke="#5a5046" stroke-width="1"/>
<rect x="1315.3" y="1673" width="48" height="78.9" fill="#e58344" stroke="#5a5046" stroke-width="1"/>
<rect x="1315.3" y="1638.8" width="48" height="34.2" fill="#ecbc32" stroke="#5a5046" stroke-width="1"/>
<rect x="1315.3" y="1561.8" width="48" height="77" fill="#b2ceea" stroke="#5a5046" stroke-width="1"/>
<rect x="1315.3" y="1530.1" width="48" height="31.6" fill="#f6bc96" stroke="#5a5046" stroke-width="1"/>
<rect x="1315.3" y="1518" width="48" height="12.1" fill="#fce6a0" stroke="#5a5046" stroke-width="1"/>
<rect x="1375.3" y="1757.6" width="48" height="79.9" fill="#629ed7" stroke="#5a5046" stroke-width="1"/>
<rect x="1375.3" y="1725.4" width="48" height="32.3" fill="#e58344" stroke="#5a5046" stroke-width="1"/>
<rect x="1375.3" y="1691.5" width="48" height="33.9" fill="#ecbc32" stroke="#5a5046" stroke-width="1"/>
<rect x="1375.3" y="1634.6" width="48" height="56.9" fill="#b2ceea" stroke="#5a5046" stroke-width="1"/>
<rect x="1375.3" y="1556" width="48" height="78.6" fill="#f6bc96" stroke="#5a5046" stroke-width="1"/>
<rect x="1375.3" y="1518" width="48" height="38" fill="#fce6a0" stroke="#5a5046" stroke-width="1"/>
<text x="1099.2" y="1770.4" text-anchor="middle" font-size="12.5" dy="0.35em" fill="#2a2418" letter-spacing="-0.6">42%</text>
<text x="1099.2" y="1676" text-anchor="middle" font-size="12.5" dy="0.35em" fill="#2a2418" letter-spacing="-0.6">12%</text>
<text x="1099.2" y="1636.1" text-anchor="middle" font-size="12.5" dy="0.35em" fill="#2a2418" letter-spacing="-0.6">13%</text>
<text x="1099.2" y="1577.1" text-anchor="middle" font-size="12.5" dy="0.35em" fill="#2a2418" letter-spacing="-0.6">24%</text>
<text x="1099.2" y="1528.4" text-anchor="middle" font-size="12.5" dy="0.35em" fill="#2a2418" letter-spacing="-0.6">6%</text>
<text x="1159.2" y="1755.4" text-anchor="middle" font-size="12.5" dy="0.35em" fill="#2a2418" letter-spacing="-0.6">52%</text>
<text x="1159.2" y="1667.5" text-anchor="middle" font-size="12.5" dy="0.35em" fill="#2a2418" letter-spacing="-0.6">3%</text>
<text x="1159.2" y="1651.6" text-anchor="middle" font-size="12.5" dy="0.35em" fill="#2a2418" letter-spacing="-0.6">7%</text>
<text x="1159.2" y="1609.5" text-anchor="middle" font-size="12.5" dy="0.35em" fill="#2a2418" letter-spacing="-0.6">20%</text>
<text x="1159.2" y="1554.1" text-anchor="middle" font-size="12.5" dy="0.35em" fill="#2a2418" letter-spacing="-0.6">15%</text>
<text x="1159.2" y="1524.2" text-anchor="middle" font-size="12.5" dy="0.35em" fill="#2a2418" letter-spacing="-0.6">4%</text>
<text x="1219.2" y="1793.7" text-anchor="middle" font-size="12.5" dy="0.35em" fill="#2a2418" letter-spacing="-0.6">27%</text>
<text x="1219.2" y="1741.7" text-anchor="middle" font-size="12.5" dy="0.35em" fill="#2a2418" letter-spacing="-0.6">5%</text>
<text x="1219.2" y="1720.7" text-anchor="middle" font-size="12.5" dy="0.35em" fill="#2a2418" letter-spacing="-0.6">8%</text>
<text x="1219.2" y="1674.4" text-anchor="middle" font-size="12.5" dy="0.35em" fill="#2a2418" letter-spacing="-0.6">21%</text>
<text x="1219.2" y="1598" text-anchor="middle" font-size="12.5" dy="0.35em" fill="#2a2418" letter-spacing="-0.6">27%</text>
<text x="1219.2" y="1536.7" text-anchor="middle" font-size="12.5" dy="0.35em" fill="#2a2418" letter-spacing="-0.6">11%</text>
<text x="1279.3" y="1812.6" text-anchor="middle" font-size="12.5" dy="0.35em" fill="#2a2418" letter-spacing="-0.6">16%</text>
<text x="1279.3" y="1773.6" text-anchor="middle" font-size="12.5" dy="0.35em" fill="#2a2418" letter-spacing="-0.6">9%</text>
<text x="1279.3" y="1738" text-anchor="middle" font-size="12.5" dy="0.35em" fill="#2a2418" letter-spacing="-0.6">13%</text>
<text x="1279.3" y="1686.5" text-anchor="middle" font-size="12.5" dy="0.35em" fill="#2a2418" letter-spacing="-0.6">19%</text>
<text x="1279.3" y="1621" text-anchor="middle" font-size="12.5" dy="0.35em" fill="#2a2418" letter-spacing="-0.6">22%</text>
<text x="1279.3" y="1551.7" text-anchor="middle" font-size="12.5" dy="0.35em" fill="#2a2418" letter-spacing="-0.6">21%</text>
<text x="1339.3" y="1794.7" text-anchor="middle" font-size="12.5" dy="0.35em" fill="#2a2418" letter-spacing="-0.6">27%</text>
<text x="1339.3" y="1712.4" text-anchor="middle" font-size="12.5" dy="0.35em" fill="#2a2418" letter-spacing="-0.6">25%</text>
<text x="1339.3" y="1655.9" text-anchor="middle" font-size="12.5" dy="0.35em" fill="#2a2418" letter-spacing="-0.6">11%</text>
<text x="1339.3" y="1600.3" text-anchor="middle" font-size="12.5" dy="0.35em" fill="#2a2418" letter-spacing="-0.6">24%</text>
<text x="1339.3" y="1546" text-anchor="middle" font-size="12.5" dy="0.35em" fill="#2a2418" letter-spacing="-0.6">10%</text>
<text x="1339.3" y="1524.1" text-anchor="middle" font-size="12.5" dy="0.35em" fill="#2a2418" letter-spacing="-0.6">4%</text>
<text x="1399.3" y="1797.6" text-anchor="middle" font-size="12.5" dy="0.35em" fill="#2a2418" letter-spacing="-0.6">25%</text>
<text x="1399.3" y="1741.5" text-anchor="middle" font-size="12.5" dy="0.35em" fill="#2a2418" letter-spacing="-0.6">10%</text>
<text x="1399.3" y="1708.4" text-anchor="middle" font-size="12.5" dy="0.35em" fill="#2a2418" letter-spacing="-0.6">11%</text>
<text x="1399.3" y="1663.1" text-anchor="middle" font-size="12.5" dy="0.35em" fill="#2a2418" letter-spacing="-0.6">18%</text>
<text x="1399.3" y="1595.3" text-anchor="middle" font-size="12.5" dy="0.35em" fill="#2a2418" letter-spacing="-0.6">25%</text>
<text x="1399.3" y="1537" text-anchor="middle" font-size="12.5" dy="0.35em" fill="#2a2418" letter-spacing="-0.6">12%</text>
<path d="M1099.2 1837.5v6M1159.2 1837.5v6M1219.2 1837.5v6M1279.3 1837.5v6M1339.3 1837.5v6M1399.3 1837.5v6" stroke="#333" stroke-width="2"/>
<text x="1113.2" y="1857.5" text-anchor="end" font-size="19.3" transform="rotate(-30 1113.2 1857.5)">MYR-water</text>
<text x="1173.2" y="1857.5" text-anchor="end" font-size="19.3" transform="rotate(-30 1173.2 1857.5)">DTL-water</text>
<text x="1233.2" y="1857.5" text-anchor="end" font-size="19.3" transform="rotate(-30 1233.2 1857.5)">PYL-water</text>
<text x="1293.3" y="1857.5" text-anchor="end" font-size="19.3" transform="rotate(-30 1293.3 1857.5)">MYR-sediment</text>
<text x="1353.3" y="1857.5" text-anchor="end" font-size="19.3" transform="rotate(-30 1353.3 1857.5)">DTL-sediment</text>
<text x="1413.3" y="1857.5" text-anchor="end" font-size="19.3" transform="rotate(-30 1413.3 1857.5)">PYL-sediment</text>
<text x="1054" y="1505" font-size="35.5">high-water period</text>
<text x="0" y="0" font-size="23.5" text-anchor="middle" transform="translate(1003 1678) rotate(-90)">Proportion of edges</text>
<rect x="1478.5" y="1518" width="396.5" height="319.5" fill="none" stroke="#333" stroke-width="2"/>
<path d="M1472.5 1837.5h6M1475 1805.5h3.5M1472.5 1773.6h6M1475 1741.7h3.5M1472.5 1709.7h6M1475 1677.8h3.5M1472.5 1645.8h6M1475 1613.8h3.5M1472.5 1581.9h6M1475 1550h3.5M1472.5 1518h6" stroke="#333" stroke-width="2" fill="none"/>
<rect x="1502" y="1677.1" width="48" height="160.4" fill="#629ed7" stroke="#5a5046" stroke-width="1"/>
<rect x="1502" y="1660.8" width="48" height="16.3" fill="#e58344" stroke="#5a5046" stroke-width="1"/>
<rect x="1502" y="1641.6" width="48" height="19.2" fill="#ecbc32" stroke="#5a5046" stroke-width="1"/>
<rect x="1502" y="1587.7" width="48" height="54" fill="#b2ceea" stroke="#5a5046" stroke-width="1"/>
<rect x="1502" y="1535.3" width="48" height="52.4" fill="#f6bc96" stroke="#5a5046" stroke-width="1"/>
<rect x="1502" y="1518" width="48" height="17.3" fill="#fce6a0" stroke="#5a5046" stroke-width="1"/>
<rect x="1562" y="1582.2" width="48" height="255.3" fill="#629ed7" stroke="#5a5046" stroke-width="1"/>
<rect x="1562" y="1574.2" width="48" height="8" fill="#e58344" stroke="#5a5046" stroke-width="1"/>
<rect x="1562" y="1570.7" width="48" height="3.5" fill="#ecbc32" stroke="#5a5046" stroke-width="1"/>
<rect x="1562" y="1531.7" width="48" height="39" fill="#b2ceea" stroke="#5a5046" stroke-width="1"/>
<rect x="1562" y="1522.8" width="48" height="8.9" fill="#f6bc96" stroke="#5a5046" stroke-width="1"/>
<rect x="1562" y="1518" width="48" height="4.8" fill="#fce6a0" stroke="#5a5046" stroke-width="1"/>
<rect x="1622.1" y="1737.5" width="48" height="100" fill="#629ed7" stroke="#5a5046" stroke-width="1"/>
<rect x="1622.1" y="1725" width="48" height="12.5" fill="#e58344" stroke="#5a5046" stroke-width="1"/>
<rect x="1622.1" y="1696.6" width="48" height="28.4" fill="#ecbc32" stroke="#5a5046" stroke-width="1"/>
<rect x="1622.1" y="1643.9" width="48" height="52.7" fill="#b2ceea" stroke="#5a5046" stroke-width="1"/>
<rect x="1622.1" y="1553.1" width="48" height="90.7" fill="#f6bc96" stroke="#5a5046" stroke-width="1"/>
<rect x="1622.1" y="1518" width="48" height="35.1" fill="#fce6a0" stroke="#5a5046" stroke-width="1"/>
<rect x="1682.2" y="1728.6" width="48" height="108.9" fill="#629ed7" stroke="#5a5046" stroke-width="1"/>
<rect x="1682.2" y="1689.6" width="48" height="39" fill="#e58344" stroke="#5a5046" stroke-width="1"/>
<rect x="1682.2" y="1654.7" width="48" height="34.8" fill="#ecbc32" stroke="#5a5046" stroke-width="1"/>
<rect x="1682.2" y="1620.6" width="48" height="34.2" fill="#b2ceea" stroke="#5a5046" stroke-width="1"/>
<rect x="1682.2" y="1528.2" width="48" height="92.3" fill="#f6bc96" stroke="#5a5046" stroke-width="1"/>
<rect x="1682.2" y="1518" width="48" height="10.2" fill="#fce6a0" stroke="#5a5046" stroke-width="1"/>
<rect x="1742.2" y="1775.8" width="48" height="61.7" fill="#629ed7" stroke="#5a5046" stroke-width="1"/>
<rect x="1742.2" y="1611" width="48" height="164.9" fill="#e58344" stroke="#5a5046" stroke-width="1"/>
<rect x="1742.2" y="1602.3" width="48" height="8.6" fill="#ecbc32" stroke="#5a5046" stroke-width="1"/>
<rect x="1742.2" y="1543.2" width="48" height="59.1" fill="#b2ceea" stroke="#5a5046" stroke-width="1"/>
<rect x="1742.2" y="1525.7" width="48" height="17.6" fill="#f6bc96" stroke="#5a5046" stroke-width="1"/>
<rect x="1742.2" y="1518" width="48" height="7.7" fill="#fce6a0" stroke="#5a5046" stroke-width="1"/>
<rect x="1802.2" y="1781.3" width="48" height="56.2" fill="#629ed7" stroke="#5a5046" stroke-width="1"/>
<rect x="1802.2" y="1711.6" width="48" height="69.7" fill="#e58344" stroke="#5a5046" stroke-width="1"/>
<rect x="1802.2" y="1672.6" width="48" height="39" fill="#ecbc32" stroke="#5a5046" stroke-width="1"/>
<rect x="1802.2" y="1626" width="48" height="46.6" fill="#b2ceea" stroke="#5a5046" stroke-width="1"/>
<rect x="1802.2" y="1561.1" width="48" height="64.9" fill="#f6bc96" stroke="#5a5046" stroke-width="1"/>
<rect x="1802.2" y="1518" width="48" height="43.1" fill="#fce6a0" stroke="#5a5046" stroke-width="1"/>
<text x="1526" y="1757.3" text-anchor="middle" font-size="12.5" dy="0.35em" fill="#2a2418" letter-spacing="-0.6">50%</text>
<text x="1526" y="1669" text-anchor="middle" font-size="12.5" dy="0.35em" fill="#2a2418" letter-spacing="-0.6">5%</text>
<text x="1526" y="1651.2" text-anchor="middle" font-size="12.5" dy="0.35em" fill="#2a2418" letter-spacing="-0.6">6%</text>
<text x="1526" y="1614.6" text-anchor="middle" font-size="12.5" dy="0.35em" fill="#2a2418" letter-spacing="-0.6">17%</text>
<text x="1526" y="1561.5" text-anchor="middle" font-size="12.5" dy="0.35em" fill="#2a2418" letter-spacing="-0.6">16%</text>
<text x="1526" y="1526.6" text-anchor="middle" font-size="12.5" dy="0.35em" fill="#2a2418" letter-spacing="-0.6">6%</text>
<text x="1586" y="1709.9" text-anchor="middle" font-size="12.5" dy="0.35em" fill="#2a2418" letter-spacing="-0.6">80%</text>
<text x="1586" y="1551.2" text-anchor="middle" font-size="12.5" dy="0.35em" fill="#2a2418" letter-spacing="-0.6">12%</text>
<text x="1646.1" y="1787.5" text-anchor="middle" font-size="12.5" dy="0.35em" fill="#2a2418" letter-spacing="-0.6">32%</text>
<text x="1646.1" y="1731.3" text-anchor="middle" font-size="12.5" dy="0.35em" fill="#2a2418" letter-spacing="-0.6">4%</text>
<text x="1646.1" y="1710.8" text-anchor="middle" font-size="12.5" dy="0.35em" fill="#2a2418" letter-spacing="-0.6">9%</text>
<text x="1646.1" y="1670.2" text-anchor="middle" font-size="12.5" dy="0.35em" fill="#2a2418" letter-spacing="-0.6">17%</text>
<text x="1646.1" y="1598.5" text-anchor="middle" font-size="12.5" dy="0.35em" fill="#2a2418" letter-spacing="-0.6">28%</text>
<text x="1646.1" y="1535.6" text-anchor="middle" font-size="12.5" dy="0.35em" fill="#2a2418" letter-spacing="-0.6">11%</text>
<text x="1706.2" y="1783" text-anchor="middle" font-size="12.5" dy="0.35em" fill="#2a2418" letter-spacing="-0.6">34%</text>
<text x="1706.2" y="1709.1" text-anchor="middle" font-size="12.5" dy="0.35em" fill="#2a2418" letter-spacing="-0.6">12%</text>
<text x="1706.2" y="1672.2" text-anchor="middle" font-size="12.5" dy="0.35em" fill="#2a2418" letter-spacing="-0.6">11%</text>
<text x="1706.2" y="1637.7" text-anchor="middle" font-size="12.5" dy="0.35em" fill="#2a2418" letter-spacing="-0.6">11%</text>
<text x="1706.2" y="1574.4" text-anchor="middle" font-size="12.5" dy="0.35em" fill="#2a2418" letter-spacing="-0.6">29%</text>
<text x="1706.2" y="1523.1" text-anchor="middle" font-size="12.5" dy="0.35em" fill="#2a2418" letter-spacing="-0.6">3%</text>
<text x="1766.2" y="1806.7" text-anchor="middle" font-size="12.5" dy="0.35em" fill="#2a2418" letter-spacing="-0.6">19%</text>
<text x="1766.2" y="1693.4" text-anchor="middle" font-size="12.5" dy="0.35em" fill="#2a2418" letter-spacing="-0.6">52%</text>
<text x="1766.2" y="1572.8" text-anchor="middle" font-size="12.5" dy="0.35em" fill="#2a2418" letter-spacing="-0.6">19%</text>
<text x="1766.2" y="1534.5" text-anchor="middle" font-size="12.5" dy="0.35em" fill="#2a2418" letter-spacing="-0.6">5%</text>
<text x="1826.2" y="1809.4" text-anchor="middle" font-size="12.5" dy="0.35em" fill="#2a2418" letter-spacing="-0.6">18%</text>
<text x="1826.2" y="1746.4" text-anchor="middle" font-size="12.5" dy="0.35em" fill="#2a2418" letter-spacing="-0.6">22%</text>
<text x="1826.2" y="1692.1" text-anchor="middle" font-size="12.5" dy="0.35em" fill="#2a2418" letter-spacing="-0.6">12%</text>
<text x="1826.2" y="1649.3" text-anchor="middle" font-size="12.5" dy="0.35em" fill="#2a2418" letter-spacing="-0.6">15%</text>
<text x="1826.2" y="1593.6" text-anchor="middle" font-size="12.5" dy="0.35em" fill="#2a2418" letter-spacing="-0.6">20%</text>
<text x="1826.2" y="1539.6" text-anchor="middle" font-size="12.5" dy="0.35em" fill="#2a2418" letter-spacing="-0.6">14%</text>
<path d="M1526 1837.5v6M1586 1837.5v6M1646.1 1837.5v6M1706.2 1837.5v6M1766.2 1837.5v6M1826.2 1837.5v6" stroke="#333" stroke-width="2"/>
<text x="1540" y="1857.5" text-anchor="end" font-size="19.3" transform="rotate(-30 1540 1857.5)">MYR-water</text>
<text x="1600" y="1857.5" text-anchor="end" font-size="19.3" transform="rotate(-30 1600 1857.5)">DTL-water</text>
<text x="1660.1" y="1857.5" text-anchor="end" font-size="19.3" transform="rotate(-30 1660.1 1857.5)">PYL-water</text>
<text x="1720.2" y="1857.5" text-anchor="end" font-size="19.3" transform="rotate(-30 1720.2 1857.5)">MYR-sediment</text>
<text x="1780.2" y="1857.5" text-anchor="end" font-size="19.3" transform="rotate(-30 1780.2 1857.5)">DTL-sediment</text>
<text x="1840.2" y="1857.5" text-anchor="end" font-size="19.3" transform="rotate(-30 1840.2 1857.5)">PYL-sediment</text>
<text x="1482" y="1505" font-size="35.5">low-water period</text>
<text x="970" y="1475" font-size="55">(d)</text>
<rect x="1226.5" y="1925.5" width="36" height="17" fill="#629ed7" stroke="#000" stroke-opacity="0.35" stroke-width="1"/>
<text x="1267.5" y="1939" font-size="16">B-B</text>
<rect x="1312" y="1925.5" width="36" height="17" fill="#e58344" stroke="#000" stroke-opacity="0.35" stroke-width="1"/>
<text x="1353" y="1939" font-size="16">F-F</text>
<rect x="1394" y="1925.5" width="36" height="17" fill="#ecbc32" stroke="#000" stroke-opacity="0.35" stroke-width="1"/>
<text x="1435" y="1939" font-size="16">A-A</text>
<rect x="1485.6" y="1925.5" width="36" height="17" fill="#b2ceea" stroke="#000" stroke-opacity="0.35" stroke-width="1"/>
<text x="1526.6" y="1939" font-size="16">B-F</text>
<rect x="1569.5" y="1925.5" width="36" height="17" fill="#f6bc96" stroke="#000" stroke-opacity="0.35" stroke-width="1"/>
<text x="1610.5" y="1939" font-size="16">B-A</text>
<rect x="1655.5" y="1925.5" width="36" height="17" fill="#fce6a0" stroke="#000" stroke-opacity="0.35" stroke-width="1"/>
<text x="1696.5" y="1939" font-size="16">F-A</text>
</g>
</svg>
</body></html>
